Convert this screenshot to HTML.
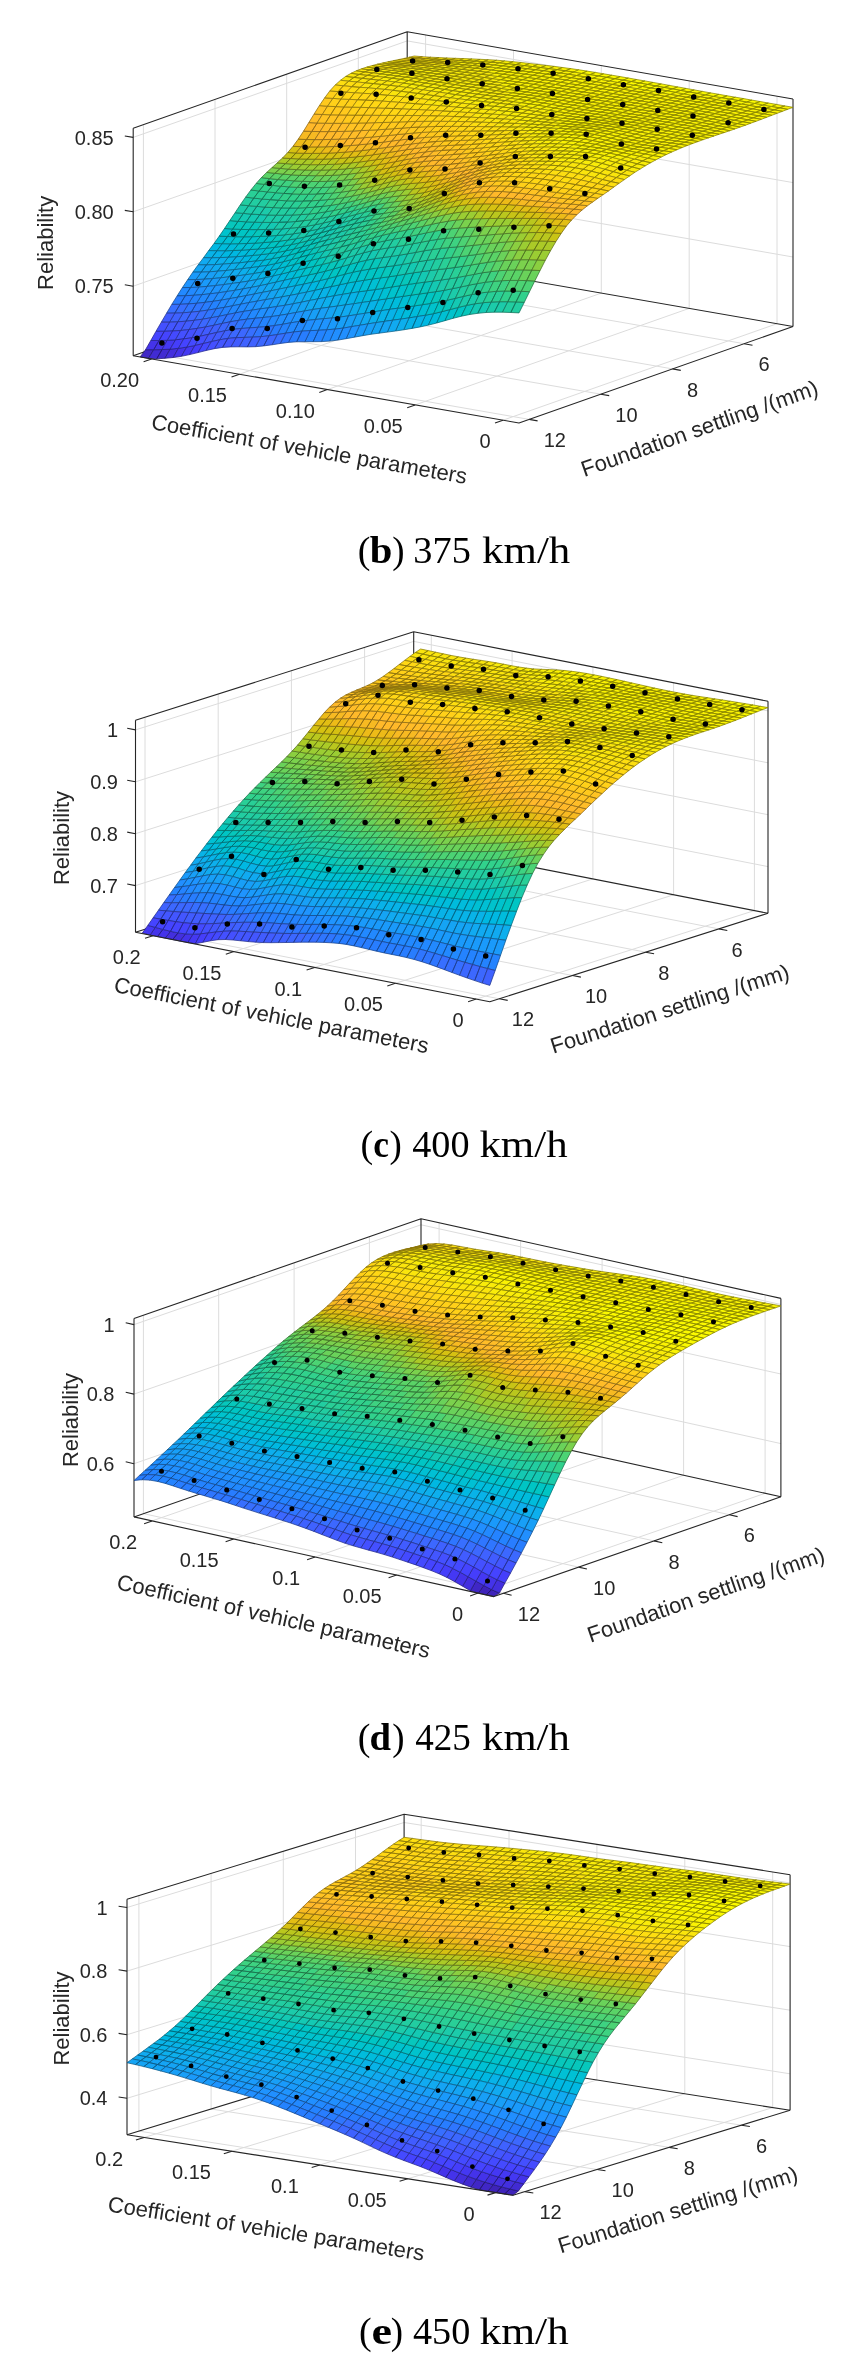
<!DOCTYPE html>
<html><head><meta charset="utf-8"><style>html,body{margin:0;padding:0;background:#fff;}svg{display:block;filter:blur(0.45px);}</style></head>
<body><svg width="848" height="2379" viewBox="0 0 848 2379" font-family="Liberation Sans, sans-serif" fill="#262626" stroke-linejoin="round">
<rect width="848" height="2379" fill="#fff"/>
<g><path d="M151.6 358.9L425.6 262.4L425.6 34.9M239.5 374.2L513.5 277.7L513.5 50.2M327.3 389.6L601.3 293.1L601.3 65.6M415.2 404.9L689.2 308.4L689.2 80.9M503 420.2L777 323.7L777 96.2M529.2 419.4L143.4 352.1L143.4 124.6M600.8 394.2L215 326.9L215 99.4M672.5 368.9L286.7 301.6L286.7 74.1M744.1 343.7L358.3 276.4L358.3 48.9M133.2 286.2L407.2 189.7L793 257M133.2 211.8L407.2 115.3L793 182.6M133.2 137.4L407.2 40.9L793 108.2" stroke="#dcdcdc" stroke-width="1" fill="none"/><path d="M133.2 355.7L133.2 128.2M407.2 259.2L407.2 31.7M793 326.5L793 99M133.2 128.2L407.2 31.7L793 99M133.2 355.7L407.2 259.2L793 326.5" stroke="#262626" stroke-width="1.1" fill="none"/><g stroke-width="0.75"><path fill="#00b8e2" stroke="#00657c" d="M428.4 325.1l-8.2 1.8 5.3-11.7 8.2-1.6zM400.8 319.1l-8.3 1.1 5.3-12 8.2-1.1zM381.3 310.7l-8.2 1.2 5.3-11.9 8.2-1.2zM361.9 302.5l-8.2 1.3 5.2-12 8.3-1.2zM342.5 294.4l-8.3 1.4 5.3-11 8.2-1.8zM334.2 295.8l-8.2 1.5 5.3-10.7 8.2-1.8zM314.8 290.4l-8.2 1.7 5.2-9.7 8.3-1.9zM295.4 285.8l-8.3 1.7 5.3-9 8.2-1.8zM284.2 280.3l-8.3 1.9 5.3-8.1 8.2-2.1zM273 276.1l-8.3 1.8 5.3-7.4 8.2-1.9zM270 270.5l-8.2 1.7 5.2-6.9 8.3-1.7zM258.8 266.6l-8.2 1.1 5.2-6.7 8.3-1zM247.6 261.9l-8.2.9 5.2-6.7 8.3-.7zM236.4 256.8l-8.2.5 5.2-6.8 8.3-.4zM228.2 257.3l-8.3.3 5.3-6.8 8.2-.3zM217 250.8l-8.3-.2 5.3-7.1 8.2.2z"/><path fill="#00bcdc" stroke="#006779" d="M436.7 323l-8.3 2.1 5.3-11.5 8.2-2zM417.2 316.6l-8.2 1.3 5.3-12 8.2-1.2zM409 317.9l-8.2 1.2 5.2-12 8.3-1.2zM397.8 308.2l-8.2 1.2 5.2-11.9 8.3-1.2zM389.6 309.4l-8.3 1.3 5.3-11.9 8.2-1.3zM378.4 300l-8.3 1.3 5.3-11.8 8.2-1.2zM370.1 301.3l-8.2 1.2 5.3-11.9 8.2-1.1zM358.9 291.8l-8.2 1.2 5.3-11.5 8.2-1.3zM350.7 293l-8.2 1.4 5.2-11.4 8.3-1.5zM323 288.5l-8.2 1.9 5.3-9.9 8.2-2zM303.6 284.2l-8.2 1.6 5.2-9.1 8.3-1.8zM292.4 278.5l-8.2 1.8 5.2-8.3 8.3-2zM281.2 274.1l-8.2 2 5.2-7.5 8.3-2.1zM278.2 268.6l-8.2 1.9 5.3-6.9 8.2-1.9zM267 265.3l-8.2 1.3 5.3-6.6 8.2-1.3zM264.1 260l-8.3 1 5.3-6.4 8.2-1zM255.8 261l-8.2.9 5.3-6.5 8.2-.8zM252.9 255.4l-8.3.7 5.3-6.5 8.2-.6zM244.6 256.1l-8.2.7 5.3-6.7 8.2-.5zM233.4 250.5l-8.2.3 5.3-7 8.2-.1zM225.2 250.8l-8.2 0 5.2-7.1 8.3.1z"/><path fill="#00c0d4" stroke="#006974" d="M444.9 320.7l-8.2 2.3 5.2-11.4 8.3-2.1zM425.5 315.2l-8.3 1.4 5.3-11.9 8.2-1.3zM406 307.1l-8.2 1.1 5.3-11.9 8.2-1.2zM386.6 298.8l-8.2 1.2 5.2-11.7 8.3-1.3zM375.4 289.5l-8.2 1.1 5.2-11.6 8.3-1.1zM367.2 290.6l-8.3 1.2 5.3-11.6 8.2-1.2zM347.7 283l-8.2 1.8 5.3-10.6 8.2-2zM339.5 284.8l-8.2 1.8 5.2-10.2 8.3-2.2zM331.3 286.6l-8.3 1.9 5.3-10 8.2-2.1zM320.1 280.5l-8.3 1.9 5.3-9.3 8.2-1.9zM311.8 282.4l-8.2 1.8 5.3-9.3 8.2-1.8zM300.6 276.7l-8.2 1.8 5.3-8.5 8.2-1.9zM297.7 270l-8.3 2 5.3-7.7 8.2-2.1zM289.4 272l-8.2 2.1 5.3-7.6 8.2-2.2zM286.5 266.5l-8.3 2.1 5.3-6.9 8.2-2.2zM283.5 261.7l-8.2 1.9 5.2-6.5 8.3-1.9zM275.3 263.6l-8.3 1.7 5.3-6.6 8.2-1.6zM272.3 258.7l-8.2 1.3 5.2-6.4 8.3-1.2zM261.1 254.6l-8.2.8 5.2-6.4 8.3-.8zM249.9 249.6l-8.2.5 5.2-6.6 8.3-.4zM241.7 250.1l-8.3.4 5.3-6.8 8.2-.2zM230.5 243.8l-8.3-.1 5.3-7.2 8.2.2zM222.2 243.7l-8.2-.2 5.3-7.4 8.2.4z"/><path fill="#00c3cd" stroke="#006b70" d="M453.1 318.3l-8.2 2.4 5.3-11.2 8.2-2.1zM433.7 313.6l-8.2 1.6 5.2-11.8 8.3-1.5zM414.3 305.9l-8.3 1.2 5.3-12 8.2-1.1zM403.1 296.3l-8.3 1.2 5.3-11.8 8.2-1.3zM394.8 297.5l-8.2 1.3 5.3-11.8 8.2-1.3zM383.6 288.3l-8.2 1.2 5.3-11.6 8.2-1.1zM364.2 280.2l-8.2 1.3 5.2-11 8.3-1.4zM356 281.5l-8.3 1.5 5.3-10.8 8.2-1.7zM328.3 278.5l-8.2 2 5.2-9.3 8.3-2.2zM308.9 274.9l-8.3 1.8 5.3-8.6 8.2-1.8zM305.9 268.1l-8.2 1.9 5.2-7.8 8.3-2zM294.7 264.3l-8.2 2.2 5.2-7 8.3-2.2zM291.7 259.5l-8.2 2.2 5.3-6.5 8.2-2.2zM288.8 255.2l-8.3 1.9 5.3-6.3 8.2-1.8zM280.5 257.1l-8.2 1.6 5.3-6.3 8.2-1.6zM277.6 252.4l-8.3 1.2 5.3-6.3 8.2-1.1zM269.3 253.6l-8.2 1 5.3-6.4 8.2-.9zM266.4 248.2l-8.3.8 5.3-6.4 8.2-.7zM258.1 249l-8.2.6 5.3-6.5 8.2-.5zM255.2 243.1l-8.3.4 5.3-6.8 8.2-.3zM246.9 243.5l-8.2.2 5.3-6.9 8.2-.1zM238.7 243.7l-8.2.1 5.2-7.1 8.3.1zM227.5 236.5l-8.2-.4 5.2-7.6 8.3.5z"/><path fill="#00c5c4" stroke="#006c6b" d="M461.4 316.2l-8.3 2.1 5.3-10.9 8.2-2zM441.9 311.6l-8.2 2 5.3-11.7 8.2-1.7zM430.7 303.4l-8.2 1.3 5.3-11.9 8.2-1.2zM422.5 304.7l-8.2 1.2 5.2-11.9 8.3-1.2zM411.3 295.1l-8.2 1.2 5.2-11.9 8.3-1.2zM400.1 285.7l-8.2 1.3 5.2-11.5 8.3-1.4zM391.9 287l-8.3 1.3 5.3-11.5 8.2-1.3zM380.7 277.9l-8.3 1.1 5.3-11.1 8.2-1.1zM372.4 279l-8.2 1.2 5.3-11.1 8.2-1.2zM361.2 270.5l-8.2 1.7 5.3-10.1 8.2-1.9zM353 272.2l-8.2 2 5.2-9.9 8.3-2.2zM344.8 274.2l-8.3 2.2 5.3-9.8 8.2-2.3zM336.5 276.4l-8.2 2.1 5.3-9.5 8.2-2.4zM325.3 271.2l-8.2 1.9 5.3-8.7 8.2-2zM317.1 273.1l-8.2 1.8 5.2-8.6 8.3-1.9zM314.1 266.3l-8.2 1.8 5.3-7.9 8.2-1.9zM311.2 260.2l-8.3 2 5.3-7.2 8.2-2.1zM302.9 262.2l-8.2 2.1 5.3-7 8.2-2.3zM308.2 255l-8.2 2.3 5.2-6.6 8.3-2.3zM300 257.3l-8.3 2.2 5.3-6.5 8.2-2.3zM305.2 250.7l-8.2 2.3 5.3-6.2 8.2-2.3zM297 253l-8.2 2.2 5.2-6.2 8.3-2.2zM294 249l-8.2 1.8 5.3-6.1 8.2-1.8zM285.8 250.8l-8.2 1.6 5.2-6.2 8.3-1.5zM282.8 246.2l-8.2 1.1 5.3-6.2 8.2-1.1zM274.6 247.3l-8.2.9 5.2-6.3 8.3-.8zM271.6 241.9l-8.2.7 5.3-6.6 8.2-.5zM263.4 242.6l-8.2.5 5.2-6.7 8.3-.4zM252.2 236.7l-8.2.1 5.2-7.2 8.3 0zM244 236.8l-8.3-.1 5.3-7.3 8.2.2zM235.7 236.7l-8.2-.2 5.3-7.5 8.2.4z"/><path fill="#07c7bc" stroke="#036d67" d="M469.6 314.5l-8.2 1.7 5.2-10.8 8.3-1.6zM450.2 309.5l-8.3 2.1 5.3-11.4 8.2-1.9zM439 301.9l-8.3 1.5 5.3-11.8 8.2-1.3zM427.8 292.8l-8.3 1.2 5.3-11.9 8.2-1zM419.5 294l-8.2 1.1 5.3-11.9 8.2-1.1zM416.6 283.2l-8.3 1.2 5.3-11.6 8.2-1.2zM408.3 284.4l-8.2 1.3 5.3-11.6 8.2-1.3zM397.1 275.5l-8.2 1.3 5.3-11.1 8.2-1.3zM388.9 276.8l-8.2 1.1 5.2-11.1 8.3-1.1zM377.7 267.9l-8.2 1.2 5.2-10.4 8.3-1.2zM369.5 269.1l-8.3 1.4 5.3-10.3 8.2-1.5zM341.8 266.6l-8.2 2.4 5.2-8.9 8.3-2.4zM333.6 269l-8.3 2.2 5.3-8.8 8.2-2.3zM322.4 264.4l-8.3 1.9 5.3-8 8.2-2zM319.4 258.3l-8.2 1.9 5.2-7.3 8.3-2zM316.4 252.9l-8.2 2.1 5.3-6.6 8.2-2.2zM313.5 248.4l-8.3 2.3 5.3-6.2 8.2-2.3zM318.7 242.2l-8.2 2.3 5.3-5.9 8.2-2.3zM310.5 244.5l-8.2 2.3 5.2-6 8.3-2.2zM302.3 246.8l-8.3 2.2 5.3-6.1 8.2-2.1zM299.3 242.9l-8.2 1.8 5.2-6 8.3-1.7zM291.1 244.7l-8.3 1.5 5.3-6.2 8.2-1.3zM279.9 241.1l-8.3.8 5.3-6.4 8.2-.7zM268.7 236l-8.3.4 5.3-6.9 8.2-.2zM260.4 236.4l-8.2.3 5.3-7.1 8.2-.1zM257.5 229.6l-8.3 0 5.3-7.4 8.2.2zM249.2 229.6l-8.2-.2 5.3-7.6 8.2.4zM241 229.4l-8.2-.4 5.2-7.7 8.3.5zM232.8 229l-8.3-.5 5.3-7.9 8.2.7z"/><path fill="#08b3e8" stroke="#04627f" d="M420.2 326.9l-8.2 1.5 5.2-11.8 8.3-1.4zM412 328.4l-8.3 1.4 5.3-11.9 8.2-1.3zM392.5 320.2l-8.2 1.2 5.3-12 8.2-1.2zM384.3 321.4l-8.2 1.2 5.2-11.9 8.3-1.3zM373.1 311.9l-8.2 1.4 5.2-12 8.3-1.3zM364.9 313.3l-8.3 1.3 5.3-12.1 8.2-1.2zM353.7 303.8l-8.3 1.1 5.3-11.9 8.2-1.2zM345.4 304.9l-8.2 1.2 5.3-11.7 8.2-1.4zM326 297.3l-8.2 1.6 5.2-10.4 8.3-1.9zM317.8 298.9l-8.3 1.6 5.3-10.1 8.2-1.9zM306.6 292.1l-8.3 1.7 5.3-9.6 8.2-1.8zM298.3 293.8l-8.2 1.6 5.3-9.6 8.2-1.6zM287.1 287.5l-8.2 1.6 5.3-8.8 8.2-1.8zM275.9 282.2l-8.2 1.8 5.3-7.9 8.2-2zM264.7 277.9l-8.2 1.7 5.3-7.4 8.2-1.7zM261.8 272.2l-8.3 1.4 5.3-7 8.2-1.3zM253.5 273.6l-8.2 1.2 5.3-7.1 8.2-1.1zM250.6 267.7l-8.3 1 5.3-6.8 8.2-.9zM242.3 268.7l-8.2 1 5.3-6.9 8.2-.9zM239.4 262.8l-8.3.7 5.3-6.7 8.2-.7zM231.1 263.5l-8.2.6 5.3-6.8 8.2-.5zM219.9 257.6l-8.2.2 5.3-7 8.2 0zM211.7 257.8l-8.2-.1 5.2-7.1 8.3.2z"/><path fill="#0dafed" stroke="#076082" d="M403.7 329.8l-8.2 1.2 5.3-11.9 8.2-1.2zM376.1 322.6l-8.3 1.3 5.3-12 8.2-1.2zM356.6 314.6l-8.2 1.3 5.3-12.1 8.2-1.3zM337.2 306.1l-8.2 1.1 5.2-11.4 8.3-1.4zM329 307.2l-8.3 1.1 5.3-11 8.2-1.5zM309.5 300.5l-8.2 1.7 5.3-10.1 8.2-1.7zM290.1 295.4l-8.2 1.5 5.2-9.4 8.3-1.7zM278.9 289.1l-8.2 1.7 5.2-8.6 8.3-1.9zM267.7 284l-8.2 1.8 5.2-7.9 8.3-1.8zM256.5 279.6l-8.2 1.5 5.2-7.5 8.3-1.4zM245.3 274.8l-8.2 1.1 5.2-7.2 8.3-1zM234.1 269.7l-8.2.8 5.2-7 8.3-.7zM222.9 264.1l-8.2.5 5.2-7 8.3-.3zM214.7 264.6l-8.3.3 5.3-7.1 8.2-.2z"/><path fill="#11aaf1" stroke="#095d84" d="M395.5 331l-8.2 1.1 5.2-11.9 8.3-1.1zM367.8 323.9l-8.2 1.4 5.3-12 8.2-1.4zM348.4 315.9l-8.2 1.1 5.2-12.1 8.3-1.1zM340.2 317l-8.3 1 5.3-11.9 8.2-1.2zM320.7 308.3l-8.2 1.3 5.3-10.7 8.2-1.6zM312.5 309.6l-8.2 1.4 5.2-10.5 8.3-1.6zM301.3 302.2l-8.2 1.6 5.2-10 8.3-1.7zM281.9 296.9l-8.3 1.4 5.3-9.2 8.2-1.6zM270.7 290.8l-8.3 1.6 5.3-8.4 8.2-1.8zM259.5 285.8l-8.3 1.6 5.3-7.8 8.2-1.7zM248.3 281.1l-8.3 1.3 5.3-7.6 8.2-1.2zM237.1 275.9l-8.3 1 5.3-7.2 8.2-1zM228.8 276.9l-8.2.9 5.3-7.3 8.2-.8zM225.9 270.5l-8.3.7 5.3-7.1 8.2-.6zM217.6 271.2l-8.2.6 5.3-7.2 8.2-.5zM206.4 264.9l-8.2-.1 5.3-7.1 8.2.1z"/><path fill="#14c9b3" stroke="#0b6e62" d="M486.1 312.5l-8.3.8 5.3-10.6 8.2-.7zM477.8 313.3l-8.2 1.2 5.3-10.7 8.2-1.1zM458.4 307.4l-8.2 2.1 5.2-11.2 8.3-2zM447.2 300.2l-8.2 1.7 5.2-11.6 8.3-1.6zM436 291.6l-8.2 1.2 5.2-11.7 8.3-1.1zM424.8 282.1l-8.2 1.1 5.2-11.6 8.3-1.1zM413.6 272.8l-8.2 1.3 5.2-11.1 8.3-1.4zM405.4 274.1l-8.3 1.4 5.3-11.1 8.2-1.4zM402.4 264.4l-8.2 1.3 5.2-10.5 8.3-1.4zM394.2 265.7l-8.3 1.1 5.3-10.4 8.2-1.2zM385.9 266.8l-8.2 1.1 5.3-10.4 8.2-1.1zM374.7 258.7l-8.2 1.5 5.3-9.4 8.2-1.6zM366.5 260.2l-8.2 1.9 5.2-9.3 8.3-2zM358.3 262.1l-8.3 2.2 5.3-9.1 8.2-2.4zM350 264.3l-8.2 2.3 5.3-8.9 8.2-2.5zM330.6 262.4l-8.2 2 5.2-8.1 8.3-2zM327.6 256.3l-8.2 2 5.3-7.4 8.2-1.9zM324.7 250.9l-8.3 2 5.3-6.7 8.2-2zM329.9 244.2l-8.2 2 5.3-6.2 8.2-2.1zM321.7 246.2l-8.2 2.2 5.2-6.2 8.3-2.2zM327 240l-8.3 2.2 5.3-5.9 8.2-2.3zM332.2 234l-8.2 2.3 5.3-5.8 8.2-2.3zM337.5 228.2l-8.2 2.3 5.2-5.7 8.3-2.3zM324 236.3l-8.2 2.3 5.2-5.8 8.3-2.3zM329.3 230.5l-8.3 2.3 5.3-5.8 8.2-2.2zM315.8 238.6l-8.3 2.2 5.3-5.8 8.2-2.2zM321 232.8l-8.2 2.2 5.3-5.9 8.2-2.1zM307.5 240.8l-8.2 2.1 5.3-5.9 8.2-2zM312.8 235l-8.2 2 5.2-6.1 8.3-1.8zM296.3 238.7l-8.2 1.3 5.3-6.2 8.2-1.3zM288.1 240l-8.2 1.1 5.2-6.3 8.3-1zM285.1 234.8l-8.2.7 5.3-6.6 8.2-.7zM276.9 235.5l-8.2.5 5.2-6.7 8.3-.4zM273.9 229.3l-8.2.2 5.3-7.1 8.2-.1zM265.7 229.5l-8.2.1 5.2-7.2 8.3 0zM262.7 222.4l-8.2-.2 5.3-7.6 8.2.4zM254.5 222.2l-8.2-.4 5.2-7.7 8.3.5zM246.3 221.8l-8.3-.5 5.3-7.9 8.2.7zM238 221.3l-8.2-.7 5.3-7.9 8.2.7z"/><path fill="#15a4f4" stroke="#0b5a86" d="M387.3 332.1l-8.3 1.1 5.3-11.8 8.2-1.2zM379 333.2l-8.2 1.1 5.3-11.7 8.2-1.2zM359.6 325.3l-8.2 1.4 5.2-12.1 8.3-1.3zM331.9 318l-8.2.7 5.3-11.5 8.2-1.1zM304.3 311l-8.3 1.5 5.3-10.3 8.2-1.7zM293.1 303.8l-8.3 1.5 5.3-9.9 8.2-1.6zM284.8 305.3l-8.2 1.3 5.3-9.7 8.2-1.5zM273.6 298.3l-8.2 1.4 5.3-8.9 8.2-1.7zM262.4 292.4l-8.2 1.6 5.3-8.2 8.2-1.8zM251.2 287.4l-8.2 1.5 5.3-7.8 8.2-1.5zM240 282.4l-8.2 1.1 5.3-7.6 8.2-1.1zM231.8 283.5l-8.2 1.1 5.2-7.7 8.3-1zM220.6 277.8l-8.2.8 5.2-7.4 8.3-.7zM209.4 271.8l-8.2.3 5.2-7.2 8.3-.3zM201.2 272.1l-8.3 0 5.3-7.3 8.2.1z"/><path fill="#189ff7" stroke="#0d5787" d="M370.8 334.3l-8.2 1.4 5.2-11.8 8.3-1.3zM351.4 326.7l-8.3 1.4 5.3-12.2 8.2-1.3zM343.1 328.1l-8.2 1 5.3-12.1 8.2-1.1zM323.7 318.7l-8.3.8 5.3-11.2 8.3-1.1zM315.4 319.5l-8.2.9 5.3-10.8 8.2-1.3zM296 312.5l-8.2 1.5 5.3-10.2 8.2-1.6zM276.6 306.6l-8.3 1.2 5.3-9.5 8.3-1.4zM265.4 299.7l-8.3 1.4 5.3-8.7 8.3-1.6zM254.2 294l-8.2 1.7 5.2-8.3 8.3-1.6zM243 288.9l-8.2 1.4 5.2-7.9 8.3-1.3zM234.8 290.3l-8.3 1.3 5.3-8.1 8.2-1.1zM223.6 284.6l-8.3 1 5.3-7.8 8.2-.9zM212.4 278.6l-8.3.6 5.3-7.4 8.2-.6zM204.1 279.2l-8.2.4 5.3-7.5 8.2-.3z"/><path fill="#1a9afb" stroke="#0e548a" d="M362.6 335.7l-8.3 1.5 5.3-11.9 8.2-1.4zM334.9 329.1l-8.3.7 5.3-11.8 8.3-1zM307.2 320.4l-8.2 1.1 5.3-10.5 8.2-1.4zM287.8 314l-8.3 1.4 5.3-10.1 8.3-1.5zM268.3 307.8l-8.2 1.1 5.3-9.2 8.2-1.4zM257.1 301.1l-8.2 1.5 5.3-8.6 8.2-1.6zM246 295.7l-8.3 1.5 5.3-8.3 8.2-1.5zM237.7 297.2l-8.2 1.5 5.3-8.4 8.2-1.4zM226.5 291.6l-8.2 1.2 5.3-8.2 8.2-1.1zM215.3 285.6l-8.2.8 5.3-7.8 8.2-.8zM207.1 286.4l-8.3.7 5.3-7.9 8.3-.6zM195.9 279.6l-8.2.1 5.2-7.6 8.3 0z"/><path fill="#1ccbaa" stroke="#0f6f5d" d="M502.5 312.2l-8.2 0 5.3-10.5 8.2 0zM494.3 312.2l-8.2.3 5.2-10.5 8.3-.3zM474.9 303.8l-8.3 1.6 5.3-10.9 8.2-1.5zM466.6 305.4l-8.2 2 5.3-11.1 8.2-1.8zM455.4 298.3l-8.2 1.9 5.3-11.5 8.2-1.7zM444.2 290.3l-8.2 1.3 5.3-11.6 8.2-1.2zM433 281.1l-8.2 1 5.3-11.6 8.2-1zM430.1 270.5l-8.3 1.1 5.3-11.3 8.2-1.1zM421.8 271.6l-8.2 1.2 5.3-11.2 8.2-1.3zM410.6 263l-8.2 1.4 5.3-10.6 8.2-1.5zM399.4 255.2l-8.2 1.2 5.3-9.8 8.2-1.3zM391.2 256.4l-8.2 1.1 5.2-9.6 8.3-1.3zM383 257.5l-8.3 1.2 5.3-9.5 8.2-1.3zM371.8 250.8l-8.3 2 5.3-8.2 8.2-2.1zM363.5 252.8l-8.2 2.4 5.3-8.2 8.2-2.4zM355.3 255.2l-8.2 2.5 5.2-8.2 8.3-2.5zM347.1 257.7l-8.3 2.4 5.3-8.1 8.2-2.5zM338.8 260.1l-8.2 2.3 5.3-8.1 8.2-2.3zM335.9 254.3l-8.3 2 5.3-7.3 8.2-2.1zM332.9 249l-8.2 1.9 5.2-6.7 8.3-2zM338.2 242.2l-8.3 2 5.3-6.3 8.2-2.1zM343.4 235.8l-8.2 2.1 5.3-6.1 8.2-2.1zM335.2 237.9l-8.2 2.1 5.2-6 8.3-2.2zM340.5 231.8l-8.3 2.2 5.3-5.8 8.2-2.2zM345.7 226l-8.2 2.2 5.3-5.7 8.2-2.3zM342.8 222.5l-8.3 2.3 5.3-5.9 8.2-2.3zM334.5 224.8l-8.2 2.2 5.3-5.9 8.2-2.2zM326.3 227l-8.2 2.1 5.2-6.1 8.3-1.9zM318.1 229.1l-8.3 1.8 5.3-6.1 8.2-1.8zM304.6 237l-8.3 1.7 5.3-6.2 8.2-1.6zM309.8 230.9l-8.2 1.6 5.3-6.3 8.2-1.4zM301.6 232.5l-8.2 1.3 5.2-6.4 8.3-1.2zM293.4 233.8l-8.3 1 5.3-6.6 8.2-.8zM290.4 228.2l-8.2.7 5.2-6.9 8.3-.5zM282.2 228.9l-8.3.4 5.3-7 8.2-.3zM287.4 222l-8.2.3 5.3-7.1 8.2-.2zM279.2 222.3l-8.2.1 5.2-7.2 8.3 0zM271 222.4l-8.3 0 5.3-7.4 8.2.2zM268 215l-8.2-.4 5.2-7.5 8.3.5zM259.8 214.6l-8.3-.5 5.3-7.7 8.2.7zM251.5 214.1l-8.2-.7 5.3-7.7 8.2.7zM243.3 213.4l-8.2-.7 5.2-7.9 8.3.9z"/><path fill="#1f94ff" stroke="#11518c" d="M354.3 337.2l-8.2 1.5 5.3-12 8.2-1.4zM326.6 329.8l-8.2.5 5.3-11.6 8.2-.7zM318.4 330.3l-8.2.3 5.2-11.1 8.3-.8zM299 321.5l-8.3 1.3 5.3-10.3 8.3-1.5zM279.5 315.4l-8.2 1.2 5.3-10 8.2-1.3zM260.1 308.9l-8.2 1.2 5.2-9 8.3-1.4zM248.9 302.6l-8.2 1.6 5.3-8.5 8.2-1.7zM240.7 304.2l-8.3 1.6 5.3-8.6 8.3-1.5zM229.5 298.7l-8.3 1.4 5.3-8.5 8.3-1.3zM218.3 292.8l-8.3 1 5.3-8.2 8.3-1zM210 293.8l-8.2.9 5.3-8.3 8.2-.8zM198.8 287.1l-8.2.4 5.3-7.9 8.2-.4zM190.6 287.5l-8.2.1 5.3-7.9 8.2-.1z"/><path fill="#218fff" stroke="#124e8c" d="M346.1 338.7l-8.3 1.4 5.3-12 8.3-1.4zM337.8 340.1l-8.2 1 5.3-12 8.2-1zM310.2 330.6l-8.3.5 5.3-10.7 8.2-.9zM290.7 322.8l-8.2 1.5 5.3-10.3 8.2-1.5zM282.5 324.3l-8.2 1.3 5.2-10.2 8.3-1.4zM271.3 316.6l-8.2.9 5.2-9.7 8.3-1.2zM263.1 317.5l-8.3.8 5.3-9.4 8.2-1.1zM251.9 310.1l-8.3 1.3 5.3-8.8 8.2-1.5zM232.4 305.8l-8.2 1.6 5.3-8.7 8.2-1.5zM221.2 300.1l-8.2 1.2 5.3-8.5 8.2-1.2zM201.8 294.7l-8.2.6 5.2-8.2 8.3-.7z"/><path fill="#2289ff" stroke="#124b8c" d="M329.6 341.1l-8.2.5 5.2-11.8 8.3-.7zM301.9 331.1l-8.2.9 5.3-10.5 8.2-1.1zM293.7 332l-8.2 1.2 5.2-10.4 8.3-1.3zM274.3 325.6l-8.3 1 5.3-10 8.2-1.2zM254.8 318.3l-8.2.9 5.3-9.1 8.2-1.2zM243.6 311.4l-8.2 1.5 5.3-8.7 8.2-1.6zM235.4 312.9l-8.2 1.7 5.2-8.8 8.3-1.6zM224.2 307.4l-8.2 1.4 5.2-8.7 8.3-1.4zM213 301.3l-8.2 1.1 5.2-8.6 8.3-1zM204.8 302.4l-8.3.9 5.3-8.6 8.2-.9zM193.6 295.3l-8.3.4 5.3-8.2 8.2-.4zM185.3 295.7l-8.2.2 5.3-8.3 8.2-.1z"/><path fill="#22cda1" stroke="#127058" d="M519 312.9l-8.2-.4 5.2-10.6 8.3.4zM510.8 312.5l-8.3-.3 5.3-10.5 8.2.2zM483.1 302.7l-8.2 1.1 5.2-10.8 8.3-1zM463.7 296.3l-8.3 2 5.3-11.3 8.2-1.8zM460.7 287l-8.2 1.7 5.2-11.3 8.3-1.5zM452.5 288.7l-8.3 1.6 5.3-11.5 8.2-1.4zM449.5 278.8l-8.2 1.2 5.2-11.4 8.3-1.1zM441.3 280l-8.3 1.1 5.3-11.6 8.2-.9zM438.3 269.5l-8.2 1 5.2-11.3 8.3-.9zM427.1 260.3l-8.2 1.3 5.2-10.8 8.3-1.3zM418.9 261.6l-8.3 1.4 5.3-10.7 8.2-1.5zM415.9 252.3l-8.2 1.5 5.2-10 8.3-1.6zM407.7 253.8l-8.3 1.4 5.3-9.9 8.2-1.5zM396.5 246.6l-8.3 1.3 5.3-8.7 8.2-1.4zM388.2 247.9l-8.2 1.3 5.3-8.4 8.2-1.6zM380 249.2l-8.2 1.6 5.2-8.3 8.3-1.7zM360.6 247l-8.3 2.5 5.3-7.2 8.2-2.5zM352.3 249.5l-8.2 2.5 5.3-7.3 8.2-2.4zM344.1 252l-8.2 2.3 5.2-7.4 8.3-2.2zM349.4 244.7l-8.3 2.2 5.3-6.8 8.2-2.1zM341.1 246.9l-8.2 2.1 5.3-6.8 8.2-2.1zM346.4 240.1l-8.2 2.1 5.2-6.4 8.3-2zM351.7 233.8l-8.3 2 5.3-6.1 8.2-1.9zM356.9 227.8l-8.2 1.9 5.3-5.8 8.2-2zM362.2 221.9l-8.2 2 5.2-5.8 8.3-1.9zM348.7 229.7l-8.2 2.1 5.2-5.8 8.3-2.1zM354 223.9l-8.3 2.1 5.3-5.8 8.2-2.1zM359.2 218.1l-8.2 2.1 5.3-5.9 8.2-2.1zM351 220.2l-8.2 2.3 5.2-5.9 8.3-2.3zM348 216.6l-8.2 2.3 5.3-6 8.2-2.2zM339.8 218.9l-8.2 2.2 5.2-6.1 8.3-2.1zM331.6 221.1l-8.3 1.9 5.3-6.2 8.2-1.8zM323.3 223l-8.2 1.8 5.3-6.4 8.2-1.6zM315.1 224.8l-8.2 1.4 5.2-6.5 8.3-1.3zM306.9 226.2l-8.3 1.2 5.3-6.7 8.2-1zM298.6 227.4l-8.2.8 5.3-6.7 8.2-.8zM303.9 220.7l-8.2.8 5.2-6.9 8.3-.6zM295.7 221.5l-8.3.5 5.3-7 8.2-.4zM292.7 215l-8.2.2 5.2-7.2 8.3 0zM284.5 215.2l-8.3 0 5.3-7.3 8.2.1zM276.2 215.2l-8.2-.2 5.3-7.4 8.2.3zM265 207.1l-8.2-.7 5.3-7.4 8.2.7zM256.8 206.4l-8.2-.7 5.2-7.6 8.3.9zM248.6 205.7l-8.3-.9 5.3-7.6 8.2.9z"/><path fill="#2483ff" stroke="#13488c" d="M321.4 341.6l-8.3.1 5.3-11.4 8.2-.5zM313.1 341.7l-8.2 0 5.3-11.1 8.2-.3zM285.5 333.2l-8.3 1.4 5.3-10.3 8.2-1.5zM266 326.6l-8.2.7 5.3-9.8 8.2-.9zM246.6 319.2l-8.2 1.2 5.2-9 8.3-1.3zM227.2 314.6l-8.3 1.7 5.3-8.9 8.2-1.6zM216 308.8l-8.3 1.3 5.3-8.8 8.2-1.2zM196.5 303.3l-8.2.6 5.3-8.6 8.2-.6z"/><path fill="#287dff" stroke="#16448c" d="M304.9 341.7l-8.2.1 5.2-10.7 8.3-.5zM296.7 341.8l-8.3.6 5.3-10.4 8.2-.9zM277.2 334.6l-8.2 1.2 5.3-10.2 8.2-1.3zM257.8 327.3l-8.2.6 5.2-9.6 8.3-.8zM249.6 327.9l-8.3.6 5.3-9.3 8.2-.9zM238.4 320.4l-8.3 1.4 5.3-8.9 8.2-1.5zM218.9 316.3l-8.2 1.5 5.3-9 8.2-1.4zM207.7 310.1l-8.2 1.2 5.3-8.9 8.2-1.1zM188.3 303.9l-8.2.4 5.2-8.6 8.3-.4zM180.1 304.3l-8.3.1 5.3-8.5 8.2-.2z"/><path fill="#29cf97" stroke="#167153" d="M499.6 301.7l-8.3.3 5.3-10.7 8.2-.3zM491.3 302l-8.2.7 5.3-10.7 8.2-.7zM480.1 293l-8.2 1.5 5.3-10.9 8.2-1.4zM471.9 294.5l-8.2 1.8 5.2-11.1 8.3-1.6zM468.9 285.2l-8.2 1.8 5.3-11.1 8.2-1.6zM457.7 277.4l-8.2 1.4 5.3-11.3 8.2-1.2zM446.5 268.6l-8.2.9 5.3-11.2 8.2-.8zM443.6 258.3l-8.3.9 5.3-10.8 8.2-.8zM435.3 259.2l-8.2 1.1 5.3-10.8 8.2-1.1zM432.4 249.5l-8.3 1.3 5.3-10.1 8.2-1.4zM424.1 250.8l-8.2 1.5 5.3-10.1 8.2-1.5zM421.2 242.2l-8.3 1.6 5.3-9.2 8.2-1.7zM412.9 243.8l-8.2 1.5 5.3-9 8.2-1.7zM404.7 245.3l-8.2 1.3 5.2-8.8 8.3-1.5zM393.5 239.2l-8.2 1.6 5.2-7.4 8.3-1.8zM385.3 240.8l-8.3 1.7 5.3-7.2 8.2-1.9zM377 242.5l-8.2 2.1 5.3-7.1 8.2-2.2zM368.8 244.6l-8.2 2.4 5.2-7.2 8.3-2.3zM365.8 239.8l-8.2 2.5 5.3-6.6 8.2-2.2zM357.6 242.3l-8.2 2.4 5.2-6.7 8.3-2.3zM362.9 235.7l-8.3 2.3 5.3-6.2 8.2-2.1zM354.6 238l-8.2 2.1 5.3-6.3 8.2-2zM359.9 231.8l-8.2 2 5.2-6 8.3-1.9zM365.2 225.9l-8.3 1.9 5.3-5.9 8.2-1.7zM370.4 220.2l-8.2 1.7 5.3-5.7 8.2-1.6zM367.5 216.2l-8.3 1.9 5.3-5.9 8.3-1.9zM356.3 214.3l-8.3 2.3 5.3-5.9 8.3-2.3zM328.6 216.8l-8.2 1.6 5.2-6.5 8.3-1.5zM320.4 218.4l-8.3 1.3 5.3-6.6 8.2-1.2zM312.1 219.7l-8.2 1 5.3-6.7 8.2-.9zM309.2 214l-8.3.6 5.3-6.9 8.3-.6zM300.9 214.6l-8.2.4 5.3-7 8.2-.3zM298 208l-8.3 0 5.3-7 8.3 0zM289.7 208l-8.2-.1 5.3-7.1 8.2.2zM281.5 207.9l-8.2-.3 5.2-7.3 8.3.5zM273.3 207.6l-8.3-.5 5.3-7.4 8.2.6zM278.5 200.3l-8.2-.6 5.3-7 8.2.7zM270.3 199.7l-8.2-.7 5.2-7.1 8.3.8zM262.1 199l-8.3-.9 5.3-7.1 8.2.9zM253.8 198.1l-8.2-.9 5.3-7.2 8.2 1z"/><path fill="#2f76ff" stroke="#19408c" d="M288.4 342.4l-8.2 1.1 5.3-10.3 8.2-1.2zM269 335.8l-8.2.9 5.2-10.1 8.3-1zM260.8 336.7l-8.3.4 5.3-9.8 8.2-.7zM241.3 328.5l-8.2.9 5.3-9 8.2-1.2zM230.1 321.8l-8.2 1.7 5.3-8.9 8.2-1.7zM221.9 323.5l-8.2 1.8 5.2-9 8.3-1.7zM210.7 317.8l-8.2 1.4 5.2-9.1 8.3-1.3zM199.5 311.3l-8.2.8 5.2-8.8 8.3-.9zM191.3 312.1l-8.3.7 5.3-8.9 8.2-.6z"/><path fill="#31d18c" stroke="#1a724d" d="M524.3 302.3l-8.3-.4 5.3-10.6 8.2.4zM516 301.9l-8.2-.2 5.3-10.7 8.2.3zM507.8 301.7l-8.2 0 5.2-10.7 8.3 0zM488.4 292l-8.3 1 5.3-10.8 8.2-.9zM477.2 283.6l-8.3 1.6 5.3-10.9 8.2-1.5zM466 275.9l-8.3 1.5 5.3-11.1 8.2-1.3zM463 266.3l-8.2 1.2 5.2-10.9 8.3-1zM454.8 267.5l-8.3 1.1 5.3-11.1 8.2-.9zM451.8 257.5l-8.2.8 5.2-10.7 8.3-.7zM440.6 248.4l-8.2 1.1 5.2-10.2 8.3-1.1zM437.6 239.3l-8.2 1.4 5.3-9.5 8.2-1.4zM429.4 240.7l-8.2 1.5 5.2-9.3 8.3-1.7zM410 236.3l-8.3 1.5 5.3-7.9 8.2-1.8zM401.7 237.8l-8.2 1.4 5.3-7.6 8.2-1.7zM382.3 235.3l-8.2 2.2 5.2-6.3 8.3-2.2zM374.1 237.5l-8.3 2.3 5.3-6.3 8.2-2.3zM371.1 233.5l-8.2 2.2 5.2-6 8.3-2zM368.1 229.7l-8.2 2.1 5.3-5.9 8.2-1.8zM373.4 224.1l-8.2 1.8 5.2-5.7 8.3-1.5zM375.7 214.6l-8.2 1.6 5.3-5.9 8.2-1.5zM372.8 210.3l-8.3 1.9 5.3-6 8.2-1.9zM364.5 212.2l-8.2 2.1 5.3-5.9 8.2-2.2zM353.3 210.7l-8.2 2.2 5.3-6.1 8.2-2.2zM345.1 212.9l-8.3 2.1 5.3-6.3 8.3-1.9zM336.8 215l-8.2 1.8 5.3-6.4 8.2-1.7zM333.9 210.4l-8.3 1.5 5.3-6.6 8.3-1.3zM325.6 211.9l-8.2 1.2 5.3-6.8 8.2-1zM317.4 213.1l-8.2.9 5.3-6.9 8.2-.8zM322.7 206.3l-8.2.8 5.2-6.8 8.3-.7zM314.5 207.1l-8.3.6 5.3-6.9 8.2-.5zM306.2 207.7l-8.2.3 5.3-7 8.2-.2zM311.5 200.8l-8.2.2 5.2-6.8 8.3-.2zM303.3 201l-8.3 0 5.3-6.8 8.2 0zM295 201l-8.2-.2 5.3-6.9 8.2.3zM286.8 200.8l-8.3-.5 5.3-6.9 8.3.5zM292.1 193.9l-8.3-.5 5.3-6.5 8.2.5zM283.8 193.4l-8.2-.7 5.3-6.5 8.2.7zM275.6 192.7l-8.3-.8 5.3-6.5 8.3.8zM267.3 191.9l-8.2-.9 5.3-6.6 8.2 1zM259.1 191l-8.2-1 5.3-6.6 8.2 1z"/><path fill="#376fff" stroke="#1e3d8c" d="M280.2 343.5l-8.2 1.3 5.2-10.2 8.3-1.4zM252.5 337.1l-8.2.3 5.3-9.5 8.2-.6zM233.1 329.4l-8.2 1.4 5.2-9 8.3-1.4zM213.7 325.3l-8.3 1.7 5.3-9.2 8.2-1.5zM202.5 319.2l-8.3 1.1 5.3-9 8.2-1.2zM183 312.8l-8.2.3 5.3-8.8 8.2-.4zM174.8 313.1l-8.2.1 5.2-8.8 8.3-.1z"/><path fill="#3c68ff" stroke="#21398c" d="M272 344.8l-8.3 1.1 5.3-10.1 8.2-1.2zM263.7 345.9l-8.2.8 5.3-10 8.2-.9zM244.3 337.4l-8.2.3 5.2-9.2 8.3-.6zM236.1 337.7l-8.3.7 5.3-9 8.2-.9zM224.9 330.8l-8.3 1.7 5.3-9 8.2-1.7zM205.4 327l-8.2 1.4 5.3-9.2 8.2-1.4zM194.2 320.3l-8.2.9 5.3-9.1 8.2-.8zM186 321.2l-8.2.6 5.2-9 8.3-.7z"/><path fill="#3ed281" stroke="#227346" d="M504.8 291l-8.2.3 5.3-10.6 8.2-.3zM496.6 291.3l-8.2.7 5.2-10.7 8.3-.6zM493.6 281.3l-8.2.9 5.3-10.6 8.2-.9zM485.4 282.2l-8.2 1.4 5.2-10.8 8.3-1.2zM482.4 272.8l-8.2 1.5 5.3-10.7 8.2-1.3zM474.2 274.3l-8.2 1.6 5.2-10.9 8.3-1.4zM471.2 265l-8.2 1.3 5.3-10.7 8.2-1.1zM460 256.6l-8.2.9 5.3-10.6 8.2-.8zM457.1 246.9l-8.3.7 5.3-10.1 8.2-.7zM448.8 247.6l-8.2.8 5.3-10.2 8.2-.7zM445.9 238.2l-8.3 1.1 5.3-9.5 8.2-1zM426.4 232.9l-8.2 1.7 5.3-8.4 8.2-1.9zM418.2 234.6l-8.2 1.7 5.2-8.2 8.3-1.9zM398.8 231.6l-8.3 1.8 5.3-6.5 8.2-2zM390.5 233.4l-8.2 1.9 5.3-6.3 8.2-2.1zM379.3 231.2l-8.2 2.3 5.3-5.8 8.2-2.1zM376.4 227.7l-8.3 2 5.3-5.6 8.2-1.8zM381.6 222.3l-8.2 1.8 5.3-5.4 8.2-1.5zM378.7 218.7l-8.3 1.5 5.3-5.6 8.2-1.3zM383.9 213.3l-8.2 1.3 5.3-5.8 8.2-1.2zM381 208.8l-8.2 1.5 5.2-6 8.3-1.4zM361.6 208.4l-8.3 2.3 5.3-6.1 8.2-2.3zM350.4 206.8l-8.3 1.9 5.3-6.3 8.2-1.9zM342.1 208.7l-8.2 1.7 5.3-6.4 8.2-1.6zM330.9 205.3l-8.2 1 5.3-6.7 8.2-.9zM328 199.6l-8.3.7 5.3-6.7 8.2-.6zM319.7 200.3l-8.2.5 5.3-6.8 8.2-.4zM325 193.6l-8.2.4 5.2-6.5 8.3-.4zM316.8 194l-8.3.2 5.3-6.5 8.2-.2zM308.5 194.2l-8.2 0 5.3-6.6 8.2.1zM300.3 194.2l-8.2-.3 5.2-6.5 8.3.2zM289.1 186.9l-8.2-.7 5.2-6 8.3.7zM280.9 186.2l-8.3-.8 5.3-5.9 8.2.7zM272.6 185.4l-8.2-1 5.3-5.8 8.2.9zM264.4 184.4l-8.2-1 5.2-5.8 8.3 1z"/><path fill="#3f62ff" stroke="#22358c" d="M255.5 346.7l-8.2.2 5.2-9.8 8.3-.4zM247.3 346.9l-8.3-.1 5.3-9.4 8.2-.3zM227.8 338.4l-8.2 1.4 5.3-9 8.2-1.4zM216.6 332.5l-8.2 1.9 5.3-9.1 8.2-1.8zM197.2 328.4l-8.2 1.2 5.2-9.3 8.3-1.1zM177.8 321.8l-8.3.4 5.3-9.1 8.2-.3z"/><path fill="#4027c6" stroke="#23156c" d="M148.5 358.4l-8.3-1.5 5.3-7.2 8.2 0z"/><path fill="#412bd2" stroke="#231773" d="M164.9 358.3l-8.2.5 5.3-9.2 8.2-.5zM156.7 358.8l-8.2-.4 5.2-8.7 8.3-.1z"/><path fill="#415cff" stroke="#23328c" d="M239 346.8l-8.2.1 5.3-9.2 8.2-.3zM219.6 339.8l-8.2 1.8 5.2-9.1 8.3-1.7zM208.4 334.4l-8.2 1.8 5.2-9.2 8.3-1.7zM189 329.6l-8.3.9 5.3-9.3 8.2-.9zM169.5 322.2l-8.2 0 5.3-9 8.2-.1z"/><path fill="#432fde" stroke="#24197a" d="M173.2 357.5l-8.3.8 5.3-9.2 8.2-.8z"/><path fill="#4356ff" stroke="#242f8c" d="M230.8 346.9l-8.2.5 5.2-9 8.3-.7zM222.6 347.4l-8.3 1.3 5.3-8.9 8.2-1.4zM211.4 341.6l-8.3 2 5.3-9.2 8.2-1.9zM200.2 336.2l-8.3 1.6 5.3-9.4 8.2-1.4zM180.7 330.5l-8.2.5 5.3-9.2 8.2-.6zM172.5 331l-8.2.3 5.2-9.1 8.3-.4z"/><path fill="#4433ea" stroke="#251c80" d="M181.4 356.3l-8.2 1.2 5.2-9.2 8.3-1.2zM162 349.6l-8.3.1 5.3-9.2 8.2-.2zM153.7 349.7l-8.2 0 5.3-9.2 8.2 0z"/><path fill="#4438f3" stroke="#251e85" d="M189.6 354.6l-8.2 1.7 5.3-9.2 8.2-1.6zM170.2 349.1l-8.2.5 5.2-9.3 8.3-.5z"/><path fill="#444aff" stroke="#25288c" d="M206.1 350.5l-8.2 2.1 5.2-9 8.3-2zM194.9 345.5l-8.2 1.6 5.2-9.3 8.3-1.6zM175.5 339.8l-8.3.5 5.3-9.3 8.2-.5z"/><path fill="#4450ff" stroke="#252c8c" d="M214.3 348.7l-8.2 1.8 5.3-8.9 8.2-1.8zM203.1 343.6l-8.2 1.9 5.3-9.3 8.2-1.8zM191.9 337.8l-8.2 1.1 5.3-9.3 8.2-1.2zM183.7 338.9l-8.2.9 5.2-9.3 8.3-.9zM164.3 331.3l-8.3 0 5.3-9.1 8.2 0z"/><path fill="#453efb" stroke="#25228a" d="M197.9 352.6l-8.3 2 5.3-9.1 8.2-1.9zM178.4 348.3l-8.2.8 5.3-9.3 8.2-.9z"/><path fill="#4544ff" stroke="#25258c" d="M186.7 347.1l-8.3 1.2 5.3-9.4 8.2-1.1zM167.2 340.3l-8.2.2 5.3-9.2 8.2-.3zM159 340.5l-8.2 0 5.2-9.2 8.3 0z"/><path fill="#4cd374" stroke="#29743f" d="M529.5 291.7l-8.2-.4 5.3-10.7 8.2.4zM521.3 291.3l-8.2-.3 5.2-10.6 8.3.2zM513.1 291l-8.3 0 5.3-10.6 8.2 0zM501.9 280.7l-8.3.6 5.3-10.6 8.2-.5zM490.7 271.6l-8.3 1.2 5.3-10.5 8.2-1.1zM479.5 263.6l-8.3 1.4 5.3-10.5 8.2-1.2zM476.5 254.5l-8.2 1.1 5.2-10.3 8.3-.9zM468.3 255.6l-8.3 1 5.3-10.5 8.2-.8zM465.3 246.1l-8.2.8 5.2-10.1 8.3-.5zM454.1 237.5l-8.2.7 5.2-9.4 8.3-.8zM434.7 231.2l-8.3 1.7 5.3-8.6 8.2-1.7zM415.2 228.1l-8.2 1.8 5.3-7.1 8.2-2.1zM407 229.9l-8.2 1.7 5.2-6.7 8.3-2.1zM395.8 226.9l-8.2 2.1 5.2-5.6 8.3-2.3zM387.6 229l-8.3 2.2 5.3-5.6 8.2-2.2zM384.6 225.6l-8.2 2.1 5.2-5.4 8.3-1.9zM386.9 217.2l-8.2 1.5 5.2-5.4 8.3-1.3zM378 204.3l-8.2 1.9 5.3-6.1 8.2-1.9zM369.8 206.2l-8.2 2.2 5.2-6.1 8.3-2.2zM358.6 204.6l-8.2 2.2 5.2-6.3 8.3-2.1zM347.4 202.4l-8.2 1.6 5.2-6.5 8.3-1.5zM339.2 204l-8.3 1.3 5.3-6.6 8.2-1.2zM336.2 198.7l-8.2.9 5.2-6.6 8.3-.9zM333.2 193l-8.2.6 5.3-6.5 8.2-.6zM330.3 187.1l-8.3.4 5.3-6.2 8.2-.5zM322 187.5l-8.2.2 5.3-6.2 8.2-.2zM313.8 187.7l-8.2-.1 5.2-6.1 8.3 0zM305.6 187.6l-8.3-.2 5.3-6.1 8.2.2zM297.3 187.4l-8.2-.5 5.3-6 8.2.4z"/><path fill="#5ad367" stroke="#317438" d="M518.3 280.4l-8.2 0 5.3-10.5 8.2 0zM510.1 280.4l-8.2.3 5.2-10.5 8.3-.3zM498.9 270.7l-8.2.9 5.2-10.4 8.3-.7zM495.9 261.2l-8.2 1.1 5.3-10.1 8.2-.9zM487.7 262.3l-8.2 1.3 5.2-10.3 8.3-1.1zM484.7 253.3l-8.2 1.2 5.3-10.1 8.2-.9zM473.5 245.3l-8.2.8 5.3-9.8 8.2-.6zM470.6 236.3l-8.3.5 5.3-9.3 8.2-.4zM462.3 236.8l-8.2.7 5.3-9.5 8.2-.5zM451.1 228.8l-8.2 1 5.3-8.7 8.2-1.1zM442.9 229.8l-8.2 1.4 5.2-8.6 8.3-1.5zM423.5 226.2l-8.3 1.9 5.3-7.4 8.2-2.1zM412.3 222.8l-8.3 2.1 5.3-6.1 8.2-2.4zM404 224.9l-8.2 2 5.3-5.8 8.2-2.3zM392.8 223.4l-8.2 2.2 5.3-5.2 8.2-2.1zM389.9 220.4l-8.3 1.9 5.3-5.1 8.2-1.8zM395.1 215.4l-8.2 1.8 5.3-5.2 8.2-1.5zM392.2 212l-8.3 1.3 5.3-5.7 8.3-1.1zM389.2 207.6l-8.2 1.2 5.3-5.9 8.2-1.1zM386.3 202.9l-8.3 1.4 5.3-6.1 8.2-1.4zM366.8 202.3l-8.2 2.3 5.3-6.2 8.2-2.3zM355.6 200.5l-8.2 1.9 5.3-6.4 8.2-1.8zM344.4 197.5l-8.2 1.2 5.3-6.6 8.2-1.1zM341.5 192.1l-8.3.9 5.3-6.5 8.2-.9zM338.5 186.5l-8.2.6 5.2-6.3 8.3-.6zM310.8 181.5l-8.2-.2 5.3-5.7 8.2.1zM302.6 181.3l-8.2-.4 5.2-5.6 8.3.3zM294.4 180.9l-8.3-.7 5.3-5.4 8.2.5zM286.1 180.2l-8.2-.7 5.3-5.4 8.2.7zM277.9 179.5l-8.2-.9 5.2-5.3 8.3.8zM269.7 178.6l-8.3-1 5.3-5.2 8.2.9z"/><path fill="#6ad25a" stroke="#3a7331" d="M534.8 281l-8.2-.4 5.2-10.5 8.3.4zM526.6 280.6l-8.3-.2 5.3-10.5 8.2.2zM515.4 269.9l-8.3.3 5.3-10.2 8.2-.3zM507.1 270.2l-8.2.5 5.3-10.2 8.2-.5zM504.2 260.5l-8.3.7 5.3-9.9 8.2-.7zM501.2 251.3l-8.2.9 5.2-9.5 8.3-.8zM493 252.2l-8.3 1.1 5.3-9.8 8.2-.8zM490 243.5l-8.2.9 5.2-9.4 8.3-.6zM481.8 244.4l-8.3.9 5.3-9.6 8.2-.7zM478.8 235.7l-8.2.6 5.2-9.2 8.3-.4zM459.4 228l-8.3.8 5.3-8.8 8.2-.7zM439.9 222.6l-8.2 1.7 5.3-7.8 8.2-1.8zM431.7 224.3l-8.2 1.9 5.2-7.6 8.3-2.1zM420.5 220.7l-8.2 2.1 5.2-6.4 8.3-2.4zM409.3 218.8l-8.2 2.3 5.2-5.2 8.3-2.6zM401.1 221.1l-8.3 2.3 5.3-5.1 8.2-2.4zM398.1 218.3l-8.2 2.1 5.2-5 8.3-2zM400.4 210.5l-8.2 1.5 5.3-5.5 8.2-1.3zM397.5 206.5l-8.3 1.1 5.3-5.8 8.2-.9zM394.5 201.8l-8.2 1.1 5.2-6.1 8.3-1zM383.3 198.2l-8.2 1.9 5.2-6.1 8.3-1.9zM375.1 200.1l-8.3 2.2 5.3-6.2 8.2-2.1zM363.9 198.4l-8.3 2.1 5.3-6.3 8.2-2zM352.7 196l-8.3 1.5 5.3-6.5 8.2-1.4zM349.7 191l-8.2 1.1 5.2-6.5 8.3-1zM346.7 185.6l-8.2.9 5.3-6.3 8.2-.9zM335.5 180.8l-8.2.5 5.3-6 8.2-.5zM327.3 181.3l-8.2.2 5.2-5.9 8.3-.3zM319.1 181.5l-8.3 0 5.3-5.8 8.2-.1z"/><path fill="#7bd14d" stroke="#43722a" d="M531.8 270.1l-8.2-.2 5.3-10.2 8.2.2zM523.6 269.9l-8.2 0 5.2-10.2 8.3 0zM512.4 260l-8.2.5 5.2-9.9 8.3-.4zM509.4 250.6l-8.2.7 5.3-9.4 8.2-.5zM506.5 241.9l-8.3.8 5.3-9 8.2-.5zM498.2 242.7l-8.2.8 5.3-9.1 8.2-.7zM495.3 234.4l-8.3.6 5.3-8.7 8.2-.3zM487 235l-8.2.7 5.3-9 8.2-.4zM475.8 227.1l-8.2.4 5.3-8.6 8.2-.2zM467.6 227.5l-8.2.5 5.2-8.7 8.3-.4zM448.2 221.1l-8.3 1.5 5.3-7.9 8.2-1.6zM428.7 218.6l-8.2 2.1 5.3-6.7 8.2-2.3zM417.5 216.4l-8.2 2.4 5.3-5.5 8.2-2.7zM406.3 215.9l-8.2 2.4 5.3-4.9 8.2-2.5zM403.4 213.4l-8.3 2 5.3-4.9 8.3-2zM391.5 196.8l-8.2 1.4 5.3-6.1 8.2-1.4zM372.1 196.1l-8.2 2.3 5.2-6.2 8.3-2.2zM360.9 194.2l-8.2 1.8 5.2-6.4 8.3-1.7zM357.9 189.6l-8.2 1.4 5.3-6.4 8.2-1.3zM355 184.6l-8.3 1 5.3-6.3 8.2-1zM352 179.3l-8.2.9 5.2-6.1 8.3-1zM343.8 180.2l-8.3.6 5.3-6 8.2-.7zM316.1 175.7l-8.2-.1 5.2-5.4 8.3-.1zM307.9 175.6l-8.3-.3 5.3-5.3 8.2.2zM299.6 175.3l-8.2-.5 5.3-5.2 8.2.4zM291.4 174.8l-8.2-.7 5.2-5 8.3.5zM283.2 174.1l-8.3-.8 5.3-4.9 8.2.7zM274.9 173.3l-8.2-.9 5.3-4.8 8.2.8z"/><path fill="#8bcf40" stroke="#4c7123" d="M540.1 270.5l-8.3-.4 5.3-10.2 8.2.4zM528.9 259.7l-8.3 0 5.3-9.7 8.2 0zM520.6 259.7l-8.2.3 5.3-9.8 8.2-.2zM517.7 250.2l-8.3.4 5.3-9.2 8.2-.4zM514.7 241.4l-8.2.5 5.2-8.7 8.3-.4zM511.7 233.2l-8.2.5 5.3-8.1 8.2-.2zM503.5 233.7l-8.2.7 5.2-8.4 8.3-.4zM484.1 226.7l-8.3.4 5.3-8.4 8.3-.2zM456.4 220l-8.2 1.1 5.2-8 8.3-1.1zM437 216.5l-8.3 2.1 5.3-6.9 8.2-2.3zM425.8 214l-8.3 2.4 5.3-5.8 8.3-2.7zM422.8 210.6l-8.2 2.7 5.3-5.2 8.2-2.9zM414.6 213.3l-8.3 2.6 5.3-5 8.3-2.8zM411.6 210.9l-8.2 2.5 5.3-4.9 8.2-2.5zM408.7 208.5l-8.3 2 5.3-5.3 8.2-1.8zM405.7 205.2l-8.2 1.3 5.2-5.6 8.3-1.2zM402.7 200.9l-8.2.9 5.3-6 8.2-.8zM399.8 195.8l-8.3 1 5.3-6.1 8.2-1zM388.6 192.1l-8.3 1.9 5.3-6.2 8.2-1.8zM380.3 194l-8.2 2.1 5.3-6.1 8.2-2.2zM369.1 192.2l-8.2 2 5.3-6.3 8.2-1.9zM349 174.1l-8.2.7 5.3-6 8.2-.8zM340.8 174.8l-8.2.5 5.2-5.8 8.3-.7zM332.6 175.3l-8.3.3 5.3-5.7 8.2-.4zM324.3 175.6l-8.2.1 5.3-5.6 8.2-.2zM288.4 169.1l-8.2-.7 5.3-4.8 8.2.5zM280.2 168.4l-8.2-.8 5.2-4.7 8.3.7z"/><path fill="#9bcd33" stroke="#55701c" d="M545.3 260.3l-8.2-.4 5.3-9.7 8.2.4zM537.1 259.9l-8.2-.2 5.2-9.7 8.3.2zM525.9 250l-8.2.2 5.2-9.2 8.3-.1zM522.9 241l-8.2.4 5.3-8.6 8.2-.2zM520 232.8l-8.3.4 5.3-7.8 8.3-.2zM508.8 225.6l-8.3.4 5.3-7.6 8.3 0zM500.5 226l-8.2.3 5.3-7.9 8.2 0zM492.3 226.3l-8.2.4 5.3-8.2 8.2-.1zM472.9 218.9l-8.3.4 5.3-8 8.3-.3zM464.6 219.3l-8.2.7 5.3-8 8.2-.7zM445.2 214.7l-8.2 1.8 5.2-7.1 8.3-1.9zM434 211.7l-8.2 2.3 5.3-6.1 8.2-2.6zM431.1 207.9l-8.3 2.7 5.3-5.4 8.2-2.9zM419.9 208.1l-8.3 2.8 5.3-4.9 8.2-2.9zM416.9 206l-8.2 2.5 5.2-5.1 8.3-2.4zM413.9 203.4l-8.2 1.8 5.3-5.5 8.2-1.7zM411 199.7l-8.3 1.2 5.3-5.9 8.2-1.1zM408 195l-8.2.8 5.2-6.1 8.3-.8zM396.8 190.7l-8.2 1.4 5.2-6.1 8.3-1.4zM377.4 190l-8.3 2.2 5.3-6.2 8.2-2.2zM366.2 187.9l-8.3 1.7 5.3-6.3 8.2-1.6zM363.2 183.3l-8.2 1.3 5.2-6.3 8.3-1.3zM360.2 178.3l-8.2 1 5.3-6.2 8.2-1zM357.3 173.1l-8.3 1 5.3-6.1 8.2-1zM329.6 169.9l-8.2.2 5.2-5.6 8.3-.3zM321.4 170.1l-8.3.1 5.3-5.5 8.2-.2zM313.1 170.2l-8.2-.2 5.3-5.3 8.2 0zM304.9 170l-8.2-.4 5.2-5.1 8.3.2zM296.7 169.6l-8.3-.5 5.3-5 8.2.4z"/><path fill="#abca27" stroke="#5e6f15" d="M550.6 250.6l-8.2-.4 5.3-9 8.2.4zM542.4 250.2l-8.3-.2 5.3-9.1 8.3.3zM534.1 250l-8.2 0 5.3-9.1 8.2 0zM531.2 240.9l-8.3.1 5.3-8.4 8.3-.1zM528.2 232.6l-8.2.2 5.3-7.6 8.2-.1zM517 225.4l-8.2.2 5.3-7.2 8.2-.1zM481.1 218.7l-8.2.2 5.3-7.9 8.2-.1zM461.7 212l-8.3 1.1 5.3-7.3 8.3-1.1zM453.4 213.1l-8.2 1.6 5.3-7.2 8.2-1.7zM442.2 209.4l-8.2 2.3 5.3-6.4 8.2-2.4zM439.3 205.3l-8.2 2.6 5.2-5.6 8.3-2.8zM428.1 205.2l-8.2 2.9 5.2-5 8.3-3.1zM425.1 203.1l-8.2 2.9 5.3-5 8.2-2.9zM422.2 201l-8.3 2.4 5.3-5.4 8.2-2.3zM419.2 198l-8.2 1.7 5.2-5.8 8.3-1.4zM405 189.7l-8.2 1 5.3-6.1 8.2-1zM393.8 186l-8.2 1.8 5.3-6.1 8.2-1.8zM385.6 187.8l-8.2 2.2 5.2-6.2 8.3-2.1zM374.4 186l-8.2 1.9 5.2-6.2 8.3-1.9zM371.4 181.7l-8.2 1.6 5.3-6.3 8.2-1.6zM368.5 177l-8.3 1.3 5.3-6.2 8.2-1.3zM365.5 172.1l-8.2 1 5.2-6.1 8.3-1.1zM354.3 168l-8.2.8 5.2-5.9 8.3-.9zM346.1 168.8l-8.3.7 5.3-5.9 8.2-.7zM337.8 169.5l-8.2.4 5.3-5.7 8.2-.6zM310.2 164.7l-8.3-.2 5.3-5.4 8.2.1zM301.9 164.5l-8.2-.4 5.3-5.2 8.2.2zM293.7 164.1l-8.2-.5 5.2-5.1 8.3.4zM285.5 163.6l-8.3-.7 5.3-4.9 8.2.5z"/><path fill="#bac71e" stroke="#666d10" d="M547.7 241.2l-8.3-.3 5.3-8.3 8.2.3zM539.4 240.9l-8.2 0 5.3-8.4 8.2.1zM536.5 232.5l-8.3.1 5.3-7.5 8.2 0zM533.5 225.1l-8.2.1 5.2-6.8 8.3 0zM525.3 225.2l-8.3.2 5.3-7.1 8.2.1zM505.8 218.4l-8.2 0 5.3-7.2 8.2.3zM497.6 218.4l-8.2.1 5.2-7.5 8.3.2zM489.4 218.5l-8.3.2 5.3-7.8 8.2.1zM469.9 211.3l-8.2.7 5.3-7.3 8.2-.6zM450.5 207.5l-8.3 1.9 5.3-6.5 8.3-2zM436.3 202.3l-8.2 2.9 5.3-5.2 8.2-3zM433.4 200l-8.3 3.1 5.3-5 8.2-3.1zM430.4 198.1l-8.2 2.9 5.2-5.3 8.3-2.7zM416.2 193.9l-8.2 1.1 5.3-6.1 8.2-.9zM413.3 188.9l-8.3.8 5.3-6.1 8.2-.7zM402.1 184.6l-8.3 1.4 5.3-6.1 8.2-1.3zM390.9 181.7l-8.3 2.1 5.3-6.1 8.2-2zM382.6 183.8l-8.2 2.2 5.3-6.2 8.2-2.1zM379.7 179.8l-8.3 1.9 5.3-6.3 8.2-1.7zM376.7 175.4l-8.2 1.6 5.2-6.2 8.3-1.5zM373.7 170.8l-8.2 1.3 5.3-6.2 8.2-1.3zM362.5 167l-8.2 1 5.3-6 8.2-1.1zM334.9 164.2l-8.3.3 5.3-5.7 8.2-.5zM326.6 164.5l-8.2.2 5.3-5.6 8.2-.3zM318.4 164.7l-8.2 0 5.2-5.5 8.3-.1z"/><path fill="#c8c416" stroke="#6e6b0c" d="M555.9 241.6l-8.2-.4 5.2-8.3 8.3.5zM552.9 232.9l-8.2-.3 5.3-7.3 8.2.3zM544.7 232.6l-8.2-.1 5.2-7.4 8.3.2zM541.7 225.1l-8.2 0 5.3-6.7 8.2.2zM522.3 218.3l-8.2.1 5.2-6.6 8.3.3zM514.1 218.4l-8.3 0 5.3-6.9 8.2.3zM486.4 210.9l-8.2.1 5.2-7.2 8.3.1zM478.2 211l-8.3.3 5.3-7.2 8.2-.3zM458.7 205.8l-8.2 1.7 5.3-6.6 8.2-1.7zM447.5 202.9l-8.2 2.4 5.3-5.8 8.2-2.5zM444.6 199.5l-8.3 2.8 5.3-5.3 8.2-2.9zM441.6 197l-8.2 3 5.2-5 8.3-3.1zM438.6 195l-8.2 3.1 5.3-5.1 8.2-2.9zM435.7 193l-8.3 2.7 5.3-5.3 8.2-2.5zM427.4 195.7l-8.2 2.3 5.3-5.5 8.2-2.1zM424.5 192.5l-8.3 1.4 5.3-5.9 8.2-1.3zM421.5 188l-8.2.9 5.2-6 8.3-.8zM410.3 183.6l-8.2 1 5.2-6 8.3-1zM399.1 179.9l-8.2 1.8 5.2-6 8.3-1.7zM387.9 177.7l-8.2 2.1 5.2-6.1 8.3-2zM370.8 165.9l-8.3 1.1 5.3-6.1 8.2-1.1zM359.6 162l-8.3.9 5.3-6.1 8.2-.9zM351.3 162.9l-8.2.7 5.3-6 8.2-.8zM343.1 163.6l-8.2.6 5.2-5.9 8.3-.7zM315.4 159.2l-8.2-.1 5.3-5.7 8.2-.1zM307.2 159.1l-8.2-.2 5.2-5.6 8.3.1zM299 158.9l-8.3-.4 5.3-5.5 8.2.3zM290.7 158.5l-8.2-.5 5.3-5.5 8.2.5z"/><path fill="#d6c112" stroke="#756a09" d="M561.2 233.4l-8.3-.5 5.3-7.3 8.2.5zM550 225.3l-8.3-.2 5.3-6.5 8.2.3zM538.8 218.4l-8.3 0 5.3-6.1 8.2.3zM530.5 218.4l-8.2-.1 5.3-6.2 8.2.2zM511.1 211.5l-8.2-.3 5.2-6.6 8.3.6zM502.9 211.2l-8.3-.2 5.3-6.8 8.2.4zM494.6 211l-8.2-.1 5.3-7 8.2.3zM467 204.7l-8.3 1.1 5.3-6.6 8.2-1.1zM455.8 200.9l-8.3 2 5.3-5.9 8.2-2.1zM452.8 197l-8.2 2.5 5.2-5.4 8.3-2.5zM449.8 194.1l-8.2 2.9 5.3-5.1 8.2-2.8zM446.9 191.9l-8.3 3.1 5.3-4.9 8.2-3zM443.9 190.1l-8.2 2.9 5.2-5.1 8.3-2.7zM432.7 190.4l-8.2 2.1 5.2-5.8 8.3-1.8zM429.7 186.7l-8.2 1.3 5.3-5.9 8.2-1.1zM418.5 182.9l-8.2.7 5.3-6 8.2-.7zM407.3 178.6l-8.2 1.3 5.3-5.9 8.2-1.3zM396.1 175.7l-8.2 2 5.3-6 8.2-1.8zM393.2 171.7l-8.3 2 5.3-6.1 8.2-1.8zM384.9 173.7l-8.2 1.7 5.3-6.1 8.2-1.7zM382 169.3l-8.3 1.5 5.3-6.2 8.2-1.4zM379 164.6l-8.2 1.3 5.2-6.1 8.3-1.3zM367.8 160.9l-8.2 1.1 5.2-6.1 8.3-1.1zM340.1 158.3l-8.2.5 5.3-6.1 8.2-.6zM331.9 158.8l-8.2.3 5.2-6 8.3-.4zM323.7 159.1l-8.3.1 5.3-5.9 8.2-.2zM296 153l-8.2-.5 5.2-6.2 8.3.4z"/><path fill="#e2be14" stroke="#7c680b" d="M566.4 226.1l-8.2-.5 5.3-6.3 8.2.6zM558.2 225.6l-8.2-.3 5.2-6.4 8.3.4zM547 218.6l-8.2-.2 5.2-5.8 8.3.3zM535.8 212.3l-8.2-.2 5.2-5.7 8.3.5zM527.6 212.1l-8.3-.3 5.3-6 8.2.6zM519.3 211.8l-8.2-.3 5.3-6.3 8.2.6zM483.4 203.8l-8.2.3 5.3-6.7 8.2-.2zM475.2 204.1l-8.2.6 5.2-6.6 8.3-.7zM464 199.2l-8.2 1.7 5.2-6 8.3-1.7zM455.1 189.1l-8.2 2.8 5.2-4.8 8.3-2.8zM452.1 187.1l-8.2 3 5.3-4.9 8.2-2.8zM449.2 185.2l-8.3 2.7 5.3-5.2 8.2-2.4zM440.9 187.9l-8.2 2.5 5.3-5.5 8.2-2.2zM438 184.9l-8.3 1.8 5.3-5.7 8.2-1.6zM435 181l-8.2 1.1 5.2-5.9 8.3-1zM426.8 182.1l-8.3.8 5.3-6 8.2-.7zM423.8 176.9l-8.2.7 5.2-5.8 8.3-.7zM415.6 177.6l-8.3 1 5.3-5.9 8.2-.9zM404.4 174l-8.3 1.7 5.3-5.8 8.2-1.7zM401.4 169.9l-8.2 1.8 5.2-5.9 8.3-1.7zM398.4 165.8l-8.2 1.8 5.3-6 8.2-1.6zM390.2 167.6l-8.2 1.7 5.2-6.1 8.3-1.6zM387.2 163.2l-8.2 1.4 5.3-6.1 8.2-1.4zM384.3 158.5l-8.3 1.3 5.3-6.2 8.2-1.3zM376 159.8l-8.2 1.1 5.3-6.1 8.2-1.2zM364.8 155.9l-8.2.9 5.3-6.2 8.2-1zM356.6 156.8l-8.2.8 5.2-6.2 8.3-.8zM348.4 157.6l-8.3.7 5.3-6.2 8.2-.7zM320.7 153.3l-8.2.1 5.2-6.5 8.3-.1zM312.5 153.4l-8.3-.1 5.3-6.4 8.2 0zM304.2 153.3l-8.2-.3 5.3-6.3 8.2.2z"/><path fill="#edbb18" stroke="#82660d" d="M563.5 219.3l-8.3-.4 5.3-5.6 8.2.5zM555.2 218.9l-8.2-.3 5.3-5.7 8.2.4zM544 212.6l-8.2-.3 5.3-5.4 8.2.5zM516.4 205.2l-8.3-.6 5.3-6 8.2.8zM508.1 204.6l-8.2-.4 5.3-6.3 8.2.7zM499.9 204.2l-8.2-.3 5.2-6.5 8.3.5zM491.7 203.9l-8.3-.1 5.3-6.6 8.2.2zM472.2 198.1l-8.2 1.1 5.3-6 8.2-1.2zM461 194.9l-8.2 2.1 5.3-5.4 8.2-2.2zM458.1 191.6l-8.3 2.5 5.3-5 8.2-2.6zM460.4 184.3l-8.3 2.8 5.3-4.7 8.2-2.6zM457.4 182.4l-8.2 2.8 5.2-4.9 8.3-2.5zM446.2 182.7l-8.2 2.2 5.2-5.5 8.3-1.9zM443.2 179.4l-8.2 1.6 5.3-5.8 8.2-1.3zM432 176.2l-8.2.7 5.3-5.8 8.2-.7zM420.8 171.8l-8.2.9 5.3-5.7 8.2-.9zM412.6 172.7l-8.2 1.3 5.2-5.8 8.3-1.2zM409.6 168.2l-8.2 1.7 5.3-5.8 8.2-1.5zM406.7 164.1l-8.3 1.7 5.3-5.8 8.2-1.5zM403.7 160l-8.2 1.6 5.2-5.9 8.3-1.4zM395.5 161.6l-8.3 1.6 5.3-6.1 8.2-1.4zM392.5 157.1l-8.2 1.4 5.2-6.2 8.3-1.2zM381.3 153.6l-8.2 1.2 5.2-6.3 8.3-1.1zM373.1 154.8l-8.3 1.1 5.3-6.3 8.2-1.1zM345.4 152.1l-8.2.6 5.2-6.7 8.3-.5zM337.2 152.7l-8.3.4 5.3-6.6 8.2-.5zM328.9 153.1l-8.2.2 5.3-6.5 8.2-.3zM309.5 146.9l-8.2-.2 5.2-7.2 8.3.1zM301.3 146.7l-8.3-.4 5.3-7.2 8.2.4z"/><path fill="#f7ba22" stroke="#876612" d="M571.7 219.9l-8.2-.6 5.2-5.5 8.3.8zM560.5 213.3l-8.2-.4 5.2-5 8.3.5zM552.3 212.9l-8.3-.3 5.3-5.2 8.2.5zM541.1 206.9l-8.3-.5 5.3-5.3 8.2.8zM532.8 206.4l-8.2-.6 5.3-5.5 8.2.8zM524.6 205.8l-8.2-.6 5.2-5.8 8.3.9zM488.7 197.2l-8.2.2 5.2-6 8.3-.1zM480.5 197.4l-8.3.7 5.3-6.1 8.2-.6zM469.3 193.2l-8.3 1.7 5.3-5.5 8.2-1.7zM466.3 189.4l-8.2 2.2 5.2-5.1 8.3-2.1zM463.3 186.5l-8.2 2.6 5.3-4.8 8.2-2.4zM465.6 179.8l-8.2 2.6 5.3-4.6 8.2-2.3zM462.7 177.8l-8.3 2.5 5.3-4.8 8.2-2.2zM454.4 180.3l-8.2 2.4 5.3-5.2 8.2-2zM451.5 177.5l-8.3 1.9 5.3-5.5 8.2-1.5zM448.5 173.9l-8.2 1.3 5.2-5.6 8.3-1zM440.3 175.2l-8.3 1 5.3-5.8 8.2-.8zM437.3 170.4l-8.2.7 5.2-5.6 8.3-.6zM429.1 171.1l-8.3.7 5.3-5.7 8.2-.6zM426.1 166.1l-8.2.9 5.2-5.5 8.3-.8zM417.9 167l-8.3 1.2 5.3-5.6 8.2-1.1zM414.9 162.6l-8.2 1.5 5.2-5.6 8.3-1.3zM411.9 158.5l-8.2 1.5 5.3-5.7 8.2-1.3zM409 154.3l-8.3 1.4 5.3-5.9 8.2-1.2zM400.7 155.7l-8.2 1.4 5.3-6 8.2-1.3zM397.8 151.1l-8.3 1.2 5.3-6.1 8.2-1.1zM389.5 152.3l-8.2 1.3 5.3-6.2 8.2-1.2zM378.3 148.5l-8.2 1.1 5.3-6.5 8.2-1zM370.1 149.6l-8.2 1 5.2-6.6 8.3-.9zM361.9 150.6l-8.3.8 5.3-6.6 8.2-.8zM353.6 151.4l-8.2.7 5.3-6.6 8.2-.7zM334.2 146.5l-8.2.3 5.2-7.4 8.3-.3zM326 146.8l-8.3.1 5.3-7.3 8.2-.2zM317.7 146.9l-8.2 0 5.3-7.3 8.2 0zM314.8 139.6l-8.3-.1 5.3-8.1 8.2.2zM306.5 139.5l-8.2-.4 5.3-8 8.2.3z"/><path fill="#f9ec0a" stroke="#888105" d="M634.9 172.3l-8.2-2 5.3-3.4 8.2 2.1zM640.2 169l-8.2-2.1 5.2-3.1 8.3 1.9zM645.5 165.7l-8.3-1.9 5.3-2.9 8.2 1.8zM650.7 162.7l-8.2-1.8 5.3-2.8 8.2 1.7zM626.7 170.3l-8.2-2.3 5.2-3.3 8.3 2.2zM632 166.9l-8.3-2.2 5.3-3 8.2 2.1zM637.2 163.8l-8.2-2.1 5.3-2.8 8.2 2zM642.5 160.9l-8.2-2 5.2-2.6 8.3 1.8zM618.5 168l-8.3-2.3 5.3-3.3 8.2 2.3zM623.7 164.7l-8.2-2.3 5.3-2.9 8.2 2.2zM629 161.7l-8.2-2.2 5.2-2.6 8.3 2zM605 169.3l-8.3-2.2 5.3-3.7 8.2 2.3zM610.2 165.7l-8.2-2.3 5.3-3.2 8.2 2.2zM615.5 162.4l-8.2-2.2 5.2-2.8 8.3 2.1zM596.7 167.1l-8.2-2 5.3-3.7 8.2 2zM602 163.4l-8.2-2 5.2-3.2 8.3 2zM588.5 165.1l-8.3-1.6 5.3-3.7 8.3 1.6zM593.8 161.4l-8.3-1.6 5.3-3.2 8.2 1.6zM580.2 163.5l-8.2-1.1 5.3-3.7 8.2 1.1zM585.5 159.8l-8.2-1.1 5.3-3.2 8.2 1.1zM572 162.4l-8.2-.7 5.2-3.6 8.3.6zM577.3 158.7l-8.3-.6 5.3-3.3 8.3.7zM582.6 155.5l-8.3-.7 5.3-3 8.2.8zM563.8 161.7l-8.3-.3 5.3-3.6 8.2.3zM569 158.1l-8.2-.3 5.3-3.4 8.2.4zM574.3 154.8l-8.2-.4 5.3-3.2 8.2.6zM560.8 157.8l-8.2-.1 5.3-3.5 8.2.2zM566.1 154.4l-8.2-.2 5.2-3.3 8.3.3zM571.4 151.2l-8.3-.3 5.3-3.2 8.2.6zM557.9 154.2l-8.3 0 5.3-3.5 8.2.2zM563.1 150.9l-8.2-.2 5.3-3.4 8.2.4zM568.4 147.7l-8.2-.4 5.2-3.3 8.3.6zM554.9 150.7l-8.2-.1 5.2-3.5 8.3.2zM560.2 147.3l-8.3-.2 5.3-3.4 8.2.3zM551.9 147.1l-8.2 0 5.3-3.5 8.2.1zM557.2 143.7l-8.2-.1 5.2-3.4 8.3.2zM543.7 147.1l-8.2.2 5.2-3.6 8.3-.1zM549 143.6l-8.3.1 5.3-3.5 8.2 0zM554.2 140.2l-8.2 0 5.3-3.3 8.2.1zM540.7 143.7l-8.2.2 5.3-3.6 8.2-.1zM546 140.2l-8.2.1 5.2-3.4 8.3 0zM551.3 136.9l-8.3 0 5.3-3.1 8.2.1zM556.5 133.9l-8.2-.1 5.3-2.9 8.2.3zM537.8 140.3l-8.3.3 5.3-3.6 8.2-.1zM543 136.9l-8.2.1 5.3-3.3 8.2.1zM548.3 133.8l-8.2-.1 5.2-3 8.3.2zM553.6 130.9l-8.3-.2 5.3-2.7 8.2.4zM534.8 137l-8.2.2 5.2-3.5 8.3 0zM540.1 133.7l-8.3 0 5.3-3.2 8.2.2zM545.3 130.7l-8.2-.2 5.3-2.8 8.2.3zM550.6 128l-8.2-.3 5.2-2.6 8.3.5zM555.9 125.6l-8.3-.5 5.3-2.5 8.2.7zM531.8 133.7l-8.2.1 5.3-3.3 8.2 0zM537.1 130.5l-8.2 0 5.2-3.1 8.3.3zM542.4 127.7l-8.3-.3 5.3-2.8 8.2.5zM547.6 125.1l-8.2-.5 5.3-2.6 8.2.6zM552.9 122.6l-8.2-.6 5.2-2.4 8.3.8zM558.2 120.4l-8.3-.8 5.3-2.4 8.2 1zM528.9 130.5l-8.3 0 5.3-3.3 8.2.2zM534.1 127.4l-8.2-.2 5.3-3 8.2.4zM539.4 124.6l-8.2-.4 5.2-2.8 8.3.6zM544.7 122l-8.3-.6 5.3-2.7 8.2.9zM549.9 119.6l-8.2-.9 5.3-2.4 8.2.9zM555.2 117.2l-8.2-.9 5.2-2.4 8.3 1.1zM525.9 127.2l-8.2-.2 5.2-3.2 8.3.4zM531.2 124.2l-8.3-.4 5.3-3.1 8.2.7zM536.4 121.4l-8.2-.7 5.3-2.8 8.2.8zM541.7 118.7l-8.2-.8 5.2-2.7 8.3 1.1zM547 116.3l-8.3-1.1 5.3-2.5 8.2 1.2zM522.9 123.8l-8.2-.4 5.3-3.3 8.2.6zM528.2 120.7l-8.2-.6 5.2-3.1 8.3.9zM533.5 117.9l-8.3-.9 5.3-2.9 8.2 1.1zM538.7 115.2l-8.2-1.1 5.3-2.7 8.2 1.3zM544 112.7l-8.2-1.3 5.2-2.5 8.3 1.4zM520 120.1l-8.3-.6 5.3-3.3 8.2.8zM525.2 117l-8.2-.8 5.3-3.2 8.2 1.1zM530.5 114.1l-8.2-1.1 5.2-2.8 8.3 1.2zM535.8 111.4l-8.3-1.2 5.3-2.6 8.2 1.3zM511.7 119.5l-8.2-.5 5.3-3.6 8.2.8zM517 116.2l-8.2-.8 5.2-3.4 8.3 1zM522.3 113l-8.3-1 5.3-3 8.2 1.2zM527.5 110.2l-8.2-1.2 5.3-2.7 8.2 1.3zM508.8 115.4l-8.3-.7 5.3-3.5 8.2.8zM514 112l-8.2-.8 5.3-3.2 8.2 1zM519.3 109l-8.2-1 5.2-2.8 8.3 1.1zM500.5 114.7l-8.2-.6 5.3-3.7 8.2.8zM505.8 111.2l-8.2-.8 5.2-3.3 8.3.9zM511.1 108l-8.3-.9 5.3-2.9 8.2 1zM516.3 105.2l-8.2-1 5.3-2.6 8.2 1.1zM497.6 110.4l-8.3-.7 5.3-3.4 8.2.8zM502.8 107.1l-8.2-.8 5.3-3 8.2.9zM508.1 104.2l-8.2-.9 5.2-2.7 8.3 1zM513.4 101.6l-8.3-1 5.3-2.4 8.2 1.1zM489.3 109.7l-8.2-.6 5.3-3.5 8.2.7zM494.6 106.3l-8.2-.7 5.2-3.2 8.3.9zM499.9 103.3l-8.3-.9 5.3-2.7 8.2.9zM505.1 100.6l-8.2-.9 5.3-2.5 8.2 1zM486.4 105.6l-8.3-.8 5.3-3.2 8.2.8zM491.6 102.4l-8.2-.8 5.3-2.9 8.2 1zM496.9 99.7l-8.2-1 5.2-2.5 8.3 1zM502.2 97.2l-8.3-1 5.3-2.3 8.2 1.1zM507.4 95l-8.2-1.1 5.3-2.2 8.2 1.1zM478.1 104.8l-8.2-.8 5.3-3.3 8.2.9zM483.4 101.6l-8.2-.9 5.2-2.9 8.3.9zM488.7 98.7l-8.3-.9 5.3-2.6 8.2 1zM493.9 96.2l-8.2-1 5.3-2.4 8.2 1.1zM499.2 93.9l-8.2-1.1 5.2-2.2 8.3 1.1zM504.5 91.7l-8.3-1.1 5.3-2.1 8.3 1.1zM469.9 104l-8.2-.8 5.2-3.4 8.3.9zM475.2 100.7l-8.3-.9 5.3-3.1 8.2 1.1zM480.4 97.8l-8.2-1.1 5.3-2.6 8.2 1.1zM485.7 95.2l-8.2-1.1 5.2-2.4 8.3 1.1zM491 92.8l-8.3-1.1 5.3-2.2 8.2 1.1zM496.2 90.6l-8.2-1.1 5.3-2.2 8.2 1.2zM501.5 88.5l-8.2-1.2 5.3-2.1 8.2 1.2zM466.9 99.8l-8.2-1 5.3-3.1 8.2 1zM472.2 96.7l-8.2-1 5.2-2.7 8.3 1.1zM477.5 94.1l-8.3-1.1 5.3-2.5 8.2 1.2zM482.7 91.7l-8.2-1.2 5.3-2.2 8.2 1.2zM488 89.5l-8.2-1.2 5.2-2.2 8.3 1.2zM493.3 87.3l-8.3-1.2 5.3-2.1 8.3 1.2zM498.6 85.2l-8.3-1.2 5.3-2.1 8.2 1.1zM458.7 98.8l-8.2-1 5.2-3.2 8.3 1.1zM464 95.7l-8.3-1.1 5.3-2.8 8.2 1.2zM469.2 93l-8.2-1.2 5.3-2.5 8.2 1.2zM474.5 90.5l-8.2-1.2 5.2-2.2 8.3 1.2zM479.8 88.3l-8.3-1.2 5.3-2.1 8.2 1.1zM485 86.1l-8.2-1.1 5.3-2.1 8.2 1.1zM490.3 84l-8.2-1.1 5.3-2.2 8.2 1.2zM495.6 81.9l-8.2-1.2 5.2-2.1 8.3 1.1zM450.5 97.8l-8.3-1.1 5.3-3.3 8.2 1.2zM455.7 94.6l-8.2-1.2 5.3-2.8 8.2 1.2zM461 91.8l-8.2-1.2 5.2-2.5 8.3 1.2zM466.3 89.3l-8.3-1.2 5.3-2.2 8.2 1.2zM471.5 87.1l-8.2-1.2 5.3-2.1 8.2 1.2zM476.8 85l-8.2-1.2 5.2-2.1 8.3 1.2zM482.1 82.9l-8.3-1.2 5.3-2.1 8.3 1.1zM487.4 80.7l-8.3-1.1 5.3-2.1 8.2 1.1zM492.6 78.6l-8.2-1.1 5.3-2.2 8.2 1.1zM447.5 93.4l-8.2-1.2 5.2-2.8 8.3 1.2zM452.8 90.6l-8.3-1.2 5.3-2.5 8.2 1.2zM458 88.1l-8.2-1.2 5.3-2.3 8.2 1.3zM463.3 85.9l-8.2-1.3 5.2-2 8.3 1.2zM468.6 83.8l-8.3-1.2 5.3-2 8.2 1.1zM473.8 81.7l-8.2-1.1 5.3-2.1 8.2 1.1zM479.1 79.6l-8.2-1.1 5.3-2.1 8.2 1.1zM484.4 77.5l-8.2-1.1 5.2-2.1 8.3 1zM489.7 75.3l-8.3-1 5.3-2.1 8.2 1zM439.3 92.2l-8.3-1.2 5.3-2.9 8.2 1.3zM444.5 89.4l-8.2-1.3 5.3-2.5 8.2 1.3zM449.8 86.9l-8.2-1.3 5.2-2.2 8.3 1.2zM455.1 84.6l-8.3-1.2 5.3-2 8.2 1.2zM460.3 82.6l-8.2-1.2 5.3-2 8.2 1.2zM465.6 80.6l-8.2-1.2 5.2-2 8.3 1.1zM470.9 78.5l-8.3-1.1 5.3-2.1 8.3 1.1zM476.2 76.4l-8.3-1.1 5.3-2 8.2 1zM481.4 74.3l-8.2-1 5.3-2.1 8.2 1zM486.7 72.2l-8.2-1 5.2-2.1 8.3 1zM492 70.1l-8.3-1 5.3-2.1 8.2.9zM431 91l-8.2-1.2 5.3-3 8.2 1.3zM436.3 88.1l-8.2-1.3 5.2-2.5 8.3 1.3zM441.6 85.6l-8.3-1.3 5.3-2.2 8.2 1.3zM446.8 83.4l-8.2-1.3 5.3-2 8.2 1.3zM452.1 81.4l-8.2-1.3 5.2-1.9 8.3 1.2zM457.4 79.4l-8.3-1.2 5.3-1.9 8.2 1.1zM462.6 77.4l-8.2-1.1 5.3-2 8.2 1zM467.9 75.3l-8.2-1 5.3-2 8.2 1zM473.2 73.3l-8.2-1 5.2-2 8.3.9zM478.5 71.2l-8.3-.9 5.3-2.1 8.2.9zM483.7 69.1l-8.2-.9 5.3-2 8.2.8zM489 67l-8.2-.8 5.2-2 8.3.8zM494.3 65l-8.3-.8 5.3-2 8.2.7zM499.5 62.9l-8.2-.7 5.3-2 8.2.7zM422.8 89.8l-8.2-1.2 5.2-3.1 8.3 1.3zM428.1 86.8l-8.3-1.3 5.3-2.5 8.2 1.3zM433.3 84.3l-8.2-1.3 5.3-2.2 8.2 1.3zM438.6 82.1l-8.2-1.3 5.2-1.9 8.3 1.2zM443.9 80.1l-8.3-1.2 5.3-1.9 8.2 1.2zM449.1 78.2l-8.2-1.2 5.3-1.9 8.2 1.2zM454.4 76.3l-8.2-1.2 5.3-1.9 8.2 1.1zM459.7 74.3l-8.2-1.1 5.2-1.9 8.3 1zM465 72.3l-8.3-1 5.3-1.9 8.2.9zM470.2 70.3l-8.2-.9 5.3-2 8.2.8zM475.5 68.2l-8.2-.8 5.2-1.9 8.3.7zM480.8 66.2l-8.3-.7 5.3-2 8.2.7zM486 64.2l-8.2-.7 5.3-1.9 8.2.6zM491.3 62.2l-8.2-.6 5.2-1.9 8.3.5zM414.6 88.6l-8.3-1.2 5.3-3.1 8.2 1.2zM419.8 85.5l-8.2-1.2 5.3-2.6 8.2 1.3zM425.1 83l-8.2-1.3 5.2-2.2 8.3 1.3zM430.4 80.8l-8.3-1.3 5.3-1.9 8.2 1.3zM435.6 78.9l-8.2-1.3 5.3-1.8 8.2 1.2zM440.9 77l-8.2-1.2 5.2-1.8 8.3 1.1zM446.2 75.1l-8.3-1.1 5.3-1.8 8.3 1zM451.5 73.2l-8.3-1 5.3-1.9 8.2 1zM456.7 71.3l-8.2-1 5.3-1.8 8.2.9zM462 69.4l-8.2-.9 5.2-1.9 8.3.8zM467.3 67.4l-8.3-.8 5.3-1.8 8.2.7zM472.5 65.5l-8.2-.7 5.3-1.9 8.2.6zM477.8 63.5l-8.2-.6 5.2-1.8 8.3.5zM483.1 61.6l-8.3-.5 5.3-1.8 8.2.4zM406.3 87.4l-8.2-1.1 5.3-3.2 8.2 1.2zM411.6 84.3l-8.2-1.2 5.2-2.6 8.3 1.2zM416.9 81.7l-8.3-1.2 5.3-2.2 8.2 1.2zM422.1 79.5l-8.2-1.2 5.3-1.9 8.2 1.2zM427.4 77.6l-8.2-1.2 5.2-1.8 8.3 1.2zM432.7 75.8l-8.3-1.2 5.3-1.7 8.2 1.1zM437.9 74l-8.2-1.1 5.3-1.8 8.2 1.1zM443.2 72.2l-8.2-1.1 5.3-1.7 8.2.9zM448.5 70.3l-8.2-.9 5.2-1.8 8.3.9zM453.8 68.5l-8.3-.9 5.3-1.7 8.2.7zM459 66.6l-8.2-.7 5.3-1.7 8.2.6zM464.3 64.8l-8.2-.6 5.2-1.8 8.3.5zM469.6 62.9l-8.3-.5 5.3-1.7 8.2.4zM474.8 61.1l-8.2-.4 5.3-1.8 8.2.4zM403.4 83.1l-8.3-1.1 5.3-2.7 8.2 1.2zM408.6 80.5l-8.2-1.2 5.3-2.2 8.2 1.2zM413.9 78.3l-8.2-1.2 5.2-1.9 8.3 1.2zM419.2 76.4l-8.3-1.2 5.3-1.7 8.2 1.1zM424.4 74.6l-8.2-1.1 5.3-1.7 8.2 1.1zM429.7 72.9l-8.2-1.1 5.2-1.7 8.3 1zM435 71.1l-8.3-1 5.3-1.6 8.3.9zM440.3 69.4l-8.3-.9 5.3-1.7 8.2.8zM445.5 67.6l-8.2-.8 5.3-1.6 8.2.7zM450.8 65.9l-8.2-.7 5.2-1.6 8.3.6zM456.1 64.2l-8.3-.6 5.3-1.7 8.2.5zM461.3 62.4l-8.2-.5 5.3-1.6 8.2.4zM466.6 60.7l-8.2-.4 5.2-1.7 8.3.3zM395.1 82l-8.2-1 5.3-2.8 8.2 1.1zM400.4 79.3l-8.2-1.1 5.2-2.2 8.3 1.1zM405.7 77.1l-8.3-1.1 5.3-1.9 8.2 1.1zM410.9 75.2l-8.2-1.1 5.3-1.7 8.2 1.1zM416.2 73.5l-8.2-1.1 5.2-1.7 8.3 1.1zM421.5 71.8l-8.3-1.1 5.3-1.6 8.2 1zM426.7 70.1l-8.2-1 5.3-1.5 8.2.9zM432 68.5l-8.2-.9 5.3-1.6 8.2.8zM437.3 66.8l-8.2-.8 5.2-1.5 8.3.7zM386.9 81l-8.2-.9 5.2-2.9 8.3 1zM392.2 78.2l-8.3-1 5.3-2.3 8.2 1.1zM397.4 76l-8.2-1.1 5.3-1.9 8.2 1.1zM402.7 74.1l-8.2-1.1 5.2-1.7 8.3 1.1zM408 72.4l-8.3-1.1 5.3-1.6 8.2 1zM413.2 70.7l-8.2-1 5.3-1.5 8.2.9zM418.5 69.1l-8.2-.9 5.2-1.5 8.3.9zM383.9 77.2l-8.2-.9 5.3-2.4 8.2 1zM389.2 74.9l-8.2-1 5.2-1.9 8.3 1zM394.5 73l-8.3-1 5.3-1.7 8.2 1zM399.7 71.3l-8.2-1 5.3-1.6 8.2 1zM405 69.7l-8.2-1 5.2-1.5 8.3 1zM381 73.9l-8.3-1 5.3-1.9 8.2 1zM386.2 72l-8.2-1 5.3-1.7 8.2 1z"/><path fill="#fae50d" stroke="#897d07" d="M624.4 179.6l-8.2-2 5.2-3.7 8.3 2zM629.7 175.9l-8.3-2 5.3-3.6 8.2 2zM616.2 177.6l-8.3-2.1 5.3-3.9 8.2 2.3zM621.4 173.9l-8.2-2.3 5.3-3.6 8.2 2.3zM602.6 179.5l-8.2-2 5.3-4.2 8.2 2.2zM607.9 175.5l-8.2-2.2 5.3-4 8.2 2.3zM613.2 171.6l-8.2-2.3 5.2-3.6 8.3 2.3zM594.4 177.5l-8.2-2 5.2-4.3 8.3 2.1zM599.7 173.3l-8.3-2.1 5.3-4.1 8.3 2.2zM586.2 175.5l-8.3-1.8 5.3-4.4 8.2 1.9zM591.4 171.2l-8.2-1.9 5.3-4.2 8.2 2zM577.9 173.7l-8.2-1.6 5.3-4.4 8.2 1.6zM583.2 169.3l-8.2-1.6 5.2-4.2 8.3 1.6zM569.7 172.1l-8.2-1.2 5.2-4.4 8.3 1.2zM575 167.7l-8.3-1.2 5.3-4.1 8.2 1.1zM561.5 170.9l-8.3-1 5.3-4.2 8.2.8zM566.7 166.5l-8.2-.8 5.3-4 8.2.7zM553.2 169.9l-8.2-.6 5.3-4.1 8.2.5zM558.5 165.7l-8.2-.5 5.2-3.8 8.3.3zM550.3 165.2l-8.3-.3 5.3-3.6 8.2.1zM555.5 161.4l-8.2-.1 5.3-3.6 8.2.1zM542 164.9l-8.2-.1 5.3-3.6 8.2.1zM547.3 161.3l-8.2-.1 5.2-3.5 8.3 0zM552.6 157.7l-8.3 0 5.3-3.5 8.3 0zM539.1 161.2l-8.3 0 5.3-3.5 8.2 0zM544.3 157.7l-8.2 0 5.3-3.5 8.2 0zM549.6 154.2l-8.2 0 5.3-3.6 8.2.1zM536.1 157.7l-8.2.2 5.2-3.6 8.3-.1zM541.4 154.2l-8.3.1 5.3-3.6 8.3-.1zM546.7 150.6l-8.3.1 5.3-3.6 8.2 0zM533.1 154.3l-8.2.4 5.3-3.7 8.2-.3zM538.4 150.7l-8.2.3 5.3-3.7 8.2-.2zM530.2 151l-8.3.5 5.3-3.8 8.3-.4zM535.5 147.3l-8.3.4 5.3-3.8 8.2-.2zM527.2 147.7l-8.2.5 5.3-3.9 8.2-.4zM532.5 143.9l-8.2.4 5.2-3.7 8.3-.3zM524.3 144.3l-8.3.6 5.3-4 8.2-.3zM529.5 140.6l-8.2.3 5.3-3.7 8.2-.2zM521.3 140.9l-8.2.5 5.2-3.9 8.3-.3zM526.6 137.2l-8.3.3 5.3-3.7 8.2-.1zM518.3 137.5l-8.2.4 5.3-3.9 8.2-.2zM523.6 133.8l-8.2.2 5.2-3.5 8.3 0zM515.4 134l-8.3.3 5.3-3.8 8.2 0zM520.6 130.5l-8.2 0 5.3-3.5 8.2.2zM512.4 130.5l-8.2.2 5.2-3.7 8.3 0zM517.7 127l-8.3 0 5.3-3.6 8.2.4zM509.4 127l-8.2-.1 5.3-3.8 8.2.3zM514.7 123.4l-8.2-.3 5.2-3.6 8.3.6zM501.2 126.9l-8.2-.1 5.2-4 8.3.3zM506.5 123.1l-8.3-.3 5.3-3.8 8.2.5zM498.2 122.8l-8.2-.3 5.3-4 8.2.5zM503.5 119l-8.2-.5 5.2-3.8 8.3.7zM490 122.5l-8.2-.3 5.2-4.2 8.3.5zM495.3 118.5l-8.3-.5 5.3-3.9 8.2.6zM487 118l-8.2-.4 5.3-4.1 8.2.6zM492.3 114.1l-8.2-.6 5.2-3.8 8.3.7zM478.8 117.6l-8.2-.4 5.2-4.2 8.3.5zM484.1 113.5l-8.3-.5 5.3-3.9 8.2.6zM475.8 113l-8.2-.5 5.3-4.1 8.2.7zM481.1 109.1l-8.2-.7 5.2-3.6 8.3.8zM467.6 112.5l-8.2-.5 5.2-4.2 8.3.6zM472.9 108.4l-8.3-.6 5.3-3.8 8.2.8zM459.4 112l-8.3-.6 5.3-4.3 8.2.7zM464.6 107.8l-8.2-.7 5.3-3.9 8.2.8zM456.4 107.1l-8.2-.7 5.2-4.1 8.3.9zM461.7 103.2l-8.3-.9 5.3-3.5 8.2 1zM448.2 106.4l-8.3-.7 5.3-4.2 8.2.8zM453.4 102.3l-8.2-.8 5.3-3.7 8.2 1zM439.9 105.7l-8.2-.7 5.3-4.5 8.2 1zM445.2 101.5l-8.2-1 5.2-3.8 8.3 1.1zM431.7 105l-8.2-.7 5.2-4.7 8.3.9zM437 100.5l-8.3-.9 5.3-4 8.2 1.1zM442.2 96.7l-8.2-1.1 5.3-3.4 8.2 1.2zM428.7 99.6l-8.2-.9 5.3-4.2 8.2 1.1zM434 95.6l-8.2-1.1 5.2-3.5 8.3 1.2zM420.5 98.7l-8.2-.9 5.2-4.4 8.3 1.1zM425.8 94.5l-8.3-1.1 5.3-3.6 8.2 1.2zM412.3 97.8l-8.3-.9 5.3-4.6 8.2 1.1zM417.5 93.4l-8.2-1.1 5.3-3.7 8.2 1.2zM404 96.9l-8.2-.9 5.3-4.7 8.2 1zM409.3 92.3l-8.2-1 5.2-3.9 8.3 1.2zM395.8 96l-8.2-.8 5.2-4.9 8.3 1zM401.1 91.3l-8.3-1 5.3-4 8.2 1.1zM392.8 90.3l-8.2-.9 5.3-4.1 8.2 1zM398.1 86.3l-8.2-1 5.2-3.3 8.3 1.1zM384.6 89.4l-8.2-.8 5.2-4.2 8.3.9zM389.9 85.3l-8.3-.9 5.3-3.4 8.2 1zM442.6 65.2l-8.3-.7 5.3-1.5 8.2.6zM447.8 63.6l-8.2-.6 5.3-1.5 8.2.4zM453.1 61.9l-8.2-.4 5.2-1.6 8.3.4zM458.4 60.3l-8.3-.4 5.3-1.6 8.2.3zM376.4 88.6l-8.3-.7 5.3-4.3 8.2.8zM381.6 84.4l-8.2-.8 5.3-3.5 8.2.9zM423.8 67.6l-8.3-.9 5.3-1.4 8.3.7zM429.1 66l-8.3-.7 5.3-1.5 8.2.7zM434.3 64.5l-8.2-.7 5.3-1.4 8.2.6zM439.6 63l-8.2-.6 5.2-1.4 8.3.5zM444.9 61.5l-8.3-.5 5.3-1.5 8.2.4zM450.1 59.9l-8.2-.4 5.3-1.5 8.2.3zM368.1 87.9l-8.2-.6 5.3-4.5 8.2.8zM373.4 83.6l-8.2-.8 5.2-3.6 8.3.9zM378.7 80.1l-8.3-.9 5.3-2.9 8.2.9zM410.3 68.2l-8.3-1 5.3-1.4 8.2.9zM415.5 66.7l-8.2-.9 5.3-1.3 8.2.8zM420.8 65.3l-8.2-.8 5.3-1.4 8.2.7zM426.1 63.8l-8.2-.7 5.2-1.3 8.3.6zM431.4 62.4l-8.3-.6 5.3-1.3 8.2.5zM436.6 61l-8.2-.5 5.3-1.4 8.2.4zM441.9 59.5l-8.2-.4 5.2-1.5 8.3.4zM365.2 82.8l-8.3-.8 5.3-3.7 8.2.9zM370.4 79.2l-8.2-.9 5.3-3 8.2 1zM375.7 76.3l-8.2-1 5.2-2.4 8.3 1zM391.5 70.3l-8.2-1 5.2-1.6 8.3 1zM396.8 68.7l-8.3-1 5.3-1.4 8.2.9zM402 67.2l-8.2-.9 5.3-1.4 8.2.9zM407.3 65.8l-8.2-.9 5.2-1.2 8.3.8zM412.6 64.5l-8.3-.8 5.3-1.3 8.3.7zM417.9 63.1l-8.3-.7 5.3-1.2 8.2.6zM423.1 61.8l-8.2-.6 5.3-1.3 8.2.6zM428.4 60.5l-8.2-.6 5.2-1.3 8.3.5zM433.7 59.1l-8.3-.5 5.3-1.4 8.2.4zM356.9 82l-8.2-.8 5.3-3.8 8.2.9zM362.2 78.3l-8.2-.9 5.2-3 8.3.9zM367.5 75.3l-8.3-.9 5.3-2.5 8.2 1zM372.7 72.9l-8.2-1 5.3-2 8.2 1.1zM378 71l-8.2-1.1 5.2-1.7 8.3 1.1zM383.3 69.3l-8.3-1.1 5.3-1.5 8.2 1zM388.5 67.7l-8.2-1 5.3-1.4 8.2 1zM393.8 66.3l-8.2-1 5.2-1.3 8.3.9zM399.1 64.9l-8.3-.9 5.3-1.2 8.2.9zM404.3 63.7l-8.2-.9 5.3-1.2 8.2.8zM409.6 62.4l-8.2-.8 5.3-1.2 8.2.8zM414.9 61.2l-8.2-.8 5.2-1.1 8.3.6zM348.7 81.2l-8.2-.9 5.2-3.9 8.3 1zM354 77.4l-8.3-1 5.3-3.1 8.2 1.1zM359.2 74.4l-8.2-1.1 5.3-2.5 8.2 1.1zM364.5 71.9l-8.2-1.1 5.2-2 8.3 1.1zM369.8 69.9l-8.3-1.1 5.3-1.7 8.2 1.1zM375 68.2l-8.2-1.1 5.3-1.5 8.2 1.1zM380.3 66.7l-8.2-1.1 5.2-1.4 8.3 1.1zM385.6 65.3l-8.3-1.1 5.3-1.2 8.2 1zM390.8 64l-8.2-1 5.3-1.2 8.2 1zM396.1 62.8l-8.2-1 5.3-1.1 8.2.9zM401.4 61.6l-8.2-.9 5.2-1.1 8.3.8z"/><path fill="#faf204" stroke="#898502" d="M656 159.8l-8.2-1.7 5.2-2.6 8.3 1.5zM661.3 157l-8.3-1.5 5.3-2.5 8.2 1.5zM666.5 154.5l-8.2-1.5 5.3-2.3 8.2 1.3zM671.8 152l-8.2-1.3 5.2-2.3 8.3 1.3zM677.1 149.7l-8.3-1.3 5.3-2.1 8.2 1.2zM682.3 147.5l-8.2-1.2 5.3-2.1 8.2 1.2zM687.6 145.4l-8.2-1.2 5.3-2 8.2 1.2zM692.9 143.4l-8.2-1.2 5.2-2 8.3 1.3zM698.2 141.5l-8.3-1.3 5.3-1.9 8.2 1.3zM703.4 139.6l-8.2-1.3 5.3-1.9 8.2 1.4zM708.7 137.8l-8.2-1.4 5.2-1.8 8.3 1.4zM714 136l-8.3-1.4 5.3-1.8 8.2 1.4zM719.2 134.2l-8.2-1.4 5.3-1.9 8.2 1.6zM724.5 132.5l-8.2-1.6 5.2-1.8 8.3 1.6zM729.8 130.7l-8.3-1.6 5.3-1.8 8.2 1.6zM735 128.9l-8.2-1.6 5.3-1.8 8.2 1.5zM740.3 127l-8.2-1.5 5.2-1.9 8.3 1.6zM745.6 125.2l-8.3-1.6 5.3-1.9 8.2 1.5zM750.8 123.2l-8.2-1.5 5.3-1.9 8.2 1.5zM756.1 121.3l-8.2-1.5 5.3-2 8.2 1.5zM761.4 119.3l-8.2-1.5 5.2-2 8.3 1.5zM766.7 117.3l-8.3-1.5 5.3-2 8.2 1.5zM771.9 115.3l-8.2-1.5 5.3-2 8.2 1.5zM777.2 113.3l-8.2-1.5 5.2-2 8.3 1.5zM782.5 111.3l-8.3-1.5 5.3-2 8.2 1.5zM787.7 109.3l-8.2-1.5 5.3-1.9 8.2 1.4zM647.8 158.1l-8.3-1.8 5.3-2.4 8.2 1.6zM653 155.5l-8.2-1.6 5.3-2.2 8.2 1.3zM658.3 153l-8.2-1.3 5.2-2.2 8.3 1.2zM663.6 150.7l-8.3-1.2 5.3-2.2 8.2 1.1zM668.8 148.4l-8.2-1.1 5.3-2.2 8.2 1.2zM674.1 146.3l-8.2-1.2 5.2-2.1 8.3 1.2zM679.4 144.2l-8.3-1.2 5.3-2 8.3 1.2zM684.7 142.2l-8.3-1.2 5.3-2.1 8.2 1.3zM689.9 140.2l-8.2-1.3 5.3-2 8.2 1.4zM695.2 138.3l-8.2-1.4 5.2-1.9 8.3 1.4zM700.5 136.4l-8.3-1.4 5.3-1.9 8.2 1.5zM705.7 134.6l-8.2-1.5 5.3-1.9 8.2 1.6zM711 132.8l-8.2-1.6 5.2-1.8 8.3 1.5zM716.3 130.9l-8.3-1.5 5.3-1.8 8.2 1.5zM721.5 129.1l-8.2-1.5 5.3-1.8 8.2 1.5zM726.8 127.3l-8.2-1.5 5.2-1.9 8.3 1.6zM732.1 125.5l-8.3-1.6 5.3-1.8 8.2 1.5zM737.3 123.6l-8.2-1.5 5.3-1.9 8.2 1.5zM742.6 121.7l-8.2-1.5 5.2-2 8.3 1.6zM747.9 119.8l-8.3-1.6 5.3-1.9 8.3 1.5zM753.2 117.8l-8.3-1.5 5.3-2 8.2 1.5zM758.4 115.8l-8.2-1.5 5.3-2 8.2 1.5zM763.7 113.8l-8.2-1.5 5.2-2 8.3 1.5zM769 111.8l-8.3-1.5 5.3-2 8.2 1.5zM774.2 109.8l-8.2-1.5 5.3-1.9 8.2 1.4zM779.5 107.8l-8.2-1.4 5.2-2 8.3 1.5zM634.3 158.9l-8.3-2 5.3-2.4 8.2 1.8zM639.5 156.3l-8.2-1.8 5.3-2.1 8.2 1.5zM644.8 153.9l-8.2-1.5 5.2-2.1 8.3 1.4zM650.1 151.7l-8.3-1.4 5.3-2.1 8.2 1.3zM655.3 149.5l-8.2-1.3 5.3-2.1 8.2 1.2zM660.6 147.3l-8.2-1.2 5.2-2.1 8.3 1.1zM665.9 145.1l-8.3-1.1 5.3-2.1 8.2 1.1zM671.1 143l-8.2-1.1 5.3-2.1 8.2 1.2zM676.4 141l-8.2-1.2 5.3-2.1 8.2 1.2zM681.7 138.9l-8.2-1.2 5.2-2.1 8.3 1.3zM687 136.9l-8.3-1.3 5.3-2 8.2 1.4zM692.2 135l-8.2-1.4 5.3-2 8.2 1.5zM697.5 133.1l-8.2-1.5 5.2-1.9 8.3 1.5zM702.8 131.2l-8.3-1.5 5.3-1.8 8.2 1.5zM708 129.4l-8.2-1.5 5.3-1.9 8.2 1.6zM713.3 127.6l-8.2-1.6 5.2-1.8 8.3 1.6zM718.6 125.8l-8.3-1.6 5.3-1.8 8.2 1.5zM723.8 123.9l-8.2-1.5 5.3-1.9 8.2 1.6zM729.1 122.1l-8.2-1.6 5.2-1.9 8.3 1.6zM734.4 120.2l-8.3-1.6 5.3-1.9 8.2 1.5zM739.6 118.2l-8.2-1.5 5.3-2 8.2 1.6zM744.9 116.3l-8.2-1.6 5.3-1.9 8.2 1.5zM750.2 114.3l-8.2-1.5 5.2-2 8.3 1.5zM755.5 112.3l-8.3-1.5 5.3-2 8.2 1.5zM760.7 110.3l-8.2-1.5 5.3-1.9 8.2 1.4zM766 108.3l-8.2-1.4 5.2-2 8.3 1.5zM620.8 159.5l-8.3-2.1 5.3-2.5 8.2 2zM626 156.9l-8.2-2 5.3-2.1 8.2 1.7zM631.3 154.5l-8.2-1.7 5.2-2 8.3 1.6zM636.6 152.4l-8.3-1.6 5.3-2 8.2 1.5zM641.8 150.3l-8.2-1.5 5.3-1.9 8.2 1.3zM647.1 148.2l-8.2-1.3 5.2-2 8.3 1.2zM652.4 146.1l-8.3-1.2 5.3-2.1 8.2 1.2zM657.6 144l-8.2-1.2 5.3-2.1 8.2 1.2zM662.9 141.9l-8.2-1.2 5.2-2.2 8.3 1.3zM668.2 139.8l-8.3-1.3 5.3-2.1 8.3 1.3zM673.5 137.7l-8.3-1.3 5.3-2.1 8.2 1.3zM678.7 135.6l-8.2-1.3 5.3-2.1 8.2 1.4zM684 133.6l-8.2-1.4 5.2-2 8.3 1.4zM689.3 131.6l-8.3-1.4 5.3-2 8.2 1.5zM694.5 129.7l-8.2-1.5 5.3-1.9 8.2 1.6zM699.8 127.9l-8.2-1.6 5.2-1.8 8.3 1.5zM705.1 126l-8.3-1.5 5.3-1.9 8.2 1.6zM710.3 124.2l-8.2-1.6 5.3-1.8 8.2 1.6zM715.6 122.4l-8.2-1.6 5.2-1.9 8.3 1.6zM720.9 120.5l-8.3-1.6 5.3-1.9 8.2 1.6zM726.1 118.6l-8.2-1.6 5.3-1.9 8.2 1.6zM731.4 116.7l-8.2-1.6 5.2-1.9 8.3 1.5zM736.7 114.7l-8.3-1.5 5.3-2 8.3 1.6zM742 112.8l-8.3-1.6 5.3-1.9 8.2 1.5zM747.2 110.8l-8.2-1.5 5.3-2 8.2 1.5zM752.5 108.8l-8.2-1.5 5.2-1.9 8.3 1.5zM757.8 106.9l-8.3-1.5 5.3-2 8.2 1.5zM607.3 160.2l-8.3-2 5.3-2.7 8.2 1.9zM612.5 157.4l-8.2-1.9 5.3-2.4 8.2 1.8zM617.8 154.9l-8.2-1.8 5.2-2.1 8.3 1.8zM623.1 152.8l-8.3-1.8 5.3-1.9 8.2 1.7zM628.3 150.8l-8.2-1.7 5.3-1.8 8.2 1.5zM633.6 148.8l-8.2-1.5 5.2-1.8 8.3 1.4zM638.9 146.9l-8.3-1.4 5.3-2 8.2 1.4zM644.1 144.9l-8.2-1.4 5.3-2 8.2 1.3zM649.4 142.8l-8.2-1.3 5.2-2.1 8.3 1.3zM654.7 140.7l-8.3-1.3 5.3-2.2 8.2 1.3zM659.9 138.5l-8.2-1.3 5.3-2.2 8.2 1.4zM665.2 136.4l-8.2-1.4 5.3-2.1 8.2 1.4zM670.5 134.3l-8.2-1.4 5.2-2.1 8.3 1.4zM675.8 132.2l-8.3-1.4 5.3-2 8.2 1.4zM681 130.2l-8.2-1.4 5.3-2 8.2 1.4zM686.3 128.2l-8.2-1.4 5.2-1.9 8.3 1.4zM691.6 126.3l-8.3-1.4 5.3-1.9 8.2 1.5zM696.8 124.5l-8.2-1.5 5.3-1.9 8.2 1.5zM702.1 122.6l-8.2-1.5 5.2-1.8 8.3 1.5zM707.4 120.8l-8.3-1.5 5.3-1.9 8.2 1.5zM712.6 118.9l-8.2-1.5 5.3-1.9 8.2 1.5zM717.9 117l-8.2-1.5 5.2-1.9 8.3 1.5zM723.2 115.1l-8.3-1.5 5.3-1.9 8.2 1.5zM728.4 113.2l-8.2-1.5 5.3-2 8.2 1.5zM733.7 111.2l-8.2-1.5 5.3-1.9 8.2 1.5zM739 109.3l-8.2-1.5 5.2-2 8.3 1.5zM744.3 107.3l-8.3-1.5 5.3-1.9 8.2 1.5zM749.5 105.4l-8.2-1.5 5.3-1.9 8.2 1.4zM599 158.2l-8.2-1.6 5.3-2.7 8.2 1.6zM604.3 155.5l-8.2-1.6 5.2-2.4 8.3 1.6zM609.6 153.1l-8.3-1.6 5.3-2.1 8.2 1.6zM614.8 151l-8.2-1.6 5.3-1.9 8.2 1.6zM620.1 149.1l-8.2-1.6 5.2-1.8 8.3 1.6zM625.4 147.3l-8.3-1.6 5.3-1.8 8.2 1.6zM630.6 145.5l-8.2-1.6 5.3-1.9 8.2 1.5zM635.9 143.5l-8.2-1.5 5.2-2 8.3 1.5zM641.2 141.5l-8.3-1.5 5.3-2.1 8.2 1.5zM646.4 139.4l-8.2-1.5 5.3-2.2 8.2 1.5zM651.7 137.2l-8.2-1.5 5.2-2.1 8.3 1.4zM657 135l-8.3-1.4 5.3-2.1 8.3 1.4zM662.3 132.9l-8.3-1.4 5.3-2.1 8.2 1.4zM667.5 130.8l-8.2-1.4 5.3-2 8.2 1.4zM672.8 128.8l-8.2-1.4 5.2-2 8.3 1.4zM678.1 126.8l-8.3-1.4 5.3-1.9 8.2 1.4zM683.3 124.9l-8.2-1.4 5.3-1.9 8.2 1.4zM688.6 123l-8.2-1.4 5.2-1.9 8.3 1.4zM693.9 121.1l-8.3-1.4 5.3-1.9 8.2 1.5zM699.1 119.3l-8.2-1.5 5.3-1.9 8.2 1.5zM704.4 117.4l-8.2-1.5 5.2-1.9 8.3 1.5zM709.7 115.5l-8.3-1.5 5.3-1.9 8.2 1.5zM714.9 113.6l-8.2-1.5 5.3-1.9 8.2 1.5zM720.2 111.7l-8.2-1.5 5.2-2 8.3 1.5zM725.5 109.7l-8.3-1.5 5.3-1.9 8.3 1.5zM730.8 107.8l-8.3-1.5 5.3-1.9 8.2 1.4zM736 105.8l-8.2-1.4 5.3-1.9 8.2 1.4zM590.8 156.6l-8.2-1.1 5.2-2.9 8.3 1.3zM596.1 153.9l-8.3-1.3 5.3-2.5 8.2 1.4zM601.3 151.5l-8.2-1.4 5.3-2.2 8.2 1.5zM606.6 149.4l-8.2-1.5 5.2-2 8.3 1.6zM611.9 147.5l-8.3-1.6 5.3-1.9 8.2 1.7zM617.1 145.7l-8.2-1.7 5.3-1.9 8.2 1.8zM622.4 143.9l-8.2-1.8 5.2-2 8.3 1.9zM627.7 142l-8.3-1.9 5.3-1.9 8.2 1.8zM632.9 140l-8.2-1.8 5.3-2.1 8.2 1.8zM638.2 137.9l-8.2-1.8 5.2-2 8.3 1.6zM643.5 135.7l-8.3-1.6 5.3-2 8.2 1.5zM648.7 133.6l-8.2-1.5 5.3-2.1 8.2 1.5zM654 131.5l-8.2-1.5 5.3-2 8.2 1.4zM659.3 129.4l-8.2-1.4 5.2-2 8.3 1.4zM664.6 127.4l-8.3-1.4 5.3-1.9 8.2 1.3zM669.8 125.4l-8.2-1.3 5.3-2 8.2 1.4zM675.1 123.5l-8.2-1.4 5.2-1.9 8.3 1.4zM680.4 121.6l-8.3-1.4 5.3-1.9 8.2 1.4zM685.6 119.7l-8.2-1.4 5.3-1.9 8.2 1.4zM690.9 117.8l-8.2-1.4 5.2-1.9 8.3 1.4zM696.2 115.9l-8.3-1.4 5.3-1.9 8.2 1.4zM701.4 114l-8.2-1.4 5.3-2 8.2 1.5zM706.7 112.1l-8.2-1.5 5.2-1.9 8.3 1.5zM712 110.2l-8.3-1.5 5.3-1.9 8.2 1.4zM717.2 108.2l-8.2-1.4 5.3-1.9 8.2 1.4zM722.5 106.3l-8.2-1.4 5.3-2 8.2 1.5zM727.8 104.4l-8.2-1.5 5.2-1.9 8.3 1.5zM587.8 152.6l-8.2-.8 5.3-2.7 8.2 1zM593.1 150.1l-8.2-1 5.2-2.5 8.3 1.3zM598.4 147.9l-8.3-1.3 5.3-2.3 8.2 1.6zM603.6 145.9l-8.2-1.6 5.3-2.1 8.2 1.8zM608.9 144l-8.2-1.8 5.2-2 8.3 1.9zM614.2 142.1l-8.3-1.9 5.3-2 8.2 1.9zM619.4 140.1l-8.2-1.9 5.3-2 8.2 2zM624.7 138.2l-8.2-2 5.2-1.9 8.3 1.8zM630 136.1l-8.3-1.8 5.3-2 8.2 1.8zM635.2 134.1l-8.2-1.8 5.3-1.9 8.2 1.7zM640.5 132.1l-8.2-1.7 5.2-1.9 8.3 1.5zM645.8 130l-8.3-1.5 5.3-1.9 8.3 1.4zM651.1 128l-8.3-1.4 5.3-1.9 8.2 1.3zM656.3 126l-8.2-1.3 5.3-1.9 8.2 1.3zM661.6 124.1l-8.2-1.3 5.2-1.9 8.3 1.2zM666.9 122.1l-8.3-1.2 5.3-2 8.2 1.3zM672.1 120.2l-8.2-1.3 5.3-1.9 8.2 1.3zM677.4 118.3l-8.2-1.3 5.2-2 8.3 1.4zM682.7 116.4l-8.3-1.4 5.3-1.9 8.2 1.4zM687.9 114.5l-8.2-1.4 5.3-1.9 8.2 1.4zM693.2 112.6l-8.2-1.4 5.2-2 8.3 1.4zM698.5 110.6l-8.3-1.4 5.3-1.9 8.2 1.4zM703.7 108.7l-8.2-1.4 5.3-1.9 8.2 1.4zM709 106.8l-8.2-1.4 5.2-2 8.3 1.5zM714.3 104.9l-8.3-1.5 5.3-1.9 8.3 1.4zM719.6 102.9l-8.3-1.4 5.3-1.9 8.2 1.4zM579.6 151.8l-8.2-.6 5.2-2.9 8.3.8zM584.9 149.1l-8.3-.8 5.3-2.8 8.2 1.1zM590.1 146.6l-8.2-1.1 5.3-2.6 8.2 1.4zM595.4 144.3l-8.2-1.4 5.2-2.4 8.3 1.7zM600.7 142.2l-8.3-1.7 5.3-2.2 8.2 1.9zM605.9 140.2l-8.2-1.9 5.3-2.1 8.2 2zM611.2 138.2l-8.2-2 5.2-2 8.3 2zM616.5 136.2l-8.3-2 5.3-1.8 8.2 1.9zM621.7 134.3l-8.2-1.9 5.3-1.8 8.2 1.7zM627 132.3l-8.2-1.7 5.2-1.8 8.3 1.6zM632.3 130.4l-8.3-1.6 5.3-1.7 8.2 1.4zM637.5 128.5l-8.2-1.4 5.3-1.8 8.2 1.3zM642.8 126.6l-8.2-1.3 5.3-1.9 8.2 1.3zM648.1 124.7l-8.2-1.3 5.2-1.9 8.3 1.3zM653.4 122.8l-8.3-1.3 5.3-1.9 8.2 1.3zM658.6 120.9l-8.2-1.3 5.3-1.9 8.2 1.2zM663.9 118.9l-8.2-1.2 5.2-2 8.3 1.3zM669.2 117l-8.3-1.3 5.3-2 8.2 1.3zM674.4 115l-8.2-1.3 5.3-1.9 8.2 1.3zM679.7 113.1l-8.2-1.3 5.2-2 8.3 1.4zM685 111.2l-8.3-1.4 5.3-2 8.2 1.4zM690.2 109.2l-8.2-1.4 5.3-1.9 8.2 1.4zM695.5 107.3l-8.2-1.4 5.2-2 8.3 1.5zM700.8 105.4l-8.3-1.5 5.3-1.9 8.2 1.4zM706 103.4l-8.2-1.4 5.3-1.9 8.2 1.4zM711.3 101.5l-8.2-1.4 5.3-1.9 8.2 1.4zM716.6 99.6l-8.2-1.4 5.2-1.9 8.3 1.4zM576.6 148.3l-8.2-.6 5.3-3.1 8.2.9zM581.9 145.5l-8.2-.9 5.2-2.8 8.3 1.1zM587.2 142.9l-8.3-1.1 5.3-2.7 8.2 1.4zM592.4 140.5l-8.2-1.4 5.3-2.4 8.2 1.6zM597.7 138.3l-8.2-1.6 5.2-2.2 8.3 1.7zM603 136.2l-8.3-1.7 5.3-2 8.2 1.7zM608.2 134.2l-8.2-1.7 5.3-1.8 8.2 1.7zM613.5 132.4l-8.2-1.7 5.2-1.7 8.3 1.6zM618.8 130.6l-8.3-1.6 5.3-1.7 8.2 1.5zM624 128.8l-8.2-1.5 5.3-1.6 8.2 1.4zM629.3 127.1l-8.2-1.4 5.3-1.7 8.2 1.3zM634.6 125.3l-8.2-1.3 5.2-1.8 8.3 1.2zM639.9 123.4l-8.3-1.2 5.3-1.9 8.2 1.2zM645.1 121.5l-8.2-1.2 5.3-1.9 8.2 1.2zM650.4 119.6l-8.2-1.2 5.2-2 8.3 1.3zM655.7 117.7l-8.3-1.3 5.3-2 8.2 1.3zM660.9 115.7l-8.2-1.3 5.3-2 8.2 1.3zM666.2 113.7l-8.2-1.3 5.2-2 8.3 1.4zM671.5 111.8l-8.3-1.4 5.3-2 8.2 1.4zM676.7 109.8l-8.2-1.4 5.3-1.9 8.2 1.3zM682 107.8l-8.2-1.3 5.2-2 8.3 1.4zM687.3 105.9l-8.3-1.4 5.3-2 8.2 1.4zM692.5 103.9l-8.2-1.4 5.3-1.9 8.2 1.4zM697.8 102l-8.2-1.4 5.3-1.9 8.2 1.4zM703.1 100.1l-8.2-1.4 5.2-2 8.3 1.5zM708.4 98.2l-8.3-1.5 5.3-1.9 8.2 1.5zM573.7 144.6l-8.3-.6 5.3-3.1 8.2.9zM578.9 141.8l-8.2-.9 5.3-2.9 8.2 1.1zM584.2 139.1l-8.2-1.1 5.2-2.6 8.3 1.3zM589.5 136.7l-8.3-1.3 5.3-2.3 8.2 1.4zM594.7 134.5l-8.2-1.4 5.3-2 8.2 1.4zM600 132.5l-8.2-1.4 5.2-1.8 8.3 1.4zM605.3 130.7l-8.3-1.4 5.3-1.7 8.2 1.4zM610.5 129l-8.2-1.4 5.3-1.7 8.2 1.4zM615.8 127.3l-8.2-1.4 5.2-1.6 8.3 1.4zM621.1 125.7l-8.3-1.4 5.3-1.6 8.3 1.3zM626.4 124l-8.3-1.3 5.3-1.8 8.2 1.3zM631.6 122.2l-8.2-1.3 5.3-1.8 8.2 1.2zM636.9 120.3l-8.2-1.2 5.2-2 8.3 1.3zM642.2 118.4l-8.3-1.3 5.3-1.9 8.2 1.2zM647.4 116.4l-8.2-1.2 5.3-2.1 8.2 1.3zM652.7 114.4l-8.2-1.3 5.2-2 8.3 1.3zM658 112.4l-8.3-1.3 5.3-2 8.2 1.3zM663.2 110.4l-8.2-1.3 5.3-2 8.2 1.3zM668.5 108.4l-8.2-1.3 5.2-2 8.3 1.4zM673.8 106.5l-8.3-1.4 5.3-2 8.2 1.4zM679 104.5l-8.2-1.4 5.3-2 8.2 1.4zM684.3 102.5l-8.2-1.4 5.2-1.9 8.3 1.4zM689.6 100.6l-8.3-1.4 5.3-2 8.3 1.5zM694.9 98.7l-8.3-1.5 5.3-1.9 8.2 1.4zM700.1 96.7l-8.2-1.4 5.3-2 8.2 1.5zM565.4 144l-8.2-.3 5.3-3.3 8.2.5zM570.7 140.9l-8.2-.5 5.2-3 8.3.6zM576 138l-8.3-.6 5.3-2.8 8.2.8zM581.2 135.4l-8.2-.8 5.3-2.4 8.2.9zM586.5 133.1l-8.2-.9 5.2-2.1 8.3 1zM591.8 131.1l-8.3-1 5.3-1.9 8.2 1.1zM597 129.3l-8.2-1.1 5.3-1.8 8.2 1.2zM602.3 127.6l-8.2-1.2 5.2-1.6 8.3 1.1zM607.6 125.9l-8.3-1.1 5.3-1.7 8.2 1.2zM612.8 124.3l-8.2-1.2 5.3-1.6 8.2 1.2zM618.1 122.7l-8.2-1.2 5.3-1.8 8.2 1.2zM623.4 120.9l-8.2-1.2 5.2-1.9 8.3 1.3zM628.7 119.1l-8.3-1.3 5.3-1.9 8.2 1.2zM633.9 117.1l-8.2-1.2 5.3-2 8.2 1.3zM639.2 115.2l-8.2-1.3 5.2-2.1 8.3 1.3zM644.5 113.1l-8.3-1.3 5.3-2 8.2 1.3zM649.7 111.1l-8.2-1.3 5.3-2.1 8.2 1.4zM655 109.1l-8.2-1.4 5.2-2 8.3 1.4zM660.3 107.1l-8.3-1.4 5.3-2 8.2 1.4zM665.5 105.1l-8.2-1.4 5.3-2 8.2 1.4zM670.8 103.1l-8.2-1.4 5.2-2 8.3 1.4zM676.1 101.1l-8.3-1.4 5.3-2 8.2 1.5zM681.3 99.2l-8.2-1.5 5.3-2 8.2 1.5zM686.6 97.2l-8.2-1.5 5.3-1.9 8.2 1.5zM562.5 140.4l-8.3-.2 5.3-3.2 8.2.4zM567.7 137.4l-8.2-.4 5.3-2.9 8.2.5zM573 134.6l-8.2-.5 5.2-2.5 8.3.6zM578.3 132.2l-8.3-.6 5.3-2.3 8.2.8zM583.5 130.1l-8.2-.8 5.3-2 8.2.9zM588.8 128.2l-8.2-.9 5.2-1.8 8.3.9zM594.1 126.4l-8.3-.9 5.3-1.8 8.2 1.1zM599.3 124.8l-8.2-1.1 5.3-1.7 8.2 1.1zM604.6 123.1l-8.2-1.1 5.2-1.7 8.3 1.2zM609.9 121.5l-8.3-1.2 5.3-1.8 8.3 1.2zM615.2 119.7l-8.3-1.2 5.3-2 8.2 1.3zM620.4 117.8l-8.2-1.3 5.3-1.9 8.2 1.3zM625.7 115.9l-8.2-1.3 5.2-2.1 8.3 1.4zM631 113.9l-8.3-1.4 5.3-2 8.2 1.3zM636.2 111.8l-8.2-1.3 5.3-2.1 8.2 1.4zM641.5 109.8l-8.2-1.4 5.2-2 8.3 1.3zM646.8 107.7l-8.3-1.3 5.3-2.1 8.2 1.4zM652 105.7l-8.2-1.4 5.3-2 8.2 1.4zM657.3 103.7l-8.2-1.4 5.2-2 8.3 1.4zM662.6 101.7l-8.3-1.4 5.3-2 8.2 1.4zM667.8 99.7l-8.2-1.4 5.3-2 8.2 1.4zM673.1 97.7l-8.2-1.4 5.2-2 8.3 1.4zM678.4 95.7l-8.3-1.4 5.3-2 8.3 1.5zM559.5 137l-8.2-.1 5.2-3 8.3.2zM564.8 134.1l-8.3-.2 5.3-2.7 8.2.4zM570 131.6l-8.2-.4 5.3-2.4 8.2.5zM575.3 129.3l-8.2-.5 5.2-2.1 8.3.6zM580.6 127.3l-8.3-.6 5.3-2 8.2.8zM585.8 125.5l-8.2-.8 5.3-1.9 8.2.9zM591.1 123.7l-8.2-.9 5.2-1.8 8.3 1zM596.4 122l-8.3-1 5.3-1.8 8.2 1.1zM601.6 120.3l-8.2-1.1 5.3-1.9 8.2 1.2zM606.9 118.5l-8.2-1.2 5.3-2 8.2 1.2zM612.2 116.5l-8.2-1.2 5.2-2 8.3 1.3zM617.5 114.6l-8.3-1.3 5.3-2 8.2 1.2zM622.7 112.5l-8.2-1.2 5.3-2.1 8.2 1.3zM628 110.5l-8.2-1.3 5.2-2.1 8.3 1.3zM633.3 108.4l-8.3-1.3 5.3-2.1 8.2 1.4zM638.5 106.4l-8.2-1.4 5.3-2 8.2 1.3zM643.8 104.3l-8.2-1.3 5.2-2.1 8.3 1.4zM649.1 102.3l-8.3-1.4 5.3-2 8.2 1.4zM654.3 100.3l-8.2-1.4 5.3-2.1 8.2 1.5zM659.6 98.3l-8.2-1.5 5.2-2 8.3 1.5zM664.9 96.3l-8.3-1.5 5.3-2 8.2 1.5zM561.8 131.2l-8.2-.3 5.2-2.5 8.3.4zM567.1 128.8l-8.3-.4 5.3-2.3 8.2.6zM572.3 126.7l-8.2-.6 5.3-2.1 8.2.7zM577.6 124.7l-8.2-.7 5.2-2 8.3.8zM582.9 122.8l-8.3-.8 5.3-2 8.2 1zM588.1 121l-8.2-1 5.3-1.9 8.2 1.1zM593.4 119.2l-8.2-1.1 5.2-2 8.3 1.2zM598.7 117.3l-8.3-1.2 5.3-2 8.3 1.2zM604 115.3l-8.3-1.2 5.3-2 8.2 1.2zM609.2 113.3l-8.2-1.2 5.3-2.1 8.2 1.3zM614.5 111.3l-8.2-1.3 5.2-2.1 8.3 1.3zM619.8 109.2l-8.3-1.3 5.3-2.1 8.2 1.3zM625 107.1l-8.2-1.3 5.3-2.1 8.2 1.3zM630.3 105l-8.2-1.3 5.2-2 8.3 1.3zM635.6 103l-8.3-1.3 5.3-2.1 8.2 1.3zM640.8 100.9l-8.2-1.3 5.3-2.1 8.2 1.4zM646.1 98.9l-8.2-1.4 5.2-2 8.3 1.3zM651.4 96.8l-8.3-1.3 5.3-2.1 8.2 1.4zM656.6 94.8l-8.2-1.4 5.3-2 8.2 1.4zM558.8 128.4l-8.2-.4 5.3-2.4 8.2.5zM564.1 126.1l-8.2-.5 5.2-2.3 8.3.7zM569.4 124l-8.3-.7 5.3-2.1 8.2.8zM574.6 122l-8.2-.8 5.3-2.1 8.2.9zM579.9 120l-8.2-.9 5.2-2 8.3 1zM585.2 118.1l-8.3-1 5.3-2.1 8.2 1.1zM590.4 116.1l-8.2-1.1 5.3-2 8.2 1.1zM595.7 114.1l-8.2-1.1 5.3-2.1 8.2 1.2zM601 112.1l-8.2-1.2 5.2-2.1 8.3 1.2zM606.3 110l-8.3-1.2 5.3-2.1 8.2 1.2zM611.5 107.9l-8.2-1.2 5.3-2.1 8.2 1.2zM616.8 105.8l-8.2-1.2 5.2-2.1 8.3 1.2zM622.1 103.7l-8.3-1.2 5.3-2.1 8.2 1.3zM627.3 101.7l-8.2-1.3 5.3-2.1 8.2 1.3zM632.6 99.6l-8.2-1.3 5.2-2.1 8.3 1.3zM637.9 97.5l-8.3-1.3 5.3-2.1 8.2 1.4zM643.1 95.5l-8.2-1.4 5.3-2.1 8.2 1.4zM648.4 93.4l-8.2-1.4 5.2-2 8.3 1.4zM561.1 123.3l-8.2-.7 5.3-2.2 8.2.8zM566.4 121.2l-8.2-.8 5.2-2.2 8.3.9zM571.7 119.1l-8.3-.9 5.3-2.1 8.2 1zM576.9 117.1l-8.2-1 5.3-2.2 8.2 1.1zM582.2 115l-8.2-1.1 5.2-2.1 8.3 1.2zM587.5 113l-8.3-1.2 5.3-2.1 8.3 1.2zM592.8 110.9l-8.3-1.2 5.3-2.1 8.2 1.2zM598 108.8l-8.2-1.2 5.3-2.1 8.2 1.2zM603.3 106.7l-8.2-1.2 5.2-2.1 8.3 1.2zM608.6 104.6l-8.3-1.2 5.3-2.1 8.2 1.2zM613.8 102.5l-8.2-1.2 5.3-2.2 8.2 1.3zM619.1 100.4l-8.2-1.3 5.2-2.1 8.3 1.3zM624.4 98.3l-8.3-1.3 5.3-2.1 8.2 1.3zM629.6 96.2l-8.2-1.3 5.3-2.1 8.2 1.3zM634.9 94.1l-8.2-1.3 5.2-2.1 8.3 1.3zM640.2 92l-8.3-1.3 5.3-2.1 8.2 1.4zM563.4 118.2l-8.2-1 5.3-2.2 8.2 1.1zM568.7 116.1l-8.2-1.1 5.2-2.2 8.3 1.1zM574 113.9l-8.3-1.1 5.3-2.1 8.2 1.1zM579.2 111.8l-8.2-1.1 5.3-2.2 8.2 1.2zM584.5 109.7l-8.2-1.2 5.3-2.1 8.2 1.2zM589.8 107.6l-8.2-1.2 5.2-2.1 8.3 1.2zM595.1 105.5l-8.3-1.2 5.3-2.1 8.2 1.2zM600.3 103.4l-8.2-1.2 5.3-2.2 8.2 1.3zM605.6 101.3l-8.2-1.3 5.2-2.1 8.3 1.2zM610.9 99.1l-8.3-1.2 5.3-2.2 8.2 1.3zM616.1 97l-8.2-1.3 5.3-2.1 8.2 1.3zM621.4 94.9l-8.2-1.3 5.2-2.2 8.3 1.4zM626.7 92.8l-8.3-1.4 5.3-2.1 8.2 1.4zM631.9 90.7l-8.2-1.4 5.3-2.1 8.2 1.4zM560.5 115l-8.3-1.1 5.3-2.3 8.2 1.2zM565.7 112.8l-8.2-1.2 5.3-2.2 8.2 1.3zM571 110.7l-8.2-1.3 5.3-2.2 8.2 1.3zM576.3 108.5l-8.2-1.3 5.2-2.1 8.3 1.3zM581.6 106.4l-8.3-1.3 5.3-2.1 8.2 1.3zM586.8 104.3l-8.2-1.3 5.3-2.1 8.2 1.3zM592.1 102.2l-8.2-1.3 5.2-2.1 8.3 1.2zM597.4 100l-8.3-1.2 5.3-2.2 8.2 1.3zM602.6 97.9l-8.2-1.3 5.3-2.1 8.2 1.2zM607.9 95.7l-8.2-1.2 5.2-2.2 8.3 1.3zM613.2 93.6l-8.3-1.3 5.3-2.2 8.2 1.3zM618.4 91.4l-8.2-1.3 5.3-2.1 8.2 1.3zM623.7 89.3l-8.2-1.3 5.2-2.2 8.3 1.4zM629 87.2l-8.3-1.4 5.3-2.1 8.2 1.4zM552.2 113.9l-8.2-1.2 5.3-2.4 8.2 1.3zM557.5 111.6l-8.2-1.3 5.2-2.3 8.3 1.4zM562.8 109.4l-8.3-1.4 5.3-2.1 8.3 1.3zM568.1 107.2l-8.3-1.3 5.3-2.1 8.2 1.3zM573.3 105.1l-8.2-1.3 5.3-2.1 8.2 1.3zM578.6 103l-8.2-1.3 5.2-2.1 8.3 1.3zM583.9 100.9l-8.3-1.3 5.3-2.1 8.2 1.3zM589.1 98.8l-8.2-1.3 5.3-2.1 8.2 1.2zM594.4 96.6l-8.2-1.2 5.2-2.2 8.3 1.3zM599.7 94.5l-8.3-1.3 5.3-2.2 8.2 1.3zM604.9 92.3l-8.2-1.3 5.3-2.2 8.2 1.3zM610.2 90.1l-8.2-1.3 5.2-2.2 8.3 1.4zM615.5 88l-8.3-1.4 5.3-2.2 8.2 1.4zM620.7 85.8l-8.2-1.4 5.3-2.1 8.2 1.4zM549.3 110.3l-8.3-1.4 5.3-2.3 8.2 1.4zM554.5 108l-8.2-1.4 5.3-2.2 8.2 1.5zM559.8 105.9l-8.2-1.5 5.3-2.1 8.2 1.5zM565.1 103.8l-8.2-1.5 5.2-2 8.3 1.4zM570.4 101.7l-8.3-1.4 5.3-2.1 8.2 1.4zM575.6 99.6l-8.2-1.4 5.3-2 8.2 1.3zM580.9 97.5l-8.2-1.3 5.2-2.2 8.3 1.4zM586.2 95.4l-8.3-1.4 5.3-2.1 8.2 1.3zM591.4 93.2l-8.2-1.3 5.3-2.2 8.2 1.3zM596.7 91l-8.2-1.3 5.2-2.2 8.3 1.3zM602 88.8l-8.3-1.3 5.3-2.2 8.2 1.3zM607.2 86.6l-8.2-1.3 5.3-2.2 8.2 1.3zM612.5 84.4l-8.2-1.3 5.2-2.2 8.3 1.4zM541 108.9l-8.2-1.3 5.3-2.4 8.2 1.4zM546.3 106.6l-8.2-1.4 5.2-2.2 8.3 1.4zM551.6 104.4l-8.3-1.4 5.3-2.1 8.3 1.4zM556.9 102.3l-8.3-1.4 5.3-2 8.2 1.4zM562.1 100.3l-8.2-1.4 5.3-2 8.2 1.3zM567.4 98.2l-8.2-1.3 5.2-2.1 8.3 1.4zM572.7 96.2l-8.3-1.4 5.3-2.1 8.2 1.3zM577.9 94l-8.2-1.3 5.3-2.1 8.2 1.3zM583.2 91.9l-8.2-1.3 5.2-2.2 8.3 1.3zM588.5 89.7l-8.3-1.3 5.3-2.2 8.2 1.3zM593.7 87.5l-8.2-1.3 5.3-2.3 8.2 1.4zM599 85.3l-8.2-1.4 5.2-2.2 8.3 1.4zM604.3 83.1l-8.3-1.4 5.3-2.2 8.2 1.4zM532.8 107.6l-8.2-1.3 5.2-2.4 8.3 1.3zM538.1 105.2l-8.3-1.3 5.3-2.3 8.2 1.4zM543.3 103l-8.2-1.4 5.3-2 8.2 1.3zM548.6 100.9l-8.2-1.3 5.3-2.1 8.2 1.4zM553.9 98.9l-8.2-1.4 5.2-1.9 8.3 1.3zM559.2 96.9l-8.3-1.3 5.3-2.1 8.2 1.3zM564.4 94.8l-8.2-1.3 5.3-2.1 8.2 1.3zM569.7 92.7l-8.2-1.3 5.2-2.1 8.3 1.3zM575 90.6l-8.3-1.3 5.3-2.2 8.2 1.3zM580.2 88.4l-8.2-1.3 5.3-2.3 8.2 1.4zM585.5 86.2l-8.2-1.4 5.2-2.2 8.3 1.3zM590.8 83.9l-8.3-1.3 5.3-2.3 8.2 1.4zM596 81.7l-8.2-1.4 5.3-2.2 8.2 1.4zM524.6 106.3l-8.3-1.1 5.3-2.5 8.2 1.2zM529.8 103.9l-8.2-1.2 5.3-2.3 8.2 1.2zM535.1 101.6l-8.2-1.2 5.2-2.1 8.3 1.3zM540.4 99.6l-8.3-1.3 5.3-2 8.3 1.2zM545.7 97.5l-8.3-1.2 5.3-2 8.2 1.3zM550.9 95.6l-8.2-1.3 5.3-2 8.2 1.2zM556.2 93.5l-8.2-1.2 5.2-2.1 8.3 1.2zM561.5 91.4l-8.3-1.2 5.3-2.2 8.2 1.3zM566.7 89.3l-8.2-1.3 5.3-2.2 8.2 1.3zM572 87.1l-8.2-1.3 5.2-2.2 8.3 1.2zM577.3 84.8l-8.3-1.2 5.3-2.3 8.2 1.3zM582.5 82.6l-8.2-1.3 5.3-2.3 8.2 1.3zM587.8 80.3l-8.2-1.3 5.2-2.2 8.3 1.3zM521.6 102.7l-8.2-1.1 5.2-2.3 8.3 1.1zM526.9 100.4l-8.3-1.1 5.3-2.2 8.2 1.2zM532.1 98.3l-8.2-1.2 5.3-2 8.2 1.2zM537.4 96.3l-8.2-1.2 5.3-2 8.2 1.2zM542.7 94.3l-8.2-1.2 5.2-2.1 8.3 1.3zM548 92.3l-8.3-1.3 5.3-2.1 8.2 1.3zM553.2 90.2l-8.2-1.3 5.3-2.1 8.2 1.2zM558.5 88l-8.2-1.2 5.2-2.3 8.3 1.3zM563.8 85.8l-8.3-1.3 5.3-2.2 8.2 1.3zM569 83.6l-8.2-1.3 5.3-2.3 8.2 1.3zM574.3 81.3l-8.2-1.3 5.2-2.3 8.3 1.3zM579.6 79l-8.3-1.3 5.3-2.2 8.2 1.3zM584.8 76.8l-8.2-1.3 5.3-2.2 8.2 1.3zM518.6 99.3l-8.2-1.1 5.3-2.2 8.2 1.1zM523.9 97.1l-8.2-1.1 5.2-2.1 8.3 1.2zM529.2 95.1l-8.3-1.2 5.3-2 8.3 1.2zM534.5 93.1l-8.3-1.2 5.3-2 8.2 1.1zM539.7 91l-8.2-1.1 5.3-2.2 8.2 1.2zM545 88.9l-8.2-1.2 5.2-2.2 8.3 1.3zM550.3 86.8l-8.3-1.3 5.3-2.2 8.2 1.2zM555.5 84.5l-8.2-1.2 5.3-2.3 8.2 1.3zM560.8 82.3l-8.2-1.3 5.2-2.2 8.3 1.2zM566.1 80l-8.3-1.2 5.3-2.3 8.2 1.2zM571.3 77.7l-8.2-1.2 5.3-2.3 8.2 1.3zM576.6 75.5l-8.2-1.3 5.2-2.2 8.3 1.3zM510.4 98.2l-8.2-1 5.2-2.2 8.3 1zM515.7 96l-8.3-1 5.3-2.2 8.2 1.1zM520.9 93.9l-8.2-1.1 5.3-2 8.2 1.1zM526.2 91.9l-8.2-1.1 5.3-2.1 8.2 1.2zM531.5 89.9l-8.2-1.2 5.2-2.2 8.3 1.2zM536.8 87.7l-8.3-1.2 5.3-2.2 8.2 1.2zM542 85.5l-8.2-1.2 5.3-2.2 8.2 1.2zM547.3 83.3l-8.2-1.2 5.2-2.3 8.3 1.2zM552.6 81l-8.3-1.2 5.3-2.3 8.2 1.3zM557.8 78.8l-8.2-1.3 5.3-2.2 8.2 1.2zM563.1 76.5l-8.2-1.2 5.2-2.3 8.3 1.2zM568.4 74.2l-8.3-1.2 5.3-2.2 8.2 1.2zM573.6 72l-8.2-1.2 5.3-2.2 8.2 1.2zM512.7 92.8l-8.2-1.1 5.3-2.1 8.2 1.2zM518 90.8l-8.2-1.2 5.2-2.1 8.3 1.2zM523.3 88.7l-8.3-1.2 5.3-2.1 8.2 1.1zM528.5 86.5l-8.2-1.1 5.3-2.3 8.2 1.2zM533.8 84.3l-8.2-1.2 5.2-2.2 8.3 1.2zM539.1 82.1l-8.3-1.2 5.3-2.3 8.2 1.2zM544.3 79.8l-8.2-1.2 5.3-2.2 8.2 1.1zM549.6 77.5l-8.2-1.1 5.2-2.3 8.3 1.2zM554.9 75.3l-8.3-1.2 5.3-2.2 8.2 1.1zM560.1 73l-8.2-1.1 5.3-2.3 8.2 1.2zM565.4 70.8l-8.2-1.2 5.2-2.1 8.3 1.1zM509.8 89.6l-8.3-1.1 5.3-2.1 8.2 1.1zM515 87.5l-8.2-1.1 5.3-2.2 8.2 1.2zM520.3 85.4l-8.2-1.2 5.2-2.2 8.3 1.1zM525.6 83.1l-8.3-1.1 5.3-2.3 8.2 1.2zM530.8 80.9l-8.2-1.2 5.3-2.2 8.2 1.1zM536.1 78.6l-8.2-1.1 5.2-2.3 8.3 1.2zM541.4 76.4l-8.3-1.2 5.3-2.2 8.2 1.1zM546.6 74.1l-8.2-1.1 5.3-2.3 8.2 1.2zM551.9 71.9l-8.2-1.2 5.2-2.1 8.3 1zM557.2 69.6l-8.3-1 5.3-2.2 8.2 1.1zM506.8 86.4l-8.2-1.2 5.2-2.2 8.3 1.2zM512.1 84.2l-8.3-1.2 5.3-2.2 8.2 1.2zM517.3 82l-8.2-1.2 5.3-2.2 8.2 1.1zM522.6 79.7l-8.2-1.1 5.2-2.2 8.3 1.1zM527.9 77.5l-8.3-1.1 5.3-2.3 8.2 1.1zM533.1 75.2l-8.2-1.1 5.3-2.2 8.2 1.1zM538.4 73l-8.2-1.1 5.2-2.2 8.3 1zM543.7 70.7l-8.3-1 5.3-2.2 8.2 1.1zM548.9 68.6l-8.2-1.1 5.3-2.1 8.2 1zM503.8 83l-8.2-1.1 5.3-2.2 8.2 1.1zM509.1 80.8l-8.2-1.1 5.2-2.2 8.3 1.1zM514.4 78.6l-8.3-1.1 5.3-2.2 8.2 1.1zM519.6 76.4l-8.2-1.1 5.3-2.2 8.2 1zM524.9 74.1l-8.2-1 5.2-2.2 8.3 1zM530.2 71.9l-8.3-1 5.3-2.2 8.2 1zM535.4 69.7l-8.2-1 5.3-2.2 8.2 1zM540.7 67.5l-8.2-1 5.2-2.1 8.3 1zM500.9 79.7l-8.3-1.1 5.3-2.2 8.2 1.1zM506.1 77.5l-8.2-1.1 5.3-2.2 8.2 1.1zM511.4 75.3l-8.2-1.1 5.2-2.2 8.3 1.1zM516.7 73.1l-8.3-1.1 5.3-2.1 8.2 1zM521.9 70.9l-8.2-1 5.3-2.2 8.2 1zM527.2 68.7l-8.2-1 5.2-2.1 8.3.9zM532.5 66.5l-8.3-.9 5.3-2.1 8.2.9zM497.9 76.4l-8.2-1.1 5.2-2.1 8.3 1zM503.2 74.2l-8.3-1 5.3-2.2 8.2 1zM508.4 72l-8.2-1 5.3-2.1 8.2 1zM513.7 69.9l-8.2-1 5.2-2.2 8.3 1zM519 67.7l-8.3-1 5.3-2.1 8.2 1zM524.2 65.6l-8.2-1 5.3-2.1 8.2 1zM494.9 73.2l-8.2-1 5.3-2.1 8.2.9zM500.2 71l-8.2-.9 5.2-2.2 8.3 1zM505.5 68.9l-8.3-1 5.3-2.1 8.2.9zM510.7 66.7l-8.2-.9 5.3-2.1 8.2.9zM516 64.6l-8.2-.9 5.2-2 8.3.8zM497.2 67.9l-8.2-.9 5.3-2 8.2.8zM502.5 65.8l-8.2-.8 5.2-2.1 8.3.8zM507.8 63.7l-8.3-.8 5.3-2 8.2.8z"/><path fill="#fbf900" stroke="#8a8800" d="M771.3 106.4l-8.3-1.5 5.3-1.9 8.2 1.4zM763 104.9l-8.2-1.5 5.3-1.9 8.2 1.5zM754.8 103.4l-8.2-1.4 5.2-1.9 8.3 1.4zM741.3 103.9l-8.2-1.4 5.2-2 8.3 1.5zM746.6 102l-8.3-1.5 5.3-1.9 8.2 1.5zM733.1 102.5l-8.3-1.5 5.3-1.9 8.2 1.4zM738.3 100.5l-8.2-1.4 5.3-1.9 8.2 1.4zM724.8 101l-8.2-1.4 5.3-1.9 8.2 1.4zM730.1 99.1l-8.2-1.4 5.2-1.9 8.3 1.4zM721.9 97.7l-8.3-1.4 5.3-2 8.2 1.5zM713.6 96.3l-8.2-1.5 5.3-1.9 8.2 1.4zM705.4 94.8l-8.2-1.5 5.2-1.9 8.3 1.5zM691.9 95.3l-8.2-1.5 5.2-1.9 8.3 1.4zM697.2 93.3l-8.3-1.4 5.3-2 8.2 1.5zM683.7 93.8l-8.3-1.5 5.3-1.9 8.2 1.5zM688.9 91.9l-8.2-1.5 5.3-2 8.2 1.5zM670.1 94.3l-8.2-1.5 5.3-2 8.2 1.5zM675.4 92.3l-8.2-1.5 5.3-2 8.2 1.6zM680.7 90.4l-8.2-1.6 5.2-1.9 8.3 1.5zM661.9 92.8l-8.2-1.4 5.2-2 8.3 1.4zM667.2 90.8l-8.3-1.4 5.3-2 8.3 1.4zM672.5 88.8l-8.3-1.4 5.3-2 8.2 1.5zM653.7 91.4l-8.3-1.4 5.3-2.1 8.2 1.5zM658.9 89.4l-8.2-1.5 5.3-2 8.2 1.5zM664.2 87.4l-8.2-1.5 5.3-2 8.2 1.5zM645.4 90l-8.2-1.4 5.3-2.1 8.2 1.4zM650.7 87.9l-8.2-1.4 5.2-2.1 8.3 1.5zM656 85.9l-8.3-1.5 5.3-2 8.3 1.5zM637.2 88.6l-8.2-1.4 5.2-2.1 8.3 1.4zM642.5 86.5l-8.3-1.4 5.3-2.1 8.2 1.4zM647.7 84.4l-8.2-1.4 5.3-2.1 8.2 1.5zM634.2 85.1l-8.2-1.4 5.3-2.2 8.2 1.5zM639.5 83l-8.2-1.5 5.3-2 8.2 1.4zM626 83.7l-8.2-1.4 5.2-2.2 8.3 1.4zM631.3 81.5l-8.3-1.4 5.3-2.1 8.3 1.5zM617.8 82.3l-8.3-1.4 5.3-2.2 8.2 1.4zM623 80.1l-8.2-1.4 5.3-2.1 8.2 1.4zM609.5 80.9l-8.2-1.4 5.3-2.2 8.2 1.4zM614.8 78.7l-8.2-1.4 5.2-2.1 8.3 1.4zM601.3 79.5l-8.2-1.4 5.2-2.2 8.3 1.4zM606.6 77.3l-8.3-1.4 5.3-2.1 8.2 1.4zM593.1 78.1l-8.3-1.3 5.3-2.2 8.2 1.3zM598.3 75.9l-8.2-1.3 5.3-2.2 8.2 1.4zM590.1 74.6l-8.2-1.3 5.2-2.2 8.3 1.3zM581.9 73.3l-8.3-1.3 5.3-2.2 8.2 1.3z"/><path fill="#fdde11" stroke="#8b7a09" d="M613.8 187.1l-8.2-1.7 5.3-3.9 8.2 1.8zM619.1 183.3l-8.2-1.8 5.3-3.9 8.2 2zM605.6 185.4l-8.2-1.8 5.2-4.1 8.3 2zM610.9 181.5l-8.3-2 5.3-4 8.3 2.1zM597.4 183.6l-8.3-1.8 5.3-4.3 8.2 2zM589.1 181.8l-8.2-1.8 5.3-4.5 8.2 2zM580.9 180l-8.2-1.7 5.2-4.6 8.3 1.8zM567.4 183.1l-8.2-1.4 5.2-4.9 8.3 1.5zM572.7 178.3l-8.3-1.5 5.3-4.7 8.2 1.6zM564.4 176.8l-8.2-1.3 5.3-4.6 8.2 1.2zM556.2 175.5l-8.2-1.1 5.2-4.5 8.3 1zM548 174.4l-8.3-.8 5.3-4.3 8.2.6zM539.7 173.6l-8.2-.7 5.3-4.1 8.2.5zM545 169.3l-8.2-.5 5.2-3.9 8.3.3zM531.5 172.9l-8.2-.4 5.2-4 8.3.3zM536.8 168.8l-8.3-.3 5.3-3.7 8.2.1zM528.5 168.5l-8.2-.1 5.3-3.6 8.2 0zM533.8 164.8l-8.2 0 5.2-3.6 8.3 0zM525.6 164.8l-8.3.1 5.3-3.5 8.2-.2zM530.8 161.2l-8.2.2 5.3-3.5 8.2-.2zM522.6 161.4l-8.2.5 5.2-3.6 8.3-.4zM527.9 157.9l-8.3.4 5.3-3.6 8.2-.4zM519.6 158.3l-8.2.7 5.3-3.7 8.2-.6zM524.9 154.7l-8.2.6 5.2-3.8 8.3-.5zM516.7 155.3l-8.3.9 5.3-4 8.2-.7zM521.9 151.5l-8.2.7 5.3-4 8.2-.5zM513.7 152.2l-8.2.9 5.2-4.1 8.3-.8zM519 148.2l-8.3.8 5.3-4.1 8.3-.6zM510.7 149l-8.2.8 5.3-4.3 8.2-.6zM516 144.9l-8.2.6 5.3-4.1 8.2-.5zM507.8 145.5l-8.2.8 5.2-4.3 8.3-.6zM513.1 141.4l-8.3.6 5.3-4.1 8.2-.4zM504.8 142l-8.2.6 5.3-4.3 8.2-.4zM510.1 137.9l-8.2.4 5.2-4 8.3-.3zM501.9 138.3l-8.3.5 5.3-4.1 8.2-.4zM507.1 134.3l-8.2.4 5.3-4 8.2-.2zM498.9 134.7l-8.2.3 5.2-4.1 8.3-.2zM504.2 130.7l-8.3.2 5.3-4 8.2.1zM490.7 135l-8.3.4 5.3-4.4 8.2-.1zM495.9 130.9l-8.2.1 5.3-4.2 8.2.1zM487.7 131l-8.2.1 5.2-4.4 8.3.1zM493 126.8l-8.3-.1 5.3-4.2 8.2.3zM484.7 126.7l-8.2-.1 5.3-4.4 8.2.3zM476.5 126.6l-8.2-.1 5.2-4.6 8.3.3zM481.8 122.2l-8.3-.3 5.3-4.3 8.2.4zM473.5 121.9l-8.2-.2 5.3-4.5 8.2.4zM465.3 121.7l-8.2-.2 5.2-4.7 8.3.4zM470.6 117.2l-8.3-.4 5.3-4.3 8.2.5zM457.1 121.5l-8.3-.2 5.3-4.8 8.2.3zM462.3 116.8l-8.2-.3 5.3-4.5 8.2.5zM454.1 116.5l-8.2-.3 5.2-4.8 8.3.6zM445.9 116.2l-8.3-.3 5.3-4.9 8.2.4zM451.1 111.4l-8.2-.4 5.3-4.6 8.2.7zM442.9 111l-8.2-.5 5.2-4.8 8.3.7zM434.7 110.5l-8.3-.4 5.3-5.1 8.2.7zM426.4 110.1l-8.2-.4 5.3-5.4 8.2.7zM418.2 109.7l-8.2-.4 5.2-5.6 8.3.6zM423.5 104.3l-8.3-.6 5.3-5 8.2.9zM410 109.3l-8.3-.4 5.3-5.9 8.2.7zM415.2 103.7l-8.2-.7 5.3-5.2 8.2.9zM407 103l-8.2-.7 5.2-5.4 8.3.9zM398.8 102.3l-8.3-.6 5.3-5.7 8.2.9zM390.5 101.7l-8.2-.6 5.3-5.9 8.2.8zM382.3 101.1l-8.2-.5 5.2-6.1 8.3.7zM387.6 95.2l-8.3-.7 5.3-5.1 8.2.9zM379.3 94.5l-8.2-.7 5.3-5.2 8.2.8zM371.1 93.8l-8.2-.5 5.2-5.4 8.3.7zM362.9 93.3l-8.3-.5 5.3-5.5 8.2.6zM354.6 92.8l-8.2-.6 5.3-5.6 8.2.7zM359.9 87.3l-8.2-.7 5.2-4.6 8.3.8zM351.7 86.6l-8.3-.8 5.3-4.6 8.2.8zM420.2 59.9l-8.3-.6 5.3-1.3 8.2.6zM425.4 58.6l-8.2-.6 5.3-1.3 8.2.5zM343.4 85.8l-8.2-.8 5.3-4.7 8.2.9zM406.7 60.4l-8.3-.8 5.3-1.1 8.2.8zM411.9 59.3l-8.2-.8 5.3-1.2 8.2.7zM417.2 58l-8.2-.7 5.2-1.3 8.3.7z"/><path fill="#ffb92a" stroke="#8c6517" d="M577 214.6l-8.3-.8 5.3-4.7 8.2.8zM568.7 213.8l-8.2-.5 5.3-4.9 8.2.7zM557.5 207.9l-8.2-.5 5.3-4.8 8.2.7zM549.3 207.4l-8.2-.5 5.2-5 8.3.7zM529.9 200.3l-8.3-.9 5.3-5.4 8.2 1.1zM521.6 199.4l-8.2-.8 5.3-5.6 8.2 1zM513.4 198.6l-8.2-.7 5.2-5.8 8.3.9zM505.2 197.9l-8.3-.5 5.3-5.9 8.2.6zM496.9 197.4l-8.2-.2 5.3-5.9 8.2.2zM477.5 192l-8.2 1.2 5.2-5.5 8.3-1.2zM471.6 184.4l-8.3 2.1 5.3-4.6 8.2-2.1zM468.6 181.9l-8.2 2.4 5.2-4.5 8.3-2.3zM470.9 175.5l-8.2 2.3 5.2-4.5 8.3-2.1zM467.9 173.3l-8.2 2.2 5.3-4.9 8.2-1.8zM459.7 175.5l-8.2 2 5.2-5.1 8.3-1.8zM456.7 172.4l-8.2 1.5 5.3-5.3 8.2-1.3zM445.5 169.6l-8.2.8 5.3-5.5 8.2-.7zM442.6 164.9l-8.3.6 5.3-5.4 8.2-.5zM434.3 165.5l-8.2.6 5.3-5.4 8.2-.6zM431.4 160.7l-8.3.8 5.3-5.3 8.2-.7zM423.1 161.5l-8.2 1.1 5.3-5.4 8.2-1zM428.4 156.2l-8.2 1 5.2-5.3 8.3-.9zM420.2 157.2l-8.3 1.3 5.3-5.5 8.2-1.1zM417.2 153l-8.2 1.3 5.2-5.7 8.3-1zM414.2 148.6l-8.2 1.2 5.3-5.8 8.2-1zM406 149.8l-8.2 1.3 5.2-6 8.3-1.1zM403 145.1l-8.2 1.1 5.3-6.2 8.2-1zM394.8 146.2l-8.2 1.2 5.2-6.4 8.3-1zM386.6 147.4l-8.3 1.1 5.3-6.4 8.2-1.1zM367.1 144l-8.2.8 5.3-7.1 8.2-.7zM358.9 144.8l-8.2.7 5.2-7.2 8.3-.6zM350.7 145.5l-8.3.5 5.3-7.3 8.2-.4zM342.4 146l-8.2.5 5.3-7.4 8.2-.4zM339.5 139.1l-8.3.3 5.3-7.9 8.2-.2zM331.2 139.4l-8.2.2 5.3-8 8.2-.1zM323 139.6l-8.2 0 5.2-8 8.3 0zM320 131.6l-8.2-.2 5.3-8.4 8.2.2zM311.8 131.4l-8.2-.3 5.2-8.5 8.3.4z"/><path fill="#ffbd28" stroke="#8c6716" d="M582.2 209.9l-8.2-.8 5.3-4.3 8.2.9zM574 209.1l-8.2-.7 5.2-4.4 8.3.8zM565.8 208.4l-8.3-.5 5.3-4.6 8.2.7zM554.6 202.6l-8.3-.7 5.3-4.7 8.2.9zM546.3 201.9l-8.2-.8 5.3-4.9 8.2 1zM538.1 201.1l-8.2-.8 5.2-5.2 8.3 1.1zM494 191.3l-8.3.1 5.3-5.5 8.2-.1zM485.7 191.4l-8.2.6 5.3-5.5 8.2-.6zM474.5 187.7l-8.2 1.7 5.3-5 8.2-1.7zM476.8 179.8l-8.2 2.1 5.3-4.4 8.2-2zM473.9 177.5l-8.3 2.3 5.3-4.3 8.2-2.2zM476.2 171.2l-8.3 2.1 5.3-4.5 8.2-1.8zM465 170.6l-8.3 1.8 5.3-5.1 8.2-1.5zM462 167.3l-8.2 1.3 5.2-5.3 8.3-1.1zM453.8 168.6l-8.3 1 5.3-5.4 8.2-.9zM459 163.3l-8.2.9 5.3-5.2 8.2-.8zM450.8 164.2l-8.2.7 5.2-5.3 8.3-.6zM447.8 159.6l-8.2.5 5.3-5.1 8.2-.5zM439.6 160.1l-8.2.6 5.2-5.2 8.3-.5zM436.6 155.5l-8.2.7 5.3-5.2 8.2-.6zM433.7 151l-8.3.9 5.3-5.2 8.2-.7zM425.4 151.9l-8.2 1.1 5.3-5.4 8.2-.9zM422.5 147.6l-8.3 1 5.3-5.6 8.2-.8zM419.5 143l-8.2 1 5.2-5.8 8.3-.8zM411.3 144l-8.3 1.1 5.3-6.1 8.2-.8zM408.3 139l-8.2 1 5.2-6.2 8.3-.8zM400.1 140l-8.3 1 5.3-6.4 8.2-.8zM391.8 141l-8.2 1.1 5.3-6.7 8.2-.8zM383.6 142.1l-8.2 1 5.2-6.8 8.3-.9zM375.4 143.1l-8.3.9 5.3-7 8.2-.7zM364.2 137.7l-8.3.6 5.3-7.7 8.2-.4zM355.9 138.3l-8.2.4 5.3-7.7 8.2-.4zM347.7 138.7l-8.2.4 5.2-7.8 8.3-.3zM344.7 131.3l-8.2.2 5.3-8.2 8.2-.1zM336.5 131.5l-8.2.1 5.2-8.3 8.3 0zM328.3 131.6l-8.3 0 5.3-8.4 8.2.1zM317.1 123l-8.3-.4 5.3-8.6 8.2.5z"/><path fill="#ffc323" stroke="#8c6b13" d="M587.5 205.7l-8.2-.9 5.2-4 8.3 1.1zM579.3 204.8l-8.3-.8 5.3-4.1 8.2.9zM571 204l-8.2-.7 5.3-4.3 8.2.9zM562.8 203.3l-8.2-.7 5.2-4.5 8.3.9zM551.6 197.2l-8.2-1 5.2-4.8 8.3 1.1zM543.4 196.2l-8.3-1.1 5.3-5 8.2 1.3zM535.1 195.1l-8.2-1.1 5.3-5.1 8.2 1.2zM526.9 194l-8.2-1 5.2-5.2 8.3 1.1zM518.7 193l-8.3-.9 5.3-5.3 8.2 1zM510.4 192.1l-8.2-.6 5.3-5.4 8.2.7zM502.2 191.5l-8.2-.2 5.2-5.5 8.3.3zM491 185.9l-8.2.6 5.2-4.9 8.3-.6zM482.8 186.5l-8.3 1.2 5.3-5 8.2-1.1zM479.8 182.7l-8.2 1.7 5.2-4.6 8.3-1.6zM485.1 178.2l-8.3 1.6 5.3-4.3 8.2-1.5zM482.1 175.5l-8.2 2 5.2-4.2 8.3-1.8zM479.1 173.3l-8.2 2.2 5.3-4.3 8.2-1.9zM484.4 169.3l-8.2 1.9 5.2-4.2 8.3-1.7zM481.4 167l-8.2 1.8 5.3-4.5 8.2-1.5zM473.2 168.8l-8.2 1.8 5.2-4.8 8.3-1.5zM478.5 164.3l-8.3 1.5 5.3-4.8 8.2-1.2zM470.2 165.8l-8.2 1.5 5.3-5.1 8.2-1.2zM467.3 162.2l-8.3 1.1 5.3-5.1 8.2-.9zM464.3 158.2l-8.2.8 5.2-5.1 8.3-.7zM456.1 159l-8.3.6 5.3-5.1 8.2-.6zM461.3 153.9l-8.2.6 5.3-4.9 8.2-.5zM453.1 154.5l-8.2.5 5.2-5 8.3-.4zM444.9 155l-8.3.5 5.3-5.1 8.2-.4zM450.1 150l-8.2.4 5.3-4.9 8.2-.4zM441.9 150.4l-8.2.6 5.2-5 8.3-.5zM438.9 146l-8.2.7 5.3-5.2 8.2-.5zM430.7 146.7l-8.2.9 5.2-5.4 8.3-.7zM436 141.5l-8.3.7 5.3-5.3 8.3-.5zM427.7 142.2l-8.2.8 5.3-5.6 8.2-.5zM424.8 137.4l-8.3.8 5.3-5.8 8.3-.5zM416.5 138.2l-8.2.8 5.3-6 8.2-.6zM405.3 133.8l-8.2.8 5.3-6.5 8.2-.6zM397.1 134.6l-8.2.8 5.2-6.7 8.3-.6zM388.9 135.4l-8.3.9 5.3-7.1 8.2-.5zM380.6 136.3l-8.2.7 5.3-7.2 8.2-.6zM372.4 137l-8.2.7 5.2-7.5 8.3-.4zM369.4 130.2l-8.2.4 5.3-7.7 8.2-.2zM361.2 130.6l-8.2.4 5.2-8 8.3-.1zM353 131l-8.3.3 5.3-8.1 8.2-.2zM341.8 123.3l-8.3 0 5.3-8.4 8.2.1zM333.5 123.3l-8.2-.1 5.3-8.4 8.2.1zM325.3 123.2l-8.2-.2 5.2-8.5 8.3.3zM322.3 114.5l-8.2-.5 5.3-8.4 8.2.6z"/><path fill="#ffc91d" stroke="#8c6e0f" d="M592.8 201.9l-8.3-1.1 5.3-3.8 8.2 1.2zM584.5 200.8l-8.2-.9 5.3-4 8.2 1.1zM576.3 199.9l-8.2-.9 5.2-4.2 8.3 1.1zM568.1 199l-8.3-.9 5.3-4.4 8.2 1.1zM559.8 198.1l-8.2-.9 5.3-4.7 8.2 1.2zM515.7 186.8l-8.2-.7 5.2-4.9 8.3.7zM507.5 186.1l-8.3-.3 5.3-4.9 8.2.3zM499.2 185.8l-8.2.1 5.3-4.9 8.2-.1zM496.3 181l-8.3.6 5.3-4.5 8.2-.6zM488 181.6l-8.2 1.1 5.3-4.5 8.2-1.1zM493.3 177.1l-8.2 1.1 5.2-4.2 8.3-1.1zM490.3 174l-8.2 1.5 5.3-4 8.2-1.4zM487.4 171.5l-8.3 1.8 5.3-4 8.2-1.7zM492.6 167.6l-8.2 1.7 5.3-4 8.2-1.5zM489.7 165.3l-8.3 1.7 5.3-4.2 8.2-1.5zM486.7 162.8l-8.2 1.5 5.2-4.5 8.3-1.3zM483.7 159.8l-8.2 1.2 5.3-4.7 8.2-1.1zM475.5 161l-8.2 1.2 5.2-4.9 8.3-1zM480.8 156.3l-8.3 1 5.3-4.8 8.2-.9zM472.5 157.3l-8.2.9 5.3-5 8.2-.7zM477.8 152.5l-8.2.7 5.2-4.7 8.3-.7zM469.6 153.2l-8.3.7 5.3-4.8 8.2-.6zM466.6 149.1l-8.2.5 5.2-4.8 8.3-.4zM458.4 149.6l-8.3.4 5.3-4.9 8.2-.3zM463.6 144.8l-8.2.3 5.3-4.7 8.2-.3zM455.4 145.1l-8.2.4 5.2-4.8 8.3-.3zM447.2 145.5l-8.3.5 5.3-5 8.2-.3zM452.4 140.7l-8.2.3 5.3-4.9 8.2-.2zM444.2 141l-8.2.5 5.3-5.1 8.2-.3zM441.3 136.4l-8.3.5 5.3-5.3 8.2-.3zM433 136.9l-8.2.5 5.3-5.5 8.2-.3zM430.1 131.9l-8.3.5 5.3-5.7 8.2-.2zM421.8 132.4l-8.2.6 5.3-5.9 8.2-.4zM413.6 133l-8.3.8 5.3-6.3 8.3-.4zM418.9 127.1l-8.3.4 5.3-6.1 8.2-.1zM410.6 127.5l-8.2.6 5.3-6.4 8.2-.3zM402.4 128.1l-8.3.6 5.3-6.8 8.3-.2zM394.1 128.7l-8.2.5 5.3-7 8.2-.3zM385.9 129.2l-8.2.6 5.3-7.3 8.2-.3zM377.7 129.8l-8.3.4 5.3-7.5 8.3-.2zM374.7 122.7l-8.2.2 5.3-7.7 8.2.1zM366.5 122.9l-8.3.1 5.3-7.9 8.3.1zM358.2 123l-8.2.2 5.3-8.1 8.2 0zM350 123.2l-8.2.1 5.2-8.3 8.3.1zM347 115l-8.2-.1 5.3-8 8.2.2zM338.8 114.9l-8.2-.1 5.2-8.2 8.3.3zM330.6 114.8l-8.3-.3 5.3-8.3 8.2.4zM327.6 106.2l-8.2-.6 5.3-7.8 8.2.6z"/><path fill="#ffd019" stroke="#8c720d" d="M598 198.2l-8.2-1.2 5.3-3.8 8.2 1.4zM589.8 197l-8.2-1.1 5.2-4 8.3 1.3zM581.6 195.9l-8.3-1.1 5.3-4.3 8.2 1.4zM573.3 194.8l-8.2-1.1 5.3-4.5 8.2 1.3zM565.1 193.7l-8.2-1.2 5.2-4.6 8.3 1.3zM556.9 192.5l-8.3-1.1 5.3-4.9 8.2 1.4zM548.6 191.4l-8.2-1.3 5.3-4.9 8.2 1.3zM540.4 190.1l-8.2-1.2 5.2-5 8.3 1.3zM532.2 188.9l-8.3-1.1 5.3-5 8.2 1.1zM523.9 187.8l-8.2-1 5.3-4.9 8.2.9zM521 181.9l-8.3-.7 5.3-4.5 8.2.5zM512.7 181.2l-8.2-.3 5.3-4.5 8.2.3zM504.5 180.9l-8.2.1 5.2-4.5 8.3-.1zM509.8 176.4l-8.3.1 5.3-4.1 8.2-.1zM501.5 176.5l-8.2.6 5.3-4.2 8.2-.5zM498.6 172.9l-8.3 1.1 5.3-3.9 8.2-1zM503.8 169.1l-8.2 1 5.3-3.8 8.2-.9zM495.6 170.1l-8.2 1.4 5.2-3.9 8.3-1.3zM500.9 166.3l-8.3 1.3 5.3-3.8 8.2-1.1zM497.9 163.8l-8.2 1.5 5.2-4 8.3-1.3zM494.9 161.3l-8.2 1.5 5.3-4.3 8.2-1.2zM500.2 157.3l-8.2 1.2 5.2-4.3 8.3-1.1zM492 158.5l-8.3 1.3 5.3-4.6 8.2-1zM497.2 154.2l-8.2 1 5.3-4.5 8.2-.9zM489 155.2l-8.2 1.1 5.2-4.7 8.3-.9zM486 151.6l-8.2.9 5.3-4.7 8.2-.8zM483.1 147.8l-8.3.7 5.3-4.7 8.3-.6zM474.8 148.5l-8.2.6 5.3-4.7 8.2-.6zM480.1 143.8l-8.2.6 5.3-4.6 8.2-.5zM471.9 144.4l-8.3.4 5.3-4.7 8.3-.3zM468.9 140.1l-8.2.3 5.3-4.7 8.2-.1zM460.7 140.4l-8.3.3 5.3-4.8 8.3-.2zM466 135.7l-8.3.2 5.3-4.7 8.2-.1zM457.7 135.9l-8.2.2 5.3-4.9 8.2 0zM449.5 136.1l-8.2.3 5.2-5.1 8.3-.1zM454.8 131.2l-8.3.1 5.3-5 8.2.1zM446.5 131.3l-8.2.3 5.3-5.2 8.2-.1zM438.3 131.6l-8.2.3 5.2-5.4 8.3-.1zM443.6 126.4l-8.3.1 5.3-5.3 8.2.1zM435.3 126.5l-8.2.2 5.3-5.5 8.2 0zM427.1 126.7l-8.2.4 5.2-5.8 8.3-.1zM424.1 121.3l-8.2.1 5.3-5.8 8.2.1zM415.9 121.4l-8.2.3 5.2-6.2 8.3.1zM407.7 121.7l-8.3.2 5.3-6.5 8.2.1zM399.4 121.9l-8.2.3 5.3-6.8 8.2 0zM391.2 122.2l-8.2.3 5.2-7.2 8.3.1zM383 122.5l-8.3.2 5.3-7.4 8.2 0zM380 115.3l-8.2-.1 5.2-7.4 8.3.4zM371.8 115.2l-8.3-.1 5.3-7.5 8.2.2zM363.5 115.1l-8.2 0 5.3-7.8 8.2.3zM355.3 115.1l-8.3-.1 5.3-7.9 8.3.2zM352.3 107.1l-8.2-.2 5.3-7.5 8.2.3zM344.1 106.9l-8.3-.3 5.3-7.7 8.3.5zM335.8 106.6l-8.2-.4 5.3-7.8 8.2.5zM332.9 98.4l-8.2-.6 5.2-7 8.3.8z"/><path fill="#ffd715" stroke="#8c760b" d="M603.3 194.6l-8.2-1.4 5.2-3.9 8.3 1.6zM608.6 190.9l-8.3-1.6 5.3-3.9 8.2 1.7zM595.1 193.2l-8.3-1.3 5.3-4.2 8.2 1.6zM600.3 189.3l-8.2-1.6 5.3-4.1 8.2 1.8zM586.8 191.9l-8.2-1.4 5.3-4.3 8.2 1.5zM592.1 187.7l-8.2-1.5 5.2-4.4 8.3 1.8zM578.6 190.5l-8.2-1.3 5.2-4.6 8.3 1.6zM583.9 186.2l-8.3-1.6 5.3-4.6 8.2 1.8zM570.4 189.2l-8.3-1.3 5.3-4.8 8.2 1.5zM575.6 184.6l-8.2-1.5 5.3-4.8 8.2 1.7zM562.1 187.9l-8.2-1.4 5.3-4.8 8.2 1.4zM553.9 186.5l-8.2-1.3 5.2-4.9 8.3 1.4zM559.2 181.7l-8.3-1.4 5.3-4.8 8.2 1.3zM545.7 185.2l-8.3-1.3 5.3-4.8 8.2 1.2zM550.9 180.3l-8.2-1.2 5.3-4.7 8.2 1.1zM537.4 183.9l-8.2-1.1 5.3-4.7 8.2 1zM542.7 179.1l-8.2-1 5.2-4.5 8.3.8zM529.2 182.8l-8.2-.9 5.2-4.7 8.3.9zM534.5 178.1l-8.3-.9 5.3-4.3 8.2.7zM526.2 177.2l-8.2-.5 5.3-4.2 8.2.4zM518 176.7l-8.2-.3 5.2-4.1 8.3.2zM523.3 172.5l-8.3-.2 5.3-3.9 8.2.1zM515 172.3l-8.2.1 5.3-3.8 8.2-.2zM520.3 168.4l-8.2.2 5.2-3.7 8.3-.1zM506.8 172.4l-8.2.5 5.2-3.8 8.3-.5zM512.1 168.6l-8.3.5 5.3-3.7 8.2-.5zM517.3 164.9l-8.2.5 5.3-3.5 8.2-.5zM509.1 165.4l-8.2.9 5.2-3.6 8.3-.8zM514.4 161.9l-8.3.8 5.3-3.7 8.2-.7zM506.1 162.7l-8.2 1.1 5.3-3.8 8.2-1zM511.4 159l-8.2 1 5.2-3.8 8.3-.9zM503.2 160l-8.3 1.3 5.3-4 8.2-1.1zM508.4 156.2l-8.2 1.1 5.3-4.2 8.2-.9zM505.5 153.1l-8.3 1.1 5.3-4.4 8.2-.8zM502.5 149.8l-8.2.9 5.3-4.4 8.2-.8zM494.3 150.7l-8.3.9 5.3-4.6 8.3-.7zM499.6 146.3l-8.3.7 5.3-4.4 8.2-.6zM491.3 147l-8.2.8 5.3-4.6 8.2-.6zM496.6 142.6l-8.2.6 5.2-4.4 8.3-.5zM488.4 143.2l-8.3.6 5.3-4.5 8.2-.5zM493.6 138.8l-8.2.5 5.3-4.3 8.2-.3zM485.4 139.3l-8.2.5 5.2-4.4 8.3-.4zM477.2 139.8l-8.3.3 5.3-4.5 8.2-.2zM482.4 135.4l-8.2.2 5.3-4.5 8.2-.1zM474.2 135.6l-8.2.1 5.2-4.6 8.3 0zM479.5 131.1l-8.3 0 5.3-4.5 8.2.1zM471.2 131.1l-8.2.1 5.3-4.7 8.2.1zM463 131.2l-8.2 0 5.2-4.8 8.3.1zM468.3 126.5l-8.3-.1 5.3-4.7 8.2.2zM460 126.4l-8.2-.1 5.3-4.8 8.2.2zM451.8 126.3l-8.2.1 5.2-5.1 8.3.2zM448.8 121.3l-8.2-.1 5.3-5 8.2.3zM440.6 121.2l-8.2 0 5.2-5.3 8.3.3zM432.4 121.2l-8.3.1 5.3-5.6 8.2.2zM437.6 115.9l-8.2-.2 5.3-5.2 8.2.5zM429.4 115.7l-8.2-.1 5.2-5.5 8.3.4zM421.2 115.6l-8.3-.1 5.3-5.8 8.2.4zM412.9 115.5l-8.2-.1 5.3-6.1 8.2.4zM404.7 115.4l-8.2 0 5.2-6.5 8.3.4zM396.5 115.4l-8.3-.1 5.3-6.8 8.2.4zM401.7 108.9l-8.2-.4 5.3-6.2 8.2.7zM388.2 115.3l-8.2 0 5.3-7.1 8.2.3zM393.5 108.5l-8.2-.3 5.2-6.5 8.3.6zM385.3 108.2l-8.3-.4 5.3-6.7 8.2.6zM377 107.8l-8.2-.2 5.3-7 8.2.5zM368.8 107.6l-8.2-.3 5.2-7.2 8.3.5zM374.1 100.6l-8.3-.5 5.3-6.3 8.2.7zM360.6 107.3l-8.3-.2 5.3-7.4 8.2.4zM365.8 100.1l-8.2-.4 5.3-6.4 8.2.5zM357.6 99.7l-8.2-.3 5.2-6.6 8.3.5zM349.4 99.4l-8.3-.5 5.3-6.7 8.2.6zM341.1 98.9l-8.2-.5 5.3-6.8 8.2.6zM346.4 92.2l-8.2-.6 5.2-5.8 8.3.8zM338.2 91.6l-8.3-.8 5.3-5.8 8.2.8z"/></g><path d="M161.9 342.9h0M197 338.3h0M232.1 328.4h0M267.3 328.4h0M302.4 320.6h0M337.5 318.8h0M372.7 312.5h0M407.8 307.6h0M442.9 302.6h0M478.1 292.7h0M513.2 290.2h0M197.7 283.5h0M232.8 278.2h0M267.9 273.6h0M303.1 263.3h0M338.2 256.2h0M373.4 243.8h0M408.5 239.2h0M443.6 230.8h0M478.8 229.3h0M513.9 227.3h0M549 225.8h0M233.5 233.9h0M268.6 232.9h0M303.8 230.4h0M338.9 221.6h0M374 210.9h0M409.2 208.5h0M444.3 193.6h0M479.4 182.7h0M514.6 182.7h0M549.7 188.7h0M584.9 193.6h0M269.3 183.4h0M304.4 186.2h0M339.6 185.1h0M374.7 180.2h0M409.9 169.9h0M445 168.9h0M480.1 162.9h0M515.3 156.5h0M550.4 156.5h0M585.5 156.5h0M620.7 167.9h0M305.1 147.3h0M340.3 145.5h0M375.4 142.7h0M410.5 137.7h0M445.7 135.2h0M480.8 135.2h0M515.9 133.2h0M551.1 133.2h0M586.2 134.2h0M621.4 144.1h0M656.5 149.1h0M340.9 93.2h0M376.1 94.2h0M411.2 98h0M446.3 102h0M481.5 105.5h0M516.6 108.4h0M551.8 114.4h0M586.9 118.4h0M622 123.3h0M657.2 129.2h0M692.3 135.2h0M376.8 69.5h0M411.9 73.3h0M447 78.7h0M482.2 83.7h0M517.3 88.6h0M552.4 93.6h0M587.6 99.5h0M622.7 104.5h0M657.8 110.4h0M693 115.9h0M728.1 122.8h0M412.6 60.9h0M447.7 62.4h0M482.8 64.9h0M518 68.8h0M553.1 73.3h0M588.3 78.7h0M623.4 84.7h0M658.5 90.6h0M693.7 97.1h0M728.8 103h0M763.9 109.4h0" stroke="#000" stroke-width="5.5" stroke-linecap="round"/><path d="M133.2 355.7L519 423L793 326.5" stroke="#262626" stroke-width="1.1" fill="none"/><path d="M151.6 358.9L143.6 361.7M239.5 374.2L231.5 377.1M327.3 389.6L319.3 392.4M415.2 404.9L407.2 407.7M503 420.2L495 423M529.2 419.4L537.6 420.9M600.8 394.2L609.2 395.6M672.5 368.9L680.8 370.4M744.1 343.7L752.5 345.2M133.2 286.2L124.8 284.8M133.2 211.8L124.8 210.4M133.2 137.4L124.8 136" stroke="#262626" stroke-width="1.1" fill="none"/><g font-size="20"><text x="139.1" y="387" text-anchor="end">0.20</text><text x="227" y="402.3" text-anchor="end">0.15</text><text x="314.8" y="417.7" text-anchor="end">0.10</text><text x="402.7" y="433" text-anchor="end">0.05</text><text x="490.5" y="448.3" text-anchor="end">0</text><text x="543.7" y="447">12</text><text x="615.3" y="421.8">10</text><text x="687" y="396.5">8</text><text x="758.6" y="371.3">6</text><text x="113.7" y="293.3" text-anchor="end">0.75</text><text x="113.7" y="218.9" text-anchor="end">0.80</text><text x="113.7" y="144.5" text-anchor="end">0.85</text></g><g font-size="22"><text transform="translate(53.1 242.9) rotate(-90)" text-anchor="middle">Reliability</text><text transform="translate(308 456.5) rotate(9.90)" text-anchor="middle">Coefficient of vehicle parameters</text><text transform="translate(702 435.5) rotate(-19.40)" text-anchor="middle">Foundation settling /(mm)</text></g><g font-family="Liberation Serif, serif" font-size="38" fill="#000" transform="translate(0 563.3)"><text x="357.8">(</text><text x="369.8" textLength="22.6" lengthAdjust="spacingAndGlyphs" font-weight="bold">b</text><text x="392.2" textLength="12.3" lengthAdjust="spacingAndGlyphs">)</text><text x="413.3" textLength="57.5" lengthAdjust="spacingAndGlyphs">375</text><text x="482.1" textLength="88.2" lengthAdjust="spacingAndGlyphs">km/h</text></g></g>
<g><path d="M153.1 935.8L431.3 847.3L431.3 635.3M233.9 951.6L512.1 863.1L512.1 651.1M314.7 967.4L592.9 878.9L592.9 666.9M395.4 983.3L673.6 894.8L673.6 682.8M476.2 999.1L754.4 910.6L754.4 698.6M499.3 998.8L145 929.3L145 717.3M572.5 975.5L218.2 906L218.2 694M645.7 952.2L291.4 882.7L291.4 670.7M718.9 928.9L364.6 859.4L364.6 647.4M135.5 885.6L413.7 797.1L768 866.6M135.5 833.7L413.7 745.2L768 814.7M135.5 781.8L413.7 693.3L768 762.8M135.5 729.9L413.7 641.4L768 710.9" stroke="#dcdcdc" stroke-width="1" fill="none"/><path d="M135.5 932.3L135.5 720.3M413.7 843.8L413.7 631.8M768 913.3L768 701.3M135.5 720.3L413.7 631.8L768 701.3M135.5 932.3L413.7 843.8L768 913.3" stroke="#262626" stroke-width="1.1" fill="none"/><g stroke-width="0.75"><path fill="#00b8e2" stroke="#00657c" d="M496.1 924.4l-7.6-.3 5.4-13 7.5-.2zM488.5 924.1l-7.5-.4 5.3-12.4 7.6-.2zM373.1 899.8l-7.6-.6 5.4-8.5 7.5.5zM365.5 899.2l-7.5-.5 5.3-8.5 7.6.5zM358 898.7l-7.6-.4 5.4-8.5 7.5.4zM350.4 898.3l-7.5-.3 5.3-8.5 7.6.3zM333.1 889.4l-7.5-.1 5.3-8.3 7.6.1zM325.6 889.3l-7.6-.4 5.4-8.4 7.5.5zM318 888.9l-7.5-.9 5.3-8.4 7.6.9zM310.5 888l-7.6-1.2 5.4-8.6 7.5 1.4zM302.9 886.8l-7.5-1.2 5.3-8.6 7.6 1.2zM278.1 877.8l-7.6 1.7 5.4-7.8 7.5-1.9zM268.3 873.2l-7.5.5 5.3-7.5 7.6-.5zM245.7 870.7l-7.6-2.4 5.4-7.4 7.5 2.3zM238.1 868.3l-7.5-1.8 5.3-7.4 7.6 1.8zM230.6 866.5l-7.6-.6 5.4-7.4 7.5.6zM220.8 859.1l-7.5 1.4 5.3-6.7 7.6-1.3zM211 855.4l-7.5 1.5 5.3-6.8 7.6-1.2z"/><path fill="#00bcdc" stroke="#006779" d="M511.2 925.5l-7.6-.6 5.4-14 7.6.3zM503.6 924.9l-7.5-.5 5.3-13.5 7.6 0zM471.2 911.1l-7.5-.6 5.3-10.8 7.6.2zM463.7 910.5l-7.6-.8 5.4-10.6 7.5.6zM456.1 909.7l-7.5-1.1 5.3-10.3 7.6.8zM448.6 908.6l-7.6-1.1 5.4-10.1 7.5.9zM441 907.5l-7.5-1.1 5.3-9.9 7.6.9zM395.7 902l-7.5-.8 5.3-8.9 7.6.6zM388.2 901.2l-7.6-.7 5.4-8.7 7.5.5zM380.6 900.5l-7.5-.7 5.3-8.6 7.6.6zM348.2 889.5l-7.5-.1 5.3-8.3 7.6.1zM340.7 889.4l-7.6 0 5.4-8.3 7.5 0zM293.2 876.3l-7.6.2 5.4-8 7.5-.3zM285.6 876.5l-7.5 1.3 5.3-8 7.6-1.3zM283.4 869.8l-7.5 1.9 5.3-7.5 7.6-1.8zM275.9 871.7l-7.6 1.5 5.4-7.5 7.5-1.5zM266.1 866.2l-7.5-1 5.3-7.1 7.6.9zM258.6 865.2l-7.6-2 5.4-7 7.5 1.9zM251 863.2l-7.5-2.3 5.3-6.8 7.6 2.1zM243.5 860.9l-7.6-1.8 5.4-6.6 7.5 1.6zM235.9 859.1l-7.5-.6 5.3-6.5 7.6.5zM228.4 858.5l-7.6.6 5.4-6.6 7.5-.5zM218.6 853.8l-7.6 1.6 5.4-6.5 7.6-1.3zM216.4 848.9l-7.6 1.2 5.4-6.7 7.5-.8zM208.8 850.1l-7.5.8 5.3-7 7.6-.5z"/><path fill="#00c0d4" stroke="#006974" d="M486.3 911.3l-7.5 0 5.3-11.6 7.6-.5zM478.8 911.3l-7.6-.2 5.4-11.2 7.5-.2zM433.5 906.4l-7.6-1 5.4-9.7 7.5.8zM425.9 905.4l-7.5-.9 5.3-9.6 7.6.8zM418.4 904.5l-7.6-.9 5.4-9.5 7.5.8zM410.8 903.6l-7.5-.8 5.3-9.3 7.6.6zM403.3 902.8l-7.6-.8 5.4-9.1 7.5.6zM370.9 890.7l-7.6-.5 5.4-8.4 7.5.5zM363.3 890.2l-7.5-.4 5.3-8.4 7.6.4zM355.8 889.8l-7.6-.3 5.4-8.3 7.5.2zM338.5 881.1l-7.6-.1 5.4-8 7.5.1zM330.9 881l-7.5-.5 5.3-8 7.6.5zM323.4 880.5l-7.6-.9 5.4-8 7.5.9zM315.8 879.6l-7.5-1.4 5.3-8 7.6 1.4zM308.3 878.2l-7.6-1.2 5.4-8.1 7.5 1.3zM300.7 877l-7.5-.7 5.3-8.1 7.6.7zM291 868.5l-7.6 1.3 5.4-7.4 7.5-1.4zM281.2 864.2l-7.5 1.5 5.3-7.2 7.6-1.4zM273.7 865.7l-7.6.5 5.4-7.2 7.5-.5zM233.7 852l-7.5.5 5.3-6 7.6-.4zM226.2 852.5l-7.6 1.3 5.4-6.2 7.5-1.1zM224 847.6l-7.6 1.3 5.3-6.3 7.6-.9zM214.2 843.4l-7.6.5 5.4-6.9 7.5-.1z"/><path fill="#00c3cd" stroke="#006b70" d="M501.4 910.9l-7.5.2 5.3-12.5 7.6-.6zM493.9 911.1l-7.6.2 5.4-12.1 7.5-.6zM469 899.7l-7.5-.6 5.3-10.3 7.6.3zM393.5 892.3l-7.5-.5 5.3-8.6 7.6.4zM386 891.8l-7.6-.6 5.4-8.4 7.5.4zM378.4 891.2l-7.5-.5 5.3-8.4 7.6.5zM353.6 881.2l-7.6-.1 5.4-8 7.5 0zM346 881.1l-7.5 0 5.3-8 7.6 0zM306.1 868.9l-7.6-.7 5.4-7.4 7.5.7zM298.5 868.2l-7.5.3 5.3-7.5 7.6-.2zM288.8 862.4l-7.6 1.8 5.4-7.1 7.5-1.6zM279 858.5l-7.5.5 5.3-7.1 7.6-.4zM271.5 859l-7.6-.9 5.4-6.9 7.5.7zM263.9 858.1l-7.5-1.9 5.3-6.5 7.6 1.5zM256.4 856.2l-7.6-2.1 5.4-6.2 7.5 1.8zM248.8 854.1l-7.5-1.6 5.3-5.9 7.6 1.3zM241.3 852.5l-7.6-.5 5.4-5.9 7.5.5zM239.1 846.1l-7.6.4 5.4-5.5 7.5-.3zM231.5 846.5l-7.5 1.1 5.3-5.9 7.6-.7zM229.3 841.7l-7.6.9 5.4-6.1 7.6-.4zM221.7 842.6l-7.5.8 5.3-6.5 7.6-.4z"/><path fill="#00c5c4" stroke="#006c6b" d="M516.6 911.2l-7.6-.3 5.3-13.3 7.6 0zM509 910.9l-7.6 0 5.4-12.9 7.5-.4zM491.7 899.2l-7.6.5 5.4-11.2 7.5-.8zM484.1 899.7l-7.5.2 5.3-10.8 7.6-.6zM476.6 899.9l-7.6-.2 5.4-10.6 7.5 0zM461.5 899.1l-7.6-.8 5.4-10 7.5.5zM453.9 898.3l-7.5-.9 5.3-9.8 7.6.7zM446.4 897.4l-7.6-.9 5.4-9.7 7.5.8zM438.8 896.5l-7.5-.8 5.3-9.6 7.6.7zM431.3 895.7l-7.6-.8 5.4-9.4 7.5.6zM423.7 894.9l-7.5-.8 5.3-9.2 7.6.6zM416.2 894.1l-7.6-.6 5.4-9.1 7.5.5zM408.6 893.5l-7.5-.6 5.3-8.9 7.6.4zM401.1 892.9l-7.6-.6 5.4-8.7 7.5.4zM376.2 882.3l-7.5-.5 5.3-8 7.6.4zM368.7 881.8l-7.6-.4 5.4-8 7.5.4zM361.1 881.4l-7.5-.2 5.3-8.1 7.6.3zM343.8 873.1l-7.5-.1 5.3-7.6 7.6 0zM336.3 873l-7.6-.5 5.4-7.5 7.5.4zM328.7 872.5l-7.5-.9 5.3-7.6 7.6 1zM321.2 871.6l-7.6-1.4 5.4-7.5 7.5 1.3zM313.6 870.2l-7.5-1.3 5.3-7.4 7.6 1.2zM296.3 861l-7.5 1.4 5.3-6.9 7.6-1.3zM286.6 857.1l-7.6 1.4 5.4-7 7.5-1.2zM276.8 851.9l-7.5-.7 5.3-6.6 7.6.5zM269.3 851.2l-7.6-1.5 5.4-6.3 7.5 1.2zM261.7 849.7l-7.5-1.8 5.3-5.8 7.6 1.3zM254.2 847.9l-7.6-1.3 5.4-5.5 7.5 1zM246.6 846.6l-7.5-.5 5.3-5.4 7.6.4zM236.9 841l-7.6.7 5.4-5.6 7.5-.4zM227.1 836.5l-7.6.4 5.4-6.4 7.5.1zM219.5 836.9l-7.5.1 5.3-6.7 7.6.2z"/><path fill="#07c7bc" stroke="#036d67" d="M499.2 898.6l-7.5.6 5.3-11.5 7.6-.9zM398.9 883.6l-7.6-.4 5.4-8.3 7.5.3zM391.3 883.2l-7.5-.4 5.3-8.2 7.6.3zM383.8 882.8l-7.6-.5 5.4-8.1 7.5.4zM358.9 873.1l-7.5 0 5.3-7.7 7.6 0zM351.4 873.1l-7.6 0 5.4-7.7 7.5 0zM334.1 865l-7.6-1 5.4-7 7.5.8zM326.5 864l-7.5-1.3 5.3-6.9 7.6 1.2zM319 862.7l-7.6-1.2 5.4-6.9 7.5 1.2zM311.4 861.5l-7.5-.7 5.3-6.8 7.6.6zM303.9 860.8l-7.6.2 5.4-6.8 7.5-.2zM294.1 855.5l-7.5 1.6 5.3-6.8 7.6-1.4zM291.9 850.3l-7.5 1.2 5.3-6.7 7.6-1zM284.4 851.5l-7.6.4 5.4-6.8 7.5-.3zM267.1 843.4l-7.6-1.3 5.4-5.6 7.5.9zM259.5 842.1l-7.5-1 5.3-5.3 7.6.7zM252 841.1l-7.6-.4 5.4-5.2 7.5.3zM244.4 840.7l-7.5.3 5.3-5.3 7.6-.2zM242.2 835.7l-7.5.4 5.3-5.6 7.6-.1zM234.7 836.1l-7.6.4 5.3-5.9 7.6-.1zM232.4 830.6l-7.5-.1 5.3-6.3 7.6.4zM224.9 830.5l-7.6-.2 5.4-6.6 7.5.5z"/><path fill="#08b3e8" stroke="#04627f" d="M481 923.7l-7.6-.4 5.4-12 7.5 0zM473.4 923.3l-7.5-.7 5.3-11.5 7.6.2zM465.9 922.6l-7.6-1 5.4-11.1 7.5.6zM458.3 921.6l-7.5-1.2 5.3-10.7 7.6.8zM450.8 920.4l-7.6-1.3 5.4-10.5 7.5 1.1zM443.2 919.1l-7.5-1.3 5.3-10.3 7.6 1.1zM435.7 917.8l-7.6-1.3 5.4-10.1 7.5 1.1zM428.1 916.5l-7.5-1.1 5.3-10 7.6 1zM420.6 915.4l-7.6-1.1 5.4-9.8 7.5.9zM413 914.3l-7.5-1 5.3-9.7 7.6.9zM405.5 913.3l-7.6-1 5.4-9.5 7.5.8zM397.9 912.3l-7.5-1 5.3-9.3 7.6.8zM390.4 911.3l-7.6-.9 5.4-9.2 7.5.8zM382.8 910.4l-7.5-.9 5.3-9 7.6.7zM342.9 898l-7.6 0 5.4-8.6 7.5.1zM335.3 898l-7.5 0 5.3-8.6 7.6 0zM295.4 885.6l-7.6-.7 5.4-8.6 7.5.7zM287.8 884.9l-7.5.1 5.3-8.5 7.6-.2zM270.5 879.5l-7.5 1.5 5.3-7.8 7.6-1.5zM260.8 873.7l-7.6-1 5.4-7.5 7.5 1zM253.2 872.7l-7.5-2 5.3-7.5 7.6 2zM223 865.9l-7.5.6 5.3-7.4 7.6-.6zM213.3 860.5l-7.6 1.8 5.3-6.9 7.6-1.6zM203.5 856.9l-7.6 1.1 5.4-7.1 7.5-.8z"/><path fill="#0dafed" stroke="#076082" d="M505.8 940.3l-7.5-1 5.3-14.4 7.6.6zM375.3 909.5l-7.6-.9 5.4-8.8 7.5.7zM367.7 908.6l-7.5-.6 5.3-8.8 7.6.6zM360.2 908l-7.6-.6 5.4-8.7 7.5.5zM352.6 907.4l-7.5-.4 5.3-8.7 7.6.4zM327.8 898l-7.6-.1 5.4-8.6 7.5.1zM320.2 897.9l-7.5-.4 5.3-8.6 7.6.4zM312.7 897.5l-7.6-.8 5.4-8.7 7.5.9zM280.3 885l-7.6 1.2 5.4-8.4 7.5-1.3zM272.7 886.2l-7.5 1.5 5.3-8.2 7.6-1.7zM263 881l-7.6.5 5.4-7.8 7.5-.5zM240.3 878.7l-7.5-2.2 5.3-8.2 7.6 2.4zM232.8 876.5l-7.6-1.7 5.4-8.3 7.5 1.8zM225.2 874.8l-7.5-.7 5.3-8.2 7.6.6zM215.5 866.5l-7.6 1.4 5.4-7.4 7.5-1.4zM207.9 867.9l-7.6 1.7 5.4-7.3 7.6-1.8zM205.7 862.3l-7.6 1.7 5.4-7.1 7.5-1.5z"/><path fill="#11aaf1" stroke="#095d84" d="M498.3 939.3l-7.6-1 5.4-13.9 7.5.5zM490.7 938.3l-7.5-.9 5.3-13.3 7.6.3zM483.2 937.4l-7.6-.9 5.4-12.8 7.5.4zM475.6 936.5l-7.5-1 5.3-12.2 7.6.4zM437.9 929.7l-7.6-1.6 5.4-10.3 7.5 1.3zM430.3 928.1l-7.5-1.4 5.3-10.2 7.6 1.3zM422.8 926.7l-7.6-1.2 5.4-10.1 7.5 1.1zM415.2 925.5l-7.5-1.2 5.3-10 7.6 1.1zM407.7 924.3l-7.6-1.1 5.4-9.9 7.5 1zM400.1 923.2l-7.5-1.2 5.3-9.7 7.6 1zM392.6 922l-7.6-1.2 5.4-9.5 7.5 1zM345.1 907l-7.6-.2 5.4-8.8 7.5.3zM337.5 906.8l-7.5-.1 5.3-8.7 7.6 0zM305.1 896.7l-7.5-1.1 5.3-8.8 7.6 1.2zM297.6 895.6l-7.6-1 5.4-9 7.5 1.2zM290 894.6l-7.5-.7 5.3-9 7.6.7zM282.5 893.9l-7.6.1 5.4-9 7.5-.1zM265.2 887.7l-7.6 1.3 5.4-8 7.5-1.5zM255.4 881.5l-7.5-.9 5.3-7.9 7.6 1zM247.9 880.6l-7.6-1.9 5.4-8 7.5 2zM217.7 874.1l-7.6.5 5.4-8.1 7.5-.6zM210.1 874.6l-7.5 1.3 5.3-8 7.6-1.4zM200.3 869.6l-7.5 1.8 5.3-7.4 7.6-1.7zM198.1 864l-7.5 1.3 5.3-7.3 7.6-1.1z"/><path fill="#14c9b3" stroke="#0b6e62" d="M514.3 897.6l-7.5.4 5.3-12.1 7.6-.7zM506.8 898l-7.6.6 5.4-11.8 7.5-.9zM489.5 888.5l-7.6.6 5.4-10.4 7.5-.8zM481.9 889.1l-7.5 0 5.3-10.1 7.6-.3zM474.4 889.1l-7.6-.3 5.4-9.9 7.5.1zM466.8 888.8l-7.5-.5 5.3-9.8 7.6.4zM459.3 888.3l-7.6-.7 5.4-9.6 7.5.5zM451.7 887.6l-7.5-.8 5.3-9.3 7.6.5zM444.2 886.8l-7.6-.7 5.4-9.2 7.5.6zM436.6 886.1l-7.5-.6 5.3-9.1 7.6.5zM429.1 885.5l-7.6-.6 5.4-8.9 7.5.4zM421.5 884.9l-7.5-.5 5.3-8.7 7.6.3zM414 884.4l-7.6-.4 5.4-8.6 7.5.3zM406.4 884l-7.5-.4 5.3-8.4 7.6.2zM381.6 874.2l-7.6-.4 5.4-7.8 7.5.4zM374 873.8l-7.5-.4 5.3-7.8 7.6.4zM366.5 873.4l-7.6-.3 5.4-7.7 7.5.2zM349.2 865.4l-7.6 0 5.4-7.3 7.5 0zM341.6 865.4l-7.5-.4 5.3-7.2 7.6.3zM309.2 854l-7.5.2 5.3-6.3 7.6-.2zM301.7 854.2l-7.6 1.3 5.4-6.6 7.5-1zM299.5 848.9l-7.6 1.4 5.4-6.5 7.5-1.1zM289.7 844.8l-7.5.3 5.3-6.6 7.6-.3zM282.2 845.1l-7.6-.5 5.4-6.5 7.5.4zM274.6 844.6l-7.5-1.2 5.3-6 7.6.7zM264.9 836.5l-7.6-.7 5.4-5.2 7.5.4zM257.3 835.8l-7.5-.3 5.3-5.1 7.6.2zM249.8 835.5l-7.6.2 5.4-5.3 7.5 0zM247.6 830.4l-7.6.1 5.4-5.7 7.5.2zM240 830.5l-7.6.1 5.4-6 7.6.2zM230.2 824.2l-7.5-.5 5.3-6.4 7.6.7z"/><path fill="#15a4f4" stroke="#0b5a86" d="M468.1 935.5l-7.6-1.2 5.4-11.7 7.5.7zM460.5 934.3l-7.5-1.4 5.3-11.3 7.6 1zM453 932.9l-7.6-1.6 5.4-10.9 7.5 1.2zM445.4 931.3l-7.5-1.6 5.3-10.6 7.6 1.3zM385 920.8l-7.5-1.2 5.3-9.2 7.6.9zM377.5 919.6l-7.6-1.1 5.4-9 7.5.9zM369.9 918.5l-7.5-.9 5.3-9 7.6.9zM362.4 917.6l-7.6-.8 5.4-8.8 7.5.6zM354.8 916.8l-7.5-.6 5.3-8.8 7.6.6zM330 906.7l-7.6 0 5.4-8.7 7.5 0zM322.4 906.7l-7.5-.1 5.3-8.7 7.6.1zM314.9 906.6l-7.6-.3 5.4-8.8 7.5.4zM274.9 894l-7.5.9 5.3-8.7 7.6-1.2zM257.6 889l-7.5.5 5.3-8 7.6-.5zM227.4 885.2l-7.5-1.5 5.3-8.9 7.6 1.7zM202.6 875.9l-7.6 1.5 5.3-7.8 7.6-1.7zM192.8 871.4l-7.6 1.2 5.4-7.3 7.5-1.3z"/><path fill="#189ff7" stroke="#0d5787" d="M347.3 916.2l-7.6-.4 5.4-8.8 7.5.4zM339.7 915.8l-7.5-.2 5.3-8.8 7.6.2zM332.2 915.6l-7.6-.1 5.4-8.8 7.5.1zM307.3 906.3l-7.5-.6 5.3-9 7.6.8zM299.8 905.7l-7.6-.9 5.4-9.2 7.5 1.1zM292.2 904.8l-7.5-.9 5.3-9.3 7.6 1zM284.7 903.9l-7.6-.6 5.4-9.4 7.5.7zM267.4 894.9l-7.6 1.2 5.4-8.4 7.5-1.5zM250.1 889.5l-7.6-.7 5.4-8.2 7.5.9zM242.5 888.8l-7.5-1.7 5.3-8.4 7.6 1.9zM235 887.1l-7.6-1.9 5.4-8.7 7.5 2.2zM219.9 883.7l-7.6-.6 5.4-9 7.5.7zM212.3 883.1l-7.5.3 5.3-8.8 7.6-.5zM195 877.4l-7.6 1.5 5.4-7.5 7.5-1.8z"/><path fill="#1a9afb" stroke="#0e548a" d="M500.5 955.4l-7.6-1.5 5.4-14.6 7.5 1zM492.9 953.9l-7.5-1.4 5.3-14.2 7.6 1zM485.4 952.5l-7.6-1.5 5.4-13.6 7.5.9zM477.8 951l-7.5-1.6 5.3-12.9 7.6.9zM470.3 949.4l-7.6-1.6 5.4-12.3 7.5 1zM462.7 947.8l-7.5-1.7 5.3-11.8 7.6 1.2zM455.2 946.1l-7.6-1.9 5.4-11.3 7.5 1.4zM447.6 944.2l-7.5-1.9 5.3-11 7.6 1.6zM440.1 942.3l-7.6-1.9 5.4-10.7 7.5 1.6zM432.5 940.4l-7.5-1.8 5.3-10.5 7.6 1.6zM425 938.6l-7.6-1.6 5.4-10.3 7.5 1.4zM417.4 937l-7.5-1.4 5.3-10.1 7.6 1.2zM409.9 935.6l-7.6-1.3 5.4-10 7.5 1.2zM402.3 934.3l-7.5-1.2 5.3-9.9 7.6 1.1zM394.8 933.1l-7.6-1.3 5.4-9.8 7.5 1.2zM387.2 931.8l-7.5-1.5 5.3-9.5 7.6 1.2zM379.7 930.3l-7.6-1.4 5.4-9.3 7.5 1.2zM372.1 928.9l-7.5-1.3 5.3-9.1 7.6 1.1zM364.6 927.6l-7.6-1.1 5.4-8.9 7.5.9zM357 926.5l-7.5-.8 5.3-8.9 7.6.8zM324.6 915.5l-7.5 0 5.3-8.8 7.6 0zM317.1 915.5l-7.6 0 5.4-8.9 7.5.1zM277.1 903.3l-7.5 0 5.3-9.3 7.6-.1zM269.6 903.3l-7.6.6 5.4-9 7.5-.9zM259.8 896.1l-7.5 1.1 5.3-8.2 7.6-1.3zM252.3 897.2l-7.6.5 5.4-8.2 7.5-.5zM204.8 883.4l-7.6 1 5.4-8.5 7.5-1.3zM187.4 878.9l-7.5 1.1 5.3-7.4 7.6-1.2z"/><path fill="#1ccbaa" stroke="#0f6f5d" d="M521.9 897.6l-7.6 0 5.4-12.4 7.5-.2zM504.6 886.8l-7.6.9 5.4-10.8 7.5-1.2zM497 887.7l-7.5.8 5.3-10.6 7.6-1zM404.2 875.2l-7.5-.3 5.3-7.9 7.6.1zM396.7 874.9l-7.6-.3 5.4-7.8 7.5.2zM389.1 874.6l-7.5-.4 5.3-7.8 7.6.4zM371.8 865.6l-7.5-.2 5.3-7.4 7.6.2zM364.3 865.4l-7.6 0 5.4-7.4 7.5 0zM356.7 865.4l-7.5 0 5.3-7.3 7.6-.1zM347 858.1l-7.6-.3 5.4-6.8 7.5.2zM339.4 857.8l-7.5-.8 5.3-6.7 7.6.7zM331.9 857l-7.6-1.2 5.4-6.5 7.5 1zM324.3 855.8l-7.5-1.2 5.3-6.3 7.6 1zM316.8 854.6l-7.6-.6 5.4-6.3 7.5.6zM314.6 847.7l-7.6.2 5.4-6 7.5-.1zM307 847.9l-7.5 1 5.3-6.2 7.6-.8zM304.8 842.7l-7.5 1.1 5.3-6.3 7.6-.8zM297.3 843.8l-7.6 1 5.4-6.6 7.5-.7zM287.5 838.5l-7.5-.4 5.3-6.3 7.6.1zM280 838.1l-7.6-.7 5.4-6 7.5.4zM272.4 837.4l-7.5-.9 5.3-5.5 7.6.4zM270.2 831l-7.5-.4 5.3-5.4 7.6.1zM262.7 830.6l-7.6-.2 5.4-5.3 7.5.1zM255.1 830.4l-7.5 0 5.3-5.4 7.6.1zM252.9 825l-7.5-.2 5.3-5.8 7.6.3zM245.4 824.8l-7.6-.2 5.3-6.1 7.6.5zM237.8 824.6l-7.6-.4 5.4-6.2 7.5.5zM235.6 818l-7.6-.7 5.4-6.3 7.5.8z"/><path fill="#1f94ff" stroke="#11518c" d="M349.5 925.7l-7.6-.6 5.4-8.9 7.5.6zM341.9 925.1l-7.5-.4 5.3-8.9 7.6.4zM334.4 924.7l-7.6-.2 5.4-8.9 7.5.2zM309.5 915.5l-7.5-.2 5.3-9 7.6.3zM302 915.3l-7.6-.4 5.4-9.2 7.5.6zM294.4 914.9l-7.5-.7 5.3-9.4 7.6.9zM262 903.9l-7.5.8 5.3-8.6 7.6-1.2zM244.7 897.7l-7.5-.5 5.3-8.4 7.6.7zM237.2 897.2l-7.6-1.3 5.4-8.8 7.5 1.7zM229.6 895.9l-7.5-1.4 5.3-9.3 7.6 1.9zM222.1 894.5l-7.6-1.3 5.4-9.5 7.5 1.5zM214.5 893.2l-7.5-.5 5.3-9.6 7.6.6zM207 892.7l-7.6.1 5.4-9.4 7.5-.3zM197.2 884.4l-7.6 1.2 5.4-8.2 7.6-1.5zM189.6 885.6l-7.5 1.1 5.3-7.8 7.6-1.5z"/><path fill="#218fff" stroke="#124e8c" d="M326.8 924.5l-7.5-.1 5.3-8.9 7.6.1zM319.3 924.4l-7.6 0 5.4-8.9 7.5 0zM286.9 914.2l-7.6-.7 5.4-9.6 7.5.9zM279.3 913.5l-7.5-.5 5.3-9.7 7.6.6zM271.8 913l-7.6-.2 5.4-9.5 7.5 0zM254.5 904.7l-7.6.9 5.4-8.4 7.5-1.1zM199.4 892.8l-7.5.5 5.3-8.9 7.6-1zM182.1 886.7l-7.6.8 5.4-7.5 7.5-1.1z"/><path fill="#2289ff" stroke="#124b8c" d="M457.4 960.2l-7.6-2.3 5.4-11.8 7.5 1.7zM449.8 957.9l-7.5-2.3 5.3-11.4 7.6 1.9zM442.3 955.6l-7.6-2.3 5.4-11 7.5 1.9zM434.7 953.3l-7.5-2.2 5.3-10.7 7.6 1.9zM427.2 951.1l-7.6-2 5.4-10.5 7.5 1.8zM419.6 949.1l-7.5-1.8 5.3-10.3 7.6 1.6zM412.1 947.3l-7.6-1.5 5.4-10.2 7.5 1.4zM404.5 945.8l-7.5-1.4 5.3-10.1 7.6 1.3zM397 944.4l-7.6-1.4 5.4-9.9 7.5 1.2zM389.4 943l-7.5-1.5 5.3-9.7 7.6 1.3zM381.9 941.5l-7.6-1.6 5.4-9.6 7.5 1.5zM374.3 939.9l-7.5-1.6 5.3-9.4 7.6 1.4zM366.8 938.3l-7.6-1.5 5.4-9.2 7.5 1.3zM359.2 936.8l-7.5-1.3 5.3-9 7.6 1.1zM351.7 935.5l-7.6-.9 5.4-8.9 7.5.8zM344.1 934.6l-7.5-.7 5.3-8.8 7.6.6zM336.6 933.9l-7.6-.4 5.4-8.8 7.5.4zM311.7 924.4l-7.5.1 5.3-9 7.6 0zM304.2 924.5l-7.6-.1 5.4-9.1 7.5.2zM264.2 912.8l-7.5.2 5.3-9.1 7.6-.6zM256.7 913l-7.6.5 5.4-8.8 7.5-.8zM246.9 905.6l-7.5.4 5.3-8.3 7.6-.5zM239.4 906l-7.6-.3 5.4-8.5 7.5.5zM231.8 905.7l-7.5-.7 5.3-9.1 7.6 1.3zM224.3 905l-7.6-1 5.4-9.5 7.5 1.4zM191.9 893.3l-7.6.7 5.3-8.4 7.6-1.2z"/><path fill="#22cda1" stroke="#127058" d="M512.1 885.9l-7.5.9 5.3-11.1 7.6-1zM494.8 877.9l-7.5.8 5.3-9.9 7.6-.8zM487.3 878.7l-7.6.3 5.4-9.7 7.5-.5zM479.7 879l-7.5-.1 5.3-9.5 7.6-.1zM472.2 878.9l-7.6-.4 5.4-9.3 7.5.2zM464.6 878.5l-7.5-.5 5.3-9.1 7.6.3zM457.1 878l-7.6-.5 5.4-9 7.5.4zM449.5 877.5l-7.5-.6 5.3-8.8 7.6.4zM442 876.9l-7.6-.5 5.4-8.6 7.5.3zM434.4 876.4l-7.5-.4 5.3-8.5 7.6.3zM426.9 876l-7.6-.3 5.4-8.4 7.5.2zM419.3 875.7l-7.5-.3 5.3-8.2 7.6.1zM411.8 875.4l-7.6-.2 5.4-8.1 7.5.1zM394.5 866.8l-7.6-.4 5.4-7.4 7.5.3zM386.9 866.4l-7.5-.4 5.3-7.4 7.6.4zM379.4 866l-7.6-.4 5.4-7.4 7.5.4zM362.1 858l-7.6.1 5.4-7 7.5-.2zM354.5 858.1l-7.5 0 5.3-6.9 7.6-.1zM344.8 851l-7.6-.7 5.4-6.4 7.5.5zM337.2 850.3l-7.5-1 5.3-6.2 7.6.8zM329.7 849.3l-7.6-1 5.4-6 7.5.8zM322.1 848.3l-7.5-.6 5.3-5.9 7.6.5zM312.4 841.9l-7.6.8 5.4-6 7.5-.6zM302.6 837.5l-7.5.7 5.3-6.5 7.6-.5zM295.1 838.2l-7.6.3 5.4-6.6 7.5-.2zM285.3 831.8l-7.5-.4 5.3-6 7.6.1zM277.8 831.4l-7.6-.4 5.4-5.7 7.5.1zM275.6 825.3l-7.6-.1 5.4-5.7 7.5 0zM268 825.2l-7.5-.1 5.3-5.6 7.6 0zM260.5 825.1l-7.6-.1 5.4-5.7 7.5.2zM258.3 819.3l-7.6-.3 5.4-6.1 7.5.4zM250.7 819l-7.6-.5 5.4-6.1 7.6.5zM243.1 818.5l-7.5-.5 5.3-6.2 7.6.6zM240.9 811.8l-7.5-.8 5.3-6.1 7.6.8z"/><path fill="#2483ff" stroke="#13488c" d="M495.2 970.5l-7.6-1.9 5.3-14.7 7.6 1.5zM487.6 968.6l-7.6-2 5.4-14.1 7.5 1.4zM480 966.6l-7.5-2.1 5.3-13.5 7.6 1.5zM472.5 964.5l-7.6-2.1 5.4-13 7.5 1.6zM464.9 962.4l-7.5-2.2 5.3-12.4 7.6 1.6zM329 933.5l-7.5-.2 5.3-8.8 7.6.2zM321.5 933.3l-7.6 0 5.4-8.9 7.5.1zM296.6 924.4l-7.5-.3 5.3-9.2 7.6.4zM289.1 924.1l-7.6-.4 5.4-9.5 7.5.7zM281.5 923.7l-7.5-.5 5.3-9.7 7.6.7zM249.1 913.5l-7.5.5 5.3-8.4 7.6-.9zM216.7 904l-7.5-.8 5.3-10 7.6 1.3zM209.2 903.2l-7.6-.5 5.4-10 7.5.5zM201.6 902.7l-7.5-.2 5.3-9.7 7.6-.1zM184.3 894l-7.6.7 5.4-8 7.5-1.1zM176.7 894.7l-7.5.3 5.3-7.5 7.6-.8z"/><path fill="#287dff" stroke="#16448c" d="M414.3 959.5l-7.6-1.9 5.4-10.3 7.5 1.8zM406.7 957.6l-7.5-1.7 5.3-10.1 7.6 1.5zM399.2 955.9l-7.6-1.5 5.4-10 7.5 1.4zM391.6 954.4l-7.5-1.5 5.3-9.9 7.6 1.4zM384.1 952.9l-7.6-1.7 5.4-9.7 7.5 1.5zM376.5 951.2l-7.5-1.8 5.3-9.5 7.6 1.6zM369 949.4l-7.6-1.8 5.4-9.3 7.5 1.6zM361.4 947.6l-7.5-1.7 5.3-9.1 7.6 1.5zM353.9 945.9l-7.6-1.5 5.4-8.9 7.5 1.3zM346.3 944.4l-7.5-1 5.3-8.8 7.6.9zM338.8 943.4l-7.6-.6 5.4-8.9 7.5.7zM313.9 933.3l-7.5.1 5.3-9 7.6 0zM306.4 933.4l-7.6 0 5.4-8.9 7.5-.1zM274 923.2l-7.6-.5 5.4-9.7 7.5.5zM266.4 922.7l-7.5-.3 5.3-9.6 7.6.2zM258.9 922.4l-7.6-.1 5.4-9.3 7.5-.2zM241.6 914l-7.6.4 5.4-8.4 7.5-.4zM234 914.4l-7.5.1 5.3-8.8 7.6.3zM194.1 902.5l-7.6.1 5.4-9.3 7.5-.5zM186.5 902.6l-7.6.1 5.4-8.7 7.6-.7z"/><path fill="#29cf97" stroke="#167153" d="M527.2 885l-7.5.2 5.3-11.4 7.6-.4zM519.7 885.2l-7.6.7 5.4-11.2 7.5-.9zM502.4 876.9l-7.6 1 5.4-9.9 7.5-1.1zM409.6 867.1l-7.6-.1 5.4-7.6 7.5.1zM402 867l-7.5-.2 5.3-7.5 7.6.1zM384.7 858.6l-7.5-.4 5.3-7.1 7.6.3zM377.2 858.2l-7.6-.2 5.4-7.1 7.5.2zM369.6 858l-7.5 0 5.3-7.1 7.6 0zM359.9 851.1l-7.6.1 5.4-6.7 7.5-.2zM352.3 851.2l-7.5-.2 5.3-6.6 7.6.1zM335 843.1l-7.5-.8 5.3-5.8 7.6.6zM327.5 842.3l-7.6-.5 5.4-5.7 7.5.4zM319.9 841.8l-7.5.1 5.3-5.8 7.6 0zM317.7 836.1l-7.5.6 5.3-6 7.6-.3zM310.2 836.7l-7.6.8 5.4-6.3 7.5-.5zM308 831.2l-7.6.5 5.4-6.5 7.5-.2zM300.4 831.7l-7.5.2 5.3-6.5 7.6-.2zM292.9 831.9l-7.6-.1 5.4-6.3 7.5-.1zM290.7 825.5l-7.6-.1 5.4-6.1 7.5-.1zM283.1 825.4l-7.5-.1 5.3-5.8 7.6-.2zM280.9 819.5l-7.5 0 5.3-6 7.6-.2zM273.4 819.5l-7.6 0 5.4-6.1 7.5.1zM265.8 819.5l-7.5-.2 5.3-6 7.6.1zM271.2 813.4l-7.6-.1 5.4-6.2 7.5.1zM263.6 813.3l-7.5-.4 5.3-6.2 7.6.4zM256.1 812.9l-7.6-.5 5.3-6.1 7.6.4zM248.5 812.4l-7.6-.6 5.4-6.1 7.5.6zM253.8 806.3l-7.5-.6 5.3-6 7.6.5zM246.3 805.7l-7.6-.8 5.4-5.9 7.5.7z"/><path fill="#2f76ff" stroke="#19408c" d="M436.9 966.9l-7.5-2.7 5.3-10.9 7.6 2.3zM429.4 964.2l-7.6-2.5 5.4-10.6 7.5 2.2zM421.8 961.7l-7.5-2.2 5.3-10.4 7.6 2zM331.2 942.8l-7.5-.4 5.3-8.9 7.6.4zM323.7 942.4l-7.6-.2 5.4-8.9 7.5.2zM298.8 933.4l-7.5.1 5.3-9.1 7.6.1zM291.3 933.5l-7.6-.1 5.4-9.3 7.5.3zM251.3 922.3l-7.5 0 5.3-8.8 7.6-.5zM226.5 914.5l-7.6-.3 5.4-9.2 7.5.7zM218.9 914.2l-7.5-.3 5.3-9.9 7.6 1zM211.4 913.9l-7.6-.5 5.4-10.2 7.5.8zM178.9 902.7l-7.5.1 5.3-8.1 7.6-.7z"/><path fill="#31d18c" stroke="#1a724d" d="M517.5 874.7l-7.6 1 5.4-10 7.5-1.1zM509.9 875.7l-7.5 1.2 5.3-10 7.6-1.2zM500.2 868l-7.6.8 5.4-9.2 7.5-.8zM492.6 868.8l-7.5.5 5.3-9.2 7.6-.5zM485.1 869.3l-7.6.1 5.4-9.2 7.5-.1zM477.5 869.4l-7.5-.2 5.3-9 7.6 0zM470 869.2l-7.6-.3 5.4-8.9 7.5.2zM462.4 868.9l-7.5-.4 5.3-8.7 7.6.2zM454.9 868.5l-7.6-.4 5.4-8.4 7.5.1zM447.3 868.1l-7.5-.3 5.3-8.3 7.6.2zM439.8 867.8l-7.6-.3 5.4-8.1 7.5.1zM432.2 867.5l-7.5-.2 5.3-7.9 7.6 0zM424.7 867.3l-7.6-.1 5.4-7.8 7.5 0zM417.1 867.2l-7.5-.1 5.3-7.6 7.6-.1zM407.4 859.4l-7.6-.1 5.4-7.3 7.5.1zM399.8 859.3l-7.5-.3 5.3-7.2 7.6.2zM392.3 859l-7.6-.4 5.4-7.2 7.5.4zM375 850.9l-7.6 0 5.4-6.8 7.5 0zM367.4 850.9l-7.5.2 5.3-6.8 7.6-.2zM357.7 844.5l-7.6-.1 5.4-6.4 7.5-.1zM350.1 844.4l-7.5-.5 5.3-6.2 7.6.3zM342.6 843.9l-7.6-.8 5.4-6 7.5.6zM340.4 837.1l-7.6-.6 5.4-5.8 7.5.4zM332.8 836.5l-7.5-.4 5.3-5.7 7.6.3zM325.3 836.1l-7.6 0 5.4-5.7 7.5 0zM315.5 830.7l-7.5.5 5.3-6.2 7.6-.2zM305.8 825.2l-7.6.2 5.4-6.4 7.5-.1zM298.2 825.4l-7.5.1 5.3-6.3 7.6-.2zM296 819.2l-7.5.1 5.3-6.2 7.6-.3zM288.5 819.3l-7.6.2 5.4-6.2 7.5-.2zM286.3 813.3l-7.6.2 5.4-6.3 7.5-.1zM278.7 813.5l-7.5-.1 5.3-6.2 7.6 0zM276.5 807.2l-7.5-.1 5.3-6.3 7.6.1zM269 807.1l-7.6-.4 5.4-6.1 7.5.2zM261.4 806.7l-7.6-.4 5.4-6.1 7.6.4zM259.2 800.2l-7.6-.5 5.4-5.8 7.5.4zM251.6 799.7l-7.5-.7 5.3-5.7 7.6.6z"/><path fill="#376fff" stroke="#1e3d8c" d="M459.6 975.3l-7.6-2.8 5.4-12.3 7.5 2.2zM452 972.5l-7.5-2.8 5.3-11.8 7.6 2.3zM444.5 969.7l-7.6-2.8 5.4-11.3 7.5 2.3zM316.1 942.2l-7.5 0 5.3-8.9 7.6 0zM308.6 942.2l-7.6 0 5.4-8.8 7.5-.1zM283.7 933.4l-7.5-.2 5.3-9.5 7.6.4zM276.2 933.2l-7.6-.3 5.4-9.7 7.5.5zM268.6 932.9l-7.5-.4 5.3-9.8 7.6.5zM243.8 922.3l-7.6.2 5.4-8.5 7.5-.5zM236.2 922.5l-7.5.3 5.3-8.4 7.6-.4zM203.8 913.4l-7.5-.4 5.3-10.3 7.6.5zM196.3 913l-7.6-.5 5.4-10 7.5.2zM171.4 902.8l-7.6-.2 5.4-7.6 7.5-.3z"/><path fill="#3c68ff" stroke="#21398c" d="M482.2 983.1l-7.5-2.5 5.3-14 7.6 2zM474.7 980.6l-7.6-2.6 5.4-13.5 7.5 2.1zM467.1 978l-7.5-2.7 5.3-12.9 7.6 2.1zM301 942.2l-7.5.2 5.3-9 7.6 0zM293.5 942.4l-7.6.1 5.4-9 7.5-.1zM261.1 932.5l-7.6-.4 5.4-9.7 7.5.3zM253.5 932.1l-7.5-.5 5.3-9.3 7.6.1zM228.7 922.8l-7.6.4 5.4-8.7 7.5-.1zM188.7 912.5l-7.5-.4 5.3-9.5 7.6-.1zM181.2 912.1l-7.6-.6 5.3-8.8 7.6-.1zM173.6 911.5l-7.6-.6 5.4-8.1 7.5-.1z"/><path fill="#3ed281" stroke="#227346" d="M525 873.8l-7.5.9 5.3-10.1 7.6-.9zM507.7 866.9l-7.5 1.1 5.3-9.2 7.6-1.1zM422.5 859.4l-7.6.1 5.4-7.4 7.5-.2zM414.9 859.5l-7.5-.1 5.3-7.3 7.6 0zM397.6 851.8l-7.5-.4 5.3-6.9 7.6.3zM390.1 851.4l-7.6-.3 5.4-6.9 7.5.3zM382.5 851.1l-7.5-.2 5.3-6.8 7.6.1zM372.8 844.1l-7.6.2 5.4-6.6 7.5-.2zM365.2 844.3l-7.5.2 5.3-6.6 7.6-.2zM355.5 838l-7.6-.3 5.4-6.2 7.5.1zM347.9 837.7l-7.5-.6 5.3-6 7.6.4zM338.2 830.7l-7.6-.3 5.4-5.7 7.5.1zM330.6 830.4l-7.5 0 5.3-5.7 7.6 0zM323.1 830.4l-7.6.3 5.4-5.9 7.5-.1zM320.9 824.8l-7.6.2 5.4-6.2 7.5-.1zM313.3 825l-7.5.2 5.3-6.3 7.6-.1zM311.1 818.9l-7.5.1 5.3-6.4 7.6-.1zM303.6 819l-7.6.2 5.4-6.4 7.5-.2zM301.4 812.8l-7.6.3 5.4-6.3 7.5-.2zM293.8 813.1l-7.5.2 5.3-6.2 7.6-.3zM291.6 807.1l-7.5.1 5.3-6.3 7.6-.1zM284.1 807.2l-7.6 0 5.4-6.3 7.5 0zM281.9 800.9l-7.6-.1 5.4-6.1 7.5.1zM274.3 800.8l-7.5-.2 5.3-6 7.6.1zM266.8 800.6l-7.6-.4 5.3-5.9 7.6.3zM272.1 794.6l-7.6-.3 5.4-5.7 7.6.2zM264.5 794.3l-7.5-.4 5.3-5.6 7.6.3zM257 793.9l-7.6-.6 5.4-5.5 7.5.5zM262.3 788.3l-7.5-.5 5.3-5.4 7.6.5z"/><path fill="#3f62ff" stroke="#22358c" d="M489.8 985.4l-7.6-2.3 5.4-14.5 7.6 1.9zM285.9 942.5l-7.5.1 5.3-9.2 7.6.1zM278.4 942.6l-7.6.1 5.4-9.5 7.5.2zM246 931.6l-7.6-.4 5.4-8.9 7.5 0zM238.4 931.2l-7.5-.2 5.3-8.5 7.6-.2zM221.1 923.2l-7.5.4 5.3-9.4 7.6.3zM213.6 923.6l-7.6.2 5.4-9.9 7.5.3zM166 910.9l-7.5-.7 5.3-7.6 7.6.2z"/><path fill="#415cff" stroke="#23328c" d="M270.8 942.7l-7.5-.1 5.3-9.7 7.6.3zM263.3 942.6l-7.6-.4 5.4-9.7 7.5.4zM230.9 931l-7.6.3 5.4-8.5 7.5-.3zM223.3 931.3l-7.5.7 5.3-8.8 7.6-.4zM206 923.8l-7.5 0 5.3-10.4 7.6.5zM198.5 923.8l-7.6-.4 5.4-10.4 7.5.4zM190.9 923.4l-7.5-.7 5.3-10.2 7.6.5z"/><path fill="#432fde" stroke="#24197a" d="M180.2 941.1l-7.5-1.5 5.3-6.7 7.6 1zM172.7 939.6l-7.6-1.5 5.4-6.8 7.5 1.6z"/><path fill="#4356ff" stroke="#242f8c" d="M255.7 942.2l-7.5-.6 5.3-9.5 7.6.4zM248.2 941.6l-7.6-.8 5.4-9.2 7.5.5zM240.6 940.8l-7.5-.8 5.3-8.8 7.6.4zM215.8 932l-7.6 1 5.4-9.4 7.5-.4zM183.4 922.7l-7.6-1 5.4-9.6 7.5.4zM175.8 921.7l-7.6-1.2 5.4-9 7.6.6zM168.2 920.5l-7.5-1.3 5.3-8.3 7.6.6zM160.7 919.2l-7.6-1.4 5.4-7.6 7.5.7z"/><path fill="#4433ea" stroke="#251c80" d="M187.8 942.6l-7.6-1.5 5.4-7.2 7.5.3zM165.1 938.1l-7.6-1.5 5.4-7.2 7.6 1.9zM157.5 936.6l-7.5-1.5 5.3-7.7 7.6 2z"/><path fill="#4438f3" stroke="#251e85" d="M195.3 943.7l-7.5-1.1 5.3-8.4 7.6-.4zM150 935.1l-7.6-2.1 5.4-7.6 7.5 2z"/><path fill="#444aff" stroke="#25288c" d="M218 939.7l-7.6 1.1 5.4-8.8 7.5-.7zM200.7 933.8l-7.6.4 5.4-10.4 7.5 0zM193.1 934.2l-7.5-.3 5.3-10.5 7.6.4z"/><path fill="#4450ff" stroke="#252c8c" d="M233.1 940l-7.6-.5 5.4-8.5 7.5.2zM225.5 939.5l-7.5.2 5.3-8.4 7.6-.3zM208.2 933l-7.5.8 5.3-10 7.6-.2z"/><path fill="#453efb" stroke="#25228a" d="M202.9 942.3l-7.6 1.4 5.4-9.9 7.5-.8z"/><path fill="#4544ff" stroke="#25258c" d="M210.4 940.8l-7.5 1.5 5.3-9.3 7.6-1zM185.6 933.9l-7.6-1 5.4-10.2 7.5.7zM178 932.9l-7.5-1.6 5.3-9.6 7.6 1zM170.5 931.3l-7.6-1.9 5.3-8.9 7.6 1.2zM162.9 929.4l-7.6-2 5.4-8.2 7.5 1.3zM155.3 927.4l-7.5-2 5.3-7.6 7.6 1.4z"/><path fill="#4cd374" stroke="#29743f" d="M532.6 873.4l-7.6.4 5.4-10.1 7.5-.4zM515.3 865.7l-7.6 1.2 5.4-9.2 7.5-1.1zM498 859.6l-7.6.5 5.4-8.8 7.5-.5zM490.4 860.1l-7.5.1 5.3-8.7 7.6-.2zM482.9 860.2l-7.6 0 5.4-8.6 7.5-.1zM475.3 860.2l-7.5-.2 5.3-8.4 7.6 0zM467.8 860l-7.6-.2 5.4-8.3 7.5.1zM460.2 859.8l-7.5-.1 5.3-8.2 7.6 0zM452.7 859.7l-7.6-.2 5.4-7.9 7.5-.1zM445.1 859.5l-7.5-.1 5.3-7.7 7.6-.1zM437.6 859.4l-7.6 0 5.4-7.6 7.5-.1zM430 859.4l-7.5 0 5.3-7.5 7.6-.1zM420.3 852.1l-7.6 0 5.4-7 7.5-.1zM412.7 852.1l-7.5-.1 5.3-7 7.6.1zM405.2 852l-7.6-.2 5.4-7 7.5.2zM395.4 844.5l-7.5-.3 5.3-6.6 7.6.2zM387.9 844.2l-7.6-.1 5.4-6.7 7.5.2zM380.3 844.1l-7.5 0 5.3-6.6 7.6-.1zM378.1 837.5l-7.5.2 5.3-6.4 7.6-.2zM370.6 837.7l-7.6.2 5.4-6.4 7.5-.2zM363 837.9l-7.5.1 5.3-6.4 7.6-.1zM360.8 831.6l-7.5-.1 5.3-6.3 7.6 0zM353.3 831.5l-7.6-.4 5.4-6.1 7.5.2zM345.7 831.1l-7.5-.4 5.3-5.9 7.6.2zM343.5 824.8l-7.5-.1 5.3-6 7.6 0zM336 824.7l-7.6 0 5.4-6 7.5 0zM328.4 824.7l-7.5.1 5.3-6.1 7.6 0zM326.2 818.7l-7.5.1 5.3-6.3 7.6 0zM318.7 818.8l-7.6.1 5.4-6.4 7.5 0zM316.5 812.5l-7.6.1 5.4-6.2 7.5-.1zM308.9 812.6l-7.5.2 5.3-6.2 7.6-.2zM306.7 806.6l-7.5.2 5.3-6.1 7.6-.2zM299.2 806.8l-7.6.3 5.4-6.3 7.5-.1zM297 800.8l-7.6.1 5.4-6.1 7.5 0zM289.4 800.9l-7.5 0 5.3-6.1 7.6 0zM287.2 794.8l-7.5-.1 5.3-5.8 7.6 0zM279.7 794.7l-7.6-.1 5.4-5.8 7.5.1zM285 788.9l-7.5-.1 5.3-5.5 7.6.1zM277.5 788.8l-7.6-.2 5.3-5.5 7.6.2zM269.9 788.6l-7.6-.3 5.4-5.4 7.5.2zM275.2 783.1l-7.5-.2 5.3-5.2 7.6.4zM267.7 782.9l-7.6-.5 5.4-5.2 7.5.5z"/><path fill="#5ad367" stroke="#317438" d="M530.4 863.7l-7.6.9 5.4-9 7.5-.7zM522.8 864.6l-7.5 1.1 5.3-9.1 7.6-1zM513.1 857.7l-7.6 1.1 5.4-8.7 7.5-.8zM505.5 858.8l-7.5.8 5.3-8.8 7.6-.7zM435.4 851.8l-7.6.1 5.4-7.2 7.5-.2zM427.8 851.9l-7.5.2 5.3-7.1 7.6-.3zM418.1 845.1l-7.6-.1 5.4-6.8 7.5 0zM410.5 845l-7.5-.2 5.3-6.7 7.6.1zM403 844.8l-7.6-.3 5.4-6.7 7.5.3zM393.2 837.6l-7.5-.2 5.3-6.4 7.6.1zM385.7 837.4l-7.6.1 5.4-6.4 7.5-.1zM375.9 831.3l-7.5.2 5.3-6.4 7.6-.1zM368.4 831.5l-7.6.1 5.4-6.4 7.5-.1zM358.6 825.2l-7.5-.2 5.3-6.2 7.6 0zM351.1 825l-7.6-.2 5.4-6.1 7.5.1zM348.9 818.7l-7.6 0 5.4-6.2 7.5-.1zM341.3 818.7l-7.5 0 5.3-6.2 7.6 0zM333.8 818.7l-7.6 0 5.4-6.2 7.5 0zM339.1 812.5l-7.5 0 5.3-6.2 7.6 0zM331.6 812.5l-7.6 0 5.4-6.2 7.5 0zM324 812.5l-7.5 0 5.3-6.2 7.6 0zM321.8 806.3l-7.5.1 5.3-6 7.6-.1zM314.3 806.4l-7.6.2 5.4-6.1 7.5-.1zM319.6 800.4l-7.5.1 5.3-5.8 7.6 0zM312.1 800.5l-7.6.2 5.4-5.9 7.5-.1zM304.5 800.7l-7.5.1 5.3-6 7.6 0zM309.9 794.8l-7.6 0 5.4-5.7 7.5.1zM302.3 794.8l-7.5 0 5.3-5.8 7.6.1zM294.8 794.8l-7.6 0 5.4-5.9 7.5.1zM300.1 789l-7.5-.1 5.3-5.4 7.6.2zM292.6 788.9l-7.6 0 5.4-5.5 7.5.1zM290.4 783.4l-7.6-.1 5.4-5 7.5.2zM282.8 783.3l-7.6-.2 5.4-5 7.6.2zM288.2 778.3l-7.6-.2 5.3-4.9 7.6.4zM280.6 778.1l-7.6-.4 5.4-5 7.5.5zM273 777.7l-7.5-.5 5.3-5.1 7.6.6z"/><path fill="#6ad25a" stroke="#3a7331" d="M537.9 863.3l-7.5.4 5.3-8.8 7.6-.3zM520.6 856.6l-7.5 1.1 5.3-8.4 7.6-.9zM503.3 850.8l-7.5.5 5.3-8.4 7.6-.4zM495.8 851.3l-7.6.2 5.4-8.4 7.5-.2zM488.2 851.5l-7.5.1 5.3-8.3 7.6-.2zM480.7 851.6l-7.6 0 5.4-8.2 7.5-.1zM473.1 851.6l-7.5-.1 5.3-7.9 7.6-.2zM465.6 851.5l-7.6 0 5.4-7.8 7.5-.1zM458 851.5l-7.5.1 5.3-7.7 7.6-.2zM450.5 851.6l-7.6.1 5.4-7.5 7.5-.3zM442.9 851.7l-7.5.1 5.3-7.3 7.6-.3zM433.2 844.7l-7.6.3 5.4-7 7.5-.3zM425.6 845l-7.5.1 5.3-6.9 7.6-.2zM415.9 838.2l-7.6-.1 5.4-6.6 7.5.1zM408.3 838.1l-7.5-.3 5.3-6.5 7.6.2zM400.8 837.8l-7.6-.2 5.4-6.5 7.5.2zM391 831l-7.5.1 5.3-6.3 7.6 0zM383.5 831.1l-7.6.2 5.4-6.3 7.5-.2zM373.7 825.1l-7.5.1 5.3-6.4 7.6-.1zM366.2 825.2l-7.6 0 5.4-6.4 7.5 0zM364 818.8l-7.6 0 5.4-6.5 7.5-.1zM356.4 818.8l-7.5-.1 5.3-6.3 7.6-.1zM354.2 812.4l-7.5.1 5.3-6.4 7.6-.2zM346.7 812.5l-7.6 0 5.4-6.2 7.5-.2zM344.5 806.3l-7.6 0 5.4-6.1 7.5-.1zM336.9 806.3l-7.5 0 5.3-6 7.6-.1zM329.4 806.3l-7.6 0 5.4-6 7.5 0zM334.7 800.3l-7.5 0 5.3-5.7 7.6-.1zM327.2 800.3l-7.6.1 5.4-5.7 7.5-.1zM325 794.7l-7.6 0 5.4-5.4 7.5 0zM317.4 794.7l-7.5.1 5.3-5.6 7.6.1zM322.8 789.3l-7.6-.1 5.4-5.1 7.5.2zM315.2 789.2l-7.5-.1 5.3-5.2 7.6.2zM307.7 789.1l-7.6-.1 5.4-5.3 7.5.2zM313 783.9l-7.5-.2 5.3-4.7 7.6.3zM305.5 783.7l-7.6-.2 5.4-4.8 7.5.3zM310.8 779l-7.5-.3 5.3-4.4 7.6.4zM297.9 783.5l-7.5-.1 5.3-4.9 7.6.2zM303.3 778.7l-7.6-.2 5.4-4.5 7.5.3zM295.7 778.5l-7.5-.2 5.3-4.7 7.6.4zM301.1 774l-7.6-.4 5.4-4.5 7.5.6zM293.5 773.6l-7.6-.4 5.4-4.7 7.6.6zM285.9 773.2l-7.5-.5 5.3-4.9 7.6.7zM278.4 772.7l-7.6-.6 5.4-5.1 7.5.8zM283.7 767.8l-7.5-.8 5.3-5.1 7.6 1z"/><path fill="#7bd14d" stroke="#43722a" d="M535.7 854.9l-7.5.7 5.3-7.9 7.6-.5zM528.2 855.6l-7.6 1 5.4-8.2 7.5-.7zM518.4 849.3l-7.5.8 5.3-8 7.6-.6zM510.9 850.1l-7.6.7 5.4-8.3 7.5-.4zM478.5 843.4l-7.6.2 5.4-7.8 7.5-.3zM470.9 843.6l-7.5.1 5.3-7.5 7.6-.4zM463.4 843.7l-7.6.2 5.4-7.4 7.5-.3zM455.8 843.9l-7.5.3 5.3-7.3 7.6-.4zM448.3 844.2l-7.6.3 5.4-7.2 7.5-.4zM440.7 844.5l-7.5.2 5.3-7 7.6-.4zM431 838l-7.6.2 5.4-6.7 7.5-.3zM423.4 838.2l-7.5 0 5.3-6.6 7.6-.1zM413.7 831.5l-7.6-.2 5.4-6.4 7.5.1zM406.1 831.3l-7.5-.2 5.3-6.3 7.6.1zM398.6 831.1l-7.6-.1 5.4-6.2 7.5 0zM396.4 824.8l-7.6 0 5.4-6.1 7.5-.1zM388.8 824.8l-7.5.2 5.3-6.3 7.6 0zM381.3 825l-7.6.1 5.4-6.4 7.5 0zM379.1 818.7l-7.6.1 5.4-6.6 7.5.1zM371.5 818.8l-7.5 0 5.3-6.6 7.6 0zM369.3 812.2l-7.5.1 5.3-6.6 7.6-.1zM361.8 812.3l-7.6.1 5.4-6.5 7.5-.2zM359.6 805.9l-7.6.2 5.4-6.3 7.5-.3zM352 806.1l-7.5.2 5.3-6.2 7.6-.3zM349.8 800.1l-7.5.1 5.3-5.9 7.6-.2zM342.3 800.2l-7.6.1 5.4-5.8 7.5-.2zM347.6 794.3l-7.5.2 5.3-5.5 7.6-.2zM340.1 794.5l-7.6.1 5.4-5.4 7.5-.2zM332.5 794.6l-7.5.1 5.3-5.4 7.6-.1zM337.9 789.2l-7.6.1 5.4-4.9 7.5-.1zM330.3 789.3l-7.5 0 5.3-5 7.6.1zM335.7 784.4l-7.6-.1 5.4-4.4 7.5.1zM328.1 784.3l-7.5-.2 5.3-4.5 7.6.3zM333.5 779.9l-7.6-.3 5.4-4 7.5.3zM320.6 784.1l-7.6-.2 5.4-4.6 7.5.3zM325.9 779.6l-7.5-.3 5.3-4.1 7.6.4zM318.4 779.3l-7.6-.3 5.4-4.3 7.5.5zM323.7 775.2l-7.5-.5 5.3-4 7.6.5zM316.2 774.7l-7.6-.4 5.4-4.1 7.5.5zM321.5 770.7l-7.5-.5 5.3-4.2 7.6.6zM308.6 774.3l-7.5-.3 5.3-4.3 7.6.5zM314 770.2l-7.6-.5 5.4-4.4 7.5.7zM306.4 769.7l-7.5-.6 5.3-4.5 7.6.7zM298.9 769.1l-7.6-.6 5.3-4.7 7.6.8zM304.2 764.6l-7.6-.8 5.4-5.1 7.6 1zM291.3 768.5l-7.6-.7 5.4-4.9 7.5.9zM296.6 763.8l-7.5-.9 5.3-5.2 7.6 1zM289.1 762.9l-7.6-1 5.4-5.3 7.5 1.1z"/><path fill="#8bcf40" stroke="#4c7123" d="M543.3 854.6l-7.6.3 5.4-7.7 7.5-.2zM526 848.4l-7.6.9 5.4-7.8 7.5-.5zM501.1 842.9l-7.5.2 5.3-8 7.6-.2zM493.6 843.1l-7.6.2 5.4-8 7.5-.2zM486 843.3l-7.5.1 5.3-7.9 7.6-.2zM446.1 837.3l-7.6.4 5.4-6.9 7.5-.4zM438.5 837.7l-7.5.3 5.3-6.8 7.6-.4zM428.8 831.5l-7.6.1 5.4-6.6 7.5-.2zM421.2 831.6l-7.5-.1 5.3-6.5 7.6 0zM411.5 824.9l-7.6-.1 5.4-6.1 7.5 0zM403.9 824.8l-7.5 0 5.3-6.2 7.6.1zM401.7 818.6l-7.5.1 5.3-6.2 7.6.1zM394.2 818.7l-7.6 0 5.4-6.3 7.5.1zM386.6 818.7l-7.5 0 5.3-6.4 7.6.1zM392 812.4l-7.6-.1 5.4-6.4 7.5.4zM384.4 812.3l-7.5-.1 5.3-6.5 7.6.2zM376.9 812.2l-7.6 0 5.4-6.6 7.5.1zM374.7 805.6l-7.6.1 5.4-6.4 7.5-.1zM367.1 805.7l-7.5.2 5.3-6.4 7.6-.2zM364.9 799.5l-7.5.3 5.3-6.1 7.6-.3zM357.4 799.8l-7.6.3 5.4-6 7.5-.4zM362.7 793.7l-7.5.4 5.3-5.7 7.6-.4zM355.2 794.1l-7.6.2 5.4-5.5 7.5-.4zM353 788.8l-7.6.2 5.4-5 7.5-.4zM345.4 789l-7.5.2 5.3-4.9 7.6-.3zM350.8 784l-7.6.3 5.4-4.5 7.5-.3zM343.2 784.3l-7.5.1 5.3-4.4 7.6-.2zM348.6 779.8l-7.6.2 5.4-4.1 7.5-.2zM341 780l-7.5-.1 5.3-4 7.6 0zM346.4 775.9l-7.6 0 5.4-3.9 7.5 0zM338.8 775.9l-7.5-.3 5.3-3.9 7.6.3zM344.2 772l-7.6-.3 5.4-4 7.5.3zM331.3 775.6l-7.6-.4 5.4-4 7.5.5zM336.6 771.7l-7.5-.5 5.3-4 7.6.5zM342 767.7l-7.6-.5 5.4-4.4 7.5.5zM329.1 771.2l-7.6-.5 5.4-4.1 7.5.6zM334.4 767.2l-7.5-.6 5.3-4.4 7.6.6zM326.9 766.6l-7.6-.6 5.4-4.6 7.5.8zM319.3 766l-7.5-.7 5.3-4.7 7.6.8zM324.7 761.4l-7.6-.8 5.4-5.2 7.5.9zM311.8 765.3l-7.6-.7 5.4-4.9 7.5.9zM317.1 760.6l-7.5-.9 5.3-5.3 7.6 1zM309.6 759.7l-7.6-1 5.3-5.4 7.6 1.1zM302 758.7l-7.6-1 5.4-5.5 7.5 1.1zM294.4 757.7l-7.5-1.1 5.3-5.6 7.6 1.2z"/><path fill="#9bcd33" stroke="#55701c" d="M541.1 847.2l-7.6.5 5.4-7.2 7.5-.2zM533.5 847.7l-7.5.7 5.3-7.4 7.6-.5zM523.8 841.5l-7.6.6 5.4-7.7 7.5-.2zM516.2 842.1l-7.5.4 5.3-7.9 7.6-.2zM508.7 842.5l-7.6.4 5.4-8 7.5-.3zM491.4 835.3l-7.6.2 5.4-7.6 7.5-.4zM483.8 835.5l-7.5.3 5.3-7.5 7.6-.4zM476.3 835.8l-7.6.4 5.4-7.4 7.5-.5zM468.7 836.2l-7.5.3 5.3-7.2 7.6-.5zM461.2 836.5l-7.6.4 5.4-7.1 7.5-.5zM453.6 836.9l-7.5.4 5.3-6.9 7.6-.6zM443.9 830.8l-7.6.4 5.4-6.7 7.5-.5zM436.3 831.2l-7.5.3 5.3-6.7 7.6-.3zM434.1 824.8l-7.5.2 5.3-6.5 7.6-.3zM426.6 825l-7.6 0 5.4-6.3 7.5-.2zM419 825l-7.5-.1 5.3-6.2 7.6 0zM416.8 818.7l-7.5 0 5.3-6.1 7.6 0zM409.3 818.7l-7.6-.1 5.4-6 7.5 0zM407.1 812.6l-7.6-.1 5.4-6 7.5.2zM399.5 812.5l-7.5-.1 5.3-6.1 7.6.2zM397.3 806.3l-7.5-.4 5.3-6.2 7.6.5zM389.8 805.9l-7.6-.2 5.4-6.4 7.5.4zM382.2 805.7l-7.5-.1 5.3-6.4 7.6.1zM380 799.2l-7.5.1 5.3-6.2 7.6-.1zM372.5 799.3l-7.6.2 5.4-6.1 7.5-.3zM377.8 793.1l-7.5.3 5.3-5.9 7.6-.3zM370.3 793.4l-7.6.3 5.4-5.7 7.5-.5zM368.1 788l-7.6.4 5.4-5.2 7.5-.5zM360.5 788.4l-7.5.4 5.3-5.2 7.6-.4zM365.9 783.2l-7.6.4 5.4-4.6 7.5-.5zM358.3 783.6l-7.5.4 5.3-4.5 7.6-.5zM363.7 779l-7.6.5 5.4-4.2 7.5-.5zM356.1 779.5l-7.5.3 5.3-4.1 7.6-.4zM361.5 775.3l-7.6.4 5.4-3.9 7.5-.5zM353.9 775.7l-7.5.2 5.3-3.9 7.6-.2zM359.3 771.8l-7.6.2 5.4-4 7.5-.3zM351.7 772l-7.5 0 5.3-4 7.6 0zM357.1 768l-7.6 0 5.4-4.4 7.5 0zM349.5 768l-7.5-.3 5.3-4.4 7.6.3zM354.9 763.6l-7.6-.3 5.4-5.1 7.5.3zM347.3 763.3l-7.5-.5 5.3-5 7.6.4zM339.8 762.8l-7.6-.6 5.4-5.1 7.5.7zM332.2 762.2l-7.5-.8 5.3-5.1 7.6.8zM337.6 757.1l-7.6-.8 5.4-6 7.5.8zM330 756.3l-7.5-.9 5.3-6 7.6.9zM322.5 755.4l-7.6-1 5.4-6 7.5 1zM314.9 754.4l-7.6-1.1 5.4-5.9 7.6 1zM307.3 753.3l-7.5-1.1 5.3-5.9 7.6 1.1zM299.8 752.2l-7.6-1.2 5.4-5.9 7.5 1.2z"/><path fill="#abca27" stroke="#5e6f15" d="M548.6 847l-7.5.2 5.3-6.9 7.6.1zM538.9 840.5l-7.6.5 5.4-7 7.5 0zM531.3 841l-7.5.5 5.3-7.3 7.6-.2zM514 834.6l-7.5.3 5.3-7.8 7.6 0zM506.5 834.9l-7.6.2 5.4-7.8 7.5-.2zM498.9 835.1l-7.5.2 5.3-7.8 7.6-.2zM474.1 828.8l-7.6.5 5.4-7.1 7.5-.7zM466.5 829.3l-7.5.5 5.3-7 7.6-.6zM459 829.8l-7.6.6 5.4-6.9 7.5-.7zM451.4 830.4l-7.5.4 5.3-6.8 7.6-.5zM441.7 824.5l-7.6.3 5.4-6.6 7.5-.4zM431.9 818.5l-7.5.2 5.3-6.3 7.6-.3zM424.4 818.7l-7.6 0 5.4-6.1 7.5-.2zM429.7 812.4l-7.5.2 5.3-6.1 7.6-.4zM422.2 812.6l-7.6 0 5.4-5.9 7.5-.2zM414.6 812.6l-7.5 0 5.3-5.9 7.6 0zM420 806.7l-7.6 0 5.4-5.8 7.5-.1zM412.4 806.7l-7.5-.2 5.3-5.9 7.6.3zM404.9 806.5l-7.6-.2 5.4-6.1 7.5.4zM410.2 800.6l-7.5-.4 5.3-5.9 7.6.6zM402.7 800.2l-7.6-.5 5.4-6 7.5.6zM395.1 799.7l-7.5-.4 5.3-6.1 7.6.5zM387.6 799.3l-7.6-.1 5.4-6.2 7.5.2zM392.9 793.2l-7.5-.2 5.3-5.9 7.6.3zM385.4 793l-7.6.1 5.4-5.9 7.5-.1zM383.2 787.2l-7.6.3 5.4-5.3 7.5-.3zM375.6 787.5l-7.5.5 5.3-5.3 7.6-.5zM381 782.2l-7.6.5 5.4-4.8 7.5-.4zM373.4 782.7l-7.5.5 5.3-4.7 7.6-.6zM378.8 777.9l-7.6.6 5.4-4.3 7.5-.5zM371.2 778.5l-7.5.5 5.3-4.2 7.6-.6zM376.6 774.2l-7.6.6 5.4-4 7.5-.6zM369 774.8l-7.5.5 5.3-4 7.6-.5zM374.4 770.8l-7.6.5 5.4-4.1 7.5-.5zM366.8 771.3l-7.5.5 5.3-4.1 7.6-.5zM372.2 767.2l-7.6.5 5.4-4.4 7.5-.5zM364.6 767.7l-7.5.3 5.3-4.4 7.6-.3zM370 763.3l-7.6.3 5.4-5.1 7.5-.2zM362.4 763.6l-7.5 0 5.3-5.1 7.6 0zM360.2 758.5l-7.5-.3 5.3-5.9 7.6.3zM352.7 758.2l-7.6-.4 5.4-6.1 7.5.6zM345.1 757.8l-7.5-.7 5.3-6 7.6.6zM327.8 749.4l-7.5-1 5.3-6.8 7.6.8zM320.3 748.4l-7.6-1 5.3-6.7 7.6.9zM312.7 747.4l-7.6-1.1 5.4-6.5 7.5.9zM305.1 746.3l-7.5-1.2 5.3-6.4 7.6 1.1z"/><path fill="#bac71e" stroke="#666d10" d="M554 840.4l-7.6-.1 5.4-6.1 7.6.4zM546.4 840.3l-7.5.2 5.3-6.5 7.6.2zM529.1 834.2l-7.5.2 5.3-7.3 7.6.2zM521.6 834.4l-7.6.2 5.4-7.5 7.5 0zM496.7 827.5l-7.5.4 5.3-7.5 7.6-.4zM489.2 827.9l-7.6.4 5.4-7.4 7.5-.5zM481.6 828.3l-7.5.5 5.3-7.3 7.6-.6zM456.8 823.5l-7.6.5 5.4-6.8 7.5-.6zM449.2 824l-7.5.5 5.3-6.7 7.6-.6zM447 817.8l-7.5.4 5.3-6.6 7.6-.6zM439.5 818.2l-7.6.3 5.4-6.4 7.5-.5zM444.8 811.6l-7.5.5 5.3-6.4 7.6-.6zM437.3 812.1l-7.6.3 5.4-6.3 7.5-.4zM435.1 806.1l-7.6.4 5.4-6 7.5-.5zM427.5 806.5l-7.5.2 5.3-5.9 7.6-.3zM425.3 800.8l-7.5.1 5.3-5.8 7.6-.1zM417.8 800.9l-7.6-.3 5.4-5.7 7.5.2zM423.1 795.1l-7.5-.2 5.3-5.7 7.6.3zM415.6 794.9l-7.6-.6 5.4-5.7 7.5.6zM408 794.3l-7.5-.6 5.3-5.7 7.6.6zM400.5 793.7l-7.6-.5 5.4-5.8 7.5.6zM405.8 788l-7.5-.6 5.3-5.4 7.6.6zM398.3 787.4l-7.6-.3 5.4-5.3 7.5.2zM390.7 787.1l-7.5.1 5.3-5.3 7.6-.1zM396.1 781.8l-7.6.1 5.4-4.8 7.5-.1zM388.5 781.9l-7.5.3 5.3-4.7 7.6-.4zM393.9 777.1l-7.6.4 5.4-4.2 7.5-.3zM386.3 777.5l-7.5.4 5.3-4.2 7.6-.4zM391.7 773.3l-7.6.4 5.4-4 7.5-.3zM384.1 773.7l-7.5.5 5.3-4 7.6-.5zM389.5 769.7l-7.6.5 5.4-4.1 7.5-.4zM381.9 770.2l-7.5.6 5.3-4.1 7.6-.6zM387.3 766.1l-7.6.6 5.4-4.4 7.5-.5zM379.7 766.7l-7.5.5 5.3-4.4 7.6-.5zM385.1 762.3l-7.6.5 5.4-4.9 7.5-.5zM377.5 762.8l-7.5.5 5.3-5 7.6-.4zM382.9 757.9l-7.6.4 5.4-5.8 7.5-.3zM375.3 758.3l-7.5.2 5.3-5.8 7.6-.2zM367.8 758.5l-7.6 0 5.4-5.9 7.5.1zM365.6 752.6l-7.6-.3 5.4-7.2 7.5.5zM358 752.3l-7.5-.6 5.3-7.1 7.6.5zM350.5 751.7l-7.6-.6 5.4-7.2 7.5.7zM342.9 751.1l-7.5-.8 5.3-7.1 7.6.7zM335.4 750.3l-7.6-.9 5.4-7 7.5.8zM318 740.7l-7.5-.9 5.3-6.9 7.6.7zM310.5 739.8l-7.6-1.1 5.4-6.6 7.5.8z"/><path fill="#c8c416" stroke="#6e6b0c" d="M551.8 834.2l-7.6-.2 5.4-6.1 7.5.6zM544.2 834l-7.5 0 5.3-6.5 7.6.4zM536.7 834l-7.6.2 5.4-6.9 7.5.2zM519.4 827.1l-7.6 0 5.4-7.5 7.5.1zM511.8 827.1l-7.5.2 5.3-7.6 7.6-.1zM504.3 827.3l-7.6.2 5.4-7.5 7.5-.3zM494.5 820.4l-7.5.5 5.3-7.2 7.6-.6zM487 820.9l-7.6.6 5.4-7.1 7.5-.7zM479.4 821.5l-7.5.7 5.3-7.1 7.6-.7zM471.9 822.2l-7.6.6 5.4-6.9 7.5-.8zM464.3 822.8l-7.5.7 5.3-6.9 7.6-.7zM462.1 816.6l-7.5.6 5.3-6.8 7.6-.7zM454.6 817.2l-7.6.6 5.4-6.8 7.5-.6zM452.4 811l-7.6.6 5.4-6.5 7.5-.7zM450.2 805.1l-7.6.6 5.4-6.3 7.5-.8zM442.6 805.7l-7.5.4 5.3-6.1 7.6-.6zM440.4 800l-7.5.5 5.3-5.9 7.6-.7zM432.9 800.5l-7.6.3 5.4-5.8 7.5-.4zM438.2 794.6l-7.5.4 5.3-5.7 7.6-.5zM430.7 795l-7.6.1 5.4-5.6 7.5-.2zM436 789.3l-7.5.2 5.3-5.6 7.6-.2zM428.5 789.5l-7.6-.3 5.4-5.4 7.5.1zM420.9 789.2l-7.5-.6 5.3-5.4 7.6.6zM426.3 783.8l-7.6-.6 5.4-5.1 7.5.4zM413.4 788.6l-7.6-.6 5.4-5.4 7.5.6zM418.7 783.2l-7.5-.6 5.3-4.9 7.6.4zM411.2 782.6l-7.6-.6 5.4-4.8 7.5.5zM403.6 782l-7.5-.2 5.3-4.8 7.6.2zM409 777.2l-7.6-.2 5.4-4.2 7.5.1zM401.4 777l-7.5.1 5.3-4.1 7.6-.2zM406.8 772.8l-7.6.2 5.4-3.9 7.5-.2zM399.2 773l-7.5.3 5.3-3.9 7.6-.3zM404.6 769.1l-7.6.3 5.4-3.9 7.5-.2zM397 769.4l-7.5.3 5.3-4 7.6-.2zM402.4 765.5l-7.6.2 5.4-4.2 7.5-.1zM394.8 765.7l-7.5.4 5.3-4.3 7.6-.3zM400.2 761.5l-7.6.3 5.4-4.7 7.5-.2zM392.6 761.8l-7.5.5 5.3-4.9 7.6-.3zM390.4 757.4l-7.5.5 5.3-5.7 7.6-.4zM380.7 752.5l-7.6.2 5.4-7 7.5 0zM373.1 752.7l-7.5-.1 5.3-7 7.6.1zM348.3 743.9l-7.6-.7 5.4-8 7.5.6zM340.7 743.2l-7.5-.8 5.3-7.7 7.6.5zM333.2 742.4l-7.6-.8 5.4-7.5 7.5.6zM325.6 741.6l-7.6-.9 5.4-7.1 7.6.5z"/><path fill="#d6c112" stroke="#756a09" d="M559.4 834.6l-7.6-.4 5.3-5.7 7.6.7zM549.6 827.9l-7.6-.4 5.4-6.2 7.5.8zM542 827.5l-7.5-.2 5.3-6.7 7.6.7zM534.5 827.3l-7.6-.2 5.4-7.1 7.5.6zM526.9 827.1l-7.5 0 5.3-7.4 7.6.3zM509.6 819.7l-7.5.3 5.3-7.3 7.6-.3zM502.1 820l-7.6.4 5.4-7.3 7.5-.4zM492.3 813.7l-7.5.7 5.3-7 7.6-.7zM484.8 814.4l-7.6.7 5.4-7 7.5-.7zM477.2 815.1l-7.5.8 5.3-7 7.6-.8zM469.7 815.9l-7.6.7 5.4-6.9 7.5-.8zM467.5 809.7l-7.6.7 5.4-6.8 7.5-.8zM459.9 810.4l-7.5.6 5.3-6.6 7.6-.8zM457.7 804.4l-7.5.7 5.3-6.5 7.6-.8zM455.5 798.6l-7.5.8 5.3-6.3 7.6-.9zM448 799.4l-7.6.6 5.4-6.1 7.5-.8zM453.3 793.1l-7.5.8 5.3-5.9 7.6-1zM445.8 793.9l-7.6.7 5.4-5.8 7.5-.8zM443.6 788.8l-7.6.5 5.4-5.6 7.5-.7zM441.4 783.7l-7.6.2 5.4-5.4 7.5-.5zM433.8 783.9l-7.5-.1 5.3-5.3 7.6 0zM431.6 778.5l-7.5-.4 5.3-4.8 7.6 0zM424.1 778.1l-7.6-.4 5.4-4.6 7.5.2zM429.4 773.3l-7.5-.2 5.3-4.4 7.6-.2zM416.5 777.7l-7.5-.5 5.3-4.3 7.6.2zM421.9 773.1l-7.6-.2 5.4-4.1 7.5-.1zM414.3 772.9l-7.5-.1 5.3-3.9 7.6-.1zM419.7 768.8l-7.6.1 5.4-3.9 7.5-.3zM412.1 768.9l-7.5.2 5.3-3.8 7.6-.3zM417.5 765l-7.6.3 5.4-4.1 7.5-.2zM409.9 765.3l-7.5.2 5.3-4.1 7.6-.2zM415.3 761.2l-7.6.2 5.4-4.6 7.5-.1zM407.7 761.4l-7.5.1 5.3-4.6 7.6-.1zM413.1 756.8l-7.6.1 5.4-5.4 7.5.1zM405.5 756.9l-7.5.2 5.3-5.5 7.6-.1zM398 757.1l-7.6.3 5.4-5.6 7.5-.2zM395.8 751.8l-7.6.4 5.4-6.7 7.5-.2zM388.2 752.2l-7.5.3 5.3-6.8 7.6-.2zM378.5 745.7l-7.6-.1 5.4-7.9 7.5.3zM370.9 745.6l-7.5-.5 5.3-8 7.6.6zM363.4 745.1l-7.6-.5 5.4-8.1 7.5.6zM355.8 744.6l-7.5-.7 5.3-8.1 7.6.7zM338.5 734.7l-7.5-.6 5.3-7.7 7.6.2zM331 734.1l-7.6-.5 5.3-7.4 7.6.2zM323.4 733.6l-7.6-.7 5.4-7 7.5.3zM315.8 732.9l-7.5-.8 5.3-6.7 7.6.5z"/><path fill="#e2be14" stroke="#7c680b" d="M564.7 829.2l-7.6-.7 5.4-5.4 7.5 1zM557.1 828.5l-7.5-.6 5.3-5.8 7.6 1zM532.3 820l-7.6-.3 5.4-7.1 7.5.6zM524.7 819.7l-7.5-.1 5.3-7.3 7.6.3zM517.2 819.6l-7.6.1 5.4-7.3 7.5-.1zM507.4 812.7l-7.5.4 5.3-7.1 7.6-.5zM499.9 813.1l-7.6.6 5.4-7 7.5-.7zM490.1 807.4l-7.5.7 5.3-6.9 7.6-.7zM482.6 808.1l-7.6.8 5.4-6.9 7.5-.8zM475 808.9l-7.5.8 5.3-6.9 7.6-.8zM472.8 802.8l-7.5.8 5.3-6.7 7.6-.8zM465.3 803.6l-7.6.8 5.4-6.6 7.5-.9zM463.1 797.8l-7.6.8 5.4-6.4 7.5-.9zM460.9 792.2l-7.6.9 5.4-6.1 7.5-1zM458.7 787l-7.6 1 5.4-5.9 7.5-1.1zM451.1 788l-7.5.8 5.3-5.8 7.6-.9zM456.5 782.1l-7.6.9 5.4-5.7 7.5-1zM448.9 783l-7.5.7 5.3-5.7 7.6-.7zM446.7 778l-7.5.5 5.3-5.4 7.6-.6zM439.2 778.5l-7.6 0 5.4-5.2 7.5-.2zM444.5 773.1l-7.5.2 5.3-5.1 7.6-.5zM437 773.3l-7.6 0 5.4-4.8 7.5-.3zM434.8 768.5l-7.6.2 5.4-4.4 7.5-.5zM427.2 768.7l-7.5.1 5.3-4.1 7.6-.4zM432.6 764.3l-7.6.4 5.4-4.2 7.5-.7zM425 764.7l-7.5.3 5.3-4 7.6-.5zM430.4 760.5l-7.6.5 5.4-4.5 7.5-.6zM422.8 761l-7.5.2 5.3-4.5 7.6-.2zM428.2 756.5l-7.6.2 5.4-5.1 7.5-.2zM420.6 756.7l-7.5.1 5.3-5.2 7.6 0zM418.4 751.6l-7.5-.1 5.3-6.3 7.6.2zM410.9 751.5l-7.6.1 5.4-6.4 7.5 0zM403.3 751.6l-7.5.2 5.3-6.5 7.6-.1zM401.1 745.3l-7.5.2 5.3-7.4 7.6 0zM393.6 745.5l-7.6.2 5.4-7.5 7.5-.1zM386 745.7l-7.5 0 5.3-7.7 7.6.2zM361.2 736.5l-7.6-.7 5.4-8.4 7.5.6zM353.6 735.8l-7.5-.6 5.3-8.3 7.6.5zM346.1 735.2l-7.6-.5 5.4-8.1 7.5.3zM328.7 726.2l-7.5-.3 5.3-6.9 7.6-.1zM321.2 725.9l-7.6-.5 5.4-6.5 7.5.1z"/><path fill="#edbb18" stroke="#82660d" d="M570 824.1l-7.5-1 5.3-5.4 7.6 1.3zM562.5 823.1l-7.6-1 5.4-5.7 7.5 1.3zM554.9 822.1l-7.5-.8 5.3-6.1 7.6 1.2zM547.4 821.3l-7.6-.7 5.4-6.5 7.5 1.1zM539.8 820.6l-7.5-.6 5.3-6.8 7.6.9zM530.1 812.6l-7.6-.3 5.4-7.1 7.5.4zM522.5 812.3l-7.5.1 5.3-7.2 7.6 0zM515 812.4l-7.6.3 5.4-7.2 7.5-.3zM512.8 805.5l-7.6.5 5.4-6.9 7.5-.5zM505.2 806l-7.5.7 5.3-6.9 7.6-.7zM497.7 806.7l-7.6.7 5.4-6.9 7.5-.7zM487.9 801.2l-7.5.8 5.3-6.8 7.6-.7zM480.4 802l-7.6.8 5.4-6.7 7.5-.9zM478.2 796.1l-7.6.8 5.4-6.5 7.5-.9zM470.6 796.9l-7.5.9 5.3-6.5 7.6-.9zM476 790.4l-7.6.9 5.4-6.3 7.5-1zM468.4 791.3l-7.5.9 5.3-6.2 7.6-1zM466.2 786l-7.5 1 5.3-6 7.6-1.1zM464 781l-7.5 1.1 5.3-5.8 7.6-1.1zM461.8 776.3l-7.5 1 5.3-5.7 7.6-1zM454.3 777.3l-7.6.7 5.4-5.5 7.5-.9zM459.6 771.6l-7.5.9 5.3-5.5 7.6-1zM452.1 772.5l-7.6.6 5.4-5.4 7.5-.7zM449.9 767.7l-7.6.5 5.4-5 7.5-.8zM442.3 768.2l-7.5.3 5.3-4.7 7.6-.6zM447.7 763.2l-7.6.6 5.4-4.8 7.5-1zM440.1 763.8l-7.5.5 5.3-4.5 7.6-.8zM445.5 759l-7.6.8 5.4-4.8 7.5-1.1zM437.9 759.8l-7.5.7 5.3-4.6 7.6-.9zM443.3 755l-7.6.9 5.4-5.1 7.5-1zM435.7 755.9l-7.5.6 5.3-5.1 7.6-.6zM433.5 751.4l-7.5.2 5.3-6.1 7.6-.1zM426 751.6l-7.6 0 5.4-6.2 7.5.1zM416.2 745.2l-7.5 0 5.3-7.1 7.6.2zM408.7 745.2l-7.6.1 5.4-7.2 7.5 0zM391.4 738.2l-7.6-.2 5.4-8.1 7.5.3zM383.8 738l-7.5-.3 5.3-8.3 7.6.5zM376.3 737.7l-7.6-.6 5.4-8.4 7.5.7zM368.7 737.1l-7.5-.6 5.3-8.5 7.6.7zM343.9 726.6l-7.6-.2 5.4-7.7 7.5-.1zM336.3 726.4l-7.6-.2 5.4-7.3 7.6-.2zM326.5 719l-7.5-.1 5.3-6.3 7.6-.1z"/><path fill="#f7ba22" stroke="#876612" d="M575.4 819l-7.6-1.3 5.4-5.4 7.6 1.6zM567.8 817.7l-7.5-1.3 5.3-5.7 7.6 1.6zM560.3 816.4l-7.6-1.2 5.4-6.1 7.5 1.6zM552.7 815.2l-7.5-1.1 5.3-6.5 7.6 1.5zM545.2 814.1l-7.6-.9 5.4-6.7 7.5 1.1zM537.6 813.2l-7.5-.6 5.3-7 7.6.9zM527.9 805.2l-7.6 0 5.4-6.9 7.5.1zM520.3 805.2l-7.5.3 5.3-6.9 7.6-.3zM510.6 799.1l-7.6.7 5.4-6.8 7.5-.6zM503 799.8l-7.5.7 5.3-6.8 7.6-.7zM495.5 800.5l-7.6.7 5.4-6.7 7.5-.8zM493.3 794.5l-7.6.7 5.4-6.6 7.5-.7zM485.7 795.2l-7.5.9 5.3-6.6 7.6-.9zM483.5 789.5l-7.5.9 5.3-6.4 7.6-.9zM481.3 784l-7.5 1 5.3-6.1 7.6-1zM473.8 785l-7.6 1 5.4-6.1 7.5-1zM479.1 778.9l-7.5 1 5.3-5.8 7.6-1.1zM471.6 779.9l-7.6 1.1 5.4-5.8 7.5-1.1zM469.4 775.2l-7.6 1.1 5.4-5.7 7.5-1.1zM467.2 770.6l-7.6 1 5.4-5.6 7.5-1zM465 766l-7.6 1 5.4-5.5 7.5-1zM457.4 767l-7.5.7 5.3-5.3 7.6-.9zM462.8 761.5l-7.6.9 5.4-5.4 7.5-.9zM455.2 762.4l-7.5.8 5.3-5.2 7.6-1zM453 758l-7.5 1 5.3-5.1 7.6-1.1zM450.8 753.9l-7.5 1.1 5.3-5.2 7.6-1.2zM448.6 749.8l-7.5 1 5.3-5.9 7.6-.9zM441.1 750.8l-7.6.6 5.4-6 7.5-.5zM438.9 745.4l-7.6.1 5.4-6.7 7.5 0zM431.3 745.5l-7.5-.1 5.3-6.8 7.6.2zM423.8 745.4l-7.6-.2 5.4-6.9 7.5.3zM414 738.1l-7.5 0 5.3-7.6 7.6.2zM406.5 738.1l-7.6 0 5.4-7.7 7.5.1zM398.9 738.1l-7.5.1 5.3-8 7.6.2zM374.1 728.7l-7.6-.7 5.4-8.5 7.5.8zM366.5 728l-7.5-.6 5.3-8.5 7.6.6zM359 727.4l-7.6-.5 5.4-8.3 7.5.3zM351.4 726.9l-7.5-.3 5.3-8 7.6 0zM341.7 718.7l-7.6.2 5.3-6.9 7.6-.5zM334.1 718.9l-7.6.1 5.4-6.5 7.5-.5zM331.9 712.5l-7.6.1 5.4-5.6 7.5-.4z"/><path fill="#f9ec0a" stroke="#888105" d="M655.6 752.2l-7.5-1.5 5.3-2.9 7.6 1.4zM661 749.2l-7.6-1.4 5.4-2.7 7.6 1.3zM666.4 746.4l-7.6-1.3 5.3-2.5 7.6 1.2zM671.7 743.8l-7.6-1.2 5.4-2.4 7.5 1.2zM648.1 750.7l-7.6-1.4 5.4-2.8 7.5 1.3zM653.4 747.8l-7.5-1.3 5.3-2.7 7.6 1.3zM658.8 745.1l-7.6-1.3 5.4-2.4 7.5 1.2zM664.1 742.6l-7.5-1.2 5.3-2.3 7.6 1.1zM640.5 749.3l-7.5-1.5 5.3-2.7 7.6 1.4zM645.9 746.5l-7.6-1.4 5.4-2.5 7.5 1.2zM651.2 743.8l-7.5-1.2 5.3-2.4 7.6 1.2zM656.6 741.4l-7.6-1.2 5.4-2.2 7.5 1.1zM661.9 739.1l-7.5-1.1 5.3-2.1 7.6 1zM633 747.8l-7.6-1.5 5.4-2.5 7.5 1.3zM638.3 745.1l-7.5-1.3 5.3-2.4 7.6 1.2zM643.7 742.6l-7.6-1.2 5.4-2.3 7.5 1.1zM649 740.2l-7.5-1.1 5.3-2.2 7.6 1.1zM654.4 738l-7.6-1.1 5.4-2.1 7.5 1.1zM659.7 735.9l-7.5-1.1 5.3-2 7.6 1zM625.4 746.3l-7.5-1.5 5.3-2.4 7.6 1.4zM630.8 743.8l-7.6-1.4 5.4-2.2 7.5 1.2zM636.1 741.4l-7.5-1.2 5.3-2.2 7.6 1.1zM641.5 739.1l-7.6-1.1 5.4-2.1 7.5 1zM646.8 736.9l-7.5-1 5.3-2 7.6.9zM652.2 734.8l-7.6-.9 5.4-2 7.5.9zM657.5 732.8l-7.5-.9 5.3-2 7.6 1zM662.9 730.9l-7.6-1 5.4-2 7.5 1.1zM617.9 744.8l-7.6-1.4 5.4-2.3 7.5 1.3zM623.2 742.4l-7.5-1.3 5.3-2.1 7.6 1.2zM628.6 740.2l-7.6-1.2 5.4-2.1 7.5 1.1zM633.9 738l-7.5-1.1 5.3-2 7.6 1zM639.3 735.9l-7.6-1 5.4-2 7.5 1zM644.6 733.9l-7.5-1 5.3-2 7.6 1zM650 731.9l-7.6-1 5.4-2 7.5 1zM655.3 729.9l-7.5-1 5.3-2.1 7.6 1.1zM660.7 727.9l-7.6-1.1 5.4-2 7.5 1.1zM610.3 743.4l-7.5-1.5 5.3-2.1 7.6 1.3zM615.7 741.1l-7.6-1.3 5.4-2.1 7.5 1.3zM621 739l-7.5-1.3 5.3-1.9 7.6 1.1zM626.4 736.9l-7.6-1.1 5.4-1.9 7.5 1zM631.7 734.9l-7.5-1 5.3-2 7.6 1zM637.1 732.9l-7.6-1 5.4-2 7.5 1zM642.4 730.9l-7.5-1 5.3-2.1 7.6 1.1zM647.8 728.9l-7.6-1.1 5.4-2.1 7.5 1.1zM653.1 726.8l-7.5-1.1 5.3-2.2 7.6 1.3zM658.5 724.8l-7.6-1.3 5.4-2.1 7.5 1.3zM602.8 741.9l-7.6-1.3 5.4-2.1 7.5 1.3zM608.1 739.8l-7.5-1.3 5.3-1.9 7.6 1.1zM613.5 737.7l-7.6-1.1 5.4-1.9 7.5 1.1zM618.8 735.8l-7.5-1.1 5.3-1.8 7.6 1zM624.2 733.9l-7.6-1 5.4-1.9 7.5.9zM629.5 731.9l-7.5-.9 5.3-2.1 7.6 1zM634.9 729.9l-7.6-1 5.4-2.2 7.5 1.1zM640.2 727.8l-7.5-1.1 5.3-2.2 7.6 1.2zM645.6 725.7l-7.6-1.2 5.4-2.3 7.5 1.3zM650.9 723.5l-7.5-1.3 5.3-2.3 7.6 1.5zM595.2 740.6l-7.5-1.3 5.3-2 7.6 1.2zM600.6 738.5l-7.6-1.2 5.4-1.8 7.5 1.1zM605.9 736.6l-7.5-1.1 5.3-1.8 7.6 1zM611.3 734.7l-7.6-1 5.4-1.8 7.5 1zM616.6 732.9l-7.5-1 5.3-1.9 7.6 1zM622 731l-7.6-1 5.4-2.1 7.5 1zM627.3 728.9l-7.5-1 5.3-2.3 7.6 1.1zM632.7 726.7l-7.6-1.1 5.4-2.3 7.5 1.2zM638 724.5l-7.5-1.2 5.3-2.4 7.6 1.3zM643.4 722.2l-7.6-1.3 5.4-2.4 7.5 1.4zM593 737.3l-7.5-1 5.3-1.8 7.6 1zM598.4 735.5l-7.6-1 5.4-1.8 7.5 1zM603.7 733.7l-7.5-1 5.3-1.8 7.6 1zM609.1 731.9l-7.6-1 5.4-2 7.5 1.1zM614.4 730l-7.5-1.1 5.3-2.1 7.6 1.1zM619.8 727.9l-7.6-1.1 5.4-2.3 7.5 1.1zM625.1 725.6l-7.5-1.1 5.3-2.5 7.6 1.3zM630.5 723.3l-7.6-1.3 5.4-2.5 7.5 1.4zM635.8 720.9l-7.5-1.4 5.3-2.5 7.6 1.5zM606.9 728.9l-7.6-1 5.4-2.2 7.5 1.1zM612.2 726.8l-7.5-1.1 5.3-2.5 7.6 1.3zM617.6 724.5l-7.6-1.3 5.4-2.5 7.5 1.3zM622.9 722l-7.5-1.3 5.3-2.6 7.6 1.4zM628.3 719.5l-7.6-1.4 5.4-2.5 7.5 1.4zM604.7 725.7l-7.6-1.2 5.4-2.5 7.5 1.2zM610 723.2l-7.5-1.2 5.3-2.6 7.6 1.3zM615.4 720.7l-7.6-1.3 5.4-2.6 7.5 1.3zM620.7 718.1l-7.5-1.3 5.3-2.6 7.6 1.4zM597.1 724.5l-7.5-1.3 5.3-2.5 7.6 1.3zM602.5 722l-7.6-1.3 5.4-2.6 7.5 1.3zM607.8 719.4l-7.5-1.3 5.3-2.7 7.6 1.4zM613.2 716.8l-7.6-1.4 5.4-2.6 7.5 1.4zM589.6 723.2l-7.6-1.2 5.4-2.6 7.5 1.3zM594.9 720.7l-7.5-1.3 5.3-2.7 7.6 1.4zM600.3 718.1l-7.6-1.4 5.4-2.6 7.5 1.3zM605.6 715.4l-7.5-1.3 5.3-2.6 7.6 1.3zM611 712.8l-7.6-1.3 5.4-2.5 7.5 1.3zM582 722l-7.5-1.4 5.3-2.6 7.6 1.4zM587.4 719.4l-7.6-1.4 5.4-2.6 7.5 1.3zM592.7 716.7l-7.5-1.3 5.3-2.6 7.6 1.3zM598.1 714.1l-7.6-1.3 5.4-2.6 7.5 1.3zM603.4 711.5l-7.5-1.3 5.3-2.5 7.6 1.3zM579.8 718l-7.5-1.4 5.3-2.6 7.6 1.4zM585.2 715.4l-7.6-1.4 5.4-2.5 7.5 1.3zM590.5 712.8l-7.5-1.3 5.3-2.5 7.6 1.2zM595.9 710.2l-7.6-1.2 5.4-2.4 7.5 1.1zM572.3 716.6l-7.6-1.4 5.4-2.5 7.5 1.3zM577.6 714l-7.5-1.3 5.3-2.5 7.6 1.3zM583 711.5l-7.6-1.3 5.4-2.4 7.5 1.2zM588.3 709l-7.5-1.2 5.3-2.3 7.6 1.1zM593.7 706.6l-7.6-1.1 5.4-2.3 7.5 1zM564.7 715.2l-7.5-1.4 5.3-2.4 7.6 1.3zM570.1 712.7l-7.6-1.3 5.4-2.4 7.5 1.2zM575.4 710.2l-7.5-1.2 5.3-2.3 7.6 1.1zM580.8 707.8l-7.6-1.1 5.4-2.2 7.5 1zM586.1 705.5l-7.5-1 5.3-2.3 7.6 1zM591.5 703.2l-7.6-1 5.4-2.2 7.5 1zM557.2 713.8l-7.6-1.4 5.4-2.3 7.5 1.3zM562.5 711.4l-7.5-1.3 5.3-2.2 7.6 1.1zM567.9 709l-7.6-1.1 5.4-2.2 7.5 1zM573.2 706.7l-7.5-1 5.3-2.1 7.6.9zM578.6 704.5l-7.6-.9 5.4-2.1 7.5.7zM583.9 702.2l-7.5-.7 5.3-2.2 7.6.7zM589.3 700l-7.6-.7 5.4-2.3 7.5.8zM549.6 712.4l-7.5-1.3 5.3-2.2 7.6 1.2zM555 710.1l-7.6-1.2 5.4-2 7.5 1zM560.3 707.9l-7.5-1 5.3-2 7.6.8zM565.7 705.7l-7.6-.8 5.4-2 7.5.7zM571 703.6l-7.5-.7 5.3-2.1 7.6.7zM576.4 701.5l-7.6-.7 5.4-2.1 7.5.6zM581.7 699.3l-7.5-.6 5.3-2.3 7.6.6zM587.1 697l-7.6-.6 5.4-2.4 7.5.7zM542.1 711.1l-7.6-1.3 5.4-2 7.5 1.1zM547.4 708.9l-7.5-1.1 5.3-1.9 7.6 1zM552.8 706.9l-7.6-1 5.4-1.8 7.5.8zM558.1 704.9l-7.5-.8 5.3-1.8 7.6.6zM563.5 702.9l-7.6-.6 5.4-2 7.5.5zM568.8 700.8l-7.5-.5 5.3-2.1 7.6.5zM574.2 698.7l-7.6-.5 5.4-2.4 7.5.6zM579.5 696.4l-7.5-.6 5.3-2.5 7.6.7zM584.9 694l-7.6-.7 5.4-2.5 7.5.8zM555.9 702.3l-7.5-.6 5.3-1.8 7.6.4zM561.3 700.3l-7.6-.4 5.4-2.2 7.5.5zM566.6 698.2l-7.5-.5 5.3-2.4 7.6.5zM572 695.8l-7.6-.5 5.4-2.5 7.5.5zM577.3 693.3l-7.5-.5 5.3-2.7 7.6.7zM582.7 690.8l-7.6-.7 5.4-2.8 7.5.9zM564.4 695.3l-7.5-.5 5.3-2.6 7.6.6zM569.8 692.8l-7.6-.6 5.4-2.8 7.5.7zM575.1 690.1l-7.5-.7 5.3-3 7.6.9zM562.2 692.2l-7.5-.6 5.3-3 7.6.8zM567.6 689.4l-7.6-.8 5.4-3 7.5.8zM572.9 686.4l-7.5-.8 5.3-3.2 7.6 1zM554.7 691.6l-7.6-.7 5.4-3 7.5.7zM560 688.6l-7.5-.7 5.3-3.2 7.6.9zM565.4 685.6l-7.6-.9 5.4-3.2 7.5.9zM552.5 687.9l-7.6-.8 5.4-3.2 7.5.8zM557.8 684.7l-7.5-.8 5.3-3.3 7.6.9zM563.2 681.5l-7.6-.9 5.4-3.3 7.5 1zM544.9 687.1l-7.5-.9 5.3-3.1 7.6.8zM550.3 683.9l-7.6-.8 5.4-3.3 7.5.8zM555.6 680.6l-7.5-.8 5.3-3.3 7.6.8zM542.7 683.1l-7.5-.8 5.3-3.2 7.6.7zM548.1 679.8l-7.6-.7 5.4-3.2 7.5.6zM535.2 682.3l-7.6-.8 5.4-3 7.5.6zM540.5 679.1l-7.5-.6 5.3-3.1 7.6.5zM545.9 675.9l-7.6-.5 5.4-3 7.5.4zM533 678.5l-7.6-.7 5.4-2.9 7.5.5zM538.3 675.4l-7.5-.5 5.3-2.9 7.6.4zM543.7 672.4l-7.6-.4 5.4-2.7 7.5.3zM530.8 674.9l-7.6-.6 5.4-2.8 7.5.5zM536.1 672l-7.5-.5 5.3-2.6 7.6.4zM523.2 674.3l-7.5-.9 5.3-2.7 7.6.8zM528.6 671.5l-7.6-.8 5.4-2.6 7.5.8zM521 670.7l-7.5-1.1 5.3-2.6 7.6 1.1zM513.5 669.6l-7.6-1.3 5.4-2.6 7.5 1.3zM505.9 668.3l-7.5-1.3 5.3-2.8 7.6 1.5zM498.4 667l-7.6-1.3 5.4-2.9 7.5 1.4z"/><path fill="#fae50d" stroke="#897d07" d="M639.6 762.5l-7.6-1.8 5.4-3.5 7.6 1.7zM645 758.9l-7.6-1.7 5.3-3.3 7.6 1.5zM650.3 755.4l-7.6-1.5 5.4-3.2 7.5 1.5zM632 760.7l-7.5-1.9 5.3-3.4 7.6 1.8zM637.4 757.2l-7.6-1.8 5.4-3.2 7.5 1.7zM642.7 753.9l-7.5-1.7 5.3-2.9 7.6 1.4zM619.1 762.4l-7.5-2.2 5.3-3.4 7.6 2zM624.5 758.8l-7.6-2 5.4-3.2 7.5 1.8zM629.8 755.4l-7.5-1.8 5.3-3 7.6 1.6zM635.2 752.2l-7.6-1.6 5.4-2.8 7.5 1.5zM611.6 760.2l-7.6-2 5.4-3.3 7.5 1.9zM616.9 756.8l-7.5-1.9 5.3-3.1 7.6 1.8zM622.3 753.6l-7.6-1.8 5.4-2.8 7.5 1.6zM627.6 750.6l-7.5-1.6 5.3-2.7 7.6 1.5zM598.7 761.7l-7.6-2.1 5.4-3.4 7.5 2zM604 758.2l-7.5-2 5.3-3.2 7.6 1.9zM609.4 754.9l-7.6-1.9 5.4-2.9 7.5 1.7zM614.7 751.8l-7.5-1.7 5.3-2.7 7.6 1.6zM620.1 749l-7.6-1.6 5.4-2.6 7.5 1.5zM591.1 759.6l-7.5-1.8 5.3-3.4 7.6 1.8zM596.5 756.2l-7.6-1.8 5.4-3.1 7.5 1.7zM601.8 753l-7.5-1.7 5.3-2.9 7.6 1.7zM607.2 750.1l-7.6-1.7 5.4-2.6 7.5 1.6zM612.5 747.4l-7.5-1.6 5.3-2.4 7.6 1.4zM583.6 757.8l-7.6-1.5 5.4-3.5 7.5 1.6zM588.9 754.4l-7.5-1.6 5.3-3.1 7.6 1.6zM594.3 751.3l-7.6-1.6 5.4-2.9 7.5 1.6zM599.6 748.4l-7.5-1.6 5.3-2.5 7.6 1.5zM605 745.8l-7.6-1.5 5.4-2.4 7.5 1.5zM576 756.3l-7.5-1.1 5.3-3.6 7.6 1.2zM581.4 752.8l-7.6-1.2 5.4-3.3 7.5 1.4zM586.7 749.7l-7.5-1.4 5.3-2.9 7.6 1.4zM592.1 746.8l-7.6-1.4 5.4-2.6 7.5 1.5zM597.4 744.3l-7.5-1.5 5.3-2.2 7.6 1.3zM568.5 755.2l-7.6-.7 5.4-3.8 7.5.9zM573.8 751.6l-7.5-.9 5.3-3.5 7.6 1.1zM579.2 748.3l-7.6-1.1 5.4-3 7.5 1.2zM584.5 745.4l-7.5-1.2 5.3-2.6 7.6 1.2zM589.9 742.8l-7.6-1.2 5.4-2.3 7.5 1.3zM566.3 750.7l-7.6-.6 5.4-3.6 7.5.7zM571.6 747.2l-7.5-.7 5.3-3.1 7.6.8zM577 744.2l-7.6-.8 5.4-2.7 7.5.9zM582.3 741.6l-7.5-.9 5.3-2.3 7.6.9zM587.7 739.3l-7.6-.9 5.4-2.1 7.5 1zM564.1 746.5l-7.6-.4 5.4-3.2 7.5.5zM569.4 743.4l-7.5-.5 5.3-2.8 7.6.6zM574.8 740.7l-7.6-.6 5.4-2.4 7.5.7zM580.1 738.4l-7.5-.7 5.3-2.1 7.6.7zM585.5 736.3l-7.6-.7 5.4-2 7.5.9zM590.8 734.5l-7.5-.9 5.3-1.8 7.6.9zM596.2 732.7l-7.6-.9 5.4-1.9 7.5 1zM601.5 730.9l-7.5-1 5.3-2 7.6 1zM561.9 742.9l-7.6-.2 5.4-2.9 7.5.3zM567.2 740.1l-7.5-.3 5.3-2.5 7.6.4zM572.6 737.7l-7.6-.4 5.4-2.3 7.5.6zM577.9 735.6l-7.5-.6 5.3-2.1 7.6.7zM583.3 733.6l-7.6-.7 5.4-1.9 7.5.8zM588.6 731.8l-7.5-.8 5.3-2.1 7.6 1zM594 729.9l-7.6-1 5.4-2.1 7.5 1.1zM599.3 727.9l-7.5-1.1 5.3-2.3 7.6 1.2zM559.7 739.8l-7.6-.1 5.4-2.7 7.5.3zM565 737.3l-7.5-.3 5.3-2.4 7.6.4zM570.4 735l-7.6-.4 5.4-2.3 7.5.6zM575.7 732.9l-7.5-.6 5.3-2.2 7.6.9zM581.1 731l-7.6-.9 5.4-2.2 7.5 1zM586.4 728.9l-7.5-1 5.3-2.2 7.6 1.1zM591.8 726.8l-7.6-1.1 5.4-2.5 7.5 1.3zM562.8 734.6l-7.5-.4 5.3-2.5 7.6.6zM568.2 732.3l-7.6-.6 5.4-2.4 7.5.8zM573.5 730.1l-7.5-.8 5.3-2.4 7.6 1zM578.9 727.9l-7.6-1 5.4-2.4 7.5 1.2zM584.2 725.7l-7.5-1.2 5.3-2.5 7.6 1.2zM560.6 731.7l-7.5-.8 5.3-2.6 7.6 1zM566 729.3l-7.6-1 5.4-2.5 7.5 1.1zM571.3 726.9l-7.5-1.1 5.3-2.6 7.6 1.3zM576.7 724.5l-7.6-1.3 5.4-2.6 7.5 1.4zM558.4 728.3l-7.5-1 5.3-2.7 7.6 1.2zM563.8 725.8l-7.6-1.2 5.4-2.7 7.5 1.3zM569.1 723.2l-7.5-1.3 5.3-2.7 7.6 1.4zM574.5 720.6l-7.6-1.4 5.4-2.6 7.5 1.4zM550.9 727.3l-7.6-1.1 5.4-2.9 7.5 1.3zM556.2 724.6l-7.5-1.3 5.3-2.8 7.6 1.4zM561.6 721.9l-7.6-1.4 5.4-2.7 7.5 1.4zM566.9 719.2l-7.5-1.4 5.3-2.6 7.6 1.4zM543.3 726.2l-7.5-1.1 5.3-3.1 7.6 1.3zM548.7 723.3l-7.6-1.3 5.4-2.9 7.5 1.4zM554 720.5l-7.5-1.4 5.3-2.7 7.6 1.4zM559.4 717.8l-7.6-1.4 5.4-2.6 7.5 1.4zM535.8 725.1l-7.6-1.2 5.4-3.2 7.5 1.3zM541.1 722l-7.5-1.3 5.3-3 7.6 1.4zM546.5 719.1l-7.6-1.4 5.4-2.7 7.5 1.4zM551.8 716.4l-7.5-1.4 5.3-2.6 7.6 1.4zM533.6 720.7l-7.6-1.4 5.4-3 7.5 1.4zM538.9 717.7l-7.5-1.4 5.3-2.8 7.6 1.5zM544.3 715l-7.6-1.5 5.4-2.4 7.5 1.3zM526 719.3l-7.5-1.2 5.3-3.2 7.6 1.4zM531.4 716.3l-7.6-1.4 5.4-2.8 7.5 1.4zM536.7 713.5l-7.5-1.4 5.3-2.3 7.6 1.3zM518.5 718.1l-7.6-1.2 5.4-3.3 7.5 1.3zM523.8 714.9l-7.5-1.3 5.3-2.8 7.6 1.3zM529.2 712.1l-7.6-1.3 5.4-2.2 7.5 1.2zM534.5 709.8l-7.5-1.2 5.3-1.9 7.6 1.1zM539.9 707.8l-7.6-1.1 5.4-1.7 7.5.9zM545.2 705.9l-7.5-.9 5.3-1.6 7.6.7zM550.6 704.1l-7.6-.7 5.4-1.7 7.5.6zM510.9 716.9l-7.5-1 5.3-3.5 7.6 1.2zM516.3 713.6l-7.6-1.2 5.4-2.8 7.5 1.2zM521.6 710.8l-7.5-1.2 5.3-2.3 7.6 1.3zM527 708.6l-7.6-1.3 5.4-1.7 7.5 1.1zM532.3 706.7l-7.5-1.1 5.3-1.5 7.6.9zM537.7 705l-7.6-.9 5.4-1.5 7.5.8zM543 703.4l-7.5-.8 5.3-1.5 7.6.6zM548.4 701.7l-7.6-.6 5.4-1.7 7.5.5zM553.7 699.9l-7.5-.5 5.3-2.1 7.6.4zM559.1 697.7l-7.6-.4 5.4-2.5 7.5.5zM503.4 715.9l-7.6-.8 5.4-3.8 7.5 1.1zM508.7 712.4l-7.5-1.1 5.3-2.9 7.6 1.2zM514.1 709.6l-7.6-1.2 5.4-2.2 7.5 1.1zM519.4 707.3l-7.5-1.1 5.3-1.7 7.6 1.1zM524.8 705.6l-7.6-1.1 5.4-1.4 7.5 1zM530.1 704.1l-7.5-1 5.3-1.3 7.6.8zM535.5 702.6l-7.6-.8 5.4-1.3 7.5.6zM540.8 701.1l-7.5-.6 5.3-1.7 7.6.6zM546.2 699.4l-7.6-.6 5.4-2.1 7.5.6zM551.5 697.3l-7.5-.6 5.3-2.4 7.6.5zM556.9 694.8l-7.6-.5 5.4-2.7 7.5.6zM501.2 711.3l-7.6-.9 5.4-3.1 7.5 1.1zM506.5 708.4l-7.5-1.1 5.3-2.3 7.6 1.2zM511.9 706.2l-7.6-1.2 5.4-1.6 7.5 1.1zM517.2 704.5l-7.5-1.1 5.3-1.3 7.6 1zM522.6 703.1l-7.6-1 5.4-1.2 7.5.9zM527.9 701.8l-7.5-.9 5.3-1.2 7.6.8zM533.3 700.5l-7.6-.8 5.4-1.6 7.5.7zM538.6 698.8l-7.5-.7 5.3-2 7.6.6zM544 696.7l-7.6-.6 5.4-2.5 7.5.7zM549.3 694.3l-7.5-.7 5.3-2.7 7.6.7zM493.6 710.4l-7.5-.9 5.3-3.3 7.6 1.1zM499 707.3l-7.6-1.1 5.4-2.3 7.5 1.1zM504.3 705l-7.5-1.1 5.3-1.6 7.6 1.1zM509.7 703.4l-7.6-1.1 5.4-1.3 7.5 1.1zM515 702.1l-7.5-1.1 5.3-1.1 7.6 1zM520.4 700.9l-7.6-1 5.4-1.1 7.5.9zM525.7 699.7l-7.5-.9 5.3-1.5 7.6.8zM531.1 698.1l-7.6-.8 5.4-2 7.5.8zM536.4 696.1l-7.5-.8 5.3-2.4 7.6.7zM541.8 693.6l-7.6-.7 5.4-2.8 7.5.8zM547.1 690.9l-7.5-.8 5.3-3 7.6.8zM486.1 709.5l-7.6-.8 5.4-3.5 7.5 1zM491.4 706.2l-7.5-1 5.3-2.4 7.6 1.1zM496.8 703.9l-7.6-1.1 5.4-1.7 7.5 1.2zM502.1 702.3l-7.5-1.2 5.3-1.2 7.6 1.1zM507.5 701l-7.6-1.1 5.4-1 7.5 1zM512.8 699.9l-7.5-1 5.3-1.1 7.6 1zM518.2 698.8l-7.6-1 5.4-1.4 7.5.9zM523.5 697.3l-7.5-.9 5.3-2 7.6.9zM528.9 695.3l-7.6-.9 5.4-2.4 7.5.9zM534.2 692.9l-7.5-.9 5.3-2.7 7.6.8zM539.6 690.1l-7.6-.8 5.4-3.1 7.5.9zM483.9 705.2l-7.6-1 5.4-2.5 7.5 1.1zM489.2 702.8l-7.5-1.1 5.3-1.7 7.6 1.1zM494.6 701.1l-7.6-1.1 5.4-1.3 7.5 1.2zM499.9 699.9l-7.5-1.2 5.3-1 7.6 1.2zM505.3 698.9l-7.6-1.2 5.4-1.1 7.5 1.2zM526.7 692l-7.6-1 5.4-2.6 7.5.9zM532 689.3l-7.5-.9 5.3-3 7.6.8zM537.4 686.2l-7.6-.8 5.4-3.1 7.5.8zM476.3 704.2l-7.5-.9 5.3-2.7 7.6 1.1zM481.7 701.7l-7.6-1.1 5.4-1.8 7.5 1.2zM487 700l-7.5-1.2 5.3-1.3 7.6 1.2zM492.4 698.7l-7.6-1.2 5.4-1 7.5 1.2zM519.1 691l-7.5-1 5.3-2.6 7.6 1zM524.5 688.4l-7.6-1 5.4-2.9 7.5.9zM529.8 685.4l-7.5-.9 5.3-3 7.6.8zM468.8 703.3l-7.6-1 5.4-2.7 7.5 1zM474.1 700.6l-7.5-1 5.3-1.9 7.6 1.1zM479.5 698.8l-7.6-1.1 5.4-1.4 7.5 1.2zM484.8 697.5l-7.5-1.2 5.3-1.1 7.6 1.3zM516.9 687.4l-7.5-1 5.3-2.7 7.6.8zM522.3 684.5l-7.6-.8 5.4-2.9 7.5.7zM527.6 681.5l-7.5-.7 5.3-3 7.6.7zM466.6 699.6l-7.6-1 5.4-2 7.5 1.1zM471.9 697.7l-7.5-1.1 5.3-1.4 7.6 1.1zM509.4 686.4l-7.6-1 5.4-2.7 7.5 1zM514.7 683.7l-7.5-1 5.3-2.7 7.6.8zM520.1 680.8l-7.6-.8 5.4-2.9 7.5.7zM525.4 677.8l-7.5-.7 5.3-2.8 7.6.6zM507.2 682.7l-7.6-.9 5.4-2.7 7.5.9zM512.5 680l-7.5-.9 5.3-2.8 7.6.8zM517.9 677.1l-7.6-.8 5.4-2.9 7.5.9zM499.6 681.8l-7.5-.9 5.3-2.8 7.6 1zM505 679.1l-7.6-1 5.4-2.9 7.5 1.1zM510.3 676.3l-7.5-1.1 5.3-2.8 7.6 1zM515.7 673.4l-7.6-1 5.4-2.8 7.5 1.1zM497.4 678.1l-7.5-1.1 5.3-2.9 7.6 1.1zM502.8 675.2l-7.6-1.1 5.4-2.9 7.5 1.2zM508.1 672.4l-7.5-1.2 5.3-2.9 7.6 1.3zM489.9 677l-7.6-1 5.4-3 7.5 1.1zM495.2 674.1l-7.5-1.1 5.3-3.1 7.6 1.3zM500.6 671.2l-7.6-1.3 5.4-2.9 7.5 1.3zM482.3 676l-7.5-1 5.3-3.1 7.6 1.1zM487.7 673l-7.6-1.1 5.4-3.2 7.5 1.2zM493 669.9l-7.5-1.2 5.3-3 7.6 1.3zM480.1 671.9l-7.5-1 5.3-3.3 7.6 1.1zM485.5 668.7l-7.6-1.1 5.4-3.1 7.5 1.2zM490.8 665.7l-7.5-1.2 5.3-3 7.6 1.3zM472.6 670.9l-7.6-.9 5.4-3.3 7.5.9zM477.9 667.6l-7.5-.9 5.3-3.3 7.6 1.1zM483.3 664.5l-7.6-1.1 5.4-3 7.5 1.1zM465 670l-7.5-.9 5.3-3.4 7.6 1zM470.4 666.7l-7.6-1 5.4-3.3 7.5 1zM475.7 663.4l-7.5-1 5.3-3.1 7.6 1.1zM462.8 665.7l-7.5-1 5.3-3.4 7.6 1.1zM468.2 662.4l-7.6-1.1 5.4-3.2 7.5 1.2zM455.3 664.7l-7.6-1.2 5.4-3.4 7.5 1.2zM460.6 661.3l-7.5-1.2 5.3-3.3 7.6 1.3zM447.7 663.5l-7.5-1.3 5.3-3.5 7.6 1.4zM453.1 660.1l-7.6-1.4 5.4-3.3 7.5 1.4zM440.2 662.2l-7.6-1.4 5.4-3.6 7.5 1.5zM445.5 658.7l-7.5-1.5 5.3-3.4 7.6 1.6zM432.6 660.8l-7.6-1.4 5.4-3.7 7.6 1.5zM438 657.2l-7.6-1.5 5.3-3.5 7.6 1.6zM425 659.4l-7.5-1.5 5.3-3.8 7.6 1.6zM430.4 655.7l-7.6-1.6 5.4-3.5 7.5 1.6zM417.5 657.9l-7.6-1.5 5.4-3.9 7.5 1.6zM422.8 654.1l-7.5-1.6 5.3-3.5 7.6 1.6z"/><path fill="#faf204" stroke="#898502" d="M677 741.4l-7.5-1.2 5.3-2.2 7.6 1.2zM682.4 739.2l-7.6-1.2 5.4-2.1 7.6 1.2zM687.8 737.1l-7.6-1.2 5.3-1.9 7.6 1.2zM693.1 735.2l-7.6-1.2 5.4-1.8 7.5 1.1zM698.4 733.3l-7.5-1.1 5.3-1.8 7.6 1.2zM703.8 731.6l-7.6-1.2 5.4-1.8 7.6 1.2zM709.2 729.8l-7.6-1.2 5.3-1.8 7.6 1.2zM714.5 728l-7.6-1.2 5.4-1.9 7.5 1.3zM719.8 726.2l-7.5-1.3 5.3-2 7.6 1.3zM725.2 724.2l-7.6-1.3 5.4-2 7.6 1.3zM730.6 722.2l-7.6-1.3 5.3-2.1 7.6 1.4zM735.9 720.2l-7.6-1.4 5.4-2.1 7.5 1.4zM741.2 718.1l-7.5-1.4 5.3-2.1 7.6 1.3zM669.5 740.2l-7.6-1.1 5.4-2.2 7.5 1.1zM674.8 738l-7.5-1.1 5.3-2 7.6 1zM680.2 735.9l-7.6-1 5.4-2 7.5 1.1zM685.5 734l-7.5-1.1 5.3-1.8 7.6 1.1zM690.9 732.2l-7.6-1.1 5.4-1.9 7.5 1.2zM696.2 730.4l-7.5-1.2 5.3-1.8 7.6 1.2zM701.6 728.6l-7.6-1.2 5.4-1.8 7.5 1.2zM706.9 726.8l-7.5-1.2 5.3-1.9 7.6 1.2zM712.3 724.9l-7.6-1.2 5.4-2 7.5 1.2zM717.6 722.9l-7.5-1.2 5.3-2.1 7.6 1.3zM723 720.9l-7.6-1.3 5.4-2 7.5 1.2zM728.3 718.8l-7.5-1.2 5.3-2.2 7.6 1.3zM733.7 716.7l-7.6-1.3 5.4-2.1 7.5 1.3zM739 714.6l-7.5-1.3 5.3-2.1 7.6 1.3zM667.3 736.9l-7.6-1 5.4-2.1 7.5 1.1zM672.6 734.9l-7.5-1.1 5.3-1.9 7.6 1zM678 732.9l-7.6-1 5.4-1.9 7.5 1.1zM683.3 731.1l-7.5-1.1 5.3-1.9 7.6 1.1zM688.7 729.2l-7.6-1.1 5.4-1.8 7.5 1.1zM694 727.4l-7.5-1.1 5.3-1.9 7.6 1.2zM699.4 725.6l-7.6-1.2 5.4-2 7.5 1.3zM704.7 723.7l-7.5-1.3 5.3-2 7.6 1.3zM710.1 721.7l-7.6-1.3 5.4-2 7.5 1.2zM715.4 719.6l-7.5-1.2 5.3-2.1 7.6 1.3zM720.8 717.6l-7.6-1.3 5.4-2.1 7.5 1.2zM726.1 715.4l-7.5-1.2 5.3-2.2 7.6 1.3zM731.5 713.3l-7.6-1.3 5.4-2.1 7.5 1.3zM665.1 733.8l-7.6-1 5.4-1.9 7.5 1zM670.4 731.9l-7.5-1 5.3-1.9 7.6 1zM675.8 730l-7.6-1 5.4-2 7.5 1.1zM681.1 728.1l-7.5-1.1 5.3-1.9 7.6 1.2zM686.5 726.3l-7.6-1.2 5.4-1.9 7.5 1.2zM691.8 724.4l-7.5-1.2 5.3-2 7.6 1.2zM697.2 722.4l-7.6-1.2 5.4-2 7.5 1.2zM702.5 720.4l-7.5-1.2 5.3-2.1 7.6 1.3zM707.9 718.4l-7.6-1.3 5.4-2.1 7.5 1.3zM713.2 716.3l-7.5-1.3 5.3-2.1 7.6 1.3zM718.6 714.2l-7.6-1.3 5.4-2.2 7.5 1.3zM723.9 712l-7.5-1.3 5.3-2.1 7.6 1.3zM729.3 709.9l-7.6-1.3 5.4-2.1 7.5 1.3zM668.2 729l-7.5-1.1 5.3-2 7.6 1.1zM673.6 727l-7.6-1.1 5.4-1.9 7.5 1.1zM678.9 725.1l-7.5-1.1 5.3-2 7.6 1.2zM684.3 723.2l-7.6-1.2 5.4-2.1 7.5 1.3zM689.6 721.2l-7.5-1.3 5.3-2 7.6 1.3zM695 719.2l-7.6-1.3 5.4-2.1 7.5 1.3zM700.3 717.1l-7.5-1.3 5.3-2.1 7.6 1.3zM705.7 715l-7.6-1.3 5.4-2.2 7.5 1.4zM711 712.9l-7.5-1.4 5.3-2.1 7.6 1.3zM716.4 710.7l-7.6-1.3 5.4-2.1 7.5 1.3zM721.7 708.6l-7.5-1.3 5.3-2.1 7.6 1.3zM666 725.9l-7.5-1.1 5.3-2.1 7.6 1.3zM671.4 724l-7.6-1.3 5.4-2.1 7.5 1.4zM676.7 722l-7.5-1.4 5.3-2.1 7.6 1.4zM682.1 719.9l-7.6-1.4 5.4-2.1 7.5 1.5zM687.4 717.9l-7.5-1.5 5.3-2.1 7.6 1.5zM692.8 715.8l-7.6-1.5 5.4-2.1 7.5 1.5zM698.1 713.7l-7.5-1.5 5.3-2.1 7.6 1.4zM703.5 711.5l-7.6-1.4 5.4-2 7.5 1.3zM708.8 709.4l-7.5-1.3 5.3-2.1 7.6 1.3zM714.2 707.3l-7.6-1.3 5.4-2 7.5 1.2zM719.5 705.2l-7.5-1.2 5.3-2 7.6 1.2zM663.8 722.7l-7.5-1.3 5.3-2.2 7.6 1.4zM669.2 720.6l-7.6-1.4 5.4-2.2 7.5 1.5zM674.5 718.5l-7.5-1.5 5.3-2.1 7.6 1.5zM679.9 716.4l-7.6-1.5 5.4-2.1 7.5 1.5zM685.2 714.3l-7.5-1.5 5.3-2.1 7.6 1.5zM690.6 712.2l-7.6-1.5 5.4-2 7.5 1.4zM695.9 710.1l-7.5-1.4 5.3-2 7.6 1.4zM701.3 708.1l-7.6-1.4 5.4-2 7.5 1.3zM706.6 706l-7.5-1.3 5.3-2 7.6 1.3zM712 704l-7.6-1.3 5.4-1.9 7.5 1.2zM717.3 702l-7.5-1.2 5.3-1.9 7.6 1.1zM656.3 721.4l-7.6-1.5 5.4-2.3 7.5 1.6zM661.6 719.2l-7.5-1.6 5.3-2.2 7.6 1.6zM667 717l-7.6-1.6 5.4-2.1 7.5 1.6zM672.3 714.9l-7.5-1.6 5.3-2.1 7.6 1.6zM677.7 712.8l-7.6-1.6 5.4-2.1 7.5 1.6zM683 710.7l-7.5-1.6 5.3-2 7.6 1.6zM688.4 708.7l-7.6-1.6 5.4-1.9 7.5 1.5zM693.7 706.7l-7.5-1.5 5.3-1.9 7.6 1.4zM699.1 704.7l-7.6-1.4 5.4-1.9 7.5 1.3zM704.4 702.7l-7.5-1.3 5.3-1.8 7.6 1.2zM709.8 700.8l-7.6-1.2 5.4-1.9 7.5 1.2zM648.7 719.9l-7.5-1.4 5.3-2.4 7.6 1.5zM654.1 717.6l-7.6-1.5 5.4-2.3 7.5 1.6zM659.4 715.4l-7.5-1.6 5.3-2.2 7.6 1.7zM664.8 713.3l-7.6-1.7 5.4-2.1 7.5 1.7zM670.1 711.2l-7.5-1.7 5.3-2 7.6 1.6zM675.5 709.1l-7.6-1.6 5.4-1.9 7.5 1.5zM680.8 707.1l-7.5-1.5 5.3-1.9 7.6 1.5zM686.2 705.2l-7.6-1.5 5.4-1.8 7.5 1.4zM691.5 703.3l-7.5-1.4 5.3-1.8 7.6 1.3zM696.9 701.4l-7.6-1.3 5.4-1.7 7.5 1.2zM702.2 699.6l-7.5-1.2 5.3-1.8 7.6 1.1zM641.2 718.5l-7.6-1.5 5.4-2.5 7.5 1.6zM646.5 716.1l-7.5-1.6 5.3-2.3 7.6 1.6zM651.9 713.8l-7.6-1.6 5.4-2.2 7.5 1.6zM657.2 711.6l-7.5-1.6 5.3-2.1 7.6 1.6zM662.6 709.5l-7.6-1.6 5.4-2 7.5 1.6zM667.9 707.5l-7.5-1.6 5.3-1.8 7.6 1.5zM673.3 705.6l-7.6-1.5 5.4-1.8 7.5 1.4zM678.6 703.7l-7.5-1.4 5.3-1.8 7.6 1.4zM684 701.9l-7.6-1.4 5.4-1.7 7.5 1.3zM689.3 700.1l-7.5-1.3 5.3-1.7 7.6 1.3zM694.7 698.4l-7.6-1.3 5.4-1.7 7.5 1.2zM633.6 717l-7.5-1.4 5.3-2.6 7.6 1.5zM639 714.5l-7.6-1.5 5.4-2.3 7.5 1.5zM644.3 712.2l-7.5-1.5 5.3-2.3 7.6 1.6zM649.7 710l-7.6-1.6 5.4-2 7.5 1.5zM655 707.9l-7.5-1.5 5.3-2 7.6 1.5zM660.4 705.9l-7.6-1.5 5.4-1.8 7.5 1.5zM665.7 704.1l-7.5-1.5 5.3-1.8 7.6 1.5zM671.1 702.3l-7.6-1.5 5.4-1.7 7.5 1.4zM676.4 700.5l-7.5-1.4 5.3-1.7 7.6 1.4zM681.8 698.8l-7.6-1.4 5.4-1.6 7.5 1.3zM687.1 697.1l-7.5-1.3 5.3-1.7 7.6 1.3zM626.1 715.6l-7.6-1.4 5.4-2.6 7.5 1.4zM631.4 713l-7.5-1.4 5.3-2.4 7.6 1.5zM636.8 710.7l-7.6-1.5 5.4-2.2 7.5 1.4zM642.1 708.4l-7.5-1.4 5.3-2.1 7.6 1.5zM647.5 706.4l-7.6-1.5 5.4-1.9 7.5 1.4zM652.8 704.4l-7.5-1.4 5.3-1.8 7.6 1.4zM658.2 702.6l-7.6-1.4 5.4-1.8 7.5 1.4zM663.5 700.8l-7.5-1.4 5.3-1.7 7.6 1.4zM668.9 699.1l-7.6-1.4 5.4-1.7 7.5 1.4zM674.2 697.4l-7.5-1.4 5.3-1.6 7.6 1.4zM679.6 695.8l-7.6-1.4 5.4-1.7 7.5 1.4zM618.5 714.2l-7.5-1.4 5.3-2.5 7.6 1.3zM623.9 711.6l-7.6-1.3 5.4-2.4 7.5 1.3zM629.2 709.2l-7.5-1.3 5.3-2.3 7.6 1.4zM634.6 707l-7.6-1.4 5.4-2 7.5 1.3zM639.9 704.9l-7.5-1.3 5.3-2 7.6 1.4zM645.3 703l-7.6-1.4 5.4-1.8 7.5 1.4zM650.6 701.2l-7.5-1.4 5.3-1.8 7.6 1.4zM656 699.4l-7.6-1.4 5.4-1.7 7.5 1.4zM661.3 697.7l-7.5-1.4 5.3-1.7 7.6 1.4zM666.7 696l-7.6-1.4 5.4-1.7 7.5 1.5zM672 694.4l-7.5-1.5 5.3-1.7 7.6 1.5zM616.3 710.3l-7.5-1.3 5.3-2.4 7.6 1.3zM621.7 707.9l-7.6-1.3 5.4-2.2 7.5 1.2zM627 705.6l-7.5-1.2 5.3-2.1 7.6 1.3zM632.4 703.6l-7.6-1.3 5.4-2 7.5 1.3zM637.7 701.6l-7.5-1.3 5.3-1.9 7.6 1.4zM643.1 699.8l-7.6-1.4 5.4-1.8 7.5 1.4zM648.4 698l-7.5-1.4 5.3-1.7 7.6 1.4zM653.8 696.3l-7.6-1.4 5.4-1.8 7.5 1.5zM659.1 694.6l-7.5-1.5 5.3-1.7 7.6 1.5zM664.5 692.9l-7.6-1.5 5.4-1.7 7.5 1.5zM608.8 709l-7.6-1.3 5.4-2.3 7.5 1.2zM614.1 706.6l-7.5-1.2 5.3-2.2 7.6 1.2zM619.5 704.4l-7.6-1.2 5.4-2.2 7.5 1.3zM624.8 702.3l-7.5-1.3 5.3-2 7.6 1.3zM630.2 700.3l-7.6-1.3 5.4-1.9 7.5 1.3zM635.5 698.4l-7.5-1.3 5.3-1.9 7.6 1.4zM640.9 696.6l-7.6-1.4 5.4-1.8 7.5 1.5zM646.2 694.9l-7.5-1.5 5.3-1.8 7.6 1.5zM651.6 693.1l-7.6-1.5 5.4-1.7 7.5 1.5zM656.9 691.4l-7.5-1.5 5.3-1.8 7.6 1.6zM601.2 707.7l-7.5-1.1 5.3-2.4 7.6 1.2zM606.6 705.4l-7.6-1.2 5.4-2.2 7.5 1.2zM611.9 703.2l-7.5-1.2 5.3-2.1 7.6 1.1zM617.3 701l-7.6-1.1 5.4-2.1 7.5 1.2zM622.6 699l-7.5-1.2 5.3-2 7.6 1.3zM628 697.1l-7.6-1.3 5.4-1.9 7.5 1.3zM633.3 695.2l-7.5-1.3 5.3-1.9 7.6 1.4zM638.7 693.4l-7.6-1.4 5.4-1.9 7.5 1.5zM644 691.6l-7.5-1.5 5.3-1.8 7.6 1.6zM649.4 689.9l-7.6-1.6 5.4-1.9 7.5 1.7zM599 704.2l-7.5-1 5.3-2.2 7.6 1zM604.4 702l-7.6-1 5.4-2.2 7.5 1.1zM609.7 699.9l-7.5-1.1 5.3-2.1 7.6 1.1zM615.1 697.8l-7.6-1.1 5.4-2.1 7.5 1.2zM620.4 695.8l-7.5-1.2 5.3-2.1 7.6 1.4zM625.8 693.9l-7.6-1.4 5.4-2 7.5 1.5zM631.1 692l-7.5-1.5 5.3-1.9 7.6 1.5zM636.5 690.1l-7.6-1.5 5.4-2 7.5 1.7zM641.8 688.3l-7.5-1.7 5.3-1.9 7.6 1.7zM596.8 701l-7.5-1 5.3-2.2 7.6 1zM602.2 698.8l-7.6-1 5.4-2.2 7.5 1.1zM607.5 696.7l-7.5-1.1 5.3-2.2 7.6 1.2zM612.9 694.6l-7.6-1.2 5.4-2.1 7.5 1.2zM618.2 692.5l-7.5-1.2 5.3-2.1 7.6 1.3zM623.6 690.5l-7.6-1.3 5.4-2.1 7.5 1.5zM628.9 688.6l-7.5-1.5 5.3-2.1 7.6 1.6zM634.3 686.6l-7.6-1.6 5.4-2 7.5 1.7zM594.6 697.8l-7.5-.8 5.3-2.3 7.6.9zM600 695.6l-7.6-.9 5.4-2.3 7.5 1zM605.3 693.4l-7.5-1 5.3-2.3 7.6 1.2zM610.7 691.3l-7.6-1.2 5.4-2.2 7.5 1.3zM616 689.2l-7.5-1.3 5.3-2.3 7.6 1.5zM621.4 687.1l-7.6-1.5 5.4-2.2 7.5 1.6zM626.7 685l-7.5-1.6 5.3-2.1 7.6 1.7zM592.4 694.7l-7.5-.7 5.3-2.4 7.6.8zM597.8 692.4l-7.6-.8 5.4-2.5 7.5 1zM603.1 690.1l-7.5-1 5.3-2.4 7.6 1.2zM608.5 687.9l-7.6-1.2 5.4-2.5 7.5 1.4zM613.8 685.6l-7.5-1.4 5.3-2.3 7.6 1.5zM619.2 683.4l-7.6-1.5 5.4-2.3 7.5 1.7zM590.2 691.6l-7.5-.8 5.3-2.6 7.6.9zM595.6 689.1l-7.6-.9 5.4-2.7 7.5 1.2zM600.9 686.7l-7.5-1.2 5.3-2.6 7.6 1.3zM606.3 684.2l-7.6-1.3 5.4-2.5 7.5 1.5zM611.6 681.9l-7.5-1.5 5.3-2.4 7.6 1.6zM588 688.2l-7.5-.9 5.3-2.9 7.6 1.1zM593.4 685.5l-7.6-1.1 5.4-2.7 7.5 1.2zM598.7 682.9l-7.5-1.2 5.3-2.8 7.6 1.5zM604.1 680.4l-7.6-1.5 5.4-2.5 7.5 1.6zM580.5 687.3l-7.6-.9 5.4-3 7.5 1zM585.8 684.4l-7.5-1 5.3-2.9 7.6 1.2zM591.2 681.7l-7.6-1.2 5.4-2.9 7.5 1.3zM596.5 678.9l-7.5-1.3 5.3-2.7 7.6 1.5zM578.3 683.4l-7.6-1 5.4-3.1 7.5 1.2zM583.6 680.5l-7.5-1.2 5.3-3 7.6 1.3zM589 677.6l-7.6-1.3 5.4-2.8 7.5 1.4zM570.7 682.4l-7.5-.9 5.3-3.2 7.6 1zM576.1 679.3l-7.6-1 5.4-3.1 7.5 1.1zM581.4 676.3l-7.5-1.1 5.3-2.9 7.6 1.2zM568.5 678.3l-7.5-1 5.3-3.1 7.6 1zM573.9 675.2l-7.6-1 5.4-2.9 7.5 1zM561 677.3l-7.6-.8 5.4-3.1 7.5.8zM566.3 674.2l-7.5-.8 5.3-2.9 7.6.8zM553.4 676.5l-7.5-.6 5.3-3.1 7.6.6zM558.8 673.4l-7.6-.6 5.4-2.9 7.5.6zM551.2 672.8l-7.5-.4 5.3-2.8 7.6.3z"/><path fill="#fbf900" stroke="#8a8800" d="M746.6 715.9l-7.6-1.3 5.4-2.1 7.6 1.3zM752 713.8l-7.6-1.3 5.3-2.1 7.6 1.3zM757.3 711.7l-7.6-1.3 5.4-2.1 7.5 1.3zM762.6 709.6l-7.5-1.3 5.3-2 7.6 1.3zM744.4 712.5l-7.6-1.3 5.4-2.1 7.5 1.3zM749.7 710.4l-7.5-1.3 5.3-2.1 7.6 1.3zM755.1 708.3l-7.6-1.3 5.4-2.1 7.5 1.4zM736.8 711.2l-7.5-1.3 5.3-2.1 7.6 1.3zM742.2 709.1l-7.6-1.3 5.4-2.1 7.5 1.3zM747.5 707l-7.5-1.3 5.3-2 7.6 1.2zM734.6 707.8l-7.5-1.3 5.3-2.1 7.6 1.3zM740 705.7l-7.6-1.3 5.4-2 7.5 1.3zM727.1 706.5l-7.6-1.3 5.4-2 7.5 1.2zM732.4 704.4l-7.5-1.2 5.3-2 7.6 1.2zM724.9 703.2l-7.6-1.2 5.4-2 7.5 1.2z"/><path fill="#fdde11" stroke="#8b7a09" d="M628.9 770.5l-7.6-2.1 5.4-4 7.5 2zM634.2 766.4l-7.5-2 5.3-3.7 7.6 1.8zM616 772.6l-7.6-2.4 5.4-4 7.5 2.2zM621.3 768.4l-7.5-2.2 5.3-3.8 7.6 2zM626.7 764.4l-7.6-2 5.4-3.6 7.5 1.9zM608.4 770.2l-7.5-2.4 5.3-3.9 7.6 2.3zM613.8 766.2l-7.6-2.3 5.4-3.7 7.5 2.2zM595.5 772l-7.5-2.4 5.3-4.1 7.6 2.3zM600.9 767.8l-7.6-2.3 5.4-3.8 7.5 2.2zM606.2 763.9l-7.5-2.2 5.3-3.5 7.6 2zM588 769.6l-7.6-2.2 5.4-4.1 7.5 2.2zM593.3 765.5l-7.5-2.2 5.3-3.7 7.6 2.1zM575.1 771.9l-7.6-1.7 5.4-4.5 7.5 1.7zM580.4 767.4l-7.5-1.7 5.3-4.2 7.6 1.8zM585.8 763.3l-7.6-1.8 5.4-3.7 7.5 1.8zM567.5 770.2l-7.5-1.1 5.3-4.7 7.6 1.3zM572.9 765.7l-7.6-1.3 5.4-4.2 7.5 1.3zM578.2 761.5l-7.5-1.3 5.3-3.9 7.6 1.5zM565.3 764.4l-7.5-.7 5.3-4.4 7.6.9zM570.7 760.2l-7.6-.9 5.4-4.1 7.5 1.1zM557.8 763.7l-7.6-.4 5.4-4.6 7.5.6zM563.1 759.3l-7.5-.6 5.3-4.2 7.6.7zM555.6 758.7l-7.6-.2 5.4-4.4 7.5.4zM560.9 754.5l-7.5-.4 5.3-4 7.6.6zM548 758.5l-7.5 0 5.3-4.5 7.6.1zM553.4 754.1l-7.6-.1 5.4-4.2 7.5.3zM558.7 750.1l-7.5-.3 5.3-3.7 7.6.4zM545.8 754l-7.5.1 5.3-4.2 7.6-.1zM551.2 749.8l-7.6.1 5.4-3.8 7.5 0zM556.5 746.1l-7.5 0 5.3-3.4 7.6.2zM543.6 749.9l-7.5.3 5.3-3.9 7.6-.2zM549 746.1l-7.6.2 5.4-3.5 7.5-.1zM554.3 742.7l-7.5.1 5.3-3.1 7.6.1zM541.4 746.3l-7.5.3 5.3-3.6 7.6-.2zM546.8 742.8l-7.6.2 5.4-3.3 7.5 0zM552.1 739.7l-7.5 0 5.3-2.9 7.6.2zM557.5 737l-7.6-.2 5.4-2.6 7.5.4zM544.6 739.7l-7.6 0 5.4-3.1 7.5.2zM549.9 736.8l-7.5-.2 5.3-2.9 7.6.5zM555.3 734.2l-7.6-.5 5.4-2.8 7.5.8zM537 739.7l-7.5 0 5.3-3.4 7.6.3zM542.4 736.6l-7.6-.3 5.4-3.2 7.5.6zM547.7 733.7l-7.5-.6 5.3-3 7.6.8zM553.1 730.9l-7.6-.8 5.4-2.8 7.5 1zM534.8 736.3l-7.5-.4 5.3-3.4 7.6.6zM540.2 733.1l-7.6-.6 5.4-3.3 7.5.9zM545.5 730.1l-7.5-.9 5.3-3 7.6 1.1zM532.6 732.5l-7.5-.7 5.3-3.5 7.6.9zM538 729.2l-7.6-.9 5.4-3.2 7.5 1.1zM525.1 731.8l-7.6-.7 5.4-3.7 7.5.9zM530.4 728.3l-7.5-.9 5.3-3.5 7.6 1.2zM522.9 727.4l-7.6-.9 5.4-3.7 7.5 1.1zM528.2 723.9l-7.5-1.1 5.3-3.5 7.6 1.4zM515.3 726.5l-7.5-.8 5.3-4 7.6 1.1zM520.7 722.8l-7.6-1.1 5.4-3.6 7.5 1.2zM507.8 725.7l-7.6-.6 5.4-4.3 7.5.9zM513.1 721.7l-7.5-.9 5.3-3.9 7.6 1.2zM505.6 720.8l-7.6-.7 5.4-4.2 7.5 1zM498 720.1l-7.5-.5 5.3-4.5 7.6.8zM490.5 719.6l-7.6-.3 5.4-4.9 7.5.7zM495.8 715.1l-7.5-.7 5.3-4 7.6.9zM488.3 714.4l-7.6-.6 5.4-4.3 7.5.9zM480.7 713.8l-7.5-.5 5.3-4.6 7.6.8zM473.2 713.3l-7.6-.6 5.4-4.9 7.5.9zM478.5 708.7l-7.5-.9 5.3-3.6 7.6 1zM510.6 697.8l-7.5-1.2 5.3-1.3 7.6 1.1zM516 696.4l-7.6-1.1 5.4-1.9 7.5 1zM521.3 694.4l-7.5-1 5.3-2.4 7.6 1zM465.6 712.7l-7.5-.7 5.3-5 7.6.8zM471 707.8l-7.6-.8 5.4-3.7 7.5.9zM497.7 697.7l-7.5-1.2 5.3-1.1 7.6 1.2zM503.1 696.6l-7.6-1.2 5.4-1.3 7.5 1.2zM508.4 695.3l-7.5-1.2 5.3-1.9 7.6 1.2zM513.8 693.4l-7.6-1.2 5.4-2.2 7.5 1zM463.4 707l-7.5-.8 5.3-3.9 7.6 1zM490.2 696.5l-7.6-1.3 5.4-1 7.5 1.2zM495.5 695.4l-7.5-1.2 5.3-1.4 7.6 1.3zM500.9 694.1l-7.6-1.3 5.4-1.8 7.5 1.2zM506.2 692.2l-7.5-1.2 5.3-2.1 7.6 1.1zM511.6 690l-7.6-1.1 5.4-2.5 7.5 1zM455.9 706.2l-7.6-.8 5.4-4 7.5.9zM461.2 702.3l-7.5-.9 5.3-2.8 7.6 1zM477.3 696.3l-7.6-1.1 5.4-1.1 7.5 1.1zM482.6 695.2l-7.5-1.1 5.3-1.1 7.6 1.2zM488 694.2l-7.6-1.2 5.4-1.3 7.5 1.1zM493.3 692.8l-7.5-1.1 5.3-1.8 7.6 1.1zM498.7 691l-7.6-1.1 5.4-2.1 7.5 1.1zM504 688.9l-7.5-1.1 5.3-2.4 7.6 1zM448.3 705.4l-7.5-.8 5.3-4 7.6.8zM453.7 701.4l-7.6-.8 5.4-2.9 7.5.9zM459 698.6l-7.5-.9 5.3-2 7.6.9zM464.4 696.6l-7.6-.9 5.4-1.5 7.5 1zM469.7 695.2l-7.5-1 5.3-1.1 7.6 1zM475.1 694.1l-7.6-1 5.4-1.2 7.5 1.1zM480.4 693l-7.5-1.1 5.3-1.3 7.6 1.1zM485.8 691.7l-7.6-1.1 5.4-1.7 7.5 1zM491.1 689.9l-7.5-1 5.3-2.1 7.6 1zM496.5 687.8l-7.6-1 5.4-2.4 7.5 1zM501.8 685.4l-7.5-1 5.3-2.6 7.6.9zM440.8 704.6l-7.6-.7 5.4-4.1 7.5.8zM446.1 700.6l-7.5-.8 5.3-2.9 7.6.8zM451.5 697.7l-7.6-.8 5.4-2.1 7.5.9zM456.8 695.7l-7.5-.9 5.3-1.4 7.6.8zM462.2 694.2l-7.6-.8 5.4-1.2 7.5.9zM467.5 693.1l-7.5-.9 5.3-1.1 7.6.8zM472.9 691.9l-7.6-.8 5.4-1.3 7.5.8zM478.2 690.6l-7.5-.8 5.3-1.8 7.6.9zM483.6 688.9l-7.6-.9 5.4-2.1 7.5.9zM488.9 686.8l-7.5-.9 5.3-2.4 7.6.9zM494.3 684.4l-7.6-.9 5.4-2.6 7.5.9zM438.6 699.8l-7.6-.7 5.4-3 7.5.8zM443.9 696.9l-7.5-.8 5.3-2.1 7.6.8zM449.3 694.8l-7.6-.8 5.4-1.4 7.5.8zM454.6 693.4l-7.5-.8 5.3-1.1 7.6.7zM460 692.2l-7.6-.7 5.4-1.1 7.5.7zM465.3 691.1l-7.5-.7 5.3-1.4 7.6.8zM470.7 689.8l-7.6-.8 5.4-1.8 7.5.8zM476 688l-7.5-.8 5.3-2.1 7.6.8zM481.4 685.9l-7.6-.8 5.4-2.5 7.5.9zM486.7 683.5l-7.5-.9 5.3-2.7 7.6 1zM492.1 680.9l-7.6-1 5.4-2.9 7.5 1.1zM431 699.1l-7.5-.9 5.3-2.9 7.6.8zM436.4 696.1l-7.6-.8 5.4-2.1 7.5.8zM441.7 694l-7.5-.8 5.3-1.4 7.6.8zM447.1 692.6l-7.6-.8 5.4-1 7.5.7zM452.4 691.5l-7.5-.7 5.3-1.1 7.6.7zM457.8 690.4l-7.6-.7 5.4-1.3 7.5.6zM463.1 689l-7.5-.6 5.3-1.8 7.6.6zM468.5 687.2l-7.6-.6 5.4-2.3 7.5.8zM473.8 685.1l-7.5-.8 5.3-2.5 7.6.8zM479.2 682.6l-7.6-.8 5.4-2.8 7.5.9zM484.5 679.9l-7.5-.9 5.3-3 7.6 1zM423.5 698.2l-7.6-.9 5.4-3 7.5 1zM428.8 695.3l-7.5-1 5.3-1.9 7.6.8zM434.2 693.2l-7.6-.8 5.4-1.4 7.5.8zM439.5 691.8l-7.5-.8 5.3-1 7.6.8zM466.3 684.3l-7.6-.6 5.4-2.7 7.5.8zM471.6 681.8l-7.5-.8 5.3-2.9 7.6.9zM477 679l-7.6-.9 5.4-3.1 7.5 1zM421.3 694.3l-7.6-1 5.4-1.9 7.5 1zM426.6 692.4l-7.5-1 5.3-1.3 7.6.9zM464.1 681l-7.6-.7 5.4-3 7.5.8zM469.4 678.1l-7.5-.8 5.3-3.1 7.6.8zM474.8 675l-7.6-.8 5.4-3.3 7.5 1zM413.7 693.3l-7.5-1.1 5.3-1.8 7.6 1zM461.9 677.3l-7.6-.7 5.4-3.2 7.5.8zM467.2 674.2l-7.5-.8 5.3-3.4 7.6.9zM454.3 676.6l-7.5-.7 5.3-3.4 7.6.9zM459.7 673.4l-7.6-.9 5.4-3.4 7.5.9zM452.1 672.5l-7.5-.8 5.3-3.5 7.6.9zM457.5 669.1l-7.6-.9 5.4-3.5 7.5 1zM444.6 671.7l-7.6-1 5.4-3.6 7.5 1.1zM449.9 668.2l-7.5-1.1 5.3-3.6 7.6 1.2zM437 670.7l-7.5-1.1 5.3-3.7 7.6 1.2zM442.4 667.1l-7.6-1.2 5.4-3.7 7.5 1.3zM429.5 669.6l-7.6-1.2 5.4-3.8 7.5 1.3zM434.8 665.9l-7.5-1.3 5.3-3.8 7.6 1.4zM421.9 668.4l-7.6-1.2 5.4-4 7.6 1.4zM427.3 664.6l-7.6-1.4 5.3-3.8 7.6 1.4zM419.7 663.2l-7.6-1.4 5.4-3.9 7.5 1.5zM412.1 661.8l-7.5-1.4 5.3-4 7.6 1.5z"/><path fill="#ffb92a" stroke="#8c6517" d="M580.8 813.9l-7.6-1.6 5.3-5.3 7.6 1.8zM573.2 812.3l-7.6-1.6 5.4-5.7 7.5 2zM565.6 810.7l-7.5-1.6 5.3-6 7.6 1.9zM558.1 809.1l-7.6-1.5 5.4-6.2 7.5 1.7zM550.5 807.6l-7.5-1.1 5.3-6.6 7.6 1.5zM543 806.5l-7.6-.9 5.4-6.7 7.5 1zM535.4 805.6l-7.5-.4 5.3-6.8 7.6.5zM525.7 798.3l-7.6.3 5.4-6.7 7.5-.2zM518.1 798.6l-7.5.5 5.3-6.7 7.6-.5zM515.9 792.4l-7.5.6 5.3-6.4 7.6-.6zM508.4 793l-7.6.7 5.4-6.5 7.5-.6zM500.8 793.7l-7.5.8 5.3-6.6 7.6-.7zM498.6 787.9l-7.5.7 5.3-6.3 7.6-.8zM491.1 788.6l-7.6.9 5.4-6.4 7.5-.8zM488.9 783.1l-7.6.9 5.4-6.1 7.5-.9zM486.7 777.9l-7.6 1 5.4-5.9 7.5-1zM484.5 773l-7.6 1.1 5.4-5.7 7.5-1zM476.9 774.1l-7.5 1.1 5.3-5.7 7.6-1.1zM482.3 768.4l-7.6 1.1 5.4-5.5 7.5-1zM474.7 769.5l-7.5 1.1 5.3-5.6 7.6-1zM472.5 765l-7.5 1 5.3-5.5 7.6-.9zM470.3 760.5l-7.5 1 5.3-5.4 7.6-1zM468.1 756.1l-7.5.9 5.3-5.4 7.6-.9zM460.6 757l-7.6 1 5.4-5.2 7.5-1.2zM465.9 751.6l-7.5 1.2 5.3-5.5 7.6-1.1zM458.4 752.8l-7.6 1.1 5.4-5.3 7.5-1.3zM456.2 748.6l-7.6 1.2 5.4-5.8 7.5-1.2zM454 744l-7.6.9 5.4-6.5 7.5-.7zM446.4 744.9l-7.5.5 5.3-6.6 7.6-.4zM436.7 738.8l-7.6-.2 5.4-7.2 7.5.4zM429.1 738.6l-7.5-.3 5.3-7.3 7.6.4zM421.6 738.3l-7.6-.2 5.4-7.4 7.5.3zM404.3 730.4l-7.6-.2 5.4-7.9 7.5.4zM396.7 730.2l-7.5-.3 5.3-8.1 7.6.5zM389.2 729.9l-7.6-.5 5.4-8.3 7.5.7zM381.6 729.4l-7.5-.7 5.3-8.4 7.6.8zM356.8 718.6l-7.6 0 5.4-7.6 7.5-.3zM349.2 718.6l-7.5.1 5.3-7.2 7.6-.5zM339.4 712l-7.5.5 5.3-5.9 7.6-.7zM337.2 706.6l-7.5.4 5.3-4.8 7.6-.6z"/><path fill="#ffbd28" stroke="#8c6716" d="M586.1 808.8l-7.6-1.8 5.4-5.4 7.5 2zM578.5 807l-7.5-2 5.3-5.5 7.6 2.1zM571 805l-7.6-1.9 5.4-5.8 7.5 2.2zM563.4 803.1l-7.5-1.7 5.3-6.1 7.6 2zM555.9 801.4l-7.6-1.5 5.4-6.2 7.5 1.6zM548.3 799.9l-7.5-1 5.3-6.5 7.6 1.3zM540.8 798.9l-7.6-.5 5.4-6.6 7.5.6zM533.2 798.4l-7.5-.1 5.3-6.6 7.6.1zM531 791.7l-7.5.2 5.3-6.4 7.6-.2zM523.5 791.9l-7.6.5 5.4-6.4 7.5-.5zM513.7 786.6l-7.5.6 5.3-6.3 7.6-.6zM506.2 787.2l-7.6.7 5.4-6.4 7.5-.6zM504 781.5l-7.6.8 5.4-6.2 7.5-.7zM496.4 782.3l-7.5.8 5.3-6.1 7.6-.9zM501.8 776.1l-7.6.9 5.4-5.9 7.5-.7zM494.2 777l-7.5.9 5.3-5.9 7.6-.9zM492 772l-7.5 1 5.3-5.6 7.6-.9zM489.8 767.4l-7.5 1 5.3-5.4 7.6-.9zM487.6 763l-7.5 1 5.3-5.4 7.6-.8zM480.1 764l-7.6 1 5.4-5.4 7.5-1zM485.4 758.6l-7.5 1 5.3-5.3 7.6-.8zM477.9 759.6l-7.6.9 5.4-5.4 7.5-.8zM475.7 755.1l-7.6 1 5.4-5.4 7.5-.9zM473.5 750.7l-7.6.9 5.4-5.4 7.5-.9zM471.3 746.2l-7.6 1.1 5.4-5.6 7.5-1zM463.7 747.3l-7.5 1.3 5.3-5.8 7.6-1.1zM461.5 742.8l-7.5 1.2 5.3-6.3 7.6-.9zM451.8 738.4l-7.6.4 5.4-6.9 7.5-.1zM444.2 738.8l-7.5 0 5.3-7 7.6.1zM426.9 731l-7.5-.3 5.3-7.4 7.6.4zM419.4 730.7l-7.6-.2 5.4-7.5 7.5.3zM411.8 730.5l-7.5-.1 5.3-7.7 7.6.3zM394.5 721.8l-7.5-.7 5.3-7.9 7.6.9zM387 721.1l-7.6-.8 5.4-8.1 7.5 1zM379.4 720.3l-7.5-.8 5.3-8.1 7.6.8zM371.9 719.5l-7.6-.6 5.4-8.1 7.5.6zM364.3 718.9l-7.5-.3 5.3-7.9 7.6.1zM354.6 711l-7.6.5 5.4-6.5 7.5-.8zM347 711.5l-7.6.5 5.4-6.1 7.6-.9zM344.8 705.9l-7.6.7 5.4-5 7.5-.9zM342.6 701.6l-7.6.6 5.4-4 7.5-.6z"/><path fill="#ffc323" stroke="#8c6b13" d="M591.4 803.6l-7.5-2 5.3-5.2 7.6 2.1zM596.8 798.5l-7.6-2.1 5.4-5.1 7.6 2.2zM583.9 801.6l-7.6-2.1 5.4-5.4 7.5 2.3zM576.3 799.5l-7.5-2.2 5.3-5.6 7.6 2.4zM568.8 797.3l-7.6-2 5.4-5.8 7.5 2.2zM561.2 795.3l-7.5-1.6 5.3-6 7.6 1.8zM553.7 793.7l-7.6-1.3 5.4-6.1 7.5 1.4zM546.1 792.4l-7.5-.6 5.3-6.3 7.6.8zM538.6 791.8l-7.6-.1 5.4-6.4 7.5.2zM528.8 785.5l-7.5.5 5.3-6.2 7.6-.4zM521.3 786l-7.6.6 5.4-6.3 7.5-.5zM519.1 780.3l-7.6.6 5.4-6 7.5-.5zM511.5 780.9l-7.5.6 5.3-6.1 7.6-.5zM509.3 775.4l-7.5.7 5.3-5.7 7.6-.7zM507.1 770.4l-7.5.7 5.3-5.5 7.6-.7zM499.6 771.1l-7.6.9 5.4-5.5 7.5-.9zM504.9 765.6l-7.5.9 5.3-5.3 7.6-.7zM497.4 766.5l-7.6.9 5.4-5.3 7.5-.9zM495.2 762.1l-7.6.9 5.4-5.2 7.5-.8zM493 757.8l-7.6.8 5.4-5.1 7.5-.7zM490.8 753.5l-7.6.8 5.4-5.2 7.5-.5zM483.2 754.3l-7.5.8 5.3-5.3 7.6-.7zM488.6 749.1l-7.6.7 5.4-5.1 7.5-.5zM481 749.8l-7.5.9 5.3-5.4 7.6-.6zM478.8 745.3l-7.5.9 5.3-5.5 7.6-.7zM476.6 740.7l-7.5 1 5.3-5.8 7.6-.7zM469.1 741.7l-7.6 1.1 5.4-6 7.5-.9zM466.9 736.8l-7.6.9 5.4-6.4 7.5-.6zM459.3 737.7l-7.5.7 5.3-6.6 7.6-.5zM457.1 731.8l-7.5.1 5.3-6.9 7.6.1zM449.6 731.9l-7.6-.1 5.4-7.1 7.5.3zM442 731.8l-7.5-.4 5.3-7.2 7.6.5zM434.5 731.4l-7.6-.4 5.4-7.3 7.5.5zM424.7 723.3l-7.5-.3 5.3-7.2 7.6.5zM417.2 723l-7.6-.3 5.4-7.4 7.5.5zM409.6 722.7l-7.5-.4 5.3-7.5 7.6.5zM402.1 722.3l-7.6-.5 5.4-7.7 7.5.7zM377.2 711.4l-7.5-.6 5.3-7.1 7.6.5zM369.7 710.8l-7.6-.1 5.4-7 7.5 0zM362.1 710.7l-7.5.3 5.3-6.8 7.6-.5zM359.9 704.2l-7.5.8 5.3-5.4 7.6-1zM352.4 705l-7.6.9 5.3-5.2 7.6-1.1zM357.7 699.6l-7.6 1.1 5.4-4.1 7.6-1.1zM350.1 700.7l-7.5.9 5.3-4 7.6-1zM355.5 696.6l-7.6 1 5.4-3.1 7.5-.9zM347.9 697.6l-7.5.6 5.3-3.2 7.6-.5zM353.3 694.5l-7.6.5 5.4-2.6 7.5-.4zM358.6 692l-7.5.4 5.3-2.3 7.6-.1zM364 690l-7.6.1 5.4-2.2 7.5.1zM369.3 688l-7.5-.1 5.3-2.3 7.6.4z"/><path fill="#ffc91d" stroke="#8c6e0f" d="M602.2 793.5l-7.6-2.2 5.3-5 7.6 2.3zM589.2 796.4l-7.5-2.3 5.3-5.3 7.6 2.5zM594.6 791.3l-7.6-2.5 5.4-5 7.5 2.5zM581.7 794.1l-7.6-2.4 5.4-5.4 7.5 2.5zM574.1 791.7l-7.5-2.2 5.3-5.5 7.6 2.3zM566.6 789.5l-7.6-1.8 5.4-5.7 7.5 2zM559 787.7l-7.5-1.4 5.3-5.8 7.6 1.5zM551.5 786.3l-7.6-.8 5.4-5.9 7.5.9zM543.9 785.5l-7.5-.2 5.3-6 7.6.3zM536.4 785.3l-7.6.2 5.4-6.1 7.5-.1zM534.2 779.4l-7.6.4 5.4-5.8 7.5-.3zM526.6 779.8l-7.5.5 5.3-5.9 7.6-.4zM524.4 774.4l-7.5.5 5.3-5.8 7.6-.4zM516.9 774.9l-7.6.5 5.4-5.7 7.5-.6zM522.2 769.1l-7.5.6 5.3-5.4 7.6-.5zM514.7 769.7l-7.6.7 5.4-5.5 7.5-.6zM512.5 764.9l-7.6.7 5.4-5.1 7.5-.7zM510.3 760.5l-7.6.7 5.4-4.9 7.5-.7zM502.7 761.2l-7.5.9 5.3-5.1 7.6-.7zM508.1 756.3l-7.6.7 5.4-4.8 7.5-.5zM500.5 757l-7.5.8 5.3-5 7.6-.6zM505.9 752.2l-7.6.6 5.4-4.7 7.5-.4zM498.3 752.8l-7.5.7 5.3-4.9 7.6-.5zM503.7 748.1l-7.6.5 5.4-4.7 7.5-.3zM496.1 748.6l-7.5.5 5.3-4.9 7.6-.3zM501.5 743.9l-7.6.3 5.4-4.8 7.5 0zM493.9 744.2l-7.5.5 5.3-5.1 7.6-.2zM486.4 744.7l-7.6.6 5.4-5.3 7.5-.4zM491.7 739.6l-7.5.4 5.3-5.2 7.6-.1zM484.2 740l-7.6.7 5.4-5.5 7.5-.4zM482 735.2l-7.6.7 5.4-5.7 7.5-.4zM474.4 735.9l-7.5.9 5.3-6.1 7.6-.5zM472.2 730.7l-7.5.6 5.3-6.3 7.6-.2zM464.7 731.3l-7.6.5 5.4-6.7 7.5-.1zM454.9 725l-7.5-.3 5.3-6.7 7.6.5zM447.4 724.7l-7.6-.5 5.4-6.8 7.5.6zM439.8 724.2l-7.5-.5 5.3-6.9 7.6.6zM432.3 723.7l-7.6-.4 5.4-7 7.5.5zM422.5 715.8l-7.5-.5 5.3-6.6 7.6.6zM415 715.3l-7.6-.5 5.4-6.8 7.5.7zM407.4 714.8l-7.5-.7 5.3-6.9 7.6.8zM399.9 714.1l-7.6-.9 5.4-7 7.5 1zM392.3 713.2l-7.5-1 5.3-7.1 7.6 1.1zM384.8 712.2l-7.6-.8 5.4-7.2 7.5.9zM375 703.7l-7.5 0 5.3-5.7 7.6-.1zM367.5 703.7l-7.6.5 5.4-5.6 7.5-.6zM365.3 698.6l-7.6 1 5.4-4.1 7.5-1zM363.1 695.5l-7.6 1.1 5.3-3 7.6-1zM368.4 692.6l-7.6 1 5.4-2.3 7.6-.8zM373.8 690.5l-7.6.8 5.3-1.8 7.6-.6zM379.1 688.9l-7.6.6 5.4-1.6 7.6-.3zM384.5 687.6l-7.6.3 5.3-1.8 7.6 0zM389.8 686.1l-7.6 0 5.4-2.1 7.6.3zM395.2 684.3l-7.6-.3 5.3-2.6 7.6.6zM360.8 693.6l-7.5.9 5.3-2.5 7.6-.7zM366.2 691.3l-7.6.7 5.4-2 7.5-.5zM371.5 689.5l-7.5.5 5.3-2 7.6-.1zM376.9 687.9l-7.6.1 5.4-2 7.5.1zM382.2 686.1l-7.5-.1 5.3-2.4 7.6.4zM387.6 684l-7.6-.4 5.4-2.9 7.5.7zM392.9 681.4l-7.5-.7 5.3-3.3 7.6.9zM374.7 686l-7.6-.4 5.4-2.6 7.5.6zM380 683.6l-7.5-.6 5.3-3.1 7.6.8zM385.4 680.7l-7.6-.8 5.4-3.5 7.5 1z"/><path fill="#ffd019" stroke="#8c720d" d="M607.5 788.6l-7.6-2.3 5.4-4.8 7.5 2.3zM612.8 783.8l-7.5-2.3 5.3-4.6 7.6 2.3zM599.9 786.3l-7.5-2.5 5.3-4.8 7.6 2.5zM587 788.8l-7.5-2.5 5.3-5.1 7.6 2.6zM592.4 783.8l-7.6-2.6 5.4-4.8 7.5 2.6zM579.5 786.3l-7.6-2.3 5.4-5.2 7.5 2.4zM571.9 784l-7.5-2 5.3-5.3 7.6 2.1zM564.4 782l-7.6-1.5 5.4-5.4 7.5 1.6zM556.8 780.5l-7.5-.9 5.3-5.5 7.6 1zM549.3 779.6l-7.6-.3 5.4-5.6 7.5.4zM541.7 779.3l-7.5.1 5.3-5.7 7.6 0zM547.1 773.7l-7.6 0 5.4-5.4 7.5.2zM539.5 773.7l-7.5.3 5.3-5.6 7.6-.1zM532 774l-7.6.4 5.4-5.7 7.5-.3zM537.3 768.4l-7.5.3 5.3-5.3 7.6-.1zM529.8 768.7l-7.6.4 5.4-5.3 7.5-.4zM527.6 763.8l-7.6.5 5.4-5.1 7.5-.4zM520 764.3l-7.5.6 5.3-5.1 7.6-.6zM525.4 759.2l-7.6.6 5.4-4.8 7.5-.5zM517.8 759.8l-7.5.7 5.3-4.9 7.6-.6zM523.2 755l-7.6.6 5.4-4.5 7.5-.5zM515.6 755.6l-7.5.7 5.3-4.6 7.6-.6zM521 751.1l-7.6.6 5.4-4.4 7.5-.3zM513.4 751.7l-7.5.5 5.3-4.5 7.6-.4zM518.8 747.3l-7.6.4 5.4-4.2 7.5-.2zM511.2 747.7l-7.5.4 5.3-4.5 7.6-.1zM516.6 743.5l-7.6.1 5.4-4.2 7.5.1zM509 743.6l-7.5.3 5.3-4.5 7.6 0zM506.8 739.4l-7.5 0 5.3-4.5 7.6.2zM499.3 739.4l-7.6.2 5.4-4.9 7.5.2zM497.1 734.7l-7.6.1 5.4-5 7.5.3zM489.5 734.8l-7.5.4 5.3-5.4 7.6 0zM487.3 729.8l-7.5.4 5.3-5.5 7.6 0zM479.8 730.2l-7.6.5 5.4-5.9 7.5-.1zM477.6 724.8l-7.6.2 5.4-5.9 7.5.2zM470 725l-7.5.1 5.3-6.2 7.6.2zM462.5 725.1l-7.6-.1 5.4-6.5 7.5.4zM452.7 718l-7.5-.6 5.3-6.1 7.6.7zM445.2 717.4l-7.6-.6 5.4-6.2 7.5.7zM437.6 716.8l-7.5-.5 5.3-6.4 7.6.7zM430.1 716.3l-7.6-.5 5.4-6.5 7.5.6zM420.3 708.7l-7.5-.7 5.3-5.6 7.6.8zM412.8 708l-7.6-.8 5.4-5.7 7.5.9zM405.2 707.2l-7.5-1 5.3-5.8 7.6 1.1zM397.7 706.2l-7.6-1.1 5.4-5.8 7.5 1.1zM390.1 705.1l-7.5-.9 5.3-5.9 7.6 1zM382.6 704.2l-7.6-.5 5.4-5.8 7.5.4zM420 687l-7.5-.5 5.3-1.2 7.6.6zM425.4 685.9l-7.6-.6 5.4-1.8 7.5.6zM430.7 684.1l-7.5-.6 5.3-2.4 7.6.6zM380.4 697.9l-7.6.1 5.4-4.2 7.5-.1zM407.1 687.3l-7.5-.1 5.3-.9 7.6.2zM412.5 686.5l-7.6-.2 5.4-1.4 7.5.4zM417.8 685.3l-7.5-.4 5.3-1.9 7.6.5zM423.2 683.5l-7.6-.5 5.4-2.5 7.5.6zM372.8 698l-7.5.6 5.3-4.1 7.6-.7zM378.2 693.8l-7.6.7 5.4-2.9 7.5-.6zM383.5 691l-7.5.6 5.3-1.9 7.6-.5zM388.9 689.2l-7.6.5 5.4-1.3 7.5-.4zM394.2 688l-7.5.4 5.3-1.1 7.6-.1zM399.6 687.2l-7.6.1 5.4-1.1 7.5.1zM404.9 686.3l-7.5-.1 5.3-1.6 7.6.3zM410.3 684.9l-7.6-.3 5.4-2.1 7.5.5zM415.6 683l-7.5-.5 5.3-2.7 7.6.7zM421 680.5l-7.6-.7 5.4-3.1 7.5.8zM370.6 694.5l-7.5 1 5.3-2.9 7.6-1zM376 691.6l-7.6 1 5.4-2.1 7.5-.8zM381.3 689.7l-7.5.8 5.3-1.6 7.6-.5zM386.7 688.4l-7.6.5 5.4-1.3 7.5-.3zM392 687.3l-7.5.3 5.3-1.5 7.6.1zM397.4 686.2l-7.6-.1 5.4-1.8 7.5.3zM402.7 684.6l-7.5-.3 5.3-2.3 7.6.5zM408.1 682.5l-7.6-.5 5.4-2.9 7.5.7zM413.4 679.8l-7.5-.7 5.3-3.3 7.6.9zM400.5 682l-7.6-.6 5.4-3.1 7.6.8zM405.9 679.1l-7.6-.8 5.3-3.5 7.6 1zM411.2 675.8l-7.6-1 5.4-3.7 7.6 1.1zM398.3 678.3l-7.6-.9 5.4-3.6 7.5 1zM403.6 674.8l-7.5-1 5.3-3.9 7.6 1.2zM390.7 677.4l-7.5-1 5.3-3.8 7.6 1.2zM396.1 673.8l-7.6-1.2 5.4-4 7.5 1.3z"/><path fill="#ffd715" stroke="#8c760b" d="M618.2 779.2l-7.6-2.3 5.4-4.3 7.6 2.1zM623.6 774.7l-7.6-2.1 5.3-4.2 7.6 2.1zM605.3 781.5l-7.6-2.5 5.4-4.5 7.5 2.4zM610.6 776.9l-7.5-2.4 5.3-4.3 7.6 2.4zM597.7 779l-7.5-2.6 5.3-4.4 7.6 2.5zM603.1 774.5l-7.6-2.5 5.4-4.2 7.5 2.4zM584.8 781.2l-7.5-2.4 5.3-4.8 7.6 2.4zM590.2 776.4l-7.6-2.4 5.4-4.4 7.5 2.4zM577.3 778.8l-7.6-2.1 5.4-4.8 7.5 2.1zM582.6 774l-7.5-2.1 5.3-4.5 7.6 2.2zM569.7 776.7l-7.5-1.6 5.3-4.9 7.6 1.7zM562.2 775.1l-7.6-1 5.4-5 7.5 1.1zM554.6 774.1l-7.5-.4 5.3-5.2 7.6.6zM560 769.1l-7.6-.6 5.4-4.8 7.5.7zM552.4 768.5l-7.5-.2 5.3-5 7.6.4zM544.9 768.3l-7.6.1 5.4-5.1 7.5 0zM550.2 763.3l-7.5 0 5.3-4.8 7.6.2zM542.7 763.3l-7.6.1 5.4-4.9 7.5 0zM535.1 763.4l-7.5.4 5.3-5 7.6-.3zM540.5 758.5l-7.6.3 5.4-4.7 7.5-.1zM532.9 758.8l-7.5.4 5.3-4.7 7.6-.4zM538.3 754.1l-7.6.4 5.4-4.3 7.5-.3zM530.7 754.5l-7.5.5 5.3-4.4 7.6-.4zM536.1 750.2l-7.6.4 5.4-4 7.5-.3zM528.5 750.6l-7.5.5 5.3-4.1 7.6-.4zM533.9 746.6l-7.6.4 5.4-3.8 7.5-.2zM539.2 743l-7.5.2 5.3-3.5 7.6 0zM526.3 747l-7.5.3 5.3-4 7.6-.1zM531.7 743.2l-7.6.1 5.4-3.6 7.5 0zM524.1 743.3l-7.5.2 5.3-4 7.6.2zM529.5 739.7l-7.6-.2 5.4-3.6 7.5.4zM521.9 739.5l-7.5-.1 5.3-3.9 7.6.4zM527.3 735.9l-7.6-.4 5.4-3.7 7.5.7zM514.4 739.4l-7.6 0 5.4-4.3 7.5.4zM519.7 735.5l-7.5-.4 5.3-4 7.6.7zM512.2 735.1l-7.6-.2 5.4-4.3 7.5.5zM517.5 731.1l-7.5-.5 5.3-4.1 7.6.9zM504.6 734.9l-7.5-.2 5.3-4.6 7.6.5zM510 730.6l-7.6-.5 5.4-4.4 7.5.8zM502.4 730.1l-7.5-.3 5.3-4.7 7.6.6zM494.9 729.8l-7.6 0 5.4-5.1 7.5.4zM500.2 725.1l-7.5-.4 5.3-4.6 7.6.7zM492.7 724.7l-7.6 0 5.4-5.1 7.5.5zM485.1 724.7l-7.5.1 5.3-5.5 7.6.3zM482.9 719.3l-7.5-.2 5.3-5.3 7.6.6zM475.4 719.1l-7.6-.2 5.4-5.6 7.5.5zM467.8 718.9l-7.5-.4 5.3-5.8 7.6.6zM460.3 718.5l-7.6-.5 5.4-6 7.5.7zM458.1 712l-7.6-.7 5.4-5.1 7.5.8zM450.5 711.3l-7.5-.7 5.3-5.2 7.6.8zM443 710.6l-7.6-.7 5.4-5.3 7.5.8zM435.4 709.9l-7.5-.6 5.3-5.4 7.6.7zM427.9 709.3l-7.6-.6 5.4-5.5 7.5.7zM433.2 703.9l-7.5-.7 5.3-4.1 7.6.7zM425.7 703.2l-7.6-.8 5.4-4.2 7.5.9zM418.1 702.4l-7.5-.9 5.3-4.2 7.6.9zM444.9 690.8l-7.6-.8 5.4-1 7.5.7zM450.2 689.7l-7.5-.7 5.3-1.3 7.6.7zM455.6 688.4l-7.6-.7 5.4-1.8 7.5.7zM460.9 686.6l-7.5-.7 5.3-2.2 7.6.6zM410.6 701.5l-7.6-1.1 5.4-4.2 7.5 1.1zM415.9 697.3l-7.5-1.1 5.3-2.9 7.6 1zM432 691l-7.6-.9 5.4-.9 7.5.8zM437.3 690l-7.5-.8 5.3-.9 7.6.7zM442.7 689l-7.6-.7 5.4-1.2 7.5.6zM448 687.7l-7.5-.6 5.3-1.8 7.6.6zM453.4 685.9l-7.6-.6 5.4-2.3 7.5.7zM458.7 683.7l-7.5-.7 5.3-2.7 7.6.7zM403 700.4l-7.5-1.1 5.3-4.3 7.6 1.2zM408.4 696.2l-7.6-1.2 5.4-2.8 7.5 1.1zM419.1 691.4l-7.6-1 5.4-1.2 7.5.9zM424.4 690.1l-7.5-.9 5.3-.8 7.6.8zM429.8 689.2l-7.6-.8 5.4-.8 7.5.7zM435.1 688.3l-7.5-.7 5.3-1.1 7.6.6zM440.5 687.1l-7.6-.6 5.4-1.8 7.5.6zM445.8 685.3l-7.5-.6 5.3-2.3 7.6.6zM451.2 683l-7.6-.6 5.4-2.7 7.5.6zM456.5 680.3l-7.5-.6 5.3-3.1 7.6.7zM395.5 699.3l-7.6-1 5.4-4.2 7.5.9zM400.8 695l-7.5-.9 5.3-2.8 7.6.9zM406.2 692.2l-7.6-.9 5.4-1.7 7.5.8zM411.5 690.4l-7.5-.8 5.3-1.1 7.6.7zM416.9 689.2l-7.6-.7 5.4-.7 7.5.6zM422.2 688.4l-7.5-.6 5.3-.8 7.6.6zM427.6 687.6l-7.6-.6 5.4-1.1 7.5.6zM432.9 686.5l-7.5-.6 5.3-1.8 7.6.6zM438.3 684.7l-7.6-.6 5.4-2.4 7.5.7zM443.6 682.4l-7.5-.7 5.3-2.7 7.6.7zM449 679.7l-7.6-.7 5.4-3.1 7.5.7zM387.9 698.3l-7.5-.4 5.3-4.2 7.6.4zM393.3 694.1l-7.6-.4 5.4-2.8 7.5.4zM398.6 691.3l-7.5-.4 5.3-1.8 7.6.5zM404 689.6l-7.6-.5 5.4-1 7.5.4zM409.3 688.5l-7.5-.4 5.3-.8 7.6.5zM414.7 687.8l-7.6-.5 5.4-.8 7.5.5zM436.1 681.7l-7.6-.6 5.4-2.8 7.5.7zM441.4 679l-7.5-.7 5.3-3.2 7.6.8zM446.8 675.9l-7.6-.8 5.4-3.4 7.5.8zM385.7 693.7l-7.5.1 5.3-2.8 7.6-.1zM391.1 690.9l-7.6.1 5.4-1.8 7.5-.1zM396.4 689.1l-7.5.1 5.3-1.2 7.6.1zM401.8 688.1l-7.6-.1 5.4-.8 7.5.1zM428.5 681.1l-7.5-.6 5.3-3 7.6.8zM433.9 678.3l-7.6-.8 5.4-3.3 7.5.9zM439.2 675.1l-7.5-.9 5.3-3.5 7.6 1zM426.3 677.5l-7.5-.8 5.3-3.5 7.6 1zM431.7 674.2l-7.6-1 5.4-3.6 7.5 1.1zM418.8 676.7l-7.6-.9 5.4-3.6 7.5 1zM424.1 673.2l-7.5-1 5.3-3.8 7.6 1.2zM416.6 672.2l-7.6-1.1 5.3-3.9 7.6 1.2zM409 671.1l-7.6-1.2 5.4-4 7.5 1.3zM414.3 667.2l-7.5-1.3 5.3-4.1 7.6 1.4zM401.4 669.9l-7.5-1.3 5.3-4.1 7.6 1.4zM406.8 665.9l-7.6-1.4 5.4-4.1 7.5 1.4z"/></g><path d="M162.6 921.7h0M194.9 927.7h0M227.3 924.1h0M259.6 924.1h0M291.9 927h0M324.2 925.9h0M356.5 927.7h0M388.8 934.8h0M421.1 939.5h0M453.4 949h0M485.7 956h0M199.2 869.3h0M231.5 856.2h0M263.9 874.6h0M296.2 859.4h0M328.5 869.3h0M360.8 867.5h0M393.1 870.2h0M425.4 870.2h0M457.7 872.1h0M490 874.4h0M522.4 865.5h0M235.8 822.6h0M268.1 822.6h0M300.5 822.6h0M332.8 821.6h0M365.1 822.6h0M397.4 821.6h0M429.7 822.5h0M462 820.2h0M494.3 816.9h0M526.6 815.5h0M559 819.2h0M272.4 782.6h0M304.8 781.6h0M337.1 783.7h0M369.4 781.6h0M401.7 779.2h0M434 783.9h0M466.3 779.2h0M498.6 774.4h0M530.9 772.1h0M563.3 771.1h0M595.6 783.9h0M309 746.2h0M341.4 750.1h0M373.7 752.6h0M406 749.9h0M438.3 751.8h0M470.6 744.7h0M502.9 742.8h0M535.2 742.8h0M567.5 741.4h0M599.9 747.5h0M632.2 755.6h0M345.7 703.8h0M378 695.3h0M410.3 702.3h0M442.6 704.6h0M474.9 708.4h0M507.2 711.7h0M539.5 717.8h0M571.8 724h0M604.1 728.7h0M636.5 732.9h0M668.8 736.7h0M382.3 685.4h0M414.6 684.8h0M446.9 688.1h0M479.2 690.5h0M511.5 696.6h0M543.8 699.9h0M576.1 701.3h0M608.4 706h0M640.8 711.7h0M673.1 719.2h0M705.4 724h0M418.9 659.8h0M451.2 665.9h0M483.5 669.2h0M515.8 675.4h0M548.1 676.8h0M580.4 681h0M612.7 686.2h0M645 692.8h0M677.4 699h0M709.7 704.6h0M742 709.8h0" stroke="#000" stroke-width="5.5" stroke-linecap="round"/><path d="M135.5 932.3L489.8 1001.8L768 913.3" stroke="#262626" stroke-width="1.1" fill="none"/><path d="M153.1 935.8L145 938.3M233.9 951.6L225.8 954.2M314.7 967.4L306.6 970M395.4 983.3L387.3 985.9M476.2 999.1L468.1 1001.7M499.3 998.8L507.7 1000.4M572.5 975.5L580.9 977.1M645.7 952.2L654.1 953.8M718.9 928.9L727.3 930.5M135.5 885.6L127.2 884M135.5 833.7L127.2 832.1M135.5 781.8L127.2 780.2M135.5 729.9L127.2 728.3" stroke="#262626" stroke-width="1.1" fill="none"/><g font-size="20"><text x="140.6" y="963.9" text-anchor="end">0.2</text><text x="221.4" y="979.7" text-anchor="end">0.15</text><text x="302.2" y="995.5" text-anchor="end">0.1</text><text x="382.9" y="1011.4" text-anchor="end">0.05</text><text x="463.7" y="1027.2" text-anchor="end">0</text><text x="511.8" y="1026.4">12</text><text x="585" y="1003.1">10</text><text x="658.2" y="979.8">8</text><text x="731.4" y="956.5">6</text><text x="118" y="892.7" text-anchor="end">0.7</text><text x="118" y="840.8" text-anchor="end">0.8</text><text x="118" y="788.9" text-anchor="end">0.9</text><text x="118" y="737" text-anchor="end">1</text></g><g font-size="22"><text transform="translate(68.6 838) rotate(-90)" text-anchor="middle">Reliability</text><text transform="translate(270 1022.5) rotate(11.10)" text-anchor="middle">Coefficient of vehicle parameters</text><text transform="translate(672 1016) rotate(-17.65)" text-anchor="middle">Foundation settling /(mm)</text></g><g font-family="Liberation Serif, serif" font-size="38" fill="#000" transform="translate(0 1157.2)"><text x="360.5">(</text><text x="373.2" textLength="15.7" lengthAdjust="spacingAndGlyphs" font-weight="bold">c</text><text x="389.5" textLength="12.3" lengthAdjust="spacingAndGlyphs">)</text><text x="412.2" textLength="57.3" lengthAdjust="spacingAndGlyphs">400</text><text x="479.4" textLength="88.2" lengthAdjust="spacingAndGlyphs">km/h</text></g></g>
<g><path d="M152.1 1520.9L439.1 1421.1L439.1 1222.7M233.6 1539L520.6 1439.2L520.6 1240.8M315.1 1557L602.1 1457.2L602.1 1258.8M396.6 1575.1L683.6 1475.3L683.6 1276.9M478.1 1593.1L765.1 1493.3L765.1 1294.9M503.3 1593.3L143.4 1513.6L143.4 1315.2M578.6 1567.1L218.7 1487.4L218.7 1289M654 1540.9L294.1 1461.2L294.1 1262.8M729.3 1514.7L369.4 1435L369.4 1236.6M134 1463.7L421 1363.9L780.9 1443.6M134 1394.1L421 1294.3L780.9 1374M134 1324.6L421 1224.8L780.9 1304.5" stroke="#dcdcdc" stroke-width="1" fill="none"/><path d="M134 1516.9L134 1318.5M421 1417.1L421 1218.7M780.9 1496.8L780.9 1298.4M134 1318.5L421 1218.7L780.9 1298.4M134 1516.9L421 1417.1L780.9 1496.8" stroke="#262626" stroke-width="1.1" fill="none"/><g stroke-width="0.75"><path fill="#00b8e2" stroke="#00657c" d="M467.6 1497.2l-7.8-2.1 5.5-8.3 7.9 1.9zM459.8 1495.1l-7.8-2.1 5.5-8.3 7.8 2.1zM452 1493l-7.8-2.1 5.5-8.2 7.8 2zM444.2 1490.9l-7.9-2.1 5.6-8.2 7.8 2.1zM436.3 1488.8l-7.8-2.2 5.5-8.1 7.9 2.1zM428.5 1486.6l-7.8-2.2 5.5-8 7.8 2.1zM420.7 1484.4l-7.8-2.2 5.5-7.8 7.8 2zM412.9 1482.2l-7.9-2.1 5.6-7.7 7.8 2zM405 1480.1l-7.8-1.9 5.5-7.6 7.9 1.8zM397.2 1478.2l-7.8-1.7 5.5-7.5 7.8 1.6zM389.4 1476.5l-7.8-1.3 5.5-7.5 7.8 1.3zM381.6 1475.2l-7.8-1.3 5.5-7.4 7.8 1.2zM373.8 1473.9l-7.9-1.1 5.5-7.4 7.9 1.1zM365.9 1472.8l-7.8-1.2 5.5-7.3 7.8 1.1zM358.1 1471.6l-7.8-1.2 5.5-7.3 7.8 1.2zM316.7 1456.5l-7.8-1.4 5.5-6.6 7.8 1.3zM308.9 1455.1l-7.9-1.4 5.6-6.5 7.8 1.3zM301 1453.7l-7.8-1.3 5.5-6.4 7.9 1.2zM293.2 1452.4l-7.8-1.3 5.5-6.4 7.8 1.3zM285.4 1451.1l-7.8-1.4 5.5-6.3 7.8 1.3zM277.6 1449.7l-7.9-1.4 5.6-6.2 7.8 1.3zM269.7 1448.3l-7.8-1.4 5.5-6.1 7.9 1.3zM261.9 1446.9l-7.8-1.6 5.5-5.9 7.8 1.4zM238.4 1441.8l-7.8-2 5.5-5.5 7.9 1.9zM230.6 1439.8l-7.8-2.1 5.5-5.5 7.8 2.1zM222.8 1437.7l-7.8-2 5.5-5.4 7.8 1.9zM215 1435.7l-7.9-1.6 5.6-5.3 7.8 1.5zM207.1 1434.1l-7.8-.9 5.5-5.3 7.9.9zM204.8 1427.9l-7.8-.1 5.5-5.3 7.9 0zM197 1427.8l-7.8 1.1 5.5-5.3 7.8-1.1z"/><path fill="#00bcdc" stroke="#006779" d="M543.6 1508.8l-7.9-2.1 5.6-11.6 7.8 1.8zM535.7 1506.7l-7.8-2.3 5.5-11 7.9 1.7zM527.9 1504.4l-7.8-2.4 5.5-10.4 7.8 1.8zM520.1 1502l-7.8-2.4 5.5-9.8 7.8 1.8zM512.3 1499.6l-7.8-2.3 5.5-9.4 7.8 1.9zM504.5 1497.3l-7.9-2.3 5.5-8.9 7.9 1.8zM496.6 1495l-7.8-2.2 5.5-8.6 7.8 1.9zM488.8 1492.8l-7.8-2.1 5.5-8.3 7.8 1.8zM481 1490.7l-7.8-2 5.5-8.2 7.8 1.9zM371.4 1465.4l-7.8-1.1 5.5-7.3 7.9 1.1zM363.6 1464.3l-7.8-1.2 5.5-7.2 7.8 1.1zM355.8 1463.1l-7.8-1.2 5.5-7.2 7.8 1.2zM348 1461.9l-7.8-1.4 5.5-7 7.8 1.2zM340.2 1460.5l-7.9-1.3 5.5-7 7.9 1.3zM332.3 1459.2l-7.8-1.4 5.5-6.8 7.8 1.2zM324.5 1457.8l-7.8-1.3 5.5-6.7 7.8 1.2zM298.7 1446l-7.8-1.3 5.5-6.4 7.8 1.2zM290.9 1444.7l-7.8-1.3 5.5-6.3 7.8 1.2zM283.1 1443.4l-7.8-1.3 5.5-6.3 7.8 1.3zM275.3 1442.1l-7.9-1.3 5.6-6.2 7.8 1.2zM267.4 1440.8l-7.8-1.4 5.5-6 7.9 1.2zM259.6 1439.4l-7.8-1.5 5.5-5.9 7.8 1.4zM251.8 1437.9l-7.8-1.7 5.5-5.7 7.8 1.5zM244 1436.2l-7.9-1.9 5.6-5.6 7.8 1.8zM236.1 1434.3l-7.8-2.1 5.5-5.5 7.9 2zM228.3 1432.2l-7.8-1.9 5.5-5.4 7.8 1.8zM220.5 1430.3l-7.8-1.5 5.5-5.4 7.8 1.5zM212.7 1428.8l-7.9-.9 5.6-5.4 7.8.9zM210.4 1422.5l-7.9 0 5.6-5.4 7.8 0zM202.5 1422.5l-7.8 1.1 5.5-5.4 7.9-1.1z"/><path fill="#00c0d4" stroke="#006974" d="M473.2 1488.7l-7.9-1.9 5.6-8.3 7.8 2zM465.3 1486.8l-7.8-2.1 5.5-8.1 7.9 1.9zM457.5 1484.7l-7.8-2 5.5-8.1 7.8 2zM449.7 1482.7l-7.8-2.1 5.5-8 7.8 2zM441.9 1480.6l-7.9-2.1 5.6-7.8 7.8 1.9zM434 1478.5l-7.8-2.1 5.5-7.7 7.9 2zM426.2 1476.4l-7.8-2 5.5-7.6 7.8 1.9zM418.4 1474.4l-7.8-2 5.5-7.5 7.8 1.9zM410.6 1472.4l-7.9-1.8 5.6-7.4 7.8 1.7zM402.7 1470.6l-7.8-1.6 5.5-7.3 7.9 1.5zM394.9 1469l-7.8-1.3 5.5-7.3 7.8 1.3zM387.1 1467.7l-7.8-1.2 5.5-7.3 7.8 1.2zM379.3 1466.5l-7.9-1.1 5.6-7.3 7.8 1.1zM345.7 1453.5l-7.9-1.3 5.6-6.9 7.8 1.1zM337.8 1452.2l-7.8-1.2 5.5-6.8 7.9 1.1zM330 1451l-7.8-1.2 5.5-6.7 7.8 1.1zM322.2 1449.8l-7.8-1.3 5.5-6.6 7.8 1.2zM314.4 1448.5l-7.8-1.3 5.5-6.5 7.8 1.2zM306.6 1447.2l-7.9-1.2 5.5-6.5 7.9 1.2zM280.8 1435.8l-7.8-1.2 5.5-6.2 7.8 1.2zM273 1434.6l-7.9-1.2 5.5-6.1 7.9 1.1zM265.1 1433.4l-7.8-1.4 5.5-5.9 7.8 1.2zM257.3 1432l-7.8-1.5 5.5-5.8 7.8 1.4zM249.5 1430.5l-7.8-1.8 5.5-5.7 7.8 1.7zM241.7 1428.7l-7.9-2 5.6-5.5 7.8 1.8zM233.8 1426.7l-7.8-1.8 5.5-5.5 7.9 1.8zM226 1424.9l-7.8-1.5 5.5-5.5 7.8 1.5zM218.2 1423.4l-7.8-.9 5.5-5.4 7.8.8zM215.9 1417.1l-7.8 0 5.5-5.4 7.8-.1zM208.1 1417.1l-7.9 1.1 5.5-5.4 7.9-1.1z"/><path fill="#00c3cd" stroke="#006b70" d="M517.8 1489.8l-7.8-1.9 5.5-9.2 7.8 1.3zM510 1487.9l-7.9-1.8 5.6-8.7 7.8 1.3zM502.1 1486.1l-7.8-1.9 5.5-8.4 7.9 1.6zM494.3 1484.2l-7.8-1.8 5.5-8.3 7.8 1.7zM486.5 1482.4l-7.8-1.9 5.5-8.1 7.8 1.7zM478.7 1480.5l-7.8-2 5.5-8 7.8 1.9zM384.8 1459.2l-7.8-1.1 5.5-7.1 7.8 1.1zM377 1458.1l-7.9-1.1 5.6-7.1 7.8 1.1zM369.1 1457l-7.8-1.1 5.5-7.2 7.9 1.2zM361.3 1455.9l-7.8-1.2 5.5-7.1 7.8 1.1zM353.5 1454.7l-7.8-1.2 5.5-7.1 7.8 1.2zM327.7 1443.1l-7.8-1.2 5.5-6.5 7.8 1zM319.9 1441.9l-7.8-1.2 5.5-6.4 7.8 1.1zM312.1 1440.7l-7.9-1.2 5.6-6.4 7.8 1.2zM304.2 1439.5l-7.8-1.2 5.5-6.3 7.9 1.1zM296.4 1438.3l-7.8-1.2 5.5-6.4 7.8 1.3zM288.6 1437.1l-7.8-1.3 5.5-6.2 7.8 1.1zM278.5 1428.4l-7.9-1.1 5.6-6.1 7.8 1.1zM270.6 1427.3l-7.8-1.2 5.5-6 7.9 1.1zM262.8 1426.1l-7.8-1.4 5.5-5.8 7.8 1.2zM255 1424.7l-7.8-1.7 5.5-5.7 7.8 1.6zM247.2 1423l-7.8-1.8 5.5-5.7 7.8 1.8zM239.4 1421.2l-7.9-1.8 5.5-5.6 7.9 1.7zM231.5 1419.4l-7.8-1.5 5.5-5.5 7.8 1.4zM223.7 1417.9l-7.8-.8 5.5-5.5 7.8.8zM213.6 1411.7l-7.9 1.1 5.6-5.3 7.8-1.3z"/><path fill="#00c5c4" stroke="#006c6b" d="M549.1 1496.9l-7.8-1.8 5.5-11.5 7.8 1.3zM541.3 1495.1l-7.9-1.7 5.6-11.1 7.8 1.3zM533.4 1493.4l-7.8-1.8 5.5-10.5 7.9 1.2zM525.6 1491.6l-7.8-1.8 5.5-9.8 7.8 1.1zM470.9 1478.5l-7.9-1.9 5.5-8 7.9 1.9zM463 1476.6l-7.8-2 5.5-7.9 7.8 1.9zM455.2 1474.6l-7.8-2 5.5-7.8 7.8 1.9zM447.4 1472.6l-7.8-1.9 5.5-7.7 7.8 1.8zM439.6 1470.7l-7.9-2 5.6-7.6 7.8 1.9zM431.7 1468.7l-7.8-1.9 5.5-7.4 7.9 1.7zM423.9 1466.8l-7.8-1.9 5.5-7.2 7.8 1.7zM416.1 1464.9l-7.8-1.7 5.5-7.1 7.8 1.6zM408.3 1463.2l-7.9-1.5 5.6-7 7.8 1.4zM400.4 1461.7l-7.8-1.3 5.5-7 7.9 1.3zM392.6 1460.4l-7.8-1.2 5.5-7.1 7.8 1.3zM366.8 1448.7l-7.8-1.1 5.5-7 7.9 1.1zM359 1447.6l-7.8-1.2 5.5-6.9 7.8 1.1zM351.2 1446.4l-7.8-1.1 5.5-6.9 7.8 1.1zM343.4 1445.3l-7.9-1.1 5.6-6.8 7.8 1zM335.5 1444.2l-7.8-1.1 5.5-6.7 7.9 1zM317.6 1434.3l-7.8-1.2 5.5-6.3 7.8 1.1zM309.8 1433.1l-7.9-1.1 5.6-6.4 7.8 1.2zM301.9 1432l-7.8-1.3 5.5-6.2 7.9 1.1zM294.1 1430.7l-7.8-1.1 5.5-6.3 7.8 1.2zM286.3 1429.6l-7.8-1.2 5.5-6.1 7.8 1zM268.3 1420.1l-7.8-1.2 5.5-6 7.9 1.2zM260.5 1418.9l-7.8-1.6 5.5-5.9 7.8 1.5zM252.7 1417.3l-7.8-1.8 5.5-5.7 7.8 1.6zM244.9 1415.5l-7.9-1.7 5.6-5.7 7.8 1.7zM237 1413.8l-7.8-1.4 5.5-5.6 7.9 1.3zM229.2 1412.4l-7.8-.8 5.5-5.5 7.8.7zM221.4 1411.6l-7.8.1 5.5-5.5 7.8-.1zM219.1 1406.2l-7.8 1.3 5.5-5.4 7.8-1.3z"/><path fill="#07c7bc" stroke="#036d67" d="M507.7 1477.4l-7.9-1.6 5.6-8.3 7.8 1.2zM499.8 1475.8l-7.8-1.7 5.5-8 7.9 1.4zM492 1474.1l-7.8-1.7 5.5-8 7.8 1.7zM484.2 1472.4l-7.8-1.9 5.5-7.9 7.8 1.8zM476.4 1470.5l-7.9-1.9 5.6-7.8 7.8 1.8zM468.5 1468.6l-7.8-1.9 5.5-7.7 7.9 1.8zM460.7 1466.7l-7.8-1.9 5.5-7.6 7.8 1.8zM429.4 1459.4l-7.8-1.7 5.5-7.1 7.8 1.5zM421.6 1457.7l-7.8-1.6 5.5-7 7.8 1.5zM413.8 1456.1l-7.8-1.4 5.5-7 7.8 1.4zM406 1454.7l-7.9-1.3 5.6-7 7.8 1.3zM398.1 1453.4l-7.8-1.3 5.5-6.9 7.9 1.2zM390.3 1452.1l-7.8-1.1 5.5-7 7.8 1.2zM382.5 1451l-7.8-1.1 5.5-7.1 7.8 1.2zM374.7 1449.9l-7.9-1.2 5.6-7 7.8 1.1zM348.9 1438.4l-7.8-1 5.5-6.6 7.8.9zM341.1 1437.4l-7.9-1 5.6-6.5 7.8.9zM333.2 1436.4l-7.8-1 5.5-6.5 7.9 1zM325.4 1435.4l-7.8-1.1 5.5-6.4 7.8 1zM307.5 1425.6l-7.9-1.1 5.6-6.2 7.8 1.2zM299.6 1424.5l-7.8-1.2 5.5-6.1 7.9 1.1zM291.8 1423.3l-7.8-1 5.5-6.2 7.8 1.1zM284 1422.3l-7.8-1.1 5.5-6.1 7.8 1zM276.2 1421.2l-7.9-1.1 5.6-6 7.8 1zM258.2 1411.4l-7.8-1.6 5.5-6 7.8 1.6zM250.4 1409.8l-7.8-1.7 5.5-5.8 7.8 1.5zM242.6 1408.1l-7.9-1.3 5.6-5.6 7.8 1.1zM234.7 1406.8l-7.8-.7 5.5-5.5 7.9.6zM226.9 1406.1l-7.8.1 5.5-5.4 7.8-.2zM224.6 1400.8l-7.8 1.3 5.5-5.3 7.8-1.4zM230.1 1395.4l-7.8 1.4 5.5-5.3 7.9-1.5z"/><path fill="#08b3e8" stroke="#04627f" d="M506.8 1509.5l-7.9-2.9 5.6-9.3 7.8 2.3zM498.9 1506.6l-7.8-2.7 5.5-8.9 7.9 2.3zM491.1 1503.9l-7.8-2.4 5.5-8.7 7.8 2.2zM483.3 1501.5l-7.8-2.2 5.5-8.6 7.8 2.1zM475.5 1499.3l-7.9-2.1 5.6-8.5 7.8 2zM399.5 1488.1l-7.8-2 5.5-7.9 7.8 1.9zM391.7 1486.1l-7.8-1.7 5.5-7.9 7.8 1.7zM350.3 1470.4l-7.8-1.4 5.5-7.1 7.8 1.2zM342.5 1469l-7.9-1.4 5.6-7.1 7.8 1.4zM334.6 1467.6l-7.8-1.5 5.5-6.9 7.9 1.3zM326.8 1466.1l-7.8-1.5 5.5-6.8 7.8 1.4zM319 1464.6l-7.8-1.5 5.5-6.6 7.8 1.3zM311.2 1463.1l-7.9-1.4 5.6-6.6 7.8 1.4zM303.3 1461.7l-7.8-1.5 5.5-6.5 7.9 1.4zM295.5 1460.2l-7.8-1.4 5.5-6.4 7.8 1.3zM287.7 1458.8l-7.8-1.5 5.5-6.2 7.8 1.3zM254.1 1445.3l-7.8-1.7 5.5-5.7 7.8 1.5zM246.3 1443.6l-7.9-1.8 5.6-5.6 7.8 1.7zM217.3 1443.1l-7.9-2 5.6-5.4 7.8 2zM209.4 1441.1l-7.8-1.6 5.5-5.4 7.9 1.6zM199.3 1433.2l-7.8 0 5.5-5.4 7.8.1z"/><path fill="#0dafed" stroke="#076082" d="M538.1 1520.4l-7.9-2.5 5.5-11.2 7.9 2.1zM530.2 1517.9l-7.8-2.7 5.5-10.8 7.8 2.3zM522.4 1515.2l-7.8-2.9 5.5-10.3 7.8 2.4zM514.6 1512.3l-7.8-2.8 5.5-9.9 7.8 2.4zM454.3 1503.6l-7.8-2.2 5.5-8.4 7.8 2.1zM446.5 1501.4l-7.9-2.1 5.6-8.4 7.8 2.1zM438.6 1499.3l-7.8-2.3 5.5-8.2 7.9 2.1zM430.8 1497l-7.8-2.2 5.5-8.2 7.8 2.2zM423 1494.8l-7.8-2.3 5.5-8.1 7.8 2.2zM415.2 1492.5l-7.8-2.2 5.5-8.1 7.8 2.2zM407.4 1490.3l-7.9-2.2 5.5-8 7.9 2.1zM383.9 1484.4l-7.8-1.5 5.5-7.7 7.8 1.3zM376.1 1482.9l-7.9-1.3 5.6-7.7 7.8 1.3zM368.2 1481.6l-7.8-1.3 5.5-7.5 7.9 1.1zM360.4 1480.3l-7.8-1.3 5.5-7.4 7.8 1.2zM352.6 1479l-7.8-1.4 5.5-7.2 7.8 1.2zM344.8 1477.6l-7.9-1.5 5.6-7.1 7.8 1.4zM336.9 1476.1l-7.8-1.5 5.5-7 7.9 1.4zM329.1 1474.6l-7.8-1.6 5.5-6.9 7.8 1.5zM321.3 1473l-7.8-1.6 5.5-6.8 7.8 1.5zM279.9 1457.3l-7.9-1.4 5.6-6.2 7.8 1.4zM272 1455.9l-7.8-1.5 5.5-6.1 7.9 1.4zM264.2 1454.4l-7.8-1.6 5.5-5.9 7.8 1.4zM256.4 1452.8l-7.8-1.7 5.5-5.8 7.8 1.6zM248.6 1451.1l-7.9-1.8 5.6-5.7 7.8 1.7zM240.7 1449.3l-7.8-1.9 5.5-5.6 7.9 1.8zM232.9 1447.4l-7.8-2.2 5.5-5.4 7.8 2zM225.1 1445.2l-7.8-2.1 5.5-5.4 7.8 2.1zM203.9 1446.4l-7.8-1.6 5.5-5.3 7.8 1.6zM201.6 1439.5l-7.8-1 5.5-5.3 7.8.9zM193.8 1438.5l-7.8-.1 5.5-5.2 7.8 0zM191.5 1433.2l-7.8 1 5.5-5.3 7.8-1.1z"/><path fill="#11aaf1" stroke="#095d84" d="M493.4 1516l-7.8-3 5.5-9.1 7.8 2.7zM485.6 1513l-7.8-2.7 5.5-8.8 7.8 2.4zM477.8 1510.3l-7.9-2.4 5.6-8.6 7.8 2.2zM469.9 1507.9l-7.8-2.2 5.5-8.5 7.9 2.1zM462.1 1505.7l-7.8-2.1 5.5-8.5 7.8 2.1zM394 1496.3l-7.8-2 5.5-8.2 7.8 2zM386.2 1494.3l-7.8-1.9 5.5-8 7.8 1.7zM378.4 1492.4l-7.9-1.6 5.6-7.9 7.8 1.5zM313.5 1471.4l-7.9-1.6 5.6-6.7 7.8 1.5zM305.6 1469.8l-7.8-1.6 5.5-6.5 7.9 1.4zM297.8 1468.2l-7.8-1.6 5.5-6.4 7.8 1.5zM290 1466.6l-7.8-1.5 5.5-6.3 7.8 1.4zM282.2 1465.1l-7.9-1.6 5.6-6.2 7.8 1.5zM274.3 1463.5l-7.8-1.5 5.5-6.1 7.9 1.4zM266.5 1462l-7.8-1.6 5.5-6 7.8 1.5zM258.7 1460.4l-7.8-1.7 5.5-5.9 7.8 1.6zM250.9 1458.7l-7.9-1.8 5.6-5.8 7.8 1.7zM243 1456.9l-7.8-1.9 5.5-5.7 7.9 1.8zM235.2 1455l-7.8-2.1 5.5-5.5 7.8 1.9zM227.4 1452.9l-7.8-2.2 5.5-5.5 7.8 2.2zM219.6 1450.7l-7.8-2.3 5.5-5.3 7.8 2.1zM211.8 1448.4l-7.9-2 5.5-5.3 7.9 2zM196.1 1444.8l-7.8-1 5.5-5.3 7.8 1zM188.3 1443.8l-7.8-.1 5.5-5.3 7.8.1zM186 1438.4l-7.8 1.1 5.5-5.3 7.8-1z"/><path fill="#14c9b3" stroke="#0b6e62" d="M539 1482.3l-7.9-1.2 5.6-10.2 7.8.6zM531.1 1481.1l-7.8-1.1 5.5-9.7 7.9.6zM523.3 1480l-7.8-1.3 5.5-9.1 7.8.7zM515.5 1478.7l-7.8-1.3 5.5-8.7 7.8.9zM452.9 1464.8l-7.8-1.8 5.5-7.6 7.8 1.8zM445.1 1463l-7.8-1.9 5.5-7.4 7.8 1.7zM437.3 1461.1l-7.9-1.7 5.5-7.3 7.9 1.6zM395.8 1445.2l-7.8-1.2 5.5-7 7.8 1.3zM388 1444l-7.8-1.2 5.5-6.9 7.8 1.1zM380.2 1442.8l-7.8-1.1 5.5-7 7.8 1.2zM372.4 1441.7l-7.9-1.1 5.6-6.9 7.8 1zM364.5 1440.6l-7.8-1.1 5.5-6.8 7.9 1zM356.7 1439.5l-7.8-1.1 5.5-6.7 7.8 1zM346.6 1430.8l-7.8-.9 5.5-6.5 7.8.9zM338.8 1429.9l-7.9-1 5.6-6.3 7.8.8zM330.9 1428.9l-7.8-1 5.5-6.2 7.9.9zM323.1 1427.9l-7.8-1.1 5.5-6.2 7.8 1.1zM315.3 1426.8l-7.8-1.2 5.5-6.1 7.8 1.1zM297.3 1417.2l-7.8-1.1 5.5-6 7.9 1zM289.5 1416.1l-7.8-1 5.5-6 7.8 1zM281.7 1415.1l-7.8-1 5.5-6.1 7.8 1.1zM273.9 1414.1l-7.9-1.2 5.6-6.1 7.8 1.2zM266 1412.9l-7.8-1.5 5.5-6 7.9 1.4zM248.1 1402.3l-7.8-1.1 5.5-5.8 7.8 1zM240.3 1401.2l-7.9-.6 5.6-5.6 7.8.4zM232.4 1400.6l-7.8.2 5.5-5.4 7.9-.4zM238 1395l-7.9.4 5.6-5.4 7.8-.6zM235.7 1390l-7.9 1.5 5.5-5.2 7.9-1.7zM241.2 1384.6l-7.9 1.7 5.6-5.2 7.8-1.8z"/><path fill="#15a4f4" stroke="#0b5a86" d="M509.1 1522.5l-7.9-3.3 5.6-9.7 7.8 2.8zM501.2 1519.2l-7.8-3.2 5.5-9.4 7.9 2.9zM441 1510l-7.9-2.3 5.5-8.4 7.9 2.1zM433.1 1507.7l-7.8-2.3 5.5-8.4 7.8 2.3zM425.3 1505.4l-7.8-2.3 5.5-8.3 7.8 2.2zM417.5 1503.1l-7.8-2.3 5.5-8.3 7.8 2.3zM409.7 1500.8l-7.9-2.3 5.6-8.2 7.8 2.2zM401.8 1498.5l-7.8-2.2 5.5-8.2 7.9 2.2zM370.5 1490.8l-7.8-1.5 5.5-7.7 7.9 1.3zM362.7 1489.3l-7.8-1.4 5.5-7.6 7.8 1.3zM354.9 1487.9l-7.8-1.5 5.5-7.4 7.8 1.3zM347.1 1486.4l-7.9-1.5 5.6-7.3 7.8 1.4zM339.2 1484.9l-7.8-1.6 5.5-7.2 7.9 1.5zM331.4 1483.3l-7.8-1.7 5.5-7 7.8 1.5zM323.6 1481.6l-7.8-1.8 5.5-6.8 7.8 1.6zM315.8 1479.8l-7.9-1.7 5.6-6.7 7.8 1.6zM307.9 1478.1l-7.8-1.7 5.5-6.6 7.9 1.6zM300.1 1476.4l-7.8-1.8 5.5-6.4 7.8 1.6zM292.3 1474.6l-7.8-1.7 5.5-6.3 7.8 1.6zM284.5 1472.9l-7.8-1.6 5.5-6.2 7.8 1.5zM276.7 1471.3l-7.9-1.7 5.5-6.1 7.9 1.6zM268.8 1469.6l-7.8-1.6 5.5-6 7.8 1.5zM261 1468l-7.8-1.7 5.5-5.9 7.8 1.6zM253.2 1466.3l-7.8-1.8 5.5-5.8 7.8 1.7zM245.4 1464.5l-7.9-1.9 5.5-5.7 7.9 1.8zM237.5 1462.6l-7.8-2.1 5.5-5.5 7.8 1.9zM229.7 1460.5l-7.8-2.1 5.5-5.5 7.8 2.1zM221.9 1458.4l-7.8-2.3 5.5-5.4 7.8 2.2zM214.1 1456.1l-7.9-2.3 5.6-5.4 7.8 2.3zM206.2 1453.8l-7.8-2.1 5.5-5.3 7.9 2zM198.4 1451.7l-7.8-1.7 5.5-5.2 7.8 1.6zM190.6 1450l-7.8-1 5.5-5.2 7.8 1zM182.8 1449l-7.9-.1 5.6-5.2 7.8.1zM180.5 1443.7l-7.9 1 5.6-5.2 7.8-1.1z"/><path fill="#189ff7" stroke="#0d5787" d="M532.5 1531.6l-7.8-2.8 5.5-10.9 7.9 2.5zM524.7 1528.8l-7.8-3.1 5.5-10.5 7.8 2.7zM516.9 1525.7l-7.8-3.2 5.5-10.2 7.8 2.9zM480.1 1522.1l-7.9-2.9 5.6-8.9 7.8 2.7zM472.2 1519.2l-7.8-2.5 5.5-8.8 7.9 2.4zM464.4 1516.7l-7.8-2.3 5.5-8.7 7.8 2.2zM456.6 1514.4l-7.8-2.2 5.5-8.6 7.8 2.1zM448.8 1512.2l-7.8-2.2 5.5-8.6 7.8 2.2zM380.7 1502.6l-7.9-1.9 5.6-8.3 7.8 1.9zM372.8 1500.7l-7.8-1.8 5.5-8.1 7.9 1.6zM232 1468.2l-7.8-2.1 5.5-5.6 7.8 2.1zM224.2 1466.1l-7.8-2.2 5.5-5.5 7.8 2.1zM216.4 1463.9l-7.9-2.4 5.6-5.4 7.8 2.3zM208.5 1461.5l-7.8-2.3 5.5-5.4 7.9 2.3zM200.7 1459.2l-7.8-2.2 5.5-5.3 7.8 2.1zM192.9 1457l-7.8-1.7 5.5-5.3 7.8 1.7zM185.1 1455.3l-7.9-1.1 5.6-5.2 7.8 1zM177.2 1454.2l-7.8-.1 5.5-5.2 7.9.1zM174.9 1448.9l-7.8 1 5.5-5.2 7.9-1z"/><path fill="#1a9afb" stroke="#0e548a" d="M495.7 1528.9l-7.8-3.5 5.5-9.4 7.8 3.2zM487.9 1525.4l-7.8-3.3 5.5-9.1 7.8 3zM427.6 1516.3l-7.8-2.4 5.5-8.5 7.8 2.3zM419.8 1513.9l-7.8-2.3 5.5-8.5 7.8 2.3zM412 1511.6l-7.9-2.4 5.6-8.4 7.8 2.3zM404.1 1509.2l-7.8-2.3 5.5-8.4 7.9 2.3zM396.3 1506.9l-7.8-2.2 5.5-8.4 7.8 2.2zM388.5 1504.7l-7.8-2.1 5.5-8.3 7.8 2zM365 1498.9l-7.8-1.7 5.5-7.9 7.8 1.5zM357.2 1497.2l-7.8-1.6 5.5-7.7 7.8 1.4zM349.4 1495.6l-7.9-1.7 5.6-7.5 7.8 1.5zM341.5 1493.9l-7.8-1.8 5.5-7.2 7.9 1.5zM333.7 1492.1l-7.8-1.8 5.5-7 7.8 1.6zM325.9 1490.3l-7.8-1.8 5.5-6.9 7.8 1.7zM318.1 1488.5l-7.8-1.8 5.5-6.9 7.8 1.8zM310.3 1486.7l-7.9-1.9 5.5-6.7 7.9 1.7zM302.4 1484.8l-7.8-1.9 5.5-6.5 7.8 1.7zM294.6 1482.9l-7.8-1.8 5.5-6.5 7.8 1.8zM286.8 1481.1l-7.8-1.8 5.5-6.4 7.8 1.7zM279 1479.3l-7.9-1.8 5.6-6.2 7.8 1.6zM271.1 1477.5l-7.8-1.8 5.5-6.1 7.9 1.7zM263.3 1475.7l-7.8-1.8 5.5-5.9 7.8 1.6zM255.5 1473.9l-7.8-1.9 5.5-5.7 7.8 1.7zM247.7 1472l-7.9-1.9 5.6-5.6 7.8 1.8zM239.8 1470.1l-7.8-1.9 5.5-5.6 7.9 1.9zM218.7 1471.6l-7.9-2.3 5.6-5.4 7.8 2.2zM210.8 1469.3l-7.8-2.4 5.5-5.4 7.9 2.4zM203 1466.9l-7.8-2.4 5.5-5.3 7.8 2.3zM195.2 1464.5l-7.8-2.2 5.5-5.3 7.8 2.2zM187.4 1462.3l-7.9-1.8 5.6-5.2 7.8 1.7zM179.5 1460.5l-7.8-1.1 5.5-5.2 7.9 1.1zM171.7 1459.4l-7.8-.2 5.5-5.1 7.8.1zM169.4 1454.1l-7.8.9 5.5-5.1 7.8-1z"/><path fill="#1ccbaa" stroke="#0f6f5d" d="M554.6 1484.9l-7.8-1.3 5.5-11.4 7.8 1zM546.8 1483.6l-7.8-1.3 5.5-10.8 7.8.7zM513.2 1468.7l-7.8-1.2 5.5-8.1 7.8.9zM505.4 1467.5l-7.9-1.4 5.6-8 7.8 1.3zM497.5 1466.1l-7.8-1.7 5.5-7.8 7.9 1.5zM489.7 1464.4l-7.8-1.8 5.5-7.7 7.8 1.7zM481.9 1462.6l-7.8-1.8 5.5-7.7 7.8 1.8zM474.1 1460.8l-7.9-1.8 5.6-7.6 7.8 1.7zM466.2 1459l-7.8-1.8 5.5-7.5 7.9 1.7zM458.4 1457.2l-7.8-1.8 5.5-7.4 7.8 1.7zM450.6 1455.4l-7.8-1.7 5.5-7.2 7.8 1.5zM442.8 1453.7l-7.9-1.6 5.6-7.1 7.8 1.5zM434.9 1452.1l-7.8-1.5 5.5-7 7.9 1.4zM427.1 1450.6l-7.8-1.5 5.5-6.9 7.8 1.4zM419.3 1449.1l-7.8-1.4 5.5-6.8 7.8 1.3zM411.5 1447.7l-7.8-1.3 5.5-6.9 7.8 1.4zM403.7 1446.4l-7.9-1.2 5.5-6.9 7.9 1.2zM377.9 1434.7l-7.8-1 5.5-6.7 7.8 1zM370.1 1433.7l-7.9-1 5.5-6.7 7.9 1zM362.2 1432.7l-7.8-1 5.5-6.6 7.8.9zM354.4 1431.7l-7.8-.9 5.5-6.5 7.8.8zM336.5 1422.6l-7.9-.9 5.5-6.1 7.9.8zM328.6 1421.7l-7.8-1.1 5.5-6.1 7.8 1.1zM320.8 1420.6l-7.8-1.1 5.5-6.1 7.8 1.1zM313 1419.5l-7.8-1.2 5.5-6.1 7.8 1.2zM305.2 1418.3l-7.9-1.1 5.6-6.1 7.8 1.1zM302.9 1411.1l-7.9-1 5.5-6 7.9 1.1zM295 1410.1l-7.8-1 5.5-6.1 7.8 1.1zM287.2 1409.1l-7.8-1.1 5.5-6.1 7.8 1.1zM279.4 1408l-7.8-1.2 5.5-6.2 7.8 1.3zM271.6 1406.8l-7.9-1.4 5.6-6.2 7.8 1.4zM263.7 1405.4l-7.8-1.6 5.5-6 7.9 1.4zM269.3 1399.2l-7.9-1.4 5.5-6.2 7.9 1.4zM255.9 1403.8l-7.8-1.5 5.5-5.9 7.8 1.4zM261.4 1397.8l-7.8-1.4 5.5-6 7.8 1.2zM253.6 1396.4l-7.8-1 5.5-5.8 7.8.8zM245.8 1395.4l-7.8-.4 5.5-5.6 7.8.2zM251.3 1389.6l-7.8-.2 5.5-5.6 7.8 0zM243.5 1389.4l-7.8.6 5.5-5.4 7.8-.8zM249 1383.8l-7.8.8 5.5-5.3 7.8-1zM246.7 1379.3l-7.8 1.8 5.5-5.2 7.8-1.9zM252.2 1374l-7.8 1.9 5.5-5.1 7.8-2z"/><path fill="#1f94ff" stroke="#11518c" d="M511.4 1536l-7.9-3.5 5.6-10 7.8 3.2zM503.5 1532.5l-7.8-3.6 5.5-9.7 7.9 3.3zM466.7 1528.2l-7.8-2.6 5.5-8.9 7.8 2.5zM458.9 1525.6l-7.8-2.4 5.5-8.8 7.8 2.3zM451.1 1523.2l-7.8-2.3 5.5-8.7 7.8 2.2zM443.3 1520.9l-7.9-2.3 5.6-8.6 7.8 2.2zM435.4 1518.6l-7.8-2.3 5.5-8.6 7.9 2.3zM336 1501.4l-7.8-2 5.5-7.3 7.8 1.8zM328.2 1499.4l-7.8-2 5.5-7.1 7.8 1.8zM320.4 1497.4l-7.8-2 5.5-6.9 7.8 1.8zM312.6 1495.4l-7.9-2 5.6-6.7 7.8 1.8zM304.7 1493.4l-7.8-2 5.5-6.6 7.9 1.9zM296.9 1491.4l-7.8-1.9 5.5-6.6 7.8 1.9zM289.1 1489.5l-7.8-2 5.5-6.4 7.8 1.8zM281.3 1487.5l-7.9-1.9 5.6-6.3 7.8 1.8zM273.4 1485.6l-7.8-2 5.5-6.1 7.9 1.8zM265.6 1483.6l-7.8-1.9 5.5-6 7.8 1.8zM257.8 1481.7l-7.8-2 5.5-5.8 7.8 1.8zM250 1479.7l-7.9-1.9 5.6-5.8 7.8 1.9zM242.1 1477.8l-7.8-2 5.5-5.7 7.9 1.9zM234.3 1475.8l-7.8-2.1 5.5-5.5 7.8 1.9zM226.5 1473.7l-7.8-2.1 5.5-5.5 7.8 2.1zM205.3 1474.8l-7.8-2.5 5.5-5.4 7.8 2.4zM197.5 1472.3l-7.8-2.4 5.5-5.4 7.8 2.4zM189.7 1469.9l-7.8-2.3 5.5-5.3 7.8 2.2zM181.9 1467.6l-7.9-1.8 5.5-5.3 7.9 1.8zM174 1465.8l-7.8-1.2 5.5-5.2 7.8 1.1zM166.2 1464.6l-7.8-.3 5.5-5.1 7.8.2zM163.9 1459.2l-7.8 1 5.5-5.2 7.8-.9z"/><path fill="#218fff" stroke="#124e8c" d="M527 1542.3l-7.8-2.9 5.5-10.6 7.8 2.8zM519.2 1539.4l-7.8-3.4 5.5-10.3 7.8 3.1zM482.4 1534.7l-7.8-3.4 5.5-9.2 7.8 3.3zM474.6 1531.3l-7.9-3.1 5.5-9 7.9 2.9zM414.3 1522.5l-7.9-2.4 5.6-8.5 7.8 2.3zM406.4 1520.1l-7.8-2.3 5.5-8.6 7.9 2.4zM398.6 1517.8l-7.8-2.3 5.5-8.6 7.8 2.3zM390.8 1515.5l-7.8-2.2 5.5-8.6 7.8 2.2zM383 1513.3l-7.9-2.2 5.6-8.5 7.8 2.1zM375.1 1511.1l-7.8-2 5.5-8.4 7.9 1.9zM367.3 1509.1l-7.8-2 5.5-8.2 7.8 1.8zM359.5 1507.1l-7.8-1.9 5.5-8 7.8 1.7zM351.7 1505.2l-7.8-1.9 5.5-7.7 7.8 1.6zM343.9 1503.3l-7.9-1.9 5.5-7.5 7.9 1.7zM267.9 1491.8l-7.8-2.1 5.5-6.1 7.8 2zM260.1 1489.7l-7.8-2.1 5.5-5.9 7.8 1.9zM252.3 1487.6l-7.9-2 5.6-5.9 7.8 2zM244.4 1485.6l-7.8-2.1 5.5-5.7 7.9 1.9zM236.6 1483.5l-7.8-2.1 5.5-5.6 7.8 2zM228.8 1481.4l-7.8-2.2 5.5-5.5 7.8 2.1zM221 1479.2l-7.9-2.2 5.6-5.4 7.8 2.1zM213.1 1477l-7.8-2.2 5.5-5.5 7.9 2.3zM192 1477.7l-7.8-2.5 5.5-5.3 7.8 2.4zM184.2 1475.2l-7.9-2.3 5.6-5.3 7.8 2.3zM176.3 1472.9l-7.8-1.9 5.5-5.2 7.9 1.8zM168.5 1471l-7.8-1.2 5.5-5.2 7.8 1.2zM160.7 1469.8l-7.8-.3 5.5-5.2 7.8.3zM158.4 1464.3l-7.8 1 5.5-5.1 7.8-1z"/><path fill="#2289ff" stroke="#124b8c" d="M490.2 1538.5l-7.8-3.8 5.5-9.3 7.8 3.5zM445.6 1532l-7.9-2.4 5.6-8.7 7.8 2.3zM437.7 1529.6l-7.8-2.3 5.5-8.7 7.9 2.3zM429.9 1527.3l-7.8-2.4 5.5-8.6 7.8 2.3zM422.1 1524.9l-7.8-2.4 5.5-8.6 7.8 2.4zM338.3 1511.1l-7.8-2.2 5.5-7.5 7.9 1.9zM330.5 1508.9l-7.8-2.2 5.5-7.3 7.8 2zM322.7 1506.7l-7.8-2.2 5.5-7.1 7.8 2zM314.9 1504.5l-7.9-2.2 5.6-6.9 7.8 2zM307 1502.3l-7.8-2.1 5.5-6.8 7.9 2zM299.2 1500.2l-7.8-2.1 5.5-6.7 7.8 2zM291.4 1498.1l-7.8-2.1 5.5-6.5 7.8 1.9zM283.6 1496l-7.9-2.1 5.6-6.4 7.8 2zM275.7 1493.9l-7.8-2.1 5.5-6.2 7.9 1.9zM238.9 1491.3l-7.8-2.2 5.5-5.6 7.8 2.1zM231.1 1489.1l-7.8-2.2 5.5-5.5 7.8 2.1zM223.3 1486.9l-7.8-2.2 5.5-5.5 7.8 2.2zM215.5 1484.7l-7.9-2.2 5.5-5.5 7.9 2.2zM207.6 1482.5l-7.8-2.3 5.5-5.4 7.8 2.2zM199.8 1480.2l-7.8-2.5 5.5-5.4 7.8 2.5zM178.6 1480.5l-7.8-2.3 5.5-5.3 7.9 2.3zM170.8 1478.2l-7.8-2 5.5-5.2 7.8 1.9zM163 1476.2l-7.8-1.3 5.5-5.1 7.8 1.2zM152.9 1469.5l-7.9.9 5.6-5.1 7.8-1z"/><path fill="#22cda1" stroke="#127058" d="M536.7 1470.9l-7.9-.6 5.6-9.4 7.8.1zM528.8 1470.3l-7.8-.7 5.5-8.8 7.9.1zM521 1469.6l-7.8-.9 5.5-8.4 7.8.5zM424.8 1442.2l-7.8-1.3 5.5-6.9 7.8 1.2zM417 1440.9l-7.8-1.4 5.5-6.8 7.8 1.3zM409.2 1439.5l-7.9-1.2 5.6-6.9 7.8 1.3zM401.3 1438.3l-7.8-1.3 5.5-6.8 7.9 1.2zM393.5 1437l-7.8-1.1 5.5-6.8 7.8 1.1zM385.7 1435.9l-7.8-1.2 5.5-6.7 7.8 1.1zM367.7 1426l-7.8-.9 5.5-6.4 7.9.9zM359.9 1425.1l-7.8-.8 5.5-6.3 7.8.7zM352.1 1424.3l-7.8-.9 5.5-6.2 7.8.8zM344.3 1423.4l-7.8-.8 5.5-6.2 7.8.8zM342 1416.4l-7.9-.8 5.6-6 7.8.9zM334.1 1415.6l-7.8-1.1 5.5-5.8 7.9.9zM326.3 1414.5l-7.8-1.1 5.5-5.8 7.8 1.1zM318.5 1413.4l-7.8-1.2 5.5-5.8 7.8 1.2zM324 1407.6l-7.8-1.2 5.5-5.6 7.8 1.1zM310.7 1412.2l-7.8-1.1 5.5-5.9 7.8 1.2zM316.2 1406.4l-7.8-1.2 5.5-5.7 7.8 1.3zM308.4 1405.2l-7.9-1.1 5.6-5.8 7.8 1.2zM300.5 1404.1l-7.8-1.1 5.5-6 7.9 1.3zM292.7 1403l-7.8-1.1 5.5-6.2 7.8 1.3zM298.2 1397l-7.8-1.3 5.5-6.1 7.9 1.5zM284.9 1401.9l-7.8-1.3 5.5-6.2 7.8 1.3zM290.4 1395.7l-7.8-1.3 5.5-6.3 7.8 1.5zM277.1 1400.6l-7.8-1.4 5.5-6.2 7.8 1.4zM282.6 1394.4l-7.8-1.4 5.5-6.4 7.8 1.5zM274.8 1393l-7.9-1.4 5.6-6.3 7.8 1.3zM266.9 1391.6l-7.8-1.2 5.5-6.1 7.9 1zM259.1 1390.4l-7.8-.8 5.5-5.8 7.8.5zM264.6 1384.3l-7.8-.5 5.5-5.8 7.9.4zM256.8 1383.8l-7.8 0 5.5-5.5 7.8-.3zM262.3 1378l-7.8.3 5.5-5.5 7.9-.4zM254.5 1378.3l-7.8 1 5.5-5.3 7.8-1.2zM260 1372.8l-7.8 1.2 5.5-5.2 7.9-1.3zM257.7 1368.8l-7.8 2 5.5-5.1 7.8-2.1zM263.2 1363.6l-7.8 2.1 5.5-5 7.9-2.1z"/><path fill="#2483ff" stroke="#13488c" d="M505.8 1546.1l-7.8-3.8 5.5-9.8 7.9 3.5zM498 1542.3l-7.8-3.8 5.5-9.6 7.8 3.6zM469 1540.5l-7.8-3.2 5.5-9.1 7.9 3.1zM461.2 1537.3l-7.8-2.8 5.5-8.9 7.8 2.6zM453.4 1534.5l-7.8-2.5 5.5-8.8 7.8 2.4zM393.1 1526.4l-7.8-2.3 5.5-8.6 7.8 2.3zM385.3 1524.1l-7.8-2.2 5.5-8.6 7.8 2.2zM377.5 1521.9l-7.9-2.1 5.5-8.7 7.9 2.2zM369.6 1519.8l-7.8-2.2 5.5-8.5 7.8 2zM361.8 1517.6l-7.8-2.2 5.5-8.3 7.8 2zM354 1515.4l-7.8-2.1 5.5-8.1 7.8 1.9zM346.2 1513.3l-7.9-2.2 5.6-7.8 7.8 1.9zM285.9 1504.7l-7.9-2.2 5.6-6.5 7.8 2.1zM278 1502.5l-7.8-2.2 5.5-6.4 7.9 2.1zM270.2 1500.3l-7.8-2.2 5.5-6.3 7.8 2.1zM262.4 1498.1l-7.8-2.3 5.5-6.1 7.8 2.1zM254.6 1495.8l-7.9-2.2 5.6-6 7.8 2.1zM246.7 1493.6l-7.8-2.3 5.5-5.7 7.9 2zM217.8 1492.5l-7.9-2.3 5.6-5.5 7.8 2.2zM209.9 1490.2l-7.8-2.2 5.5-5.5 7.9 2.2zM202.1 1488l-7.8-2.4 5.5-5.4 7.8 2.3zM194.3 1485.6l-7.8-2.5 5.5-5.4 7.8 2.5zM186.5 1483.1l-7.9-2.6 5.6-5.3 7.8 2.5zM173.1 1485.9l-7.8-2.5 5.5-5.2 7.8 2.3zM165.3 1483.4l-7.8-2 5.5-5.2 7.8 2zM157.5 1481.4l-7.9-1.3 5.6-5.2 7.8 1.3zM155.2 1474.9l-7.9-.3 5.6-5.1 7.8.3zM147.3 1474.6l-7.8.8 5.5-5 7.9-.9z"/><path fill="#287dff" stroke="#16448c" d="M521.5 1552.8l-7.8-3.1 5.5-10.3 7.8 2.9zM513.7 1549.7l-7.9-3.6 5.6-10.1 7.8 3.4zM476.9 1544.1l-7.9-3.6 5.6-9.2 7.8 3.4zM432.2 1538.4l-7.8-2.4 5.5-8.7 7.8 2.3zM424.4 1536l-7.8-2.5 5.5-8.6 7.8 2.4zM416.6 1533.5l-7.9-2.4 5.6-8.6 7.8 2.4zM408.7 1531.1l-7.8-2.4 5.5-8.6 7.9 2.4zM400.9 1528.7l-7.8-2.3 5.5-8.6 7.8 2.3zM332.8 1518.9l-7.8-2.5 5.5-7.5 7.8 2.2zM325 1516.4l-7.8-2.4 5.5-7.3 7.8 2.2zM317.2 1514l-7.9-2.4 5.6-7.1 7.8 2.2zM309.3 1511.6l-7.8-2.4 5.5-6.9 7.9 2.2zM301.5 1509.2l-7.8-2.2 5.5-6.8 7.8 2.1zM293.7 1507l-7.8-2.3 5.5-6.6 7.8 2.1zM256.9 1504.3l-7.8-2.4 5.5-6.1 7.8 2.3zM249.1 1501.9l-7.9-2.4 5.5-5.9 7.9 2.2zM241.2 1499.5l-7.8-2.4 5.5-5.8 7.8 2.3zM233.4 1497.1l-7.8-2.3 5.5-5.7 7.8 2.2zM225.6 1494.8l-7.8-2.3 5.5-5.6 7.8 2.2zM196.6 1493.4l-7.8-2.4 5.5-5.4 7.8 2.4zM188.8 1491l-7.9-2.5 5.6-5.4 7.8 2.5zM180.9 1488.5l-7.8-2.6 5.5-5.4 7.9 2.6zM149.6 1480.1l-7.8-.4 5.5-5.1 7.9.3zM141.8 1479.7l-7.8.8 5.5-5.1 7.8-.8z"/><path fill="#29cf97" stroke="#167153" d="M552.3 1472.2l-7.8-.7 5.5-10.5 7.8.3zM544.5 1471.5l-7.8-.6 5.5-9.9 7.8 0zM518.7 1460.3l-7.8-.9 5.5-8 7.8.7zM510.9 1459.4l-7.8-1.3 5.5-7.8 7.8 1.1zM503.1 1458.1l-7.9-1.5 5.6-7.7 7.8 1.4zM495.2 1456.6l-7.8-1.7 5.5-7.6 7.9 1.6zM487.4 1454.9l-7.8-1.8 5.5-7.4 7.8 1.6zM479.6 1453.1l-7.8-1.7 5.5-7.4 7.8 1.7zM471.8 1451.4l-7.9-1.7 5.6-7.3 7.8 1.6zM463.9 1449.7l-7.8-1.7 5.5-7.2 7.9 1.6zM456.1 1448l-7.8-1.5 5.5-7.2 7.8 1.5zM448.3 1446.5l-7.8-1.5 5.5-7.1 7.8 1.4zM440.5 1445l-7.9-1.4 5.6-7 7.8 1.3zM432.6 1443.6l-7.8-1.4 5.5-7 7.9 1.4zM406.9 1431.4l-7.9-1.2 5.6-6.7 7.8 1.1zM399 1430.2l-7.8-1.1 5.5-6.7 7.9 1.1zM391.2 1429.1l-7.8-1.1 5.5-6.6 7.8 1zM383.4 1428l-7.8-1 5.5-6.5 7.8.9zM375.6 1427l-7.9-1 5.6-6.4 7.8.9zM365.4 1418.7l-7.8-.7 5.5-6.1 7.9.7zM357.6 1418l-7.8-.8 5.5-6 7.8.7zM349.8 1417.2l-7.8-.8 5.5-5.9 7.8.7zM355.3 1411.2l-7.8-.7 5.5-5.8 7.8.7zM347.5 1410.5l-7.8-.9 5.5-5.7 7.8.8zM339.7 1409.6l-7.9-.9 5.6-5.7 7.8.9zM345.2 1403.9l-7.8-.9 5.5-5.5 7.8.9zM331.8 1408.7l-7.8-1.1 5.5-5.7 7.9 1.1zM337.4 1403l-7.9-1.1 5.6-5.5 7.8 1.1zM329.5 1401.9l-7.8-1.1 5.5-5.6 7.9 1.2zM335.1 1396.4l-7.9-1.2 5.6-5.4 7.8 1.2zM321.7 1400.8l-7.8-1.3 5.5-5.5 7.8 1.2zM327.2 1395.2l-7.8-1.2 5.5-5.5 7.9 1.3zM313.9 1399.5l-7.8-1.2 5.5-5.7 7.8 1.4zM319.4 1394l-7.8-1.4 5.5-5.7 7.8 1.6zM306.1 1398.3l-7.9-1.3 5.6-5.9 7.8 1.5zM311.6 1392.6l-7.8-1.5 5.5-5.9 7.8 1.7zM303.8 1391.1l-7.9-1.5 5.6-6.1 7.8 1.7zM295.9 1389.6l-7.8-1.5 5.5-6.2 7.9 1.6zM288.1 1388.1l-7.8-1.5 5.5-6.2 7.8 1.5zM280.3 1386.6l-7.8-1.3 5.5-6.1 7.8 1.2zM272.5 1385.3l-7.9-1 5.6-5.9 7.8.8zM278 1379.2l-7.8-.8 5.5-5.9 7.8.6zM270.2 1378.4l-7.9-.4 5.6-5.6 7.8.1zM267.9 1372.4l-7.9.4 5.6-5.3 7.8-.7zM273.4 1366.8l-7.8.7 5.5-5.3 7.8-.7zM265.6 1367.5l-7.9 1.3 5.5-5.2 7.9-1.4zM271.1 1362.2l-7.9 1.4 5.6-5 7.8-1.4zM268.8 1358.6l-7.9 2.1 5.6-5 7.8-2.1z"/><path fill="#2f76ff" stroke="#19408c" d="M492.5 1552.1l-7.8-4 5.5-9.6 7.8 3.8zM484.7 1548.1l-7.8-4 5.5-9.4 7.8 3.8zM455.7 1546.4l-7.8-2.9 5.5-9 7.8 2.8zM447.9 1543.5l-7.9-2.6 5.6-8.9 7.8 2.5zM440 1540.9l-7.8-2.5 5.5-8.8 7.9 2.4zM371.9 1530.6l-7.8-2.2 5.5-8.6 7.9 2.1zM364.1 1528.4l-7.8-2.2 5.5-8.6 7.8 2.2zM356.3 1526.2l-7.8-2.4 5.5-8.4 7.8 2.2zM348.5 1523.8l-7.9-2.5 5.6-8 7.8 2.1zM340.6 1521.3l-7.8-2.4 5.5-7.8 7.9 2.2zM296 1516.1l-7.8-2.4 5.5-6.7 7.8 2.2zM288.2 1513.7l-7.9-2.4 5.6-6.6 7.8 2.3zM280.3 1511.3l-7.8-2.3 5.5-6.5 7.9 2.2zM272.5 1509l-7.8-2.3 5.5-6.4 7.8 2.2zM264.7 1506.7l-7.8-2.4 5.5-6.2 7.8 2.2zM235.7 1505.5l-7.8-2.6 5.5-5.8 7.8 2.4zM227.9 1502.9l-7.8-2.5 5.5-5.6 7.8 2.3zM220.1 1500.4l-7.9-2.3 5.6-5.6 7.8 2.3zM212.2 1498.1l-7.8-2.4 5.5-5.5 7.9 2.3zM204.4 1495.7l-7.8-2.3 5.5-5.4 7.8 2.2z"/><path fill="#31d18c" stroke="#1a724d" d="M560.1 1473.2l-7.8-1 5.5-10.9 7.8.6zM534.4 1460.9l-7.9-.1 5.5-8.6 7.9-.3zM526.5 1460.8l-7.8-.5 5.5-8.2 7.8.1zM469.5 1442.4l-7.9-1.6 5.6-7.1 7.8 1.5zM461.6 1440.8l-7.8-1.5 5.5-7.1 7.9 1.5zM453.8 1439.3l-7.8-1.4 5.5-7.1 7.8 1.4zM446 1437.9l-7.8-1.3 5.5-7.1 7.8 1.3zM438.2 1436.6l-7.9-1.4 5.6-7 7.8 1.3zM430.3 1435.2l-7.8-1.2 5.5-7 7.9 1.2zM422.5 1434l-7.8-1.3 5.5-6.9 7.8 1.2zM414.7 1432.7l-7.8-1.3 5.5-6.8 7.8 1.2zM396.7 1422.4l-7.8-1 5.5-6.3 7.9.9zM388.9 1421.4l-7.8-.9 5.5-6.3 7.8.9zM381.1 1420.5l-7.8-.9 5.5-6.2 7.8.8zM373.3 1419.6l-7.9-.9 5.6-6.1 7.8.8zM378.8 1413.4l-7.8-.8 5.5-5.9 7.8.8zM371 1412.6l-7.9-.7 5.6-5.8 7.8.6zM363.1 1411.9l-7.8-.7 5.5-5.8 7.9.7zM368.7 1406.1l-7.9-.7 5.6-5.6 7.8.6zM360.8 1405.4l-7.8-.7 5.5-5.6 7.9.7zM366.4 1399.8l-7.9-.7 5.5-5.5 7.9.7zM353 1404.7l-7.8-.8 5.5-5.5 7.8.7zM358.5 1399.1l-7.8-.7 5.5-5.5 7.8.7zM350.7 1398.4l-7.8-.9 5.5-5.5 7.8.9zM356.2 1392.9l-7.8-.9 5.5-5.3 7.8.8zM342.9 1397.5l-7.8-1.1 5.5-5.4 7.8 1zM348.4 1392l-7.8-1 5.5-5.3 7.8 1zM340.6 1391l-7.8-1.2 5.5-5.3 7.8 1.2zM346.1 1385.7l-7.8-1.2 5.5-5.3 7.8 1.1zM332.8 1389.8l-7.9-1.3 5.5-5.4 7.9 1.4zM338.3 1384.5l-7.9-1.4 5.6-5.4 7.8 1.5zM324.9 1388.5l-7.8-1.6 5.5-5.5 7.8 1.7zM330.4 1383.1l-7.8-1.7 5.5-5.5 7.9 1.8zM317.1 1386.9l-7.8-1.7 5.5-5.7 7.8 1.9zM322.6 1381.4l-7.8-1.9 5.5-5.6 7.8 2zM309.3 1385.2l-7.8-1.7 5.5-5.9 7.8 1.9zM314.8 1379.5l-7.8-1.9 5.5-5.7 7.8 2zM301.5 1383.5l-7.9-1.6 5.6-6.1 7.8 1.8zM307 1377.6l-7.8-1.8 5.5-5.8 7.8 1.9zM293.6 1381.9l-7.8-1.5 5.5-6.1 7.9 1.5zM299.2 1375.8l-7.9-1.5 5.5-5.9 7.9 1.6zM285.8 1380.4l-7.8-1.2 5.5-6.1 7.8 1.2zM291.3 1374.3l-7.8-1.2 5.5-5.8 7.8 1.1zM283.5 1373.1l-7.8-.6 5.5-5.7 7.8.5zM275.7 1372.5l-7.8-.1 5.5-5.6 7.8 0zM281.2 1366.8l-7.8 0 5.5-5.3 7.8-.1zM278.9 1361.5l-7.8.7 5.5-5 7.8-.8zM276.6 1357.2l-7.8 1.4 5.5-5 7.8-1.3zM274.3 1353.6l-7.8 2.1 5.5-4.9 7.8-2z"/><path fill="#376fff" stroke="#1e3d8c" d="M500.3 1556.1l-7.8-4 5.5-9.8 7.8 3.8zM471.3 1553.5l-7.8-3.8 5.5-9.2 7.9 3.6zM463.5 1549.7l-7.8-3.3 5.5-9.1 7.8 3.2zM411.1 1542.2l-7.9-2.5 5.5-8.6 7.9 2.4zM403.2 1539.7l-7.8-2.4 5.5-8.6 7.8 2.4zM395.4 1537.3l-7.8-2.3 5.5-8.6 7.8 2.3zM387.6 1535l-7.8-2.2 5.5-8.7 7.8 2.3zM379.8 1532.8l-7.9-2.2 5.6-8.7 7.8 2.2zM327.3 1526.7l-7.8-2.8 5.5-7.5 7.8 2.5zM319.5 1523.9l-7.9-2.7 5.6-7.2 7.8 2.4zM311.6 1521.2l-7.8-2.5 5.5-7.1 7.9 2.4zM303.8 1518.7l-7.8-2.6 5.5-6.9 7.8 2.4zM267 1515.5l-7.8-2.4 5.5-6.4 7.8 2.3zM259.2 1513.1l-7.8-2.5 5.5-6.3 7.8 2.4zM251.4 1510.6l-7.9-2.5 5.6-6.2 7.8 2.4zM243.5 1508.1l-7.8-2.6 5.5-6 7.9 2.4z"/><path fill="#3c68ff" stroke="#21398c" d="M516 1563l-7.8-3.2 5.5-10.1 7.8 3.1zM508.2 1559.8l-7.9-3.7 5.5-10 7.9 3.6zM479.2 1557.6l-7.9-4.1 5.6-9.4 7.8 4zM434.5 1549.8l-7.8-2.5 5.5-8.9 7.8 2.5zM426.7 1547.3l-7.8-2.6 5.5-8.7 7.8 2.4zM418.9 1544.7l-7.8-2.5 5.5-8.7 7.8 2.5zM350.8 1534.8l-7.9-2.6 5.6-8.4 7.8 2.4zM342.9 1532.2l-7.8-2.8 5.5-8.1 7.9 2.5zM335.1 1529.4l-7.8-2.7 5.5-7.8 7.8 2.4zM298.3 1525.7l-7.8-2.7 5.5-6.9 7.8 2.6zM290.5 1523l-7.8-2.5 5.5-6.8 7.8 2.4zM282.7 1520.5l-7.9-2.5 5.5-6.7 7.9 2.4zM274.8 1518l-7.8-2.5 5.5-6.5 7.8 2.3z"/><path fill="#3e23b9" stroke="#221365" d="M493.9 1596.6l-7.8-1.7 5.5-5.3 7.8 3.5zM486.1 1594.9l-7.8-1.8 5.5-7.6 7.8 4.1z"/><path fill="#3ed281" stroke="#227346" d="M550 1461l-7.8 0 5.5-9.5 7.8-.3zM542.2 1461l-7.8-.1 5.5-9 7.8-.4zM524.2 1452.1l-7.8-.7 5.5-7.8 7.8.4zM516.4 1451.4l-7.8-1.1 5.5-7.6 7.8.9zM508.6 1450.3l-7.8-1.4 5.5-7.5 7.8 1.3zM500.8 1448.9l-7.9-1.6 5.5-7.3 7.9 1.4zM492.9 1447.3l-7.8-1.6 5.5-7.3 7.8 1.6zM485.1 1445.7l-7.8-1.7 5.5-7.2 7.8 1.6zM477.3 1444l-7.8-1.6 5.5-7.2 7.8 1.6zM435.9 1428.2l-7.9-1.2 5.6-7.2 7.8 1.2zM428 1427l-7.8-1.2 5.5-7 7.9 1zM420.2 1425.8l-7.8-1.2 5.5-6.8 7.8 1zM412.4 1424.6l-7.8-1.1 5.5-6.6 7.8.9zM404.6 1423.5l-7.9-1.1 5.6-6.4 7.8.9zM410.1 1416.9l-7.8-.9 5.5-6.2 7.8.6zM402.3 1416l-7.9-.9 5.6-6 7.8.7zM394.4 1415.1l-7.8-.9 5.5-5.9 7.9.8zM400 1409.1l-7.9-.8 5.5-5.7 7.9.6zM386.6 1414.2l-7.8-.8 5.5-5.9 7.8.8zM392.1 1408.3l-7.8-.8 5.5-5.7 7.8.8zM384.3 1407.5l-7.8-.8 5.5-5.6 7.8.7zM389.8 1401.8l-7.8-.7 5.5-5.5 7.8.7zM376.5 1406.7l-7.8-.6 5.5-5.7 7.8.7zM382 1401.1l-7.8-.7 5.5-5.5 7.8.7zM374.2 1400.4l-7.8-.6 5.5-5.5 7.8.6zM379.7 1394.9l-7.8-.6 5.5-5.4 7.8.6zM371.9 1394.3l-7.9-.7 5.6-5.4 7.8.7zM377.4 1388.9l-7.8-.7 5.5-5.4 7.8.7zM364 1393.6l-7.8-.7 5.5-5.4 7.9.7zM369.6 1388.2l-7.9-.7 5.6-5.4 7.8.7zM361.7 1387.5l-7.8-.8 5.5-5.4 7.9.8zM367.3 1382.1l-7.9-.8 5.6-5.4 7.8.8zM353.9 1386.7l-7.8-1 5.5-5.4 7.8 1zM359.4 1381.3l-7.8-1 5.5-5.4 7.9 1zM351.6 1380.3l-7.8-1.1 5.5-5.4 7.8 1.1zM343.8 1379.2l-7.8-1.5 5.5-5.4 7.8 1.5zM349.3 1373.8l-7.8-1.5 5.5-5.3 7.8 1.4zM336 1377.7l-7.9-1.8 5.6-5.4 7.8 1.8zM341.5 1372.3l-7.8-1.8 5.5-5.3 7.8 1.8zM328.1 1375.9l-7.8-2 5.5-5.4 7.9 2zM333.7 1370.5l-7.9-2 5.6-5.3 7.8 2zM320.3 1373.9l-7.8-2 5.5-5.5 7.8 2.1zM312.5 1371.9l-7.8-1.9 5.5-5.6 7.8 2zM304.7 1370l-7.9-1.6 5.6-5.5 7.8 1.5zM296.8 1368.4l-7.8-1.1 5.5-5.4 7.9 1zM289 1367.3l-7.8-.5 5.5-5.4 7.8.5zM294.5 1361.9l-7.8-.5 5.5-5.1 7.9.4zM286.7 1361.4l-7.8.1 5.5-5.1 7.8-.1zM284.4 1356.4l-7.8.8 5.5-4.9 7.8-.7zM282.1 1352.3l-7.8 1.3 5.5-4.8 7.8-1.2zM279.8 1348.8l-7.8 2 5.5-4.9 7.8-1.8z"/><path fill="#3f62ff" stroke="#22358c" d="M487 1561.8l-7.8-4.2 5.5-9.5 7.8 4zM458 1559l-7.8-3.5 5.5-9.1 7.8 3.3zM450.2 1555.5l-7.9-3 5.6-9 7.8 2.9zM442.3 1552.5l-7.8-2.7 5.5-8.9 7.9 2.6zM389.9 1545.9l-7.8-2.2 5.5-8.7 7.8 2.3zM382.1 1543.7l-7.9-2.2 5.6-8.7 7.8 2.2zM374.2 1541.5l-7.8-2.1 5.5-8.8 7.9 2.2zM366.4 1539.4l-7.8-2.3 5.5-8.7 7.8 2.2zM358.6 1537.1l-7.8-2.3 5.5-8.6 7.8 2.2zM314 1531.4l-7.9-2.9 5.5-7.3 7.9 2.7zM306.1 1528.5l-7.8-2.8 5.5-7 7.8 2.5z"/><path fill="#4027c6" stroke="#23156c" d="M478.3 1593.1l-7.9-2.3 5.5-9.7 7.9 4.4z"/><path fill="#415cff" stroke="#23328c" d="M494.8 1565.9l-7.8-4.1 5.5-9.7 7.8 4zM465.8 1562.9l-7.8-3.9 5.5-9.3 7.8 3.8zM421.2 1556.1l-7.8-2.6 5.5-8.8 7.8 2.6zM413.4 1553.5l-7.9-2.6 5.6-8.7 7.8 2.5zM405.5 1550.9l-7.8-2.5 5.5-8.7 7.9 2.5zM397.7 1548.4l-7.8-2.5 5.5-8.6 7.8 2.4zM337.4 1540.5l-7.8-3 5.5-8.1 7.8 2.8zM329.6 1537.5l-7.8-3 5.5-7.8 7.8 2.7zM321.8 1534.5l-7.8-3.1 5.5-7.5 7.8 2.8z"/><path fill="#432fde" stroke="#24197a" d="M499.4 1593.1l-7.8-3.5 5.5-9.9 7.8 3.4zM470.4 1590.8l-7.8-4.6 5.5-9.5 7.8 4.4z"/><path fill="#4356ff" stroke="#242f8c" d="M510.5 1573.1l-7.9-3.3 5.6-10 7.8 3.2zM502.6 1569.8l-7.8-3.9 5.5-9.8 7.9 3.7zM473.6 1567.1l-7.8-4.2 5.5-9.4 7.9 4.1zM436.8 1561.6l-7.8-2.8 5.5-9 7.8 2.7zM429 1558.8l-7.8-2.7 5.5-8.8 7.8 2.5zM360.9 1548l-7.8-2.2 5.5-8.7 7.8 2.3zM353.1 1545.8l-7.9-2.5 5.6-8.5 7.8 2.3zM345.2 1543.3l-7.8-2.8 5.5-8.3 7.9 2.6z"/><path fill="#4433ea" stroke="#251c80" d="M491.6 1589.6l-7.8-4.1 5.5-9.8 7.8 4zM462.6 1586.2l-7.8-4.5 5.5-9.4 7.8 4.4z"/><path fill="#4438f3" stroke="#251e85" d="M483.8 1585.5l-7.9-4.4 5.6-9.6 7.8 4.2zM454.8 1581.7l-7.8-4.2 5.5-9.2 7.8 4z"/><path fill="#444aff" stroke="#25288c" d="M489.3 1575.7l-7.8-4.2 5.5-9.7 7.8 4.1zM460.3 1572.3l-7.8-4 5.5-9.3 7.8 3.9zM423.5 1567.7l-7.8-2.8 5.5-8.8 7.8 2.7zM415.7 1564.9l-7.9-2.7 5.6-8.7 7.8 2.6zM407.8 1562.2l-7.8-2.6 5.5-8.7 7.9 2.6z"/><path fill="#4450ff" stroke="#252c8c" d="M481.5 1571.5l-7.9-4.4 5.6-9.5 7.8 4.2zM452.5 1568.3l-7.8-3.6 5.5-9.2 7.8 3.5zM444.7 1564.7l-7.9-3.1 5.5-9.1 7.9 3zM400 1559.6l-7.8-2.6 5.5-8.6 7.8 2.5zM392.2 1557l-7.8-2.4 5.5-8.7 7.8 2.5zM384.4 1554.6l-7.9-2.3 5.6-8.6 7.8 2.2zM376.5 1552.3l-7.8-2.1 5.5-8.7 7.9 2.2zM368.7 1550.2l-7.8-2.2 5.5-8.6 7.8 2.1z"/><path fill="#453efb" stroke="#25228a" d="M504.9 1583.1l-7.8-3.4 5.5-9.9 7.9 3.3zM475.9 1581.1l-7.8-4.4 5.5-9.6 7.9 4.4zM447 1577.5l-7.9-3.7 5.6-9.1 7.8 3.6z"/><path fill="#4544ff" stroke="#25258c" d="M497.1 1579.7l-7.8-4 5.5-9.8 7.8 3.9zM468.1 1576.7l-7.8-4.4 5.5-9.4 7.8 4.2zM439.1 1573.8l-7.8-3.2 5.5-9 7.9 3.1zM431.3 1570.6l-7.8-2.9 5.5-8.9 7.8 2.8z"/><path fill="#4cd374" stroke="#29743f" d="M565.6 1461.9l-7.8-.6 5.5-10.2 7.9.3zM557.8 1461.3l-7.8-.3 5.5-9.8 7.8-.1zM539.9 1451.9l-7.9.3 5.6-8.3 7.8-.5zM532 1452.2l-7.8-.1 5.5-8.1 7.9-.1zM514.1 1442.7l-7.8-1.3 5.5-7.3 7.8 1.1zM506.3 1441.4l-7.9-1.4 5.6-7.2 7.8 1.3zM498.4 1440l-7.8-1.6 5.5-7.1 7.9 1.5zM490.6 1438.4l-7.8-1.6 5.5-7 7.8 1.5zM482.8 1436.8l-7.8-1.6 5.5-6.9 7.8 1.5zM475 1435.2l-7.8-1.5 5.5-6.9 7.8 1.5zM467.2 1433.7l-7.9-1.5 5.5-7 7.9 1.6zM459.3 1432.2l-7.8-1.4 5.5-7 7.8 1.4zM451.5 1430.8l-7.8-1.3 5.5-7.2 7.8 1.5zM443.7 1429.5l-7.8-1.3 5.5-7.2 7.8 1.3zM441.4 1421l-7.8-1.2 5.5-7.2 7.8 1.1zM433.6 1419.8l-7.9-1 5.5-7.1 7.9.9zM425.7 1418.8l-7.8-1 5.5-6.8 7.8.7zM417.9 1417.8l-7.8-.9 5.5-6.5 7.8.6zM415.6 1410.4l-7.8-.6 5.5-6 7.8.3zM407.8 1409.8l-7.8-.7 5.5-5.9 7.8.6zM413.3 1403.8l-7.8-.6 5.5-5.6 7.8.3zM405.5 1403.2l-7.9-.6 5.6-5.6 7.8.6zM397.6 1402.6l-7.8-.8 5.5-5.5 7.9.7zM403.2 1397l-7.9-.7 5.6-5.4 7.8.7zM395.3 1396.3l-7.8-.7 5.5-5.4 7.9.7zM400.9 1390.9l-7.9-.7 5.6-5.3 7.8.7zM387.5 1395.6l-7.8-.7 5.5-5.4 7.8.7zM393 1390.2l-7.8-.7 5.5-5.3 7.9.7zM385.2 1389.5l-7.8-.6 5.5-5.4 7.8.7zM390.7 1384.2l-7.8-.7 5.5-5.4 7.9.7zM382.9 1383.5l-7.8-.7 5.5-5.4 7.8.7zM375.1 1382.8l-7.8-.7 5.5-5.4 7.8.7zM380.6 1377.4l-7.8-.7 5.5-5.5 7.8.8zM372.8 1376.7l-7.8-.8 5.5-5.5 7.8.8zM365 1375.9l-7.9-1 5.6-5.4 7.8.9zM357.1 1374.9l-7.8-1.1 5.5-5.4 7.9 1.1zM347 1367l-7.8-1.8 5.5-5.3 7.8 1.7zM339.2 1365.2l-7.8-2 5.5-5.1 7.8 1.8zM325.8 1368.5l-7.8-2.1 5.5-5.3 7.9 2.1zM318 1366.4l-7.8-2 5.5-5.2 7.8 1.9zM310.2 1364.4l-7.8-1.5 5.5-5.2 7.8 1.5zM302.4 1362.9l-7.9-1 5.6-5.2 7.8 1zM307.9 1357.7l-7.8-1 5.5-4.7 7.8 1zM300.1 1356.7l-7.9-.4 5.6-4.8 7.8.5zM292.2 1356.3l-7.8.1 5.5-4.8 7.9-.1zM289.9 1351.6l-7.8.7 5.5-4.7 7.9-.6zM287.6 1347.6l-7.8 1.2 5.5-4.7 7.8-1.1zM285.3 1344.1l-7.8 1.8 5.5-4.7 7.8-1.7z"/><path fill="#5ad367" stroke="#317438" d="M547.7 1451.5l-7.8.4 5.5-8.5 7.8-.7zM537.6 1443.9l-7.9.1 5.6-7.8 7.8-.2zM529.7 1444l-7.8-.4 5.5-7.7 7.9.3zM521.9 1443.6l-7.8-.9 5.5-7.5 7.8.7zM504 1432.8l-7.9-1.5 5.6-6.9 7.8 1.3zM496.1 1431.3l-7.8-1.5 5.5-6.8 7.9 1.4zM488.3 1429.8l-7.8-1.5 5.5-6.8 7.8 1.5zM480.5 1428.3l-7.8-1.5 5.5-6.8 7.8 1.5zM472.7 1426.8l-7.9-1.6 5.6-6.9 7.8 1.7zM464.8 1425.2l-7.8-1.4 5.5-7.1 7.9 1.6zM457 1423.8l-7.8-1.5 5.5-7.2 7.8 1.6zM449.2 1422.3l-7.8-1.3 5.5-7.3 7.8 1.4zM439.1 1412.6l-7.9-.9 5.6-7 7.8.6zM431.2 1411.7l-7.8-.7 5.5-6.7 7.9.4zM423.4 1411l-7.8-.6 5.5-6.3 7.8.2zM428.9 1404.3l-7.8-.2 5.5-6.1 7.9-.2zM421.1 1404.1l-7.8-.3 5.5-5.9 7.8.1zM426.6 1398l-7.8-.1 5.5-5.6 7.9-.3zM418.8 1397.9l-7.8-.3 5.5-5.5 7.8.2zM424.3 1392.3l-7.8-.2 5.5-5.3 7.9 0zM411 1397.6l-7.8-.6 5.5-5.4 7.8.5zM416.5 1392.1l-7.8-.5 5.5-5.3 7.8.5zM422 1386.8l-7.8-.5 5.5-5.2 7.8.5zM408.7 1391.6l-7.8-.7 5.5-5.3 7.8.7zM414.2 1386.3l-7.8-.7 5.5-5.2 7.8.7zM406.4 1385.6l-7.8-.7 5.5-5.3 7.8.8zM398.6 1384.9l-7.9-.7 5.6-5.4 7.8.8zM404.1 1379.6l-7.8-.8 5.5-5.3 7.8.8zM396.3 1378.8l-7.9-.7 5.5-5.4 7.9.8zM388.4 1378.1l-7.8-.7 5.5-5.4 7.8.7zM378.3 1371.2l-7.8-.8 5.5-5.5 7.8.9zM370.5 1370.4l-7.8-.9 5.5-5.5 7.8.9zM362.7 1369.5l-7.9-1.1 5.5-5.5 7.9 1.1zM354.8 1368.4l-7.8-1.4 5.5-5.4 7.8 1.3zM331.4 1363.2l-7.9-2.1 5.6-4.9 7.8 1.9zM323.5 1361.1l-7.8-1.9 5.5-4.8 7.9 1.8zM315.7 1359.2l-7.8-1.5 5.5-4.7 7.8 1.4zM321.2 1354.4l-7.8-1.4 5.5-4.4 7.8 1.3zM313.4 1353l-7.8-1 5.5-4.4 7.8 1zM305.6 1352l-7.8-.5 5.5-4.5 7.8.6zM297.8 1351.5l-7.9.1 5.6-4.6 7.8 0zM303.3 1347l-7.8 0 5.5-4.4 7.8.2zM295.5 1347l-7.9.6 5.5-4.6 7.9-.4zM293.1 1343l-7.8 1.1 5.5-4.6 7.9-1zM290.8 1339.5l-7.8 1.7 5.5-4.5 7.9-1.7z"/><path fill="#6ad25a" stroke="#3a7331" d="M563.3 1451.1l-7.8.1 5.5-9.1 7.9-.3zM555.5 1451.2l-7.8.3 5.5-8.8 7.8-.6zM545.4 1443.4l-7.8.5 5.5-7.9 7.8-.6zM535.3 1436.2l-7.9-.3 5.6-7.5 7.8.2zM527.4 1435.9l-7.8-.7 5.5-7.4 7.9.6zM519.6 1435.2l-7.8-1.1 5.5-7.2 7.8.9zM511.8 1434.1l-7.8-1.3 5.5-7.1 7.8 1.2zM486 1421.5l-7.8-1.5 5.5-6.7 7.8 1.6zM478.2 1420l-7.8-1.7 5.5-6.8 7.8 1.8zM470.4 1418.3l-7.9-1.6 5.6-7 7.8 1.8zM462.5 1416.7l-7.8-1.6 5.5-7.2 7.9 1.8zM454.7 1415.1l-7.8-1.4 5.5-7.3 7.8 1.5zM446.9 1413.7l-7.8-1.1 5.5-7.3 7.8 1.1zM444.6 1405.3l-7.8-.6 5.5-6.8 7.8.4zM436.8 1404.7l-7.9-.4 5.6-6.5 7.8.1zM434.5 1397.8l-7.9.2 5.6-6 7.8-.4zM432.2 1392l-7.9.3 5.6-5.5 7.8-.4zM437.7 1386.4l-7.8.4 5.5-5.2 7.8-.6zM429.9 1386.8l-7.9 0 5.5-5.2 7.9 0zM427.5 1381.6l-7.8-.5 5.5-5.2 7.9.6zM419.7 1381.1l-7.8-.7 5.5-5.3 7.8.8zM411.9 1380.4l-7.8-.8 5.5-5.3 7.8.8zM401.8 1373.5l-7.9-.8 5.6-5.4 7.8.8zM393.9 1372.7l-7.8-.7 5.5-5.5 7.9.8zM386.1 1372l-7.8-.8 5.5-5.4 7.8.7zM383.8 1365.8l-7.8-.9 5.5-5.4 7.8.9zM376 1364.9l-7.8-.9 5.5-5.4 7.8.9zM368.2 1364l-7.9-1.1 5.6-5.3 7.8 1zM360.3 1362.9l-7.8-1.3 5.5-5.3 7.9 1.3zM352.5 1361.6l-7.8-1.7 5.5-5.1 7.8 1.5zM344.7 1359.9l-7.8-1.8 5.5-4.9 7.8 1.6zM350.2 1354.8l-7.8-1.6 5.5-4.7 7.8 1.4zM336.9 1358.1l-7.8-1.9 5.5-4.7 7.8 1.7zM342.4 1353.2l-7.8-1.7 5.5-4.5 7.8 1.5zM329.1 1356.2l-7.9-1.8 5.5-4.5 7.9 1.6zM334.6 1351.5l-7.9-1.6 5.6-4.3 7.8 1.4zM326.7 1349.9l-7.8-1.3 5.5-4.2 7.9 1.2zM318.9 1348.6l-7.8-1 5.5-4.2 7.8 1zM311.1 1347.6l-7.8-.6 5.5-4.2 7.8.6zM308.8 1342.8l-7.8-.2 5.5-4.3 7.8.4zM301 1342.6l-7.9.4 5.6-4.5 7.8-.2zM306.5 1338.3l-7.8.2 5.5-4.3 7.8 0zM298.7 1338.5l-7.9 1 5.6-4.5 7.8-.8zM296.4 1335l-7.9 1.7 5.6-4.4 7.8-1.6z"/><path fill="#7bd14d" stroke="#43722a" d="M571.2 1451.4l-7.9-.3 5.6-9.3 7.8.1zM561 1442.1l-7.8.6 5.5-8 7.9-.7zM553.2 1442.7l-7.8.7 5.5-8 7.8-.7zM543.1 1436l-7.8.2 5.5-7.6 7.8-.2zM533 1428.4l-7.9-.6 5.6-7.2 7.8.5zM525.1 1427.8l-7.8-.9 5.5-7.1 7.9.8zM517.3 1426.9l-7.8-1.2 5.5-6.9 7.8 1zM509.5 1425.7l-7.8-1.3 5.5-6.7 7.8 1.1zM501.7 1424.4l-7.9-1.4 5.6-6.6 7.8 1.3zM493.8 1423l-7.8-1.5 5.5-6.6 7.9 1.5zM475.9 1411.5l-7.8-1.8 5.5-6.9 7.8 2.1zM468.1 1409.7l-7.9-1.8 5.6-7 7.8 1.9zM460.2 1407.9l-7.8-1.5 5.5-7.1 7.9 1.6zM452.4 1406.4l-7.8-1.1 5.5-7 7.8 1zM457.9 1399.3l-7.8-1 5.5-6.8 7.9 1zM450.1 1398.3l-7.8-.4 5.5-6.6 7.8.2zM442.3 1397.9l-7.8-.1 5.5-6.2 7.8-.3zM447.8 1391.3l-7.8.3 5.5-5.9 7.8-.5zM440 1391.6l-7.8.4 5.5-5.6 7.8-.7zM445.5 1385.7l-7.8.7 5.5-5.4 7.8-.8zM443.2 1381l-7.8.6 5.5-5.1 7.8-.5zM435.4 1381.6l-7.9 0 5.6-5.1 7.8 0zM425.2 1375.9l-7.8-.8 5.5-5.2 7.9.9zM417.4 1375.1l-7.8-.8 5.5-5.3 7.8.9zM409.6 1374.3l-7.8-.8 5.5-5.4 7.8.9zM399.5 1367.3l-7.9-.8 5.6-5.3 7.8.8zM391.6 1366.5l-7.8-.7 5.5-5.4 7.9.8zM389.3 1360.4l-7.8-.9 5.5-5.2 7.9.8zM381.5 1359.5l-7.8-.9 5.5-5.3 7.8 1zM373.7 1358.6l-7.8-1 5.5-5.3 7.8 1zM365.9 1357.6l-7.9-1.3 5.6-5.1 7.8 1.1zM358 1356.3l-7.8-1.5 5.5-4.9 7.9 1.3zM355.7 1349.9l-7.8-1.4 5.5-4.5 7.9 1.2zM347.9 1348.5l-7.8-1.5 5.5-4.2 7.8 1.2zM340.1 1347l-7.8-1.4 5.5-4 7.8 1.2zM332.3 1345.6l-7.9-1.2 5.6-3.9 7.8 1.1zM324.4 1344.4l-7.8-1 5.5-4 7.9 1.1zM330 1340.5l-7.9-1.1 5.6-3.8 7.8 1.1zM316.6 1343.4l-7.8-.6 5.5-4.1 7.8.7zM322.1 1339.4l-7.8-.7 5.5-4 7.9.9zM314.3 1338.7l-7.8-.4 5.5-4.1 7.8.5zM312 1334.2l-7.8 0 5.5-4.1 7.8.1zM304.2 1334.2l-7.8.8 5.5-4.3 7.8-.6zM301.9 1330.7l-7.8 1.6 5.5-4.2 7.8-1.6z"/><path fill="#8bcf40" stroke="#4c7123" d="M568.9 1441.8l-7.9.3 5.6-8.1 7.8-.4zM558.7 1434.7l-7.8.7 5.5-7.5 7.9-.5zM550.9 1435.4l-7.8.6 5.5-7.6 7.8-.5zM548.6 1428.4l-7.8.2 5.5-7.3 7.8-.1zM540.8 1428.6l-7.8-.2 5.5-7.3 7.8.2zM522.8 1419.8l-7.8-1 5.5-6.8 7.9.8zM515 1418.8l-7.8-1.1 5.5-6.7 7.8 1zM507.2 1417.7l-7.8-1.3 5.5-6.6 7.8 1.2zM499.4 1416.4l-7.9-1.5 5.6-6.5 7.8 1.4zM491.5 1414.9l-7.8-1.6 5.5-6.6 7.9 1.7zM483.7 1413.3l-7.8-1.8 5.5-6.6 7.8 1.8zM473.6 1402.8l-7.8-1.9 5.5-6.8 7.8 2.1zM465.8 1400.9l-7.9-1.6 5.6-6.8 7.8 1.6zM463.5 1392.5l-7.9-1 5.5-6.3 7.9.8zM455.6 1391.5l-7.8-.2 5.5-6.1 7.8 0zM461.1 1385.2l-7.8 0 5.5-5.7 7.9-.1zM453.3 1385.2l-7.8.5 5.5-5.5 7.8-.7zM451 1380.2l-7.8.8 5.5-5 7.8-.8zM440.9 1376.5l-7.8 0 5.5-5.1 7.8.2zM433.1 1376.5l-7.9-.6 5.6-5.1 7.8.6zM415.1 1369l-7.8-.9 5.5-5.3 7.8.9zM407.3 1368.1l-7.8-.8 5.5-5.3 7.8.8zM405 1362l-7.8-.8 5.5-5.3 7.8.9zM397.2 1361.2l-7.9-.8 5.6-5.3 7.8.8zM394.9 1355.1l-7.9-.8 5.6-5.1 7.8.9zM387 1354.3l-7.8-1 5.5-5 7.9.9zM379.2 1353.3l-7.8-1 5.5-5 7.8 1zM371.4 1352.3l-7.8-1.1 5.5-4.9 7.8 1zM363.6 1351.2l-7.9-1.3 5.6-4.7 7.8 1.1zM369.1 1346.3l-7.8-1.1 5.5-4.4 7.8.9zM361.3 1345.2l-7.9-1.2 5.6-4.2 7.8 1zM353.4 1344l-7.8-1.2 5.5-4 7.9 1zM345.6 1342.8l-7.8-1.2 5.5-3.8 7.8 1zM351.1 1338.8l-7.8-1 5.5-3.7 7.8.9zM337.8 1341.6l-7.8-1.1 5.5-3.8 7.8 1.1zM343.3 1337.8l-7.8-1.1 5.5-3.7 7.8 1.1zM335.5 1336.7l-7.8-1.1 5.5-3.7 7.8 1.1zM327.7 1335.6l-7.9-.9 5.6-3.9 7.8 1.1zM319.8 1334.7l-7.8-.5 5.5-4 7.9.6zM317.5 1330.2l-7.8-.1 5.5-4.1 7.8.2zM309.7 1330.1l-7.8.6 5.5-4.2 7.8-.5zM307.4 1326.5l-7.8 1.6 5.5-4.2 7.8-1.5z"/><path fill="#9bcd33" stroke="#55701c" d="M576.7 1441.9l-7.8-.1 5.5-8.2 7.8.1zM566.6 1434l-7.9.7 5.6-7.3 7.8-.5zM556.4 1427.9l-7.8.5 5.5-7.2 7.9-.2zM546.3 1421.3l-7.8-.2 5.5-7.2 7.8.3zM538.5 1421.1l-7.8-.5 5.5-7.2 7.8.5zM530.7 1420.6l-7.9-.8 5.6-7 7.8.6zM520.5 1412l-7.8-1 5.5-6.7 7.8.9zM512.7 1411l-7.8-1.2 5.5-6.5 7.8 1zM504.9 1409.8l-7.8-1.4 5.5-6.5 7.8 1.4zM497.1 1408.4l-7.9-1.7 5.5-6.4 7.9 1.6zM489.2 1406.7l-7.8-1.8 5.5-6.5 7.8 1.9zM481.4 1404.9l-7.8-2.1 5.5-6.6 7.8 2.2zM479.1 1396.2l-7.8-2.1 5.5-6.4 7.8 2.2zM471.3 1394.1l-7.8-1.6 5.5-6.5 7.8 1.7zM469 1386l-7.9-.8 5.6-5.8 7.8.8zM466.7 1379.4l-7.9.1 5.6-5 7.8-.2zM458.8 1379.5l-7.8.7 5.5-5 7.9-.7zM456.5 1375.2l-7.8.8 5.5-4.8 7.9-.6zM448.7 1376l-7.8.5 5.5-4.9 7.8-.4zM446.4 1371.6l-7.8-.2 5.5-4.9 7.8.3zM438.6 1371.4l-7.8-.6 5.5-5.1 7.8.8zM430.8 1370.8l-7.9-.9 5.6-5.1 7.8.9zM422.9 1369.9l-7.8-.9 5.5-5.3 7.9 1.1zM412.8 1362.8l-7.8-.8 5.5-5.2 7.8.9zM402.7 1355.9l-7.8-.8 5.5-5 7.8.8zM400.4 1350.1l-7.8-.9 5.5-4.7 7.8.9zM392.6 1349.2l-7.9-.9 5.5-4.7 7.9.9zM384.7 1348.3l-7.8-1 5.5-4.6 7.8.9zM376.9 1347.3l-7.8-1 5.5-4.6 7.8 1zM382.4 1342.7l-7.8-1 5.5-4.2 7.8.9zM374.6 1341.7l-7.8-.9 5.5-4.2 7.8.9zM366.8 1340.8l-7.8-1 5.5-4 7.8.8zM359 1339.8l-7.9-1 5.5-3.8 7.9.8zM356.6 1335l-7.8-.9 5.5-3.7 7.9.9zM348.8 1334.1l-7.8-1.1 5.5-3.6 7.8 1zM341 1333l-7.8-1.1 5.5-3.8 7.8 1.3zM333.2 1331.9l-7.8-1.1 5.5-3.8 7.8 1.1zM325.4 1330.8l-7.9-.6 5.5-4 7.9.8zM315.2 1326l-7.8.5 5.5-4.1 7.8-.4z"/><path fill="#abca27" stroke="#5e6f15" d="M582.2 1433.7l-7.8-.1 5.5-7 7.8.2zM574.4 1433.6l-7.8.4 5.5-7.1 7.8-.3zM572.1 1426.9l-7.8.5 5.5-6.7 7.8-.2zM564.3 1427.4l-7.9.5 5.6-6.9 7.8-.3zM562 1421l-7.9.2 5.5-6.8 7.9 0zM554.1 1421.2l-7.8.1 5.5-7.1 7.8.2zM544 1413.9l-7.8-.5 5.5-7 7.8.5zM536.2 1413.4l-7.8-.6 5.5-6.9 7.8.5zM528.4 1412.8l-7.9-.8 5.5-6.8 7.9.7zM526 1405.2l-7.8-.9 5.5-6.7 7.9.7zM518.2 1404.3l-7.8-1 5.5-6.6 7.8.9zM510.4 1403.3l-7.8-1.4 5.5-6.4 7.8 1.2zM502.6 1401.9l-7.9-1.6 5.6-6.3 7.8 1.5zM494.7 1400.3l-7.8-1.9 5.5-6.3 7.9 1.9zM486.9 1398.4l-7.8-2.2 5.5-6.3 7.8 2.2zM484.6 1389.9l-7.8-2.2 5.5-5.9 7.8 2.1zM476.8 1387.7l-7.8-1.7 5.5-5.8 7.8 1.6zM474.5 1380.2l-7.8-.8 5.5-5.1 7.8.7zM464.4 1374.5l-7.9.7 5.6-4.6 7.8-.6zM454.2 1371.2l-7.8.4 5.5-4.8 7.9-.1zM436.3 1365.7l-7.8-.9 5.5-5.1 7.8 1.1zM428.5 1364.8l-7.9-1.1 5.6-5.1 7.8 1.1zM420.6 1363.7l-7.8-.9 5.5-5.1 7.9.9zM418.3 1357.7l-7.8-.9 5.5-5 7.8.9zM410.5 1356.8l-7.8-.9 5.5-5 7.8.9zM408.2 1350.9l-7.8-.8 5.5-4.7 7.8.8zM405.9 1345.4l-7.8-.9 5.5-4.3 7.8.9zM398.1 1344.5l-7.9-.9 5.6-4.3 7.8.9zM390.2 1343.6l-7.8-.9 5.5-4.3 7.9.9zM380.1 1337.5l-7.8-.9 5.5-3.7 7.8.8zM372.3 1336.6l-7.8-.8 5.5-3.7 7.8.8zM364.5 1335.8l-7.9-.8 5.6-3.7 7.8.8zM346.5 1329.4l-7.8-1.3 5.5-3.7 7.8 1.3zM338.7 1328.1l-7.8-1.1 5.5-3.8 7.8 1.2zM330.9 1327l-7.9-.8 5.6-3.9 7.8.9zM323 1326.2l-7.8-.2 5.5-4 7.9.3zM312.9 1322.4l-7.8 1.5 5.5-4.1 7.8-1.5z"/><path fill="#bac71e" stroke="#666d10" d="M587.7 1426.8l-7.8-.2 5.5-6.1 7.8.4zM579.9 1426.6l-7.8.3 5.5-6.4 7.8 0zM577.6 1420.5l-7.8.2 5.5-6.2 7.8.2zM569.8 1420.7l-7.8.3 5.5-6.6 7.8.1zM567.5 1414.4l-7.9 0 5.6-6.6 7.8.4zM559.6 1414.4l-7.8-.2 5.5-6.9 7.9.5zM551.8 1414.2l-7.8-.3 5.5-7 7.8.4zM549.5 1406.9l-7.8-.5 5.5-6.9 7.8.5zM541.7 1406.4l-7.8-.5 5.5-7 7.8.6zM533.9 1405.9l-7.9-.7 5.6-6.9 7.8.6zM523.7 1397.6l-7.8-.9 5.5-6.6 7.9.7zM515.9 1396.7l-7.8-1.2 5.5-6.3 7.8.9zM508.1 1395.5l-7.8-1.5 5.5-6.2 7.8 1.4zM500.3 1394l-7.9-1.9 5.6-6 7.8 1.7zM492.4 1392.1l-7.8-2.2 5.5-6 7.9 2.2zM490.1 1383.9l-7.8-2.1 5.5-5.3 7.9 1.9zM482.3 1381.8l-7.8-1.6 5.5-5.2 7.8 1.5zM472.2 1374.3l-7.8.2 5.5-4.5 7.8-.2zM462.1 1370.6l-7.9.6 5.6-4.5 7.8-.4zM459.8 1366.7l-7.9.1 5.5-4.6 7.9.1zM451.9 1366.8l-7.8-.3 5.5-4.9 7.8.6zM444.1 1366.5l-7.8-.8 5.5-4.9 7.8.8zM426.2 1358.6l-7.9-.9 5.5-5 7.9 1zM416 1351.8l-7.8-.9 5.5-4.7 7.8.9zM413.7 1346.2l-7.8-.8 5.5-4.3 7.8.8zM411.4 1341.1l-7.8-.9 5.5-3.9 7.8.8zM403.6 1340.2l-7.8-.9 5.5-3.9 7.8.9zM395.8 1339.3l-7.9-.9 5.6-3.9 7.8.9zM387.9 1338.4l-7.8-.9 5.5-3.8 7.9.8zM377.8 1332.9l-7.8-.8 5.5-3.6 7.8.8zM370 1332.1l-7.8-.8 5.5-3.6 7.8.8zM362.2 1331.3l-7.9-.9 5.6-3.6 7.8.9zM354.3 1330.4l-7.8-1 5.5-3.7 7.9 1.1zM328.6 1322.3l-7.9-.3 5.6-4.1 7.8.4zM320.7 1322l-7.8.4 5.5-4.1 7.9-.4zM318.4 1318.3l-7.8 1.5 5.5-4.3 7.9-1.4z"/><path fill="#c8c416" stroke="#6e6b0c" d="M593.2 1420.9l-7.8-.4 5.5-5.4 7.9.7zM585.4 1420.5l-7.8 0 5.5-5.8 7.8.4zM583.1 1414.7l-7.8-.2 5.5-5.8 7.8.7zM575.3 1414.5l-7.8-.1 5.5-6.2 7.8.5zM573 1408.2l-7.8-.4 5.5-6.4 7.8.9zM565.2 1407.8l-7.9-.5 5.6-6.6 7.8.7zM557.3 1407.3l-7.8-.4 5.5-6.9 7.9.7zM547.2 1399.5l-7.8-.6 5.5-6.9 7.8.6zM539.4 1398.9l-7.8-.6 5.5-6.9 7.8.6zM531.6 1398.3l-7.9-.7 5.6-6.8 7.8.6zM513.6 1389.2l-7.8-1.4 5.5-6 7.8 1zM505.8 1387.8l-7.8-1.7 5.5-5.8 7.8 1.5zM498 1386.1l-7.9-2.2 5.6-5.5 7.8 1.9zM487.8 1376.5l-7.8-1.5 5.5-4.6 7.9 1.3zM480 1375l-7.8-.7 5.5-4.5 7.8.6zM477.7 1369.8l-7.8.2 5.5-4.2 7.8-.1zM469.9 1370l-7.8.6 5.5-4.3 7.8-.5zM467.6 1366.3l-7.8.4 5.5-4.4 7.8-.2zM457.4 1362.2l-7.8-.6 5.5-4.7 7.9.7zM449.6 1361.6l-7.8-.8 5.5-4.9 7.8 1zM441.8 1360.8l-7.8-1.1 5.5-4.9 7.8 1.1zM434 1359.7l-7.8-1.1 5.5-4.9 7.8 1.1zM431.7 1353.7l-7.9-1 5.6-4.7 7.8.9zM423.8 1352.7l-7.8-.9 5.5-4.7 7.9.9zM421.5 1347.1l-7.8-.9 5.5-4.3 7.9.8zM419.2 1341.9l-7.8-.8 5.5-4 7.9.8zM409.1 1336.3l-7.8-.9 5.5-3.6 7.8.9zM401.3 1335.4l-7.8-.9 5.5-3.5 7.8.8zM393.5 1334.5l-7.9-.8 5.6-3.6 7.8.9zM385.6 1333.7l-7.8-.8 5.5-3.6 7.9.8zM375.5 1328.5l-7.8-.8 5.5-3.6 7.8.9zM367.7 1327.7l-7.8-.9 5.5-3.7 7.8 1zM359.9 1326.8l-7.9-1.1 5.6-3.8 7.8 1.2zM352 1325.7l-7.8-1.3 5.5-3.9 7.9 1.4zM344.2 1324.4l-7.8-1.2 5.5-4 7.8 1.3zM336.4 1323.2l-7.8-.9 5.5-4 7.8.9zM326.3 1317.9l-7.9.4 5.6-4.2 7.8-.4z"/><path fill="#d6c112" stroke="#756a09" d="M598.8 1415.8l-7.9-.7 5.6-4.9 7.8 1zM604.3 1411.2l-7.8-1 5.5-4.7 7.8 1.3zM590.9 1415.1l-7.8-.4 5.5-5.3 7.9.8zM596.5 1410.2l-7.9-.8 5.6-5.1 7.8 1.2zM588.6 1409.4l-7.8-.7 5.5-5.5 7.9 1.1zM580.8 1408.7l-7.8-.5 5.5-5.9 7.8.9zM578.5 1402.3l-7.8-.9 5.5-6.1 7.8 1.2zM570.7 1401.4l-7.8-.7 5.5-6.5 7.8 1.1zM562.9 1400.7l-7.9-.7 5.6-6.7 7.8.9zM555 1400l-7.8-.5 5.5-6.9 7.9.7zM537.1 1391.4l-7.8-.6 5.5-6.8 7.8.5zM529.3 1390.8l-7.9-.7 5.6-6.6 7.8.5zM521.4 1390.1l-7.8-.9 5.5-6.4 7.9.7zM503.5 1380.3l-7.8-1.9 5.5-5.1 7.8 1.5zM495.7 1378.4l-7.9-1.9 5.6-4.8 7.8 1.6zM485.5 1370.4l-7.8-.6 5.5-4.1 7.9.5zM475.4 1365.8l-7.8.5 5.5-4.2 7.8-.2zM473.1 1362.1l-7.8.2 5.5-4.3 7.8.1zM465.3 1362.3l-7.9-.1 5.6-4.6 7.8.4zM455.1 1356.9l-7.8-1 5.5-4.7 7.9 1zM447.3 1355.9l-7.8-1.1 5.5-4.8 7.8 1.2zM439.5 1354.8l-7.8-1.1 5.5-4.8 7.8 1.1zM429.4 1348l-7.9-.9 5.6-4.4 7.8.8zM427.1 1342.7l-7.9-.8 5.6-4 7.8.8zM424.8 1337.9l-7.9-.8 5.6-3.6 7.8.8zM416.9 1337.1l-7.8-.8 5.5-3.6 7.9.8zM406.8 1331.8l-7.8-.8 5.5-3.5 7.8.9zM399 1331l-7.8-.9 5.5-3.5 7.8.9zM391.2 1330.1l-7.9-.8 5.6-3.5 7.8.8zM383.3 1329.3l-7.8-.8 5.5-3.5 7.9.8zM365.4 1323.1l-7.8-1.2 5.5-4 7.8 1.3zM357.6 1321.9l-7.9-1.4 5.6-4.1 7.8 1.5zM349.7 1320.5l-7.8-1.3 5.5-4.1 7.9 1.3zM341.9 1319.2l-7.8-.9 5.5-4.2 7.8 1zM334.1 1318.3l-7.8-.4 5.5-4.2 7.8.4zM324 1314.1l-7.9 1.4 5.6-4.5 7.8-1.4z"/><path fill="#e2be14" stroke="#7c680b" d="M609.8 1406.8l-7.8-1.3 5.5-4.6 7.8 1.5zM602 1405.5l-7.8-1.2 5.5-5 7.8 1.6zM594.2 1404.3l-7.9-1.1 5.6-5.3 7.8 1.4zM586.3 1403.2l-7.8-.9 5.5-5.8 7.9 1.4zM568.4 1394.2l-7.8-.9 5.5-6.5 7.8 1.1zM560.6 1393.3l-7.9-.7 5.6-6.8 7.8 1zM552.7 1392.6l-7.8-.6 5.5-6.9 7.9.7zM544.9 1392l-7.8-.6 5.5-6.9 7.8.6zM527 1383.5l-7.9-.7 5.6-6.3 7.8.3zM519.1 1382.8l-7.8-1 5.5-5.9 7.9.6zM511.3 1381.8l-7.8-1.5 5.5-5.5 7.8 1.1zM501.2 1373.3l-7.8-1.6 5.5-4.5 7.8 1.2zM493.4 1371.7l-7.9-1.3 5.6-4.2 7.8 1zM491.1 1366.2l-7.9-.5 5.5-3.8 7.9.4zM483.2 1365.7l-7.8.1 5.5-3.9 7.8 0zM480.9 1361.9l-7.8.2 5.5-4 7.8.1zM470.8 1358l-7.8-.4 5.5-4.5 7.8.6zM463 1357.6l-7.9-.7 5.6-4.7 7.8.9zM445 1350l-7.8-1.1 5.5-4.4 7.8 1zM437.2 1348.9l-7.8-.9 5.5-4.5 7.8 1zM434.9 1343.5l-7.8-.8 5.5-4 7.8.8zM432.6 1338.7l-7.8-.8 5.5-3.6 7.8.7zM422.5 1333.5l-7.9-.8 5.6-3.4 7.8.8zM414.6 1332.7l-7.8-.9 5.5-3.4 7.9.9zM404.5 1327.5l-7.8-.9 5.5-3.5 7.8.9zM396.7 1326.6l-7.8-.8 5.5-3.6 7.8.9zM388.9 1325.8l-7.9-.8 5.5-3.7 7.9.9zM381 1325l-7.8-.9 5.5-3.8 7.8 1zM373.2 1324.1l-7.8-1 5.5-3.9 7.8 1.1zM347.4 1315.1l-7.8-1 5.5-4.4 7.8 1zM339.6 1314.1l-7.8-.4 5.5-4.5 7.8.5zM331.8 1313.7l-7.8.4 5.5-4.5 7.8-.4z"/><path fill="#edbb18" stroke="#82660d" d="M615.3 1402.4l-7.8-1.5 5.5-4.8 7.8 1.7zM607.5 1400.9l-7.8-1.6 5.5-5 7.8 1.8zM599.7 1399.3l-7.8-1.4 5.5-5.3 7.8 1.7zM591.9 1397.9l-7.9-1.4 5.5-5.6 7.9 1.7zM584 1396.5l-7.8-1.2 5.5-6 7.8 1.6zM576.2 1395.3l-7.8-1.1 5.5-6.3 7.8 1.4zM550.4 1385.1l-7.8-.6 5.5-7 7.8.7zM542.6 1384.5l-7.8-.5 5.5-7 7.8.5zM534.8 1384l-7.8-.5 5.5-6.7 7.8.2zM516.8 1375.9l-7.8-1.1 5.5-5.3 7.8.6zM509 1374.8l-7.8-1.5 5.5-4.9 7.8 1.1zM498.9 1367.2l-7.8-1 5.5-3.9 7.8.8zM488.7 1361.9l-7.8 0 5.5-3.7 7.9.1zM478.6 1358.1l-7.8-.1 5.5-4.3 7.8.4zM476.3 1353.7l-7.8-.6 5.5-4.5 7.8.8zM468.5 1353.1l-7.8-.9 5.5-4.5 7.8.9zM460.7 1352.2l-7.9-1 5.6-4.6 7.8 1.1zM452.8 1351.2l-7.8-1.2 5.5-4.5 7.9 1.1zM450.5 1345.5l-7.8-1 5.5-4.2 7.9.9zM442.7 1344.5l-7.8-1 5.5-4 7.8.8zM440.4 1339.5l-7.8-.8 5.5-3.7 7.8.6zM438.1 1335l-7.8-.7 5.5-3.6 7.8.6zM430.3 1334.3l-7.8-.8 5.5-3.4 7.8.6zM428 1330.1l-7.8-.8 5.5-3.5 7.8.7zM420.2 1329.3l-7.9-.9 5.5-3.5 7.9.9zM412.3 1328.4l-7.8-.9 5.5-3.5 7.8.9zM394.4 1322.2l-7.9-.9 5.6-4 7.8 1zM386.5 1321.3l-7.8-1 5.5-4.1 7.9 1.1zM378.7 1320.3l-7.8-1.1 5.5-4.2 7.8 1.2zM370.9 1319.2l-7.8-1.3 5.5-4.3 7.8 1.4zM363.1 1317.9l-7.8-1.5 5.5-4.3 7.8 1.5zM355.3 1316.4l-7.9-1.3 5.5-4.4 7.9 1.4zM337.3 1309.2l-7.8.4 5.5-4.8 7.8-.3zM329.5 1309.6l-7.8 1.4 5.5-4.8 7.8-1.4z"/><path fill="#f7ba22" stroke="#876612" d="M620.8 1397.8l-7.8-1.7 5.5-5 7.9 1.9zM613 1396.1l-7.8-1.8 5.5-5.1 7.8 1.9zM605.2 1394.3l-7.8-1.7 5.5-5.3 7.8 1.9zM597.4 1392.6l-7.9-1.7 5.6-5.5 7.8 1.9zM589.5 1390.9l-7.8-1.6 5.5-5.7 7.9 1.8zM581.7 1389.3l-7.8-1.4 5.5-6 7.8 1.7zM573.9 1387.9l-7.8-1.1 5.5-6.4 7.8 1.5zM566.1 1386.8l-7.8-1 5.5-6.6 7.8 1.2zM558.3 1385.8l-7.9-.7 5.5-6.9 7.9 1zM532.5 1376.8l-7.8-.3 5.5-6.2 7.8-.1zM524.7 1376.5l-7.9-.6 5.5-5.8 7.9.2zM514.5 1369.5l-7.8-1.1 5.5-4.5 7.8.5zM506.7 1368.4l-7.8-1.2 5.5-4.1 7.8.8zM504.4 1363.1l-7.8-.8 5.5-3.7 7.8.4zM496.6 1362.3l-7.9-.4 5.6-3.6 7.8.3zM494.3 1358.3l-7.9-.1 5.6-3.8 7.8.2zM486.4 1358.2l-7.8-.1 5.5-4 7.9.3zM484.1 1354.1l-7.8-.4 5.5-4.3 7.9.6zM474 1348.6l-7.8-.9 5.5-4.5 7.8.9zM466.2 1347.7l-7.8-1.1 5.5-4.4 7.8 1zM458.4 1346.6l-7.9-1.1 5.6-4.3 7.8 1zM456.1 1341.2l-7.9-.9 5.6-4 7.8.8zM448.2 1340.3l-7.8-.8 5.5-3.9 7.9.7zM445.9 1335.6l-7.8-.6 5.5-3.7 7.8.6zM443.6 1331.3l-7.8-.6 5.5-3.5 7.8.5zM435.8 1330.7l-7.8-.6 5.5-3.6 7.8.7zM425.7 1325.8l-7.9-.9 5.6-3.7 7.8.9zM417.8 1324.9l-7.8-.9 5.5-3.7 7.9.9zM410 1324l-7.8-.9 5.5-3.8 7.8 1zM402.2 1323.1l-7.8-.9 5.5-3.9 7.8 1zM376.4 1315l-7.8-1.4 5.5-4.7 7.8 1.5zM368.6 1313.6l-7.8-1.5 5.5-4.8 7.8 1.6zM360.8 1312.1l-7.9-1.4 5.6-4.8 7.8 1.4zM352.9 1310.7l-7.8-1 5.5-4.8 7.9 1zM345.1 1309.7l-7.8-.5 5.5-4.7 7.8.4zM335 1304.8l-7.8 1.4 5.5-5.2 7.8-1.4z"/><path fill="#f9ec0a" stroke="#888105" d="M665 1360.9l-7.8-1.9 5.5-3.6 7.8 1.9zM670.5 1357.3l-7.8-1.9 5.5-3.5 7.8 2zM657.2 1359l-7.9-2 5.6-3.6 7.8 2zM662.7 1355.4l-7.8-2 5.5-3.4 7.8 1.9zM649.3 1357l-7.8-2 5.5-3.6 7.9 2zM654.9 1353.4l-7.9-2 5.6-3.4 7.8 2zM641.5 1355l-7.8-2.1 5.5-3.6 7.8 2.1zM628.2 1356.8l-7.8-2.3 5.5-3.8 7.8 2.2zM633.7 1352.9l-7.8-2.2 5.5-3.5 7.8 2.1zM620.4 1354.5l-7.9-2.4 5.6-3.8 7.8 2.4zM625.9 1350.7l-7.8-2.4 5.5-3.4 7.8 2.3zM612.5 1352.1l-7.8-2.6 5.5-3.7 7.9 2.5zM618.1 1348.3l-7.9-2.5 5.5-3.3 7.9 2.4zM604.7 1349.5l-7.8-2.6 5.5-3.6 7.8 2.5zM591.4 1351l-7.9-2.2 5.6-4.1 7.8 2.2zM596.9 1346.9l-7.8-2.2 5.5-3.5 7.8 2.1zM583.5 1348.8l-7.8-1.5 5.5-4.2 7.9 1.6zM589.1 1344.7l-7.9-1.6 5.6-3.5 7.8 1.6zM581.2 1343.1l-7.8-.5 5.5-3.6 7.9.6zM573.4 1342.6l-7.8.3 5.5-3.8 7.8-.1zM578.9 1339l-7.8.1 5.5-3.3 7.9.1zM571.1 1339.1l-7.8.7 5.5-3.6 7.8-.4zM576.6 1335.8l-7.8.4 5.5-3.4 7.8 0zM568.8 1336.2l-7.8.5 5.5-3.7 7.8-.2zM574.3 1332.8l-7.8.2 5.5-3.6 7.8.3zM566.5 1333l-7.8.2 5.5-4 7.8.2zM572 1329.4l-7.8-.2 5.5-3.7 7.8.5zM564.2 1329.2l-7.8-.2 5.5-4 7.8.5zM569.7 1325.5l-7.8-.5 5.5-3.9 7.8.8zM561.9 1325l-7.8-.5 5.5-4.1 7.8.7zM554.1 1324.5l-7.9-.5 5.6-4.2 7.8.6zM559.6 1320.4l-7.8-.6 5.5-4 7.8.8zM551.8 1319.8l-7.9-.7 5.6-4.1 7.8.8zM557.3 1315.8l-7.8-.8 5.5-3.9 7.8 1zM543.9 1319.1l-7.8-.6 5.5-4.2 7.9.7zM549.5 1315l-7.9-.7 5.6-4 7.8.8zM555 1311.1l-7.8-.8 5.5-3.8 7.8 1zM541.6 1314.3l-7.8-.6 5.5-4.2 7.9.8zM547.2 1310.3l-7.9-.8 5.5-4 7.9 1zM607.9 1280.4l-7.9-1.3 5.6-1.8 7.8 1.2zM613.4 1278.5l-7.8-1.2 5.5-1.8 7.8 1.1zM618.9 1276.6l-7.8-1.1 5.5-1.9 7.8 1.1zM533.8 1313.7l-7.8-.6 5.5-4.3 7.8.7zM539.3 1309.5l-7.8-.7 5.5-4.2 7.8.9zM544.8 1305.5l-7.8-.9 5.5-3.9 7.9 1.1zM600 1279.1l-7.8-1.4 5.5-1.7 7.9 1.3zM605.6 1277.3l-7.9-1.3 5.6-1.7 7.8 1.2zM611.1 1275.5l-7.8-1.2 5.5-1.7 7.8 1zM531.5 1308.8l-7.8-.7 5.5-4.3 7.8.8zM537 1304.6l-7.8-.8 5.5-4.2 7.8 1.1zM586.7 1279.5l-7.8-1.5 5.5-1.7 7.8 1.4zM592.2 1277.7l-7.8-1.4 5.5-1.6 7.8 1.3zM597.7 1276l-7.8-1.3 5.5-1.6 7.9 1.2zM603.3 1274.3l-7.9-1.2 5.6-1.7 7.8 1.2zM529.2 1303.8l-7.8-.8 5.5-4.4 7.8 1zM534.7 1299.6l-7.8-1 5.5-4.1 7.8 1.2zM578.9 1278l-7.9-1.6 5.6-1.5 7.8 1.4zM584.4 1276.3l-7.8-1.4 5.5-1.5 7.8 1.3zM589.9 1274.7l-7.8-1.3 5.5-1.5 7.8 1.2zM595.4 1273.1l-7.8-1.2 5.5-1.7 7.9 1.2zM521.4 1303l-7.8-.7 5.5-4.7 7.8 1zM526.9 1298.6l-7.8-1 5.5-4.3 7.8 1.2zM571 1276.4l-7.8-1.5 5.5-1.5 7.9 1.5zM576.6 1274.9l-7.9-1.5 5.6-1.4 7.8 1.4zM582.1 1273.4l-7.8-1.4 5.5-1.5 7.8 1.4zM587.6 1271.9l-7.8-1.4 5.5-1.5 7.8 1.2zM519.1 1297.6l-7.9-.9 5.6-4.6 7.8 1.2zM563.2 1274.9l-7.8-1.6 5.5-1.4 7.8 1.5zM568.7 1273.4l-7.8-1.5 5.5-1.4 7.9 1.5zM574.3 1272l-7.9-1.5 5.6-1.4 7.8 1.4zM579.8 1270.5l-7.8-1.4 5.5-1.5 7.8 1.4zM511.2 1296.7l-7.8-1 5.5-4.8 7.9 1.2zM516.8 1292.1l-7.9-1.2 5.6-4.4 7.8 1.4zM555.4 1273.3l-7.8-1.7 5.5-1.3 7.8 1.6zM560.9 1271.9l-7.8-1.6 5.5-1.3 7.8 1.5zM566.4 1270.5l-7.8-1.5 5.5-1.3 7.9 1.4zM572 1269.1l-7.9-1.4 5.6-1.4 7.8 1.3zM503.4 1295.7l-7.8-1.1 5.5-5 7.8 1.3zM508.9 1290.9l-7.8-1.3 5.5-4.6 7.9 1.5zM547.6 1271.6l-7.8-1.6 5.5-1.3 7.8 1.6zM553.1 1270.3l-7.8-1.6 5.5-1.2 7.8 1.5zM558.6 1269l-7.8-1.5 5.5-1.2 7.8 1.4zM495.6 1294.6l-7.8-1.1 5.5-5.2 7.8 1.3zM501.1 1289.6l-7.8-1.3 5.5-4.7 7.8 1.4zM539.8 1270l-7.9-1.6 5.5-1.2 7.9 1.5zM545.3 1268.7l-7.9-1.5 5.6-1.2 7.8 1.5zM550.8 1267.5l-7.8-1.5 5.5-1.1 7.8 1.4zM493.3 1288.3l-7.8-1.3 5.5-4.9 7.8 1.5zM526.4 1269.7l-7.8-1.6 5.5-1.4 7.8 1.7zM531.9 1268.4l-7.8-1.7 5.5-1.1 7.8 1.6zM537.4 1267.2l-7.8-1.6 5.5-1.1 7.9 1.5zM485.5 1287l-7.9-1.2 5.6-5 7.8 1.3zM518.6 1268.1l-7.8-1.6 5.5-1.4 7.8 1.6zM524.1 1266.7l-7.8-1.6 5.5-1.1 7.8 1.6zM529.6 1265.6l-7.8-1.6 5.5-1.1 7.8 1.6zM477.6 1285.8l-7.8-1.2 5.5-5.1 7.9 1.3zM483.2 1280.8l-7.9-1.3 5.6-4.4 7.8 1.4zM510.8 1266.5l-7.9-1.6 5.6-1.3 7.8 1.5zM516.3 1265.1l-7.8-1.5 5.5-1.2 7.8 1.6zM521.8 1264l-7.8-1.6 5.5-1 7.8 1.5zM469.8 1284.6l-7.8-1.1 5.5-5.2 7.8 1.2zM475.3 1279.5l-7.8-1.2 5.5-4.4 7.9 1.2zM502.9 1264.9l-7.8-1.4 5.5-1.4 7.9 1.5zM508.5 1263.6l-7.9-1.5 5.6-1.2 7.8 1.5zM514 1262.4l-7.8-1.5 5.5-1.1 7.8 1.6zM462 1283.5l-7.8-1.1 5.5-5.2 7.8 1.1zM467.5 1278.3l-7.8-1.1 5.5-4.5 7.8 1.2zM495.1 1263.5l-7.8-1.4 5.5-1.5 7.8 1.5zM500.6 1262.1l-7.8-1.5 5.5-1.2 7.9 1.5zM506.2 1260.9l-7.9-1.5 5.5-1.1 7.9 1.5zM459.7 1277.2l-7.8-1.1 5.5-4.5 7.8 1.1zM465.2 1272.7l-7.8-1.1 5.5-3.7 7.8 1.2zM481.8 1263.9l-7.9-1.2 5.6-1.9 7.8 1.3zM487.3 1262.1l-7.8-1.3 5.5-1.5 7.8 1.3zM492.8 1260.6l-7.8-1.3 5.5-1.3 7.8 1.4zM451.9 1276.1l-7.9-1.1 5.6-4.5 7.8 1.1zM457.4 1271.6l-7.8-1.1 5.5-3.6 7.8 1zM462.9 1267.9l-7.8-1 5.5-3 7.8 1.1zM468.4 1265l-7.8-1.1 5.5-2.3 7.8 1.1zM473.9 1262.7l-7.8-1.1 5.5-1.9 7.9 1.1zM479.5 1260.8l-7.9-1.1 5.6-1.6 7.8 1.2zM485 1259.3l-7.8-1.2 5.5-1.3 7.8 1.2zM444 1275l-7.8-1.1 5.5-4.5 7.9 1.1zM449.6 1270.5l-7.9-1.1 5.6-3.6 7.8 1.1zM455.1 1266.9l-7.8-1.1 5.5-2.9 7.8 1zM460.6 1263.9l-7.8-1 5.5-2.4 7.8 1.1zM466.1 1261.6l-7.8-1.1 5.5-1.9 7.8 1.1zM471.6 1259.7l-7.8-1.1 5.5-1.6 7.9 1.1zM477.2 1258.1l-7.9-1.1 5.6-1.3 7.8 1.1zM441.7 1269.4l-7.8-1.1 5.5-3.6 7.9 1.1zM447.3 1265.8l-7.9-1.1 5.6-3 7.8 1.2zM452.8 1262.9l-7.8-1.2 5.5-2.3 7.8 1.1zM458.3 1260.5l-7.8-1.1 5.5-1.9 7.8 1.1zM463.8 1258.6l-7.8-1.1 5.5-1.6 7.8 1.1zM433.9 1268.3l-7.8-1.3 5.5-3.6 7.8 1.3zM439.4 1264.7l-7.8-1.3 5.5-2.9 7.9 1.2zM445 1261.7l-7.9-1.2 5.6-2.3 7.8 1.2zM450.5 1259.4l-7.8-1.2 5.5-1.9 7.8 1.2zM456 1257.5l-7.8-1.2 5.5-1.6 7.8 1.2zM426.1 1267l-7.8-1.4 5.5-3.6 7.8 1.4zM431.6 1263.4l-7.8-1.4 5.5-2.9 7.8 1.4zM437.1 1260.5l-7.8-1.4 5.5-2.3 7.9 1.4zM442.7 1258.2l-7.9-1.4 5.5-1.9 7.9 1.4zM418.3 1265.6l-7.9-1.5 5.6-3.6 7.8 1.5zM423.8 1262l-7.8-1.5 5.5-2.8 7.8 1.4zM429.3 1259.1l-7.8-1.4 5.5-2.4 7.8 1.5zM434.8 1256.8l-7.8-1.5 5.5-1.9 7.8 1.5zM416 1260.5l-7.9-1.3 5.6-2.9 7.8 1.4zM421.5 1257.7l-7.8-1.4 5.5-2.3 7.8 1.3z"/><path fill="#fae50d" stroke="#897d07" d="M659.5 1364.8l-7.8-2 5.5-3.8 7.8 1.9zM646.1 1367l-7.8-2 5.5-4.1 7.9 1.9zM651.7 1362.8l-7.9-1.9 5.5-3.9 7.9 2zM638.3 1365l-7.8-2 5.5-4.1 7.8 2zM643.8 1360.9l-7.8-2 5.5-3.9 7.8 2zM630.5 1363l-7.8-2.1 5.5-4.1 7.8 2.1zM636 1358.9l-7.8-2.1 5.5-3.9 7.8 2.1zM622.7 1360.9l-7.9-2.3 5.6-4.1 7.8 2.3zM614.8 1358.6l-7.8-2.5 5.5-4 7.9 2.4zM607 1356.1l-7.8-2.6 5.5-4 7.8 2.6zM593.7 1358.1l-7.9-2.4 5.6-4.7 7.8 2.5zM599.2 1353.5l-7.8-2.5 5.5-4.1 7.8 2.6zM585.8 1355.7l-7.8-2.1 5.5-4.8 7.9 2.2zM578 1353.6l-7.8-1.4 5.5-4.9 7.8 1.5zM575.7 1347.3l-7.8-.5 5.5-4.2 7.8.5zM567.9 1346.8l-7.8.5 5.5-4.4 7.8-.3zM565.6 1342.9l-7.8.9 5.5-4 7.8-.7zM563.3 1339.8l-7.8.9 5.5-4 7.8-.5zM561 1336.7l-7.8.5 5.5-4 7.8-.2zM558.7 1333.2l-7.8 0 5.5-4.2 7.8.2zM550.9 1333.2l-7.9 0 5.5-4.4 7.9.2zM556.4 1329l-7.9-.2 5.6-4.3 7.8.5zM548.5 1328.8l-7.8-.3 5.5-4.5 7.9.5zM540.7 1328.5l-7.8-.4 5.5-4.6 7.8.5zM546.2 1324l-7.8-.5 5.5-4.4 7.9.7zM538.4 1323.5l-7.8-.5 5.5-4.5 7.8.6zM530.6 1323l-7.8-.5 5.5-4.5 7.8.5zM536.1 1318.5l-7.8-.5 5.5-4.3 7.8.6zM528.3 1318l-7.8-.5 5.5-4.4 7.8.6zM520.5 1317.5l-7.9-.4 5.6-4.5 7.8.5zM526 1313.1l-7.8-.5 5.5-4.5 7.8.7zM518.2 1312.6l-7.9-.4 5.6-4.7 7.8.6zM523.7 1308.1l-7.8-.6 5.5-4.5 7.8.8zM510.3 1312.2l-7.8-.4 5.5-4.8 7.9.5zM515.9 1307.5l-7.9-.5 5.6-4.7 7.8.7zM508 1307l-7.8-.5 5.5-5 7.9.8zM513.6 1302.3l-7.9-.8 5.5-4.8 7.9.9zM500.2 1306.5l-7.8-.6 5.5-5.2 7.8.8zM505.7 1301.5l-7.8-.8 5.5-5 7.8 1zM497.9 1300.7l-7.8-.8 5.5-5.3 7.8 1.1zM564.1 1267.7l-7.8-1.4 5.5-1.4 7.9 1.4zM490.1 1299.9l-7.8-.9 5.5-5.5 7.8 1.1zM556.3 1266.3l-7.8-1.4 5.5-1.4 7.8 1.4zM482.3 1299l-7.9-.9 5.6-5.7 7.8 1.1zM487.8 1293.5l-7.8-1.1 5.5-5.4 7.8 1.3zM543 1266l-7.9-1.5 5.6-1.1 7.8 1.5zM548.5 1264.9l-7.8-1.5 5.5-1.3 7.8 1.4zM480 1292.4l-7.9-1.1 5.5-5.5 7.9 1.2zM535.1 1264.5l-7.8-1.6 5.5-1.1 7.9 1.6zM540.7 1263.4l-7.9-1.6 5.6-1.3 7.8 1.6zM472.1 1291.3l-7.8-1 5.5-5.7 7.8 1.2zM527.3 1262.9l-7.8-1.5 5.5-1.2 7.8 1.6zM532.8 1261.8l-7.8-1.6 5.5-1.3 7.9 1.6zM464.3 1290.3l-7.8-1.1 5.5-5.7 7.8 1.1zM519.5 1261.4l-7.8-1.6 5.5-1.2 7.8 1.6zM525 1260.2l-7.8-1.6 5.5-1.3 7.8 1.6zM456.5 1289.2l-7.8-1.1 5.5-5.7 7.8 1.1zM511.7 1259.8l-7.9-1.5 5.6-1.2 7.8 1.5zM517.2 1258.6l-7.8-1.5 5.5-1.4 7.8 1.6zM448.7 1288.1l-7.9-1.1 5.6-5.7 7.8 1.1zM454.2 1282.4l-7.8-1.1 5.5-5.2 7.8 1.1zM498.3 1259.4l-7.8-1.4 5.5-1.2 7.8 1.5zM503.8 1258.3l-7.8-1.5 5.5-1.2 7.9 1.5zM509.4 1257.1l-7.9-1.5 5.6-1.4 7.8 1.5zM446.4 1281.3l-7.9-1.1 5.5-5.2 7.9 1.1zM490.5 1258l-7.8-1.2 5.5-1.2 7.8 1.2zM496 1256.8l-7.8-1.2 5.5-1.3 7.8 1.3zM501.5 1255.6l-7.8-1.3 5.5-1.5 7.9 1.4zM438.5 1280.2l-7.8-1.2 5.5-5.1 7.8 1.1zM482.7 1256.8l-7.8-1.1 5.5-1.3 7.8 1.2zM488.2 1255.6l-7.8-1.2 5.5-1.3 7.8 1.2zM493.7 1254.3l-7.8-1.2 5.5-1.4 7.8 1.1zM430.7 1279l-7.8-1.2 5.5-5.1 7.8 1.2zM436.2 1273.9l-7.8-1.2 5.5-4.4 7.8 1.1zM469.3 1257l-7.8-1.1 5.5-1.3 7.9 1.1zM474.9 1255.7l-7.9-1.1 5.6-1.3 7.8 1.1zM480.4 1254.4l-7.8-1.1 5.5-1.3 7.8 1.1zM485.9 1253.1l-7.8-1.1 5.5-1.5 7.8 1.2zM422.9 1277.8l-7.8-1.3 5.5-5.1 7.8 1.3zM428.4 1272.7l-7.8-1.3 5.5-4.4 7.8 1.3zM461.5 1255.9l-7.8-1.2 5.5-1.3 7.8 1.2zM467 1254.6l-7.8-1.2 5.5-1.3 7.9 1.2zM472.6 1253.3l-7.9-1.2 5.5-1.3 7.9 1.2zM478.1 1252l-7.9-1.2 5.6-1.5 7.8 1.2zM415.1 1276.5l-7.9-1.5 5.6-5.1 7.8 1.5zM420.6 1271.4l-7.8-1.5 5.5-4.3 7.8 1.4zM448.2 1256.3l-7.9-1.4 5.6-1.5 7.8 1.3zM453.7 1254.7l-7.8-1.3 5.5-1.4 7.8 1.4zM459.2 1253.4l-7.8-1.4 5.5-1.3 7.8 1.4zM464.7 1252.1l-7.8-1.4 5.5-1.3 7.8 1.4zM407.2 1275l-7.8-1.6 5.5-5 7.9 1.5zM412.8 1269.9l-7.9-1.5 5.5-4.3 7.9 1.5zM440.3 1254.9l-7.8-1.5 5.5-1.5 7.9 1.5zM445.9 1253.4l-7.9-1.5 5.6-1.4 7.8 1.5zM451.4 1252l-7.8-1.5 5.5-1.3 7.8 1.5zM404.9 1268.4l-7.8-1.4 5.5-4.3 7.8 1.4zM410.4 1264.1l-7.8-1.4 5.5-3.5 7.9 1.3zM427 1255.3l-7.8-1.3 5.5-1.9 7.8 1.3zM432.5 1253.4l-7.8-1.3 5.5-1.6 7.8 1.4zM438 1251.9l-7.8-1.4 5.5-1.4 7.9 1.4zM443.6 1250.5l-7.9-1.4 5.6-1.3 7.8 1.4zM397.1 1267l-7.8-1 5.5-4.3 7.8 1zM402.6 1262.7l-7.8-1 5.5-3.5 7.8 1zM408.1 1259.2l-7.8-1 5.5-2.9 7.9 1zM413.7 1256.3l-7.9-1 5.6-2.3 7.8 1zM419.2 1254l-7.8-1 5.5-1.9 7.8 1zM424.7 1252.1l-7.8-1 5.5-1.6 7.8 1zM430.2 1250.5l-7.8-1 5.5-1.4 7.8 1zM389.3 1266l-7.8-.4 5.5-4.4 7.8.5zM394.8 1261.7l-7.8-.5 5.5-3.5 7.8.5zM400.3 1258.2l-7.8-.5 5.5-2.9 7.8.5zM405.8 1255.3l-7.8-.5 5.5-2.3 7.9.5zM411.4 1253l-7.9-.5 5.6-1.9 7.8.5zM416.9 1251.1l-7.8-.5 5.5-1.5 7.8.4zM387 1261.2l-7.8.4 5.5-3.5 7.8-.4zM392.5 1257.7l-7.8.4 5.5-2.9 7.8-.4zM398 1254.8l-7.8.4 5.5-2.3 7.8-.4zM403.5 1252.5l-7.8.4 5.5-1.9 7.9-.4z"/><path fill="#faf204" stroke="#898502" d="M676 1353.9l-7.8-2 5.5-3.2 7.9 1.9zM681.6 1350.6l-7.9-1.9 5.5-3.2 7.9 1.9zM764.3 1311.6l-7.8-1.5 5.5-1.9 7.9 1.5zM769.9 1309.7l-7.9-1.5 5.6-1.9 7.8 1.5zM775.4 1307.8l-7.8-1.5 5.5-1.9 7.8 1.5zM668.2 1351.9l-7.8-1.9 5.5-3.3 7.8 2zM673.7 1348.7l-7.8-2 5.5-3.1 7.8 1.9zM756.5 1310.1l-7.8-1.5 5.5-1.9 7.8 1.5zM762 1308.2l-7.8-1.5 5.5-1.9 7.9 1.5zM767.6 1306.3l-7.9-1.5 5.6-1.8 7.8 1.4zM660.4 1350l-7.8-2 5.5-3.3 7.8 2zM665.9 1346.7l-7.8-2 5.5-3.1 7.8 2zM743.2 1310.5l-7.8-1.5 5.5-1.9 7.8 1.5zM748.7 1308.6l-7.8-1.5 5.5-1.9 7.8 1.5zM754.2 1306.7l-7.8-1.5 5.5-1.8 7.8 1.4zM759.7 1304.8l-7.8-1.4 5.5-1.9 7.9 1.5zM647 1351.4l-7.8-2.1 5.5-3.3 7.9 2zM652.6 1348l-7.9-2 5.6-3.3 7.8 2zM658.1 1344.7l-7.8-2 5.5-3.1 7.8 2zM735.4 1309l-7.9-1.5 5.5-1.9 7.9 1.5zM740.9 1307.1l-7.9-1.5 5.6-1.8 7.8 1.4zM746.4 1305.2l-7.8-1.4 5.5-1.8 7.8 1.4zM751.9 1303.4l-7.8-1.4 5.5-1.9 7.8 1.4zM639.2 1349.3l-7.8-2.1 5.5-3.3 7.8 2.1zM644.7 1346l-7.8-2.1 5.5-3.2 7.9 2zM727.5 1307.5l-7.8-1.6 5.5-1.8 7.8 1.5zM733 1305.6l-7.8-1.5 5.5-1.8 7.9 1.5zM738.6 1303.8l-7.9-1.5 5.6-1.8 7.8 1.5zM744.1 1302l-7.8-1.5 5.5-1.8 7.8 1.4zM631.4 1347.2l-7.8-2.3 5.5-3.2 7.8 2.2zM636.9 1343.9l-7.8-2.2 5.5-3 7.8 2zM719.7 1305.9l-7.8-1.5 5.5-1.8 7.8 1.5zM725.2 1304.1l-7.8-1.5 5.5-1.8 7.8 1.5zM730.7 1302.3l-7.8-1.5 5.5-1.8 7.9 1.5zM736.3 1300.5l-7.9-1.5 5.6-1.9 7.8 1.6zM623.6 1344.9l-7.9-2.4 5.6-3 7.8 2.2zM629.1 1341.7l-7.8-2.2 5.5-2.8 7.8 2zM706.4 1306.3l-7.9-1.6 5.6-1.8 7.8 1.5zM711.9 1304.4l-7.8-1.5 5.5-1.9 7.8 1.6zM717.4 1302.6l-7.8-1.6 5.5-1.8 7.8 1.6zM722.9 1300.8l-7.8-1.6 5.5-1.8 7.8 1.6zM728.4 1299l-7.8-1.6 5.5-1.9 7.9 1.6zM610.2 1345.8l-7.8-2.5 5.5-3.1 7.8 2.3zM615.7 1342.5l-7.8-2.3 5.5-2.8 7.9 2.1zM621.3 1339.5l-7.9-2.1 5.6-2.6 7.8 1.9zM698.5 1304.7l-7.8-1.5 5.5-1.9 7.9 1.6zM704.1 1302.9l-7.9-1.6 5.6-1.9 7.8 1.6zM709.6 1301l-7.8-1.6 5.5-1.9 7.8 1.7zM715.1 1299.2l-7.8-1.7 5.5-1.8 7.8 1.7zM720.6 1297.4l-7.8-1.7 5.5-1.9 7.8 1.7zM602.4 1343.3l-7.8-2.1 5.5-3 7.8 2zM607.9 1340.2l-7.8-2 5.5-2.6 7.8 1.8zM613.4 1337.4l-7.8-1.8 5.5-2.5 7.9 1.7zM690.7 1303.2l-7.8-1.6 5.5-2 7.8 1.7zM696.2 1301.3l-7.8-1.7 5.5-1.9 7.9 1.7zM701.8 1299.4l-7.9-1.7 5.5-1.9 7.9 1.7zM707.3 1297.5l-7.9-1.7 5.6-1.9 7.8 1.8zM712.8 1295.7l-7.8-1.8 5.5-1.9 7.8 1.8zM594.6 1341.2l-7.8-1.6 5.5-2.9 7.8 1.5zM600.1 1338.2l-7.8-1.5 5.5-2.6 7.8 1.5zM605.6 1335.6l-7.8-1.5 5.5-2.3 7.8 1.3zM677.4 1303.6l-7.9-1.5 5.6-2.1 7.8 1.6zM682.9 1301.6l-7.8-1.6 5.5-2 7.8 1.6zM688.4 1299.6l-7.8-1.6 5.5-2 7.8 1.7zM693.9 1297.7l-7.8-1.7 5.5-1.9 7.8 1.7zM699.4 1295.8l-7.8-1.7 5.5-2 7.9 1.8zM705 1293.9l-7.9-1.8 5.6-1.9 7.8 1.8zM586.8 1339.6l-7.9-.6 5.6-3.1 7.8.8zM592.3 1336.7l-7.8-.8 5.5-2.7 7.8.9zM597.8 1334.1l-7.8-.9 5.5-2.5 7.8 1.1zM603.3 1331.8l-7.8-1.1 5.5-2.3 7.8 1.1zM669.5 1302.1l-7.8-1.6 5.5-2.1 7.9 1.6zM675.1 1300l-7.9-1.6 5.6-2.1 7.8 1.7zM680.6 1298l-7.8-1.7 5.5-2 7.8 1.7zM686.1 1296l-7.8-1.7 5.5-2 7.8 1.8zM691.6 1294.1l-7.8-1.8 5.5-2 7.8 1.8zM697.1 1292.1l-7.8-1.8 5.5-1.9 7.9 1.8zM584.5 1335.9l-7.9-.1 5.5-3 7.9.4zM590 1333.2l-7.9-.4 5.6-2.7 7.8.6zM595.5 1330.7l-7.8-.6 5.5-2.6 7.8.9zM601 1328.4l-7.8-.9 5.5-2.7 7.8 1.2zM661.7 1300.5l-7.8-1.6 5.5-2.1 7.8 1.6zM667.2 1298.4l-7.8-1.6 5.5-2.1 7.9 1.6zM672.8 1296.3l-7.9-1.6 5.6-2.1 7.8 1.7zM678.3 1294.3l-7.8-1.7 5.5-2 7.8 1.7zM683.8 1292.3l-7.8-1.7 5.5-2.1 7.8 1.8zM689.3 1290.3l-7.8-1.8 5.5-2 7.8 1.9zM582.1 1332.8l-7.8 0 5.5-3.1 7.9.4zM587.7 1330.1l-7.9-.4 5.6-3 7.8.8zM593.2 1327.5l-7.8-.8 5.5-2.9 7.8 1zM598.7 1324.8l-7.8-1 5.5-3 7.8 1.3zM604.2 1322.1l-7.8-1.3 5.5-2.8 7.8 1.4zM648.4 1301.2l-7.8-1.6 5.5-2.3 7.8 1.6zM653.9 1298.9l-7.8-1.6 5.5-2.2 7.8 1.7zM659.4 1296.8l-7.8-1.7 5.5-2.1 7.8 1.7zM664.9 1294.7l-7.8-1.7 5.5-2.1 7.9 1.7zM670.5 1292.6l-7.9-1.7 5.6-2.1 7.8 1.8zM676 1290.6l-7.8-1.8 5.5-2 7.8 1.7zM681.5 1288.5l-7.8-1.7 5.5-2.1 7.8 1.8zM579.8 1329.7l-7.8-.3 5.5-3.4 7.9.7zM585.4 1326.7l-7.9-.7 5.6-3.2 7.8 1zM590.9 1323.8l-7.8-1 5.5-3.2 7.8 1.2zM596.4 1320.8l-7.8-1.2 5.5-3 7.8 1.4zM601.9 1318l-7.8-1.4 5.5-3 7.8 1.5zM640.6 1299.6l-7.9-1.6 5.5-2.3 7.9 1.6zM646.1 1297.3l-7.9-1.6 5.6-2.2 7.8 1.6zM651.6 1295.1l-7.8-1.6 5.5-2.1 7.8 1.6zM657.1 1293l-7.8-1.6 5.5-2.2 7.8 1.7zM662.6 1290.9l-7.8-1.7 5.5-2.1 7.9 1.7zM668.2 1288.8l-7.9-1.7 5.5-2 7.9 1.7zM673.7 1286.8l-7.9-1.7 5.6-2.1 7.8 1.7zM577.5 1326l-7.8-.5 5.5-3.6 7.9.9zM583.1 1322.8l-7.9-.9 5.6-3.4 7.8 1.1zM588.6 1319.6l-7.8-1.1 5.5-3.2 7.8 1.3zM594.1 1316.6l-7.8-1.3 5.5-3.1 7.8 1.4zM599.6 1313.6l-7.8-1.4 5.5-2.9 7.8 1.5zM627.2 1300.4l-7.8-1.6 5.5-2.3 7.8 1.5zM632.7 1298l-7.8-1.5 5.5-2.3 7.8 1.5zM638.2 1295.7l-7.8-1.5 5.5-2.3 7.9 1.6zM643.8 1293.5l-7.9-1.6 5.6-2.1 7.8 1.6zM649.3 1291.4l-7.8-1.6 5.5-2.2 7.8 1.6zM654.8 1289.2l-7.8-1.6 5.5-2.1 7.8 1.6zM660.3 1287.1l-7.8-1.6 5.5-2.1 7.8 1.7zM665.8 1285.1l-7.8-1.7 5.5-2 7.9 1.6zM575.2 1321.9l-7.8-.8 5.5-3.6 7.9 1zM580.8 1318.5l-7.9-1 5.5-3.4 7.9 1.2zM586.3 1315.3l-7.9-1.2 5.6-3.2 7.8 1.3zM591.8 1312.2l-7.8-1.3 5.5-3 7.8 1.4zM597.3 1309.3l-7.8-1.4 5.5-2.8 7.8 1.4zM602.8 1306.5l-7.8-1.4 5.5-2.7 7.8 1.4zM608.3 1303.8l-7.8-1.4 5.5-2.6 7.9 1.5zM613.9 1301.3l-7.9-1.5 5.6-2.5 7.8 1.5zM619.4 1298.8l-7.8-1.5 5.5-2.4 7.8 1.6zM624.9 1296.5l-7.8-1.6 5.5-2.3 7.8 1.6zM630.4 1294.2l-7.8-1.6 5.5-2.2 7.8 1.5zM635.9 1291.9l-7.8-1.5 5.5-2.2 7.9 1.6zM641.5 1289.8l-7.9-1.6 5.6-2.1 7.8 1.5zM647 1287.6l-7.8-1.5 5.5-2.1 7.8 1.5zM652.5 1285.5l-7.8-1.5 5.5-2.1 7.8 1.5zM658 1283.4l-7.8-1.5 5.5-2.1 7.8 1.6zM567.4 1321.1l-7.8-.7 5.5-3.8 7.8.9zM572.9 1317.5l-7.8-.9 5.5-3.6 7.8 1.1zM578.4 1314.1l-7.8-1.1 5.5-3.3 7.9 1.2zM584 1310.9l-7.9-1.2 5.6-3.1 7.8 1.3zM589.5 1307.9l-7.8-1.3 5.5-2.9 7.8 1.4zM595 1305.1l-7.8-1.4 5.5-2.8 7.8 1.5zM600.5 1302.4l-7.8-1.5 5.5-2.6 7.8 1.5zM606 1299.8l-7.8-1.5 5.5-2.5 7.9 1.5zM611.6 1297.3l-7.9-1.5 5.6-2.4 7.8 1.5zM617.1 1294.9l-7.8-1.5 5.5-2.3 7.8 1.5zM622.6 1292.6l-7.8-1.5 5.5-2.3 7.8 1.6zM628.1 1290.4l-7.8-1.6 5.5-2.1 7.8 1.5zM633.6 1288.2l-7.8-1.5 5.5-2.1 7.9 1.5zM639.2 1286.1l-7.9-1.5 5.6-2.1 7.8 1.5zM644.7 1284l-7.8-1.5 5.5-2.1 7.8 1.5zM650.2 1281.9l-7.8-1.5 5.5-2 7.8 1.4zM565.1 1316.6l-7.8-.8 5.5-3.7 7.8.9zM570.6 1313l-7.8-.9 5.5-3.5 7.8 1.1zM576.1 1309.7l-7.8-1.1 5.5-3.3 7.9 1.3zM581.7 1306.6l-7.9-1.3 5.6-3 7.8 1.4zM587.2 1303.7l-7.8-1.4 5.5-2.9 7.8 1.5zM592.7 1300.9l-7.8-1.5 5.5-2.7 7.8 1.6zM598.2 1298.3l-7.8-1.6 5.5-2.5 7.8 1.6zM603.7 1295.8l-7.8-1.6 5.5-2.4 7.9 1.6zM609.3 1293.4l-7.9-1.6 5.6-2.3 7.8 1.6zM614.8 1291.1l-7.8-1.6 5.5-2.2 7.8 1.5zM620.3 1288.8l-7.8-1.5 5.5-2.1 7.8 1.5zM625.8 1286.7l-7.8-1.5 5.5-2.1 7.8 1.5zM631.3 1284.6l-7.8-1.5 5.5-2 7.9 1.4zM636.9 1282.5l-7.9-1.4 5.6-2 7.8 1.3zM642.4 1280.4l-7.8-1.3 5.5-2.1 7.8 1.4zM562.8 1312.1l-7.8-1 5.5-3.6 7.8 1.1zM568.3 1308.6l-7.8-1.1 5.5-3.4 7.8 1.2zM573.8 1305.3l-7.8-1.2 5.5-3.2 7.9 1.4zM579.4 1302.3l-7.9-1.4 5.6-2.9 7.8 1.4zM584.9 1299.4l-7.8-1.4 5.5-2.8 7.8 1.5zM590.4 1296.7l-7.8-1.5 5.5-2.5 7.8 1.5zM595.9 1294.2l-7.8-1.5 5.5-2.5 7.8 1.6zM601.4 1291.8l-7.8-1.6 5.5-2.2 7.9 1.5zM607 1289.5l-7.9-1.5 5.5-2.2 7.9 1.5zM612.5 1287.3l-7.9-1.5 5.6-2.1 7.8 1.5zM618 1285.2l-7.8-1.5 5.5-2 7.8 1.4zM623.5 1283.1l-7.8-1.4 5.5-1.9 7.8 1.3zM629 1281.1l-7.8-1.3 5.5-2 7.9 1.3zM634.6 1279.1l-7.9-1.3 5.5-2 7.9 1.2zM560.5 1307.5l-7.8-1 5.5-3.6 7.8 1.2zM566 1304.1l-7.8-1.2 5.5-3.3 7.8 1.3zM571.5 1300.9l-7.8-1.3 5.5-3.1 7.9 1.5zM577.1 1298l-7.9-1.5 5.5-2.8 7.9 1.5zM582.6 1295.2l-7.9-1.5 5.6-2.6 7.8 1.6zM588.1 1292.7l-7.8-1.6 5.5-2.4 7.8 1.5zM593.6 1290.2l-7.8-1.5 5.5-2.3 7.8 1.6zM599.1 1288l-7.8-1.6 5.5-2.1 7.8 1.5zM604.6 1285.8l-7.8-1.5 5.5-2 7.9 1.4zM610.2 1283.7l-7.9-1.4 5.6-1.9 7.8 1.3zM615.7 1281.7l-7.8-1.3 5.5-1.9 7.8 1.3zM621.2 1279.8l-7.8-1.3 5.5-1.9 7.8 1.2zM626.7 1277.8l-7.8-1.2 5.5-1.9 7.8 1.1zM552.7 1306.5l-7.9-1 5.6-3.7 7.8 1.1zM558.2 1302.9l-7.8-1.1 5.5-3.5 7.8 1.3zM563.7 1299.6l-7.8-1.3 5.5-3.3 7.8 1.5zM569.2 1296.5l-7.8-1.5 5.5-2.9 7.8 1.6zM574.7 1293.7l-7.8-1.6 5.5-2.7 7.9 1.7zM580.3 1291.1l-7.9-1.7 5.6-2.4 7.8 1.7zM585.8 1288.7l-7.8-1.7 5.5-2.2 7.8 1.6zM591.3 1286.4l-7.8-1.6 5.5-2 7.8 1.5zM596.8 1284.3l-7.8-1.5 5.5-1.9 7.8 1.4zM602.3 1282.3l-7.8-1.4 5.5-1.8 7.9 1.3zM550.4 1301.8l-7.9-1.1 5.6-3.7 7.8 1.3zM555.9 1298.3l-7.8-1.3 5.5-3.4 7.8 1.4zM561.4 1295l-7.8-1.4 5.5-3.1 7.8 1.6zM566.9 1292.1l-7.8-1.6 5.5-2.7 7.8 1.6zM572.4 1289.4l-7.8-1.6 5.5-2.4 7.9 1.6zM578 1287l-7.9-1.6 5.6-2.2 7.8 1.6zM583.5 1284.8l-7.8-1.6 5.5-1.9 7.8 1.5zM589 1282.8l-7.8-1.5 5.5-1.8 7.8 1.4zM594.5 1280.9l-7.8-1.4 5.5-1.8 7.8 1.4zM542.5 1300.7l-7.8-1.1 5.5-3.9 7.9 1.3zM548.1 1297l-7.9-1.3 5.6-3.6 7.8 1.5zM553.6 1293.6l-7.8-1.5 5.5-3.1 7.8 1.5zM559.1 1290.5l-7.8-1.5 5.5-2.8 7.8 1.6zM564.6 1287.8l-7.8-1.6 5.5-2.4 7.8 1.6zM570.1 1285.4l-7.8-1.6 5.5-2.2 7.9 1.6zM575.7 1283.2l-7.9-1.6 5.6-1.9 7.8 1.6zM581.2 1281.3l-7.8-1.6 5.5-1.7 7.8 1.5zM540.2 1295.7l-7.8-1.2 5.5-3.8 7.9 1.4zM545.8 1292.1l-7.9-1.4 5.6-3.3 7.8 1.6zM551.3 1289l-7.8-1.6 5.5-2.9 7.8 1.7zM556.8 1286.2l-7.8-1.7 5.5-2.4 7.8 1.7zM562.3 1283.8l-7.8-1.7 5.5-2.1 7.8 1.6zM567.8 1281.6l-7.8-1.6 5.5-1.9 7.9 1.6zM573.4 1279.7l-7.9-1.6 5.5-1.7 7.9 1.6zM532.4 1294.5l-7.8-1.2 5.5-4 7.8 1.4zM537.9 1290.7l-7.8-1.4 5.5-3.5 7.9 1.6zM543.5 1287.4l-7.9-1.6 5.5-2.9 7.9 1.6zM549 1284.5l-7.9-1.6 5.6-2.5 7.8 1.7zM554.5 1282.1l-7.8-1.7 5.5-2.1 7.8 1.7zM560 1280l-7.8-1.7 5.5-1.8 7.8 1.6zM565.5 1278.1l-7.8-1.6 5.5-1.6 7.8 1.5zM524.6 1293.3l-7.8-1.2 5.5-4.2 7.8 1.4zM530.1 1289.3l-7.8-1.4 5.5-3.6 7.8 1.5zM535.6 1285.8l-7.8-1.5 5.5-3.1 7.8 1.7zM541.1 1282.9l-7.8-1.7 5.5-2.5 7.9 1.7zM546.7 1280.4l-7.9-1.7 5.6-2.1 7.8 1.7zM552.2 1278.3l-7.8-1.7 5.5-1.8 7.8 1.7zM557.7 1276.5l-7.8-1.7 5.5-1.5 7.8 1.6zM522.3 1287.9l-7.8-1.4 5.5-3.8 7.8 1.6zM527.8 1284.3l-7.8-1.6 5.5-3.1 7.8 1.6zM533.3 1281.2l-7.8-1.6 5.5-2.6 7.8 1.7zM538.8 1278.7l-7.8-1.7 5.5-2.1 7.9 1.7zM544.4 1276.6l-7.9-1.7 5.6-1.8 7.8 1.7zM549.9 1274.8l-7.8-1.7 5.5-1.5 7.8 1.7zM514.5 1286.5l-7.9-1.5 5.6-3.9 7.8 1.6zM520 1282.7l-7.8-1.6 5.5-3.2 7.8 1.7zM525.5 1279.6l-7.8-1.7 5.5-2.7 7.8 1.8zM531 1277l-7.8-1.8 5.5-2.1 7.8 1.8zM536.5 1274.9l-7.8-1.8 5.5-1.7 7.9 1.7zM542.1 1273.1l-7.9-1.7 5.6-1.4 7.8 1.6zM506.6 1285l-7.8-1.4 5.5-4.1 7.9 1.6zM512.2 1281.1l-7.9-1.6 5.6-3.3 7.8 1.7zM517.7 1277.9l-7.8-1.7 5.5-2.7 7.8 1.7zM523.2 1275.2l-7.8-1.7 5.5-2.1 7.8 1.7zM528.7 1273.1l-7.8-1.7 5.5-1.7 7.8 1.7zM534.2 1271.4l-7.8-1.7 5.5-1.3 7.9 1.6zM498.8 1283.6l-7.8-1.5 5.5-4.2 7.8 1.6zM504.3 1279.5l-7.8-1.6 5.5-3.3 7.9 1.6zM509.9 1276.2l-7.9-1.6 5.5-2.7 7.9 1.6zM515.4 1273.5l-7.9-1.6 5.6-2.1 7.8 1.6zM520.9 1271.4l-7.8-1.6 5.5-1.7 7.8 1.6zM491 1282.1l-7.8-1.3 5.5-4.3 7.8 1.4zM496.5 1277.9l-7.8-1.4 5.5-3.5 7.8 1.6zM502 1274.6l-7.8-1.6 5.5-2.7 7.8 1.6zM507.5 1271.9l-7.8-1.6 5.5-2.2 7.9 1.7zM513.1 1269.8l-7.9-1.7 5.6-1.6 7.8 1.6zM488.7 1276.5l-7.8-1.4 5.5-3.5 7.8 1.4zM494.2 1273l-7.8-1.4 5.5-2.8 7.8 1.5zM499.7 1270.3l-7.8-1.5 5.5-2.2 7.8 1.5zM505.2 1268.1l-7.8-1.5 5.5-1.7 7.9 1.6zM480.9 1275.1l-7.9-1.2 5.6-3.6 7.8 1.3zM486.4 1271.6l-7.8-1.3 5.5-2.9 7.8 1.4zM491.9 1268.8l-7.8-1.4 5.5-2.2 7.8 1.4zM497.4 1266.6l-7.8-1.4 5.5-1.7 7.8 1.4zM473 1273.9l-7.8-1.2 5.5-3.6 7.9 1.2zM478.6 1270.3l-7.9-1.2 5.6-2.9 7.8 1.2zM484.1 1267.4l-7.8-1.2 5.5-2.3 7.8 1.3zM489.6 1265.2l-7.8-1.3 5.5-1.8 7.8 1.4zM470.7 1269.1l-7.8-1.2 5.5-2.9 7.9 1.2zM476.3 1266.2l-7.9-1.2 5.5-2.3 7.9 1.2z"/><path fill="#fbf900" stroke="#8a8800" d="M687.1 1347.4l-7.9-1.9 5.6-3.1 7.8 1.9zM692.6 1344.3l-7.8-1.9 5.5-3 7.8 1.8zM698.1 1341.2l-7.8-1.8 5.5-3.1 7.8 1.9zM703.6 1338.2l-7.8-1.9 5.5-2.9 7.9 1.8zM709.2 1335.2l-7.9-1.8 5.5-2.9 7.9 1.8zM714.7 1332.3l-7.9-1.8 5.6-2.7 7.8 1.7zM720.2 1329.5l-7.8-1.7 5.5-2.7 7.8 1.8zM725.7 1326.9l-7.8-1.8 5.5-2.5 7.8 1.7zM731.2 1324.3l-7.8-1.7 5.5-2.3 7.8 1.7zM736.7 1322l-7.8-1.7 5.5-2.2 7.9 1.6zM742.3 1319.7l-7.9-1.6 5.6-2.1 7.8 1.6zM747.8 1317.6l-7.8-1.6 5.5-2 7.8 1.5zM753.3 1315.5l-7.8-1.5 5.5-2 7.8 1.6zM758.8 1313.6l-7.8-1.6 5.5-1.9 7.8 1.5zM679.2 1345.5l-7.8-1.9 5.5-3.1 7.9 1.9zM684.8 1342.4l-7.9-1.9 5.6-3.1 7.8 2zM690.3 1339.4l-7.8-2 5.5-3 7.8 1.9zM695.8 1336.3l-7.8-1.9 5.5-2.9 7.8 1.9zM701.3 1333.4l-7.8-1.9 5.5-2.8 7.8 1.8zM706.8 1330.5l-7.8-1.8 5.5-2.7 7.9 1.8zM712.4 1327.8l-7.9-1.8 5.6-2.6 7.8 1.7zM717.9 1325.1l-7.8-1.7 5.5-2.5 7.8 1.7zM723.4 1322.6l-7.8-1.7 5.5-2.3 7.8 1.7zM728.9 1320.3l-7.8-1.7 5.5-2.1 7.8 1.6zM734.4 1318.1l-7.8-1.6 5.5-2.1 7.9 1.6zM740 1316l-7.9-1.6 5.6-2 7.8 1.6zM745.5 1314l-7.8-1.6 5.5-1.9 7.8 1.5zM751 1312l-7.8-1.5 5.5-1.9 7.8 1.5zM671.4 1343.6l-7.8-2 5.5-3.1 7.8 2zM676.9 1340.5l-7.8-2 5.5-3 7.9 1.9zM682.5 1337.4l-7.9-1.9 5.6-3 7.8 1.9zM688 1334.4l-7.8-1.9 5.5-2.8 7.8 1.8zM693.5 1331.5l-7.8-1.8 5.5-2.8 7.8 1.8zM699 1328.7l-7.8-1.8 5.5-2.7 7.8 1.8zM704.5 1326l-7.8-1.8 5.5-2.5 7.9 1.7zM710.1 1323.4l-7.9-1.7 5.6-2.4 7.8 1.6zM715.6 1320.9l-7.8-1.6 5.5-2.3 7.8 1.6zM721.1 1318.6l-7.8-1.6 5.5-2.2 7.8 1.7zM726.6 1316.5l-7.8-1.7 5.5-2 7.8 1.6zM732.1 1314.4l-7.8-1.6 5.5-1.9 7.9 1.5zM737.7 1312.4l-7.9-1.5 5.6-1.9 7.8 1.5zM663.6 1341.6l-7.8-2 5.5-3 7.8 1.9zM669.1 1338.5l-7.8-1.9 5.5-3 7.8 1.9zM674.6 1335.5l-7.8-1.9 5.5-2.9 7.9 1.8zM680.2 1332.5l-7.9-1.8 5.6-2.9 7.8 1.9zM685.7 1329.7l-7.8-1.9 5.5-2.7 7.8 1.8zM691.2 1326.9l-7.8-1.8 5.5-2.6 7.8 1.7zM696.7 1324.2l-7.8-1.7 5.5-2.5 7.8 1.7zM702.2 1321.7l-7.8-1.7 5.5-2.4 7.9 1.7zM707.8 1319.3l-7.9-1.7 5.6-2.2 7.8 1.6zM713.3 1317l-7.8-1.6 5.5-2.1 7.8 1.5zM718.8 1314.8l-7.8-1.5 5.5-2 7.8 1.5zM724.3 1312.8l-7.8-1.5 5.5-2 7.8 1.6zM729.8 1310.9l-7.8-1.6 5.5-1.8 7.9 1.5zM650.3 1342.7l-7.9-2 5.6-3 7.8 1.9zM655.8 1339.6l-7.8-1.9 5.5-3 7.8 1.9zM661.3 1336.6l-7.8-1.9 5.5-2.9 7.8 1.8zM666.8 1333.6l-7.8-1.8 5.5-2.9 7.8 1.8zM672.3 1330.7l-7.8-1.8 5.5-2.8 7.9 1.7zM677.9 1327.8l-7.9-1.7 5.5-2.7 7.9 1.7zM683.4 1325.1l-7.9-1.7 5.6-2.6 7.8 1.7zM688.9 1322.5l-7.8-1.7 5.5-2.5 7.8 1.7zM694.4 1320l-7.8-1.7 5.5-2.3 7.8 1.6zM699.9 1317.6l-7.8-1.6 5.5-2.2 7.9 1.6zM705.5 1315.4l-7.9-1.6 5.5-2.1 7.9 1.6zM711 1313.3l-7.9-1.6 5.6-2 7.8 1.6zM716.5 1311.3l-7.8-1.6 5.5-1.9 7.8 1.5zM722 1309.3l-7.8-1.5 5.5-1.9 7.8 1.6zM642.4 1340.7l-7.8-2 5.5-2.9 7.9 1.9zM648 1337.7l-7.9-1.9 5.5-2.9 7.9 1.8zM653.5 1334.7l-7.9-1.8 5.6-2.8 7.8 1.7zM659 1331.8l-7.8-1.7 5.5-2.8 7.8 1.6zM664.5 1328.9l-7.8-1.6 5.5-2.8 7.8 1.6zM670 1326.1l-7.8-1.6 5.5-2.6 7.8 1.5zM675.5 1323.4l-7.8-1.5 5.5-2.6 7.9 1.5zM681.1 1320.8l-7.9-1.5 5.6-2.5 7.8 1.5zM686.6 1318.3l-7.8-1.5 5.5-2.3 7.8 1.5zM692.1 1316l-7.8-1.5 5.5-2.2 7.8 1.5zM697.6 1313.8l-7.8-1.5 5.5-2.1 7.8 1.5zM703.1 1311.7l-7.8-1.5 5.5-2 7.9 1.5zM708.7 1309.7l-7.9-1.5 5.6-1.9 7.8 1.5zM714.2 1307.8l-7.8-1.5 5.5-1.9 7.8 1.5zM634.6 1338.7l-7.8-2 5.5-2.7 7.8 1.8zM640.1 1335.8l-7.8-1.8 5.5-2.7 7.8 1.6zM645.6 1332.9l-7.8-1.6 5.5-2.7 7.9 1.5zM651.2 1330.1l-7.9-1.5 5.6-2.7 7.8 1.4zM656.7 1327.3l-7.8-1.4 5.5-2.8 7.8 1.4zM662.2 1324.5l-7.8-1.4 5.5-2.6 7.8 1.4zM667.7 1321.9l-7.8-1.4 5.5-2.6 7.8 1.4zM673.2 1319.3l-7.8-1.4 5.5-2.5 7.9 1.4zM678.8 1316.8l-7.9-1.4 5.6-2.4 7.8 1.5zM684.3 1314.5l-7.8-1.5 5.5-2.2 7.8 1.5zM689.8 1312.3l-7.8-1.5 5.5-2.1 7.8 1.5zM695.3 1310.2l-7.8-1.5 5.5-2 7.8 1.5zM700.8 1308.2l-7.8-1.5 5.5-2 7.9 1.6zM626.8 1336.7l-7.8-1.9 5.5-2.5 7.8 1.7zM632.3 1334l-7.8-1.7 5.5-2.5 7.8 1.5zM637.8 1331.3l-7.8-1.5 5.5-2.6 7.8 1.4zM643.3 1328.6l-7.8-1.4 5.5-2.6 7.9 1.3zM648.9 1325.9l-7.9-1.3 5.6-2.7 7.8 1.2zM654.4 1323.1l-7.8-1.2 5.5-2.7 7.8 1.3zM659.9 1320.5l-7.8-1.3 5.5-2.6 7.8 1.3zM665.4 1317.9l-7.8-1.3 5.5-2.5 7.8 1.3zM670.9 1315.4l-7.8-1.3 5.5-2.5 7.9 1.4zM676.5 1313l-7.9-1.4 5.6-2.2 7.8 1.4zM682 1310.8l-7.8-1.4 5.5-2.2 7.8 1.5zM687.5 1308.7l-7.8-1.5 5.5-2 7.8 1.5zM693 1306.7l-7.8-1.5 5.5-2 7.8 1.5zM619 1334.8l-7.9-1.7 5.6-2.3 7.8 1.5zM624.5 1332.3l-7.8-1.5 5.5-2.4 7.8 1.4zM630 1329.8l-7.8-1.4 5.5-2.5 7.8 1.3zM635.5 1327.2l-7.8-1.3 5.5-2.6 7.8 1.3zM641 1324.6l-7.8-1.3 5.5-2.6 7.9 1.2zM646.6 1321.9l-7.9-1.2 5.6-2.7 7.8 1.2zM652.1 1319.2l-7.8-1.2 5.5-2.7 7.8 1.3zM657.6 1316.6l-7.8-1.3 5.5-2.6 7.8 1.4zM663.1 1314.1l-7.8-1.4 5.5-2.4 7.8 1.3zM668.6 1311.6l-7.8-1.3 5.5-2.3 7.9 1.4zM674.2 1309.4l-7.9-1.4 5.6-2.3 7.8 1.5zM679.7 1307.2l-7.8-1.5 5.5-2.1 7.8 1.6zM685.2 1305.2l-7.8-1.6 5.5-2 7.8 1.6zM611.1 1333.1l-7.8-1.3 5.5-2.3 7.9 1.3zM616.7 1330.8l-7.9-1.3 5.6-2.3 7.8 1.2zM622.2 1328.4l-7.8-1.2 5.5-2.5 7.8 1.2zM627.7 1325.9l-7.8-1.2 5.5-2.6 7.8 1.2zM633.2 1323.3l-7.8-1.2 5.5-2.7 7.8 1.3zM638.7 1320.7l-7.8-1.3 5.5-2.7 7.9 1.3zM644.3 1318l-7.9-1.3 5.5-2.7 7.9 1.3zM649.8 1315.3l-7.9-1.3 5.6-2.6 7.8 1.3zM655.3 1312.7l-7.8-1.3 5.5-2.5 7.8 1.4zM660.8 1310.3l-7.8-1.4 5.5-2.4 7.8 1.5zM666.3 1308l-7.8-1.5 5.5-2.2 7.9 1.4zM671.9 1305.7l-7.9-1.4 5.5-2.2 7.9 1.5zM608.8 1329.5l-7.8-1.1 5.5-2.4 7.9 1.2zM614.4 1327.2l-7.9-1.2 5.5-2.6 7.9 1.3zM619.9 1324.7l-7.9-1.3 5.6-2.6 7.8 1.3zM625.4 1322.1l-7.8-1.3 5.5-2.7 7.8 1.3zM630.9 1319.4l-7.8-1.3 5.5-2.8 7.8 1.4zM636.4 1316.7l-7.8-1.4 5.5-2.7 7.8 1.4zM641.9 1314l-7.8-1.4 5.5-2.6 7.9 1.4zM647.5 1311.4l-7.9-1.4 5.6-2.6 7.8 1.5zM653 1308.9l-7.8-1.5 5.5-2.4 7.8 1.5zM658.5 1306.5l-7.8-1.5 5.5-2.3 7.8 1.6zM664 1304.3l-7.8-1.6 5.5-2.2 7.8 1.6zM606.5 1326l-7.8-1.2 5.5-2.7 7.8 1.3zM612 1323.4l-7.8-1.3 5.5-2.7 7.9 1.4zM617.6 1320.8l-7.9-1.4 5.6-2.8 7.8 1.5zM623.1 1318.1l-7.8-1.5 5.5-2.8 7.8 1.5zM628.6 1315.3l-7.8-1.5 5.5-2.7 7.8 1.5zM634.1 1312.6l-7.8-1.5 5.5-2.6 7.8 1.5zM639.6 1310l-7.8-1.5 5.5-2.6 7.9 1.5zM645.2 1307.4l-7.9-1.5 5.6-2.4 7.8 1.5zM650.7 1305l-7.8-1.5 5.5-2.3 7.8 1.5zM656.2 1302.7l-7.8-1.5 5.5-2.3 7.8 1.6zM609.7 1319.4l-7.8-1.4 5.5-2.9 7.9 1.5zM615.3 1316.6l-7.9-1.5 5.6-2.8 7.8 1.5zM620.8 1313.8l-7.8-1.5 5.5-2.7 7.8 1.5zM626.3 1311.1l-7.8-1.5 5.5-2.7 7.8 1.6zM631.8 1308.5l-7.8-1.6 5.5-2.5 7.8 1.5zM637.3 1305.9l-7.8-1.5 5.5-2.5 7.9 1.6zM642.9 1303.5l-7.9-1.6 5.6-2.3 7.8 1.6zM607.4 1315.1l-7.8-1.5 5.5-2.8 7.9 1.5zM613 1312.3l-7.9-1.5 5.6-2.8 7.8 1.6zM618.5 1309.6l-7.8-1.6 5.5-2.6 7.8 1.5zM624 1306.9l-7.8-1.5 5.5-2.6 7.8 1.6zM629.5 1304.4l-7.8-1.6 5.5-2.4 7.8 1.5zM635 1301.9l-7.8-1.5 5.5-2.4 7.9 1.6zM605.1 1310.8l-7.8-1.5 5.5-2.8 7.9 1.5zM610.7 1308l-7.9-1.5 5.5-2.7 7.9 1.6zM616.2 1305.4l-7.9-1.6 5.6-2.5 7.8 1.5zM621.7 1302.8l-7.8-1.5 5.5-2.5 7.8 1.6z"/><path fill="#fdde11" stroke="#8b7a09" d="M648.4 1373.4l-7.8-1.9 5.5-4.5 7.9 2zM654 1369l-7.9-2 5.6-4.2 7.8 2zM640.6 1371.5l-7.8-2 5.5-4.5 7.8 2zM632.8 1369.5l-7.8-2.1 5.5-4.4 7.8 2zM625 1367.4l-7.9-2.2 5.6-4.3 7.8 2.1zM617.1 1365.2l-7.8-2.2 5.5-4.4 7.9 2.3zM609.3 1363l-7.8-2.4 5.5-4.5 7.8 2.5zM601.5 1360.6l-7.8-2.5 5.5-4.6 7.8 2.6zM570.2 1352.2l-7.8-.4 5.5-5 7.8.5zM562.4 1351.8l-7.8.5 5.5-5 7.8-.5zM560.1 1347.3l-7.9 1 5.6-4.5 7.8-.9zM552.2 1348.3l-7.8 1.1 5.5-4.5 7.9-1.1zM557.8 1343.8l-7.9 1.1 5.6-4.2 7.8-.9zM549.9 1344.9l-7.8.9 5.5-4.4 7.9-.7zM555.5 1340.7l-7.9.7 5.6-4.2 7.8-.5zM547.6 1341.4l-7.8.6 5.5-4.4 7.9-.4zM553.2 1337.2l-7.9.4 5.6-4.4 7.8 0zM545.3 1337.6l-7.8.1 5.5-4.5 7.9 0zM543 1333.2l-7.8-.1 5.5-4.6 7.8.3zM535.2 1333.1l-7.8-.3 5.5-4.7 7.8.4zM532.9 1328.1l-7.8-.5 5.5-4.6 7.8.5zM525.1 1327.6l-7.8-.5 5.5-4.6 7.8.5zM522.8 1322.5l-7.9-.4 5.6-4.6 7.8.5zM514.9 1322.1l-7.8-.5 5.5-4.5 7.9.4zM507.1 1321.6l-7.8-.3 5.5-4.5 7.8.3zM512.6 1317.1l-7.8-.3 5.5-4.6 7.9.4zM504.8 1316.8l-7.8-.3 5.5-4.7 7.8.4zM497 1316.5l-7.8-.3 5.5-4.8 7.8.4zM502.5 1311.8l-7.8-.4 5.5-4.9 7.8.5zM494.7 1311.4l-7.8-.4 5.5-5.1 7.8.6zM486.9 1311l-7.9-.4 5.6-5.3 7.8.6zM492.4 1305.9l-7.8-.6 5.5-5.4 7.8.8zM484.6 1305.3l-7.9-.7 5.6-5.6 7.8.9zM476.7 1304.6l-7.8-.7 5.5-5.8 7.9.9zM474.4 1298.1l-7.8-.9 5.5-5.9 7.9 1.1zM466.6 1297.2l-7.8-1 5.5-5.9 7.8 1zM458.8 1296.2l-7.8-1 5.5-6 7.8 1.1zM451 1295.2l-7.9-1.1 5.6-6 7.8 1.1zM443.1 1294.1l-7.8-1 5.5-6.1 7.9 1.1zM440.8 1287l-7.8-1.1 5.5-5.7 7.9 1.1zM433 1285.9l-7.8-1.2 5.5-5.7 7.8 1.2zM425.2 1284.7l-7.8-1.3 5.5-5.6 7.8 1.2zM417.4 1283.4l-7.9-1.4 5.6-5.5 7.8 1.3zM409.5 1282l-7.8-1.5 5.5-5.5 7.9 1.5zM470.2 1250.8l-7.8-1.4 5.5-1.5 7.9 1.4zM401.7 1280.5l-7.8-1.6 5.5-5.5 7.8 1.6zM456.9 1250.7l-7.8-1.5 5.5-1.3 7.8 1.5zM462.4 1249.4l-7.8-1.5 5.5-1.5 7.8 1.5zM393.9 1278.9l-7.8-1.4 5.5-5.5 7.8 1.4zM399.4 1273.4l-7.8-1.4 5.5-5 7.8 1.4zM449.1 1249.2l-7.8-1.4 5.5-1.3 7.8 1.4zM454.6 1247.9l-7.8-1.4 5.5-1.5 7.8 1.4zM386.1 1277.5l-7.9-1 5.6-5.5 7.8 1zM391.6 1272l-7.8-1 5.5-5 7.8 1zM435.7 1249.1l-7.8-1 5.5-1.3 7.9 1zM441.3 1247.8l-7.9-1 5.6-1.3 7.8 1zM446.8 1246.5l-7.8-1 5.5-1.5 7.8 1zM383.8 1271l-7.9-.5 5.6-4.9 7.8.4zM422.4 1249.5l-7.8-.4 5.5-1.4 7.8.4zM427.9 1248.1l-7.8-.4 5.5-1.3 7.8.4zM433.4 1246.8l-7.8-.4 5.5-1.3 7.9.4zM439 1245.5l-7.9-.4 5.5-1.5 7.9.4zM375.9 1270.5l-7.8.4 5.5-5 7.9-.3zM381.5 1265.6l-7.9.3 5.6-4.3 7.8-.4zM409.1 1250.6l-7.9.4 5.5-1.6 7.9-.3zM414.6 1249.1l-7.9.3 5.6-1.4 7.8-.3zM420.1 1247.7l-7.8.3 5.5-1.3 7.8-.3zM379.2 1261.6l-7.9 1.4 5.5-3.5 7.9-1.4zM384.7 1258.1l-7.9 1.4 5.6-2.9 7.8-1.4zM390.2 1255.2l-7.8 1.4 5.5-2.3 7.8-1.4zM395.7 1252.9l-7.8 1.4 5.5-1.9 7.8-1.4zM401.2 1251l-7.8 1.4 5.5-1.6 7.8-1.4z"/><path fill="#ffb92a" stroke="#8c6517" d="M626.4 1393l-7.9-1.9 5.6-5 7.8 2zM618.5 1391.1l-7.8-1.9 5.5-5.1 7.9 2zM610.7 1389.2l-7.8-1.9 5.5-5.2 7.8 2zM563.8 1379.2l-7.9-1 5.6-6.7 7.8 1.3zM555.9 1378.2l-7.8-.7 5.5-6.9 7.9.9zM548.1 1377.5l-7.8-.5 5.5-6.8 7.8.4zM540.3 1377l-7.8-.2 5.5-6.6 7.8 0zM530.2 1370.3l-7.9-.2 5.6-5.5 7.8-.3zM522.3 1370.1l-7.8-.6 5.5-5.1 7.9.2zM520 1364.4l-7.8-.5 5.5-4.5 7.9.2zM512.2 1363.9l-7.8-.8 5.5-4.1 7.8.4zM502.1 1358.6l-7.8-.3 5.5-3.7 7.8.2zM492 1354.4l-7.9-.3 5.6-4.1 7.8.4zM489.7 1350l-7.9-.6 5.6-4.5 7.8.7zM481.8 1349.4l-7.8-.8 5.5-4.5 7.9.8zM479.5 1344.1l-7.8-.9 5.5-4.4 7.8.8zM471.7 1343.2l-7.8-1 5.5-4.2 7.8.8zM463.9 1342.2l-7.8-1 5.5-4.1 7.8.9zM461.6 1337.1l-7.8-.8 5.5-3.8 7.8.6zM453.8 1336.3l-7.9-.7 5.5-3.7 7.9.6zM451.4 1331.9l-7.8-.6 5.5-3.6 7.9.5zM441.3 1327.2l-7.8-.7 5.5-3.7 7.8.6zM433.5 1326.5l-7.8-.7 5.5-3.7 7.8.7zM423.4 1321.2l-7.9-.9 5.6-4.2 7.8 1zM415.5 1320.3l-7.8-1 5.5-4.2 7.9 1zM407.7 1319.3l-7.8-1 5.5-4.2 7.8 1zM399.9 1318.3l-7.8-1 5.5-4.4 7.8 1.2zM392.1 1317.3l-7.9-1.1 5.6-4.5 7.8 1.2zM384.2 1316.2l-7.8-1.2 5.5-4.6 7.9 1.3zM350.6 1304.9l-7.8-.4 5.5-5.2 7.9.4zM342.8 1304.5l-7.8.3 5.5-5.2 7.8-.3zM340.5 1299.6l-7.8 1.4 5.5-5.6 7.8-1.4z"/><path fill="#ffbd28" stroke="#8c6716" d="M602.9 1387.3l-7.8-1.9 5.5-5.4 7.8 2.1zM595.1 1385.4l-7.9-1.8 5.6-5.6 7.8 2zM587.2 1383.6l-7.8-1.7 5.5-5.8 7.9 1.9zM579.4 1381.9l-7.8-1.5 5.5-6.1 7.8 1.8zM571.6 1380.4l-7.8-1.2 5.5-6.4 7.8 1.5zM545.8 1370.2l-7.8 0 5.5-6.3 7.8-.2zM538 1370.2l-7.8.1 5.5-6 7.8-.4zM527.9 1364.6l-7.9-.2 5.6-4.8 7.8-.4zM517.7 1359.4l-7.8-.4 5.5-4 7.9.1zM509.9 1359l-7.8-.4 5.5-3.8 7.8.2zM507.6 1354.8l-7.8-.2 5.5-3.9 7.8.2zM499.8 1354.6l-7.8-.2 5.5-4 7.8.3zM497.5 1350.4l-7.8-.4 5.5-4.4 7.8.6zM495.2 1345.6l-7.8-.7 5.5-4.5 7.8.7zM487.4 1344.9l-7.9-.8 5.5-4.5 7.9.8zM485 1339.6l-7.8-.8 5.5-4.3 7.9.7zM477.2 1338.8l-7.8-.8 5.5-4.2 7.8.7zM469.4 1338l-7.8-.9 5.5-4 7.8.7zM467.1 1333.1l-7.8-.6 5.5-3.9 7.8.5zM459.3 1332.5l-7.9-.6 5.6-3.7 7.8.4zM457 1328.2l-7.9-.5 5.6-3.8 7.8.4zM449.1 1327.7l-7.8-.5 5.5-3.8 7.9.5zM446.8 1323.4l-7.8-.6 5.5-4.1 7.9.6zM439 1322.8l-7.8-.7 5.5-4.2 7.8.8zM431.2 1322.1l-7.8-.9 5.5-4.1 7.8.8zM405.4 1314.1l-7.8-1.2 5.5-4.9 7.8 1.2zM397.6 1312.9l-7.8-1.2 5.5-5 7.8 1.3zM389.8 1311.7l-7.9-1.3 5.6-5.1 7.8 1.4zM381.9 1310.4l-7.8-1.5 5.5-5.1 7.9 1.5zM374.1 1308.9l-7.8-1.6 5.5-5.1 7.8 1.6zM366.3 1307.3l-7.8-1.4 5.5-5.1 7.8 1.4zM358.5 1305.9l-7.9-1 5.6-5.2 7.8 1.1zM348.3 1299.3l-7.8.3 5.5-5.6 7.9-.3zM346 1294l-7.8 1.4 5.5-5.8 7.9-1.4z"/><path fill="#ffc323" stroke="#8c6b13" d="M631.9 1388.1l-7.8-2 5.5-5 7.8 2zM624.1 1386.1l-7.9-2 5.6-5 7.8 2zM616.2 1384.1l-7.8-2 5.5-5.1 7.9 2.1zM608.4 1382.1l-7.8-2.1 5.5-5.1 7.8 2.1zM600.6 1380l-7.8-2 5.5-5.3 7.8 2.2zM592.8 1378l-7.9-1.9 5.6-5.5 7.8 2.1zM584.9 1376.1l-7.8-1.8 5.5-5.8 7.9 2.1zM577.1 1374.3l-7.8-1.5 5.5-6.2 7.8 1.9zM569.3 1372.8l-7.8-1.3 5.5-6.4 7.8 1.5zM561.5 1371.5l-7.9-.9 5.6-6.6 7.8 1.1zM553.6 1370.6l-7.8-.4 5.5-6.5 7.9.3zM543.5 1363.9l-7.8.4 5.5-5.8 7.8-.7zM535.7 1364.3l-7.8.3 5.5-5.4 7.8-.7zM533.4 1359.2l-7.8.4 5.5-4.8 7.8-.6zM525.6 1359.6l-7.9-.2 5.6-4.3 7.8-.3zM515.4 1355l-7.8-.2 5.5-3.9 7.9 0zM513.1 1350.9l-7.8-.2 5.5-4.2 7.8.2zM505.3 1350.7l-7.8-.3 5.5-4.2 7.8.3zM503 1346.2l-7.8-.6 5.5-4.5 7.8.6zM500.7 1341.1l-7.8-.7 5.5-4.6 7.8.7zM492.9 1340.4l-7.9-.8 5.6-4.4 7.8.6zM490.6 1335.2l-7.9-.7 5.6-4.4 7.8.6zM482.7 1334.5l-7.8-.7 5.5-4.2 7.9.5zM474.9 1333.8l-7.8-.7 5.5-4 7.8.5zM472.6 1329.1l-7.8-.5 5.5-4 7.8.4zM464.8 1328.6l-7.8-.4 5.5-3.9 7.8.3zM462.5 1324.3l-7.8-.4 5.5-4.2 7.8.4zM454.7 1323.9l-7.9-.5 5.6-4.1 7.8.4zM444.5 1318.7l-7.8-.8 5.5-4.6 7.9.7zM436.7 1317.9l-7.8-.8 5.5-4.7 7.8.9zM428.9 1317.1l-7.8-1 5.5-4.7 7.8 1zM421.1 1316.1l-7.9-1 5.6-4.7 7.8 1zM413.2 1315.1l-7.8-1 5.5-4.9 7.9 1.2zM403.1 1308l-7.8-1.3 5.5-5.5 7.8 1.4zM395.3 1306.7l-7.8-1.4 5.5-5.5 7.8 1.4zM387.5 1305.3l-7.9-1.5 5.6-5.6 7.8 1.6zM379.6 1303.8l-7.8-1.6 5.5-5.6 7.9 1.6zM371.8 1302.2l-7.8-1.4 5.5-5.6 7.8 1.4zM364 1300.8l-7.8-1.1 5.5-5.6 7.8 1.1zM356.2 1299.7l-7.9-.4 5.6-5.6 7.8.4zM353.9 1293.7l-7.9.3 5.6-5.8 7.8-.4zM351.6 1288.2l-7.9 1.4 5.5-6 7.9-1.4z"/><path fill="#ffc91d" stroke="#8c6e0f" d="M637.4 1383.1l-7.8-2 5.5-4.9 7.8 2zM629.6 1381.1l-7.8-2 5.5-4.9 7.8 2zM621.8 1379.1l-7.9-2.1 5.5-4.9 7.9 2.1zM613.9 1377l-7.8-2.1 5.5-5 7.8 2.2zM606.1 1374.9l-7.8-2.2 5.5-5 7.8 2.2zM559.2 1364l-7.9-.3 5.6-6.2 7.8.4zM551.3 1363.7l-7.8.2 5.5-6.1 7.9-.3zM541.2 1358.5l-7.8.7 5.5-5 7.8-1zM531.1 1354.8l-7.8.3 5.5-4.3 7.8-.5zM523.3 1355.1l-7.9-.1 5.6-4.1 7.8-.1zM521 1350.9l-7.9 0 5.5-4.2 7.9 0zM518.6 1346.7l-7.8-.2 5.5-4.4 7.9.2zM510.8 1346.5l-7.8-.3 5.5-4.5 7.8.4zM508.5 1341.7l-7.8-.6 5.5-4.6 7.8.5zM506.2 1336.5l-7.8-.7 5.5-4.6 7.8.6zM498.4 1335.8l-7.8-.6 5.5-4.5 7.8.5zM496.1 1330.7l-7.8-.6 5.5-4.4 7.8.5zM488.3 1330.1l-7.9-.5 5.6-4.2 7.8.3zM480.4 1329.6l-7.8-.5 5.5-4.1 7.9.4zM478.1 1325l-7.8-.4 5.5-4.2 7.9.3zM470.3 1324.6l-7.8-.3 5.5-4.2 7.8.3zM460.2 1319.7l-7.8-.4 5.5-4.7 7.8.6zM452.4 1319.3l-7.9-.6 5.6-4.7 7.8.6zM442.2 1313.3l-7.8-.9 5.5-5.4 7.8.9zM434.4 1312.4l-7.8-1 5.5-5.4 7.8 1zM426.6 1311.4l-7.8-1 5.5-5.4 7.8 1zM418.8 1310.4l-7.9-1.2 5.6-5.4 7.8 1.2zM410.9 1309.2l-7.8-1.2 5.5-5.4 7.9 1.2zM416.5 1303.8l-7.9-1.2 5.5-5.9 7.9 1.2zM408.6 1302.6l-7.8-1.4 5.5-5.8 7.8 1.3zM400.8 1301.2l-7.8-1.4 5.5-5.9 7.8 1.5zM393 1299.8l-7.8-1.6 5.5-5.9 7.8 1.6zM385.2 1298.2l-7.9-1.6 5.6-5.9 7.8 1.6zM377.3 1296.6l-7.8-1.4 5.5-5.9 7.9 1.4zM369.5 1295.2l-7.8-1.1 5.5-5.8 7.8 1zM361.7 1294.1l-7.8-.4 5.5-5.9 7.8.5zM359.4 1287.8l-7.8.4 5.5-6 7.8-.3zM357.1 1282.2l-7.9 1.4 5.6-5.8 7.8-1.4z"/><path fill="#ffd019" stroke="#8c720d" d="M642.9 1378.2l-7.8-2 5.5-4.7 7.8 1.9zM635.1 1376.2l-7.8-2 5.5-4.7 7.8 2zM627.3 1374.2l-7.9-2.1 5.6-4.7 7.8 2.1zM598.3 1372.7l-7.8-2.1 5.5-5.2 7.8 2.3zM590.5 1370.6l-7.9-2.1 5.6-5.4 7.8 2.3zM582.6 1368.5l-7.8-1.9 5.5-5.7 7.9 2.2zM574.8 1366.6l-7.8-1.5 5.5-6 7.8 1.8zM567 1365.1l-7.8-1.1 5.5-6.1 7.8 1.2zM549 1357.8l-7.8.7 5.5-5.3 7.9-.9zM538.9 1354.2l-7.8.6 5.5-4.5 7.8-.9zM536.6 1350.3l-7.8.5 5.5-4.4 7.8-.6zM528.8 1350.8l-7.8.1 5.5-4.2 7.8-.3zM534.3 1346.4l-7.8.3 5.5-4.5 7.8-.2zM526.5 1346.7l-7.9 0 5.6-4.4 7.8-.1zM524.2 1342.3l-7.9-.2 5.6-4.6 7.8.2zM516.3 1342.1l-7.8-.4 5.5-4.7 7.9.5zM521.9 1337.5l-7.9-.5 5.6-4.7 7.8.5zM514 1337l-7.8-.5 5.5-4.7 7.9.5zM511.7 1331.8l-7.8-.6 5.5-4.6 7.9.5zM503.9 1331.2l-7.8-.5 5.5-4.5 7.8.4zM493.8 1325.7l-7.8-.3 5.5-4.4 7.8.3zM486 1325.4l-7.9-.4 5.6-4.3 7.8.3zM483.7 1320.7l-7.9-.3 5.5-4.5 7.9.3zM475.8 1320.4l-7.8-.3 5.5-4.5 7.8.3zM468 1320.1l-7.8-.4 5.5-4.5 7.8.4zM473.5 1315.6l-7.8-.4 5.5-5.1 7.8.5zM465.7 1315.2l-7.8-.6 5.5-5.2 7.8.7zM457.9 1314.6l-7.8-.6 5.5-5.3 7.8.7zM450.1 1314l-7.9-.7 5.5-5.4 7.9.8zM455.6 1308.7l-7.9-.8 5.6-5.7 7.8.8zM447.7 1307.9l-7.8-.9 5.5-5.8 7.9 1zM439.9 1307l-7.8-1 5.5-5.8 7.8 1zM432.1 1306l-7.8-1 5.5-5.9 7.8 1.1zM424.3 1305l-7.8-1.2 5.5-5.9 7.8 1.2zM429.8 1299.1l-7.8-1.2 5.5-6 7.8 1.2zM422 1297.9l-7.9-1.2 5.6-6 7.8 1.2zM414.1 1296.7l-7.8-1.3 5.5-6 7.9 1.3zM406.3 1295.4l-7.8-1.5 5.5-6 7.8 1.5zM398.5 1293.9l-7.8-1.6 5.5-5.9 7.8 1.5zM390.7 1292.3l-7.8-1.6 5.5-5.9 7.8 1.6zM382.9 1290.7l-7.9-1.4 5.5-6 7.9 1.5zM375 1289.3l-7.8-1 5.5-6 7.8 1zM367.2 1288.3l-7.8-.5 5.5-5.9 7.8.4zM372.7 1282.3l-7.8-.4 5.5-5.8 7.8.4zM364.9 1281.9l-7.8.3 5.5-5.8 7.8-.3zM362.6 1276.4l-7.8 1.4 5.5-5.5 7.8-1.4z"/><path fill="#ffd715" stroke="#8c760b" d="M619.4 1372.1l-7.8-2.2 5.5-4.7 7.9 2.2zM611.6 1369.9l-7.8-2.2 5.5-4.7 7.8 2.2zM603.8 1367.7l-7.8-2.3 5.5-4.8 7.8 2.4zM596 1365.4l-7.8-2.3 5.5-5 7.8 2.5zM588.2 1363.1l-7.9-2.2 5.5-5.2 7.9 2.4zM580.3 1360.9l-7.8-1.8 5.5-5.5 7.8 2.1zM572.5 1359.1l-7.8-1.2 5.5-5.7 7.8 1.4zM564.7 1357.9l-7.8-.4 5.5-5.7 7.8.4zM556.9 1357.5l-7.9.3 5.6-5.5 7.8-.5zM554.6 1352.3l-7.9.9 5.5-4.9 7.9-1zM546.7 1353.2l-7.8 1 5.5-4.8 7.8-1.1zM544.4 1349.4l-7.8.9 5.5-4.5 7.8-.9zM542.1 1345.8l-7.8.6 5.5-4.4 7.8-.6zM539.8 1342l-7.8.2 5.5-4.5 7.8-.1zM532 1342.2l-7.8.1 5.5-4.6 7.8 0zM537.5 1337.7l-7.8 0 5.5-4.6 7.8.1zM529.7 1337.7l-7.8-.2 5.5-4.7 7.8.3zM527.4 1332.8l-7.8-.5 5.5-4.7 7.8.5zM519.6 1332.3l-7.9-.5 5.6-4.7 7.8.5zM517.3 1327.1l-7.9-.5 5.5-4.5 7.9.4zM509.4 1326.6l-7.8-.4 5.5-4.6 7.8.5zM501.6 1326.2l-7.8-.5 5.5-4.4 7.8.3zM499.3 1321.3l-7.8-.3 5.5-4.5 7.8.3zM491.5 1321l-7.8-.3 5.5-4.5 7.8.3zM489.2 1316.2l-7.9-.3 5.6-4.9 7.8.4zM481.3 1315.9l-7.8-.3 5.5-5 7.9.4zM479 1310.6l-7.8-.5 5.5-5.5 7.9.7zM471.2 1310.1l-7.8-.7 5.5-5.5 7.8.7zM463.4 1309.4l-7.8-.7 5.5-5.7 7.8.9zM468.9 1303.9l-7.8-.9 5.5-5.8 7.8.9zM461.1 1303l-7.8-.8 5.5-6 7.8 1zM453.3 1302.2l-7.9-1 5.6-6 7.8 1zM445.4 1301.2l-7.8-1 5.5-6.1 7.9 1.1zM437.6 1300.2l-7.8-1.1 5.5-6 7.8 1zM435.3 1293.1l-7.8-1.2 5.5-6 7.8 1.1zM427.5 1291.9l-7.8-1.2 5.5-6 7.8 1.2zM419.7 1290.7l-7.9-1.3 5.6-6 7.8 1.3zM411.8 1289.4l-7.8-1.5 5.5-5.9 7.9 1.4zM404 1287.9l-7.8-1.5 5.5-5.9 7.8 1.5zM396.2 1286.4l-7.8-1.6 5.5-5.9 7.8 1.6zM388.4 1284.8l-7.9-1.5 5.6-5.8 7.8 1.4zM380.5 1283.3l-7.8-1 5.5-5.8 7.9 1zM378.2 1276.5l-7.8-.4 5.5-5.6 7.9.5zM370.4 1276.1l-7.8.3 5.5-5.5 7.8-.4zM425.6 1246.4l-7.8.3 5.5-1.3 7.8-.3zM431.1 1245.1l-7.8.3 5.5-1.5 7.8-.3zM368.1 1270.9l-7.8 1.4 5.5-5 7.8-1.4zM373.6 1265.9l-7.8 1.4 5.5-4.3 7.9-1.4zM406.7 1249.4l-7.8 1.4 5.5-1.4 7.9-1.4zM412.3 1248l-7.9 1.4 5.6-1.3 7.8-1.4zM417.8 1246.7l-7.8 1.4 5.5-1.3 7.8-1.4zM423.3 1245.4l-7.8 1.4 5.5-1.5 7.8-1.4z"/></g><path d="M161.5 1471.2h0M194.1 1480.4h0M226.7 1490h0M259.3 1499.5h0M291.9 1508.7h0M324.5 1518.8h0M357.1 1529.9h0M389.7 1538.2h0M422.3 1549.1h0M454.9 1559h0M487.5 1581h0M199.2 1435.9h0M231.8 1443.3h0M264.4 1451.1h0M297 1456.4h0M329.6 1462.5h0M362.2 1468.2h0M394.8 1472.1h0M427.4 1481.2h0M460 1490.1h0M492.6 1498h0M525.2 1510.3h0M236.8 1399.1h0M269.4 1404h0M302 1408.5h0M334.6 1413.7h0M367.2 1416.3h0M399.8 1420.2h0M432.4 1424.6h0M465 1430.3h0M497.6 1436.9h0M530.2 1443.4h0M562.8 1436.8h0M274.5 1362.6h0M307.1 1360.2h0M339.7 1372.2h0M372.3 1375.7h0M404.9 1378.4h0M437.5 1382.5h0M470.1 1375.3h0M502.7 1387.5h0M535.3 1390.1h0M567.9 1392.2h0M600.5 1398.2h0M312.2 1330.8h0M344.8 1333.3h0M377.4 1337.2h0M410 1341h0M442.6 1344.1h0M475.2 1349.3h0M507.8 1351.1h0M540.4 1351.1h0M573 1343.6h0M605.6 1356.2h0M638.2 1365.3h0M349.8 1300.7h0M382.4 1305.2h0M415 1311.2h0M447.6 1315.1h0M480.2 1316.9h0M512.8 1317.7h0M545.4 1320h0M578 1322.6h0M610.6 1326.9h0M643.2 1332.6h0M675.8 1341.2h0M387.5 1263.2h0M420.1 1267.6h0M452.7 1272.8h0M485.3 1277.2h0M517.9 1284h0M550.5 1290.2h0M583.1 1296.7h0M615.7 1302.8h0M648.3 1309.5h0M680.9 1314.7h0M713.5 1321.7h0M425.2 1247.6h0M457.8 1252h0M490.4 1256.7h0M523 1263.2h0M555.6 1269.7h0M588.2 1276h0M620.8 1281h0M653.4 1287.2h0M686 1294.5h0M718.6 1301.7h0M751.2 1307.4h0" stroke="#000" stroke-width="5" stroke-linecap="round"/><path d="M134 1516.9L493.9 1596.6L780.9 1496.8" stroke="#262626" stroke-width="1.1" fill="none"/><path d="M152.1 1520.9L144.1 1523.7M233.6 1539L225.6 1541.7M315.1 1557L307.1 1559.8M396.6 1575.1L388.6 1577.8M478.1 1593.1L470.1 1595.9M503.3 1593.3L511.6 1595.2M578.6 1567.1L586.9 1569M654 1540.9L662.3 1542.8M729.3 1514.7L737.6 1516.6M134 1463.7L125.7 1461.8M134 1394.1L125.7 1392.3M134 1324.6L125.7 1322.7" stroke="#262626" stroke-width="1.1" fill="none"/><g font-size="20"><text x="137.1" y="1549" text-anchor="end">0.2</text><text x="218.6" y="1567.1" text-anchor="end">0.15</text><text x="300.1" y="1585.1" text-anchor="end">0.1</text><text x="381.6" y="1603.2" text-anchor="end">0.05</text><text x="463.1" y="1621.2" text-anchor="end">0</text><text x="517.8" y="1620.9">12</text><text x="593.1" y="1594.7">10</text><text x="668.5" y="1568.5">8</text><text x="743.8" y="1542.3">6</text><text x="114.5" y="1470.8" text-anchor="end">0.6</text><text x="114.5" y="1401.2" text-anchor="end">0.8</text><text x="114.5" y="1331.7" text-anchor="end">1</text></g><g font-size="22"><text transform="translate(77.8 1420) rotate(-90)" text-anchor="middle">Reliability</text><text transform="translate(272 1623.5) rotate(12.49)" text-anchor="middle">Coefficient of vehicle parameters</text><text transform="translate(708.4 1601.7) rotate(-19.17)" text-anchor="middle">Foundation settling /(mm)</text></g><g font-family="Liberation Serif, serif" font-size="38" fill="#000" transform="translate(0 1749.9)"><text x="357.8">(</text><text x="369.6" textLength="21.5" lengthAdjust="spacingAndGlyphs" font-weight="bold">d</text><text x="392.2" textLength="12.3" lengthAdjust="spacingAndGlyphs">)</text><text x="415.2" textLength="55.6" lengthAdjust="spacingAndGlyphs">425</text><text x="482.1" textLength="87.6" lengthAdjust="spacingAndGlyphs">km/h</text></g></g>
<g><path d="M144.1 2137.5L421.2 2052.5L421.2 1816.9M231.9 2151.2L509 2066.2L509 1830.6M319.8 2165L596.9 2080L596.9 1844.4M407.7 2178.8L684.8 2093.8L684.8 1858.2M495.6 2192.6L772.7 2107.6L772.7 1872M524.9 2191.6L138.9 2131.1L138.9 1895.5M597.1 2169.5L211.1 2109L211.1 1873.4M669.3 2147.4L283.3 2086.9L283.3 1851.3M741.5 2125.2L355.5 2064.7L355.5 1829.1M127 2098.3L404.1 2013.3L790.1 2073.8M127 2034.7L404.1 1949.7L790.1 2010.2M127 1971.1L404.1 1886.1L790.1 1946.6M127 1907.5L404.1 1822.5L790.1 1883" stroke="#dcdcdc" stroke-width="1" fill="none"/><path d="M127 2134.8L127 1899.2M404.1 2049.8L404.1 1814.2M790.1 2110.3L790.1 1874.7M127 1899.2L404.1 1814.2L790.1 1874.7M127 2134.8L404.1 2049.8L790.1 2110.3" stroke="#262626" stroke-width="1.1" fill="none"/><g stroke-width="0.75"><path fill="#00b8e2" stroke="#00657c" d="M576.9 2094.9l-8.3-1.9 5.3-11.1 8.4 1.7zM568.6 2093l-8.4-2.1 5.3-10.9 8.4 1.9zM560.2 2090.9l-8.4-2.2 5.3-10.6 8.4 1.9zM551.8 2088.7l-8.4-2.2 5.3-10.4 8.4 2zM543.4 2086.5l-8.4-2.3 5.3-10.1 8.4 2zM487.7 2082.6l-8.4-2 5.3-8.9 8.4 1.9zM479.3 2080.6l-8.4-1.8 5.4-8.8 8.3 1.7zM470.9 2078.8l-8.4-1.9 5.4-8.6 8.4 1.7zM462.5 2076.9l-8.4-1.7 5.4-8.6 8.4 1.7zM454.1 2075.2l-8.4-1.8 5.4-8.5 8.4 1.7zM445.7 2073.4l-8.3-1.9 5.3-8.4 8.4 1.8zM437.4 2071.5l-8.4-2 5.3-8.2 8.4 1.8zM398.5 2070.2l-8.4-2.9 5.3-7.5 8.4 2.7zM390.1 2067.3l-8.4-2.8 5.3-7.4 8.4 2.7zM381.7 2064.5l-8.4-2.7 5.3-7.3 8.4 2.6zM359.6 2066.3l-8.4-2.4 5.3-6.9 8.4 2.3zM351.2 2063.9l-8.4-2.3 5.3-6.7 8.4 2.1zM342.8 2061.6l-8.4-2.2 5.3-6.5 8.4 2zM334.4 2059.4l-8.4-2.1 5.3-6.3 8.4 1.9zM312.3 2061.1l-8.4-2.1 5.3-5.7 8.4 2zM303.9 2059l-8.4-2.1 5.3-5.5 8.4 1.9zM295.5 2056.9l-8.4-2 5.3-5.4 8.4 1.9zM287.1 2054.9l-8.4-1.9 5.3-5.4 8.4 1.9zM278.7 2053l-8.4-1.9 5.4-5.3 8.3 1.8zM270.3 2051.1l-8.4-1.9 5.4-5.3 8.4 1.9zM256.6 2054.3l-8.4-2 5.3-5.1 8.4 2zM248.2 2052.3l-8.4-2 5.4-5 8.3 1.9zM239.8 2050.3l-8.4-2.1 5.4-4.9 8.4 2zM231.4 2048.2l-8.4-2 5.4-4.9 8.4 2zM223 2046.2l-8.4-1.9 5.4-4.8 8.4 1.8zM209.3 2048.9l-8.4-1.8 5.4-4.5 8.3 1.7zM214.6 2044.3l-8.3-1.7 5.3-4.7 8.4 1.6zM200.9 2047.1l-8.4-1.7 5.4-4.4 8.4 1.6zM206.3 2042.6l-8.4-1.6 5.3-4.6 8.4 1.5zM192.5 2045.4l-8.4-1.6 5.4-4.4 8.4 1.6zM184.1 2043.8l-8.3-1.5 5.3-4.3 8.4 1.4zM175.8 2042.3l-8.4-1.5 5.3-4.2 8.4 1.4zM167.4 2040.8l-8.4-1.4 5.3-4.2 8.4 1.4z"/><path fill="#00bcdc" stroke="#006779" d="M535 2084.2l-8.4-2.3 5.3-9.9 8.4 2.1zM526.6 2081.9l-8.4-2.2 5.3-9.6 8.4 1.9zM518.2 2079.7l-8.4-2.1 5.3-9.4 8.4 1.9zM509.8 2077.6l-8.4-2.1 5.4-9.2 8.3 1.9zM501.4 2075.5l-8.4-1.9 5.4-9.1 8.4 1.8zM429 2069.5l-8.4-2.1 5.3-8.2 8.4 2.1zM420.6 2067.4l-8.4-2.4 5.3-8 8.4 2.2zM412.2 2065l-8.4-2.5 5.3-7.9 8.4 2.4zM403.8 2062.5l-8.4-2.7 5.3-7.8 8.4 2.6zM373.3 2061.8l-8.4-2.5 5.3-7.2 8.4 2.4zM364.9 2059.3l-8.4-2.3 5.3-7 8.4 2.1zM356.5 2057l-8.4-2.1 5.3-6.9 8.4 2zM348.1 2054.9l-8.4-2 5.4-6.7 8.3 1.8zM326 2057.3l-8.4-2 5.3-6.1 8.4 1.8zM317.6 2055.3l-8.4-2 5.3-5.9 8.4 1.8zM309.2 2053.3l-8.4-1.9 5.4-5.8 8.3 1.8zM300.8 2051.4l-8.4-1.9 5.4-5.6 8.4 1.7zM292.4 2049.5l-8.4-1.9 5.4-5.5 8.4 1.8zM284 2047.6l-8.3-1.8 5.3-5.5 8.4 1.8zM275.7 2045.8l-8.4-1.9 5.3-5.4 8.4 1.8zM261.9 2049.2l-8.4-2 5.4-5.2 8.4 1.9zM267.3 2043.9l-8.4-1.9 5.3-5.4 8.4 1.9zM253.5 2047.2l-8.3-1.9 5.3-5.2 8.4 1.9zM245.2 2045.3l-8.4-2 5.3-5.1 8.4 1.9zM236.8 2043.3l-8.4-2 5.3-4.9 8.4 1.8zM228.4 2041.3l-8.4-1.8 5.3-4.9 8.4 1.8zM220 2039.5l-8.4-1.6 5.3-4.8 8.4 1.5zM211.6 2037.9l-8.4-1.5 5.3-4.8 8.4 1.5zM197.9 2041l-8.4-1.6 5.3-4.5 8.4 1.5zM203.2 2036.4l-8.4-1.5 5.3-4.7 8.4 1.4zM189.5 2039.4l-8.4-1.4 5.3-4.5 8.4 1.4zM194.8 2034.9l-8.4-1.4 5.3-4.7 8.4 1.4zM181.1 2038l-8.4-1.4 5.3-4.4 8.4 1.3zM186.4 2033.5l-8.4-1.3 5.4-4.7 8.3 1.3zM172.7 2036.6l-8.4-1.4 5.3-4.4 8.4 1.4zM178 2032.2l-8.4-1.4 5.4-4.6 8.4 1.3z"/><path fill="#00c0d4" stroke="#006974" d="M582.3 2083.6l-8.4-1.7 5.3-10.8 8.4 1.5zM573.9 2081.9l-8.4-1.9 5.3-10.6 8.4 1.7zM565.5 2080l-8.4-1.9 5.3-10.4 8.4 1.7zM493 2073.6l-8.4-1.9 5.4-8.9 8.4 1.7zM484.6 2071.7l-8.3-1.7 5.3-8.8 8.4 1.6zM476.3 2070l-8.4-1.7 5.3-8.7 8.4 1.6zM467.9 2068.3l-8.4-1.7 5.3-8.6 8.4 1.6zM459.5 2066.6l-8.4-1.7 5.3-8.5 8.4 1.6zM451.1 2064.9l-8.4-1.8 5.3-8.4 8.4 1.7zM442.7 2063.1l-8.4-1.8 5.3-8.4 8.4 1.8zM434.3 2061.3l-8.4-2.1 5.3-8.3 8.4 2zM425.9 2059.2l-8.4-2.2 5.3-8.2 8.4 2.1zM395.4 2059.8l-8.4-2.7 5.3-7.6 8.4 2.5zM387 2057.1l-8.4-2.6 5.3-7.5 8.4 2.5zM378.6 2054.5l-8.4-2.4 5.4-7.3 8.3 2.2zM339.7 2052.9l-8.4-1.9 5.4-6.5 8.4 1.7zM331.3 2051l-8.4-1.8 5.4-6.3 8.4 1.6zM322.9 2049.2l-8.4-1.8 5.4-6.1 8.4 1.6zM314.5 2047.4l-8.3-1.8 5.3-5.9 8.4 1.6zM306.2 2045.6l-8.4-1.7 5.3-5.8 8.4 1.6zM297.8 2043.9l-8.4-1.8 5.3-5.7 8.4 1.7zM289.4 2042.1l-8.4-1.8 5.3-5.7 8.4 1.8zM281 2040.3l-8.4-1.8 5.3-5.6 8.4 1.7zM258.9 2042l-8.4-1.9 5.3-5.3 8.4 1.8zM250.5 2040.1l-8.4-1.9 5.3-5.2 8.4 1.8zM242.1 2038.2l-8.4-1.8 5.3-5.2 8.4 1.8zM233.7 2036.4l-8.4-1.8 5.3-5 8.4 1.6zM225.3 2034.6l-8.4-1.5 5.3-5.1 8.4 1.6zM216.9 2033.1l-8.4-1.5 5.4-5 8.3 1.4zM208.5 2031.6l-8.4-1.4 5.4-4.9 8.4 1.3zM200.1 2030.2l-8.4-1.4 5.4-4.9 8.4 1.4zM191.7 2028.8l-8.3-1.3 5.3-4.9 8.4 1.3zM183.4 2027.5l-8.4-1.3 5.3-4.9 8.4 1.3z"/><path fill="#00c3cd" stroke="#006b70" d="M557.1 2078.1l-8.4-2 5.3-10.2 8.4 1.8zM548.7 2076.1l-8.4-2 5.3-9.9 8.4 1.7zM540.3 2074.1l-8.4-2.1 5.4-9.6 8.3 1.8zM531.9 2072l-8.4-1.9 5.4-9.4 8.4 1.7zM523.5 2070.1l-8.4-1.9 5.4-9.2 8.4 1.7zM515.1 2068.2l-8.3-1.9 5.3-9 8.4 1.7zM506.8 2066.3l-8.4-1.8 5.3-8.8 8.4 1.6zM498.4 2064.5l-8.4-1.7 5.3-8.7 8.4 1.6zM417.5 2057l-8.4-2.4 5.3-8.1 8.4 2.3zM409.1 2054.6l-8.4-2.6 5.4-7.8 8.3 2.3zM400.7 2052l-8.4-2.5 5.4-7.7 8.4 2.4zM370.2 2052.1l-8.4-2.1 5.4-7.2 8.4 2zM361.8 2050l-8.4-2 5.4-7 8.4 1.8zM353.4 2048l-8.3-1.8 5.3-6.9 8.4 1.7zM345.1 2046.2l-8.4-1.7 5.3-6.7 8.4 1.5zM336.7 2044.5l-8.4-1.6 5.3-6.5 8.4 1.4zM328.3 2042.9l-8.4-1.6 5.3-6.2 8.4 1.3zM319.9 2041.3l-8.4-1.6 5.3-6 8.4 1.4zM311.5 2039.7l-8.4-1.6 5.3-5.9 8.4 1.5zM303.1 2038.1l-8.4-1.7 5.3-5.8 8.4 1.6zM294.7 2036.4l-8.4-1.8 5.3-5.7 8.4 1.7zM286.3 2034.6l-8.4-1.7 5.4-5.7 8.3 1.7zM272.6 2038.5l-8.4-1.9 5.3-5.5 8.4 1.8zM264.2 2036.6l-8.4-1.8 5.3-5.5 8.4 1.8zM255.8 2034.8l-8.4-1.8 5.3-5.4 8.4 1.7zM247.4 2033l-8.4-1.8 5.4-5.3 8.3 1.7zM239 2031.2l-8.4-1.6 5.4-5.2 8.4 1.5zM230.6 2029.6l-8.4-1.6 5.4-5.1 8.4 1.5zM222.2 2028l-8.3-1.4 5.3-5.1 8.4 1.4zM213.9 2026.6l-8.4-1.3 5.3-5.2 8.4 1.4zM205.5 2025.3l-8.4-1.4 5.3-5.1 8.4 1.3zM197.1 2023.9l-8.4-1.3 5.3-5.1 8.4 1.3zM188.7 2022.6l-8.4-1.3 5.3-5.1 8.4 1.3z"/><path fill="#00c5c4" stroke="#006c6b" d="M490 2062.8l-8.4-1.6 5.3-8.7 8.4 1.6zM481.6 2061.2l-8.4-1.6 5.3-8.6 8.4 1.5zM473.2 2059.6l-8.4-1.6 5.3-8.6 8.4 1.6zM464.8 2058l-8.4-1.6 5.3-8.6 8.4 1.6zM456.4 2056.4l-8.4-1.7 5.3-8.5 8.4 1.6zM448 2054.7l-8.4-1.8 5.4-8.4 8.3 1.7zM439.6 2052.9l-8.4-2 5.4-8.3 8.4 1.9zM431.2 2050.9l-8.4-2.1 5.4-8.2 8.4 2zM422.8 2048.8l-8.4-2.3 5.4-8 8.4 2.1zM392.3 2049.5l-8.4-2.5 5.4-7.5 8.4 2.3zM383.9 2047l-8.3-2.2 5.3-7.4 8.4 2.1zM375.6 2044.8l-8.4-2 5.3-7.2 8.4 1.8zM367.2 2042.8l-8.4-1.8 5.3-7.1 8.4 1.7zM358.8 2041l-8.4-1.7 5.3-6.9 8.4 1.5zM350.4 2039.3l-8.4-1.5 5.3-6.7 8.4 1.3zM342 2037.8l-8.4-1.4 5.3-6.5 8.4 1.2zM333.6 2036.4l-8.4-1.3 5.3-6.4 8.4 1.2zM325.2 2035.1l-8.4-1.4 5.3-6.2 8.4 1.2zM316.8 2033.7l-8.4-1.5 5.4-6.1 8.3 1.4zM308.4 2032.2l-8.4-1.6 5.4-6 8.4 1.5zM300 2030.6l-8.4-1.7 5.4-5.9 8.4 1.6zM277.9 2032.9l-8.4-1.8 5.4-5.6 8.4 1.7zM269.5 2031.1l-8.4-1.8 5.4-5.5 8.4 1.7zM261.1 2029.3l-8.4-1.7 5.4-5.5 8.4 1.7zM252.7 2027.6l-8.3-1.7 5.3-5.3 8.4 1.5zM244.4 2025.9l-8.4-1.5 5.3-5.4 8.4 1.6zM236 2024.4l-8.4-1.5 5.3-5.3 8.4 1.4zM227.6 2022.9l-8.4-1.4 5.3-5.3 8.4 1.4zM219.2 2021.5l-8.4-1.4 5.3-5.2 8.4 1.3zM210.8 2020.1l-8.4-1.3 5.3-5.2 8.4 1.3zM202.4 2018.8l-8.4-1.3 5.3-5.2 8.4 1.3zM194 2017.5l-8.4-1.3 5.3-5.2 8.4 1.3z"/><path fill="#07c7bc" stroke="#036d67" d="M587.6 2072.6l-8.4-1.5 5.3-10.3 8.4 1.4zM579.2 2071.1l-8.4-1.7 5.4-10.1 8.3 1.5zM570.8 2069.4l-8.4-1.7 5.4-9.9 8.4 1.5zM562.4 2067.7l-8.4-1.8 5.4-9.6 8.4 1.5zM554 2065.9l-8.4-1.7 5.4-9.5 8.4 1.6zM545.6 2064.2l-8.3-1.8 5.3-9.2 8.4 1.5zM537.3 2062.4l-8.4-1.7 5.3-9.1 8.4 1.6zM528.9 2060.7l-8.4-1.7 5.3-8.9 8.4 1.5zM520.5 2059l-8.4-1.7 5.3-8.7 8.4 1.5zM512.1 2057.3l-8.4-1.6 5.3-8.6 8.4 1.5zM503.7 2055.7l-8.4-1.6 5.3-8.5 8.4 1.5zM495.3 2054.1l-8.4-1.6 5.3-8.4 8.4 1.5zM486.9 2052.5l-8.4-1.5 5.3-8.5 8.4 1.6zM478.5 2051l-8.4-1.6 5.4-8.4 8.3 1.5zM414.4 2046.5l-8.3-2.3 5.3-7.9 8.4 2.2zM406.1 2044.2l-8.4-2.4 5.3-7.7 8.4 2.2zM397.7 2041.8l-8.4-2.3 5.3-7.4 8.4 2zM389.3 2039.5l-8.4-2.1 5.3-7.3 8.4 2zM291.6 2028.9l-8.3-1.7 5.3-5.8 8.4 1.6zM283.3 2027.2l-8.4-1.7 5.3-5.8 8.4 1.7zM274.9 2025.5l-8.4-1.7 5.3-5.7 8.4 1.6zM266.5 2023.8l-8.4-1.7 5.3-5.5 8.4 1.5zM258.1 2022.1l-8.4-1.5 5.3-5.5 8.4 1.5zM249.7 2020.6l-8.4-1.6 5.3-5.4 8.4 1.5zM241.3 2019l-8.4-1.4 5.3-5.4 8.4 1.4zM232.9 2017.6l-8.4-1.4 5.3-5.3 8.4 1.3zM224.5 2016.2l-8.4-1.3 5.3-5.3 8.4 1.3zM216.1 2014.9l-8.4-1.3 5.4-5.3 8.3 1.3zM207.7 2013.6l-8.4-1.3 5.4-5.3 8.4 1.3zM199.3 2012.3l-8.4-1.3 5.4-5.4 8.4 1.4z"/><path fill="#08b3e8" stroke="#04627f" d="M521.3 2091.8l-8.4-2.4 5.3-9.7 8.4 2.2zM512.9 2089.4l-8.4-2.4 5.3-9.4 8.4 2.1zM504.5 2087l-8.4-2.2 5.3-9.3 8.4 2.1zM496.1 2084.8l-8.4-2.2 5.3-9 8.4 1.9zM432 2079.7l-8.4-2.1 5.4-8.1 8.4 2zM423.6 2077.6l-8.4-2.3 5.4-7.9 8.4 2.1zM415.2 2075.3l-8.3-2.4 5.3-7.9 8.4 2.4zM406.9 2072.9l-8.4-2.7 5.3-7.7 8.4 2.5zM384.7 2074.6l-8.3-2.9 5.3-7.2 8.4 2.8zM376.4 2071.7l-8.4-2.8 5.3-7.1 8.4 2.7zM368 2068.9l-8.4-2.6 5.3-7 8.4 2.5zM345.8 2070.4l-8.3-2.4 5.3-6.4 8.4 2.3zM337.5 2068l-8.4-2.4 5.3-6.2 8.4 2.2zM329.1 2065.6l-8.4-2.2 5.3-6.1 8.4 2.1zM320.7 2063.4l-8.4-2.3 5.3-5.8 8.4 2zM298.6 2064.5l-8.4-2.2 5.3-5.4 8.4 2.1zM290.2 2062.3l-8.4-2.1 5.3-5.3 8.4 2zM281.8 2060.2l-8.4-2 5.3-5.2 8.4 1.9zM273.4 2058.2l-8.4-1.9 5.3-5.2 8.4 1.9zM265 2056.3l-8.4-2 5.3-5.1 8.4 1.9zM251.3 2059.3l-8.4-2 5.3-5 8.4 2zM242.9 2057.3l-8.4-2.2 5.3-4.8 8.4 2zM234.5 2055.1l-8.4-2.1 5.3-4.8 8.4 2.1zM226.1 2053l-8.4-2.1 5.3-4.7 8.4 2zM212.4 2055.5l-8.4-2 5.3-4.6 8.4 2zM217.7 2050.9l-8.4-2 5.3-4.6 8.4 1.9zM204 2053.5l-8.4-1.9 5.3-4.5 8.4 1.8zM195.6 2051.6l-8.4-1.8 5.3-4.4 8.4 1.7zM187.2 2049.8l-8.4-1.7 5.3-4.3 8.4 1.6zM178.8 2048.1l-8.4-1.6 5.4-4.2 8.3 1.5zM165.1 2050.6l-8.4-1.7 5.3-4 8.4 1.6zM170.4 2046.5l-8.4-1.6 5.4-4.1 8.4 1.5zM156.7 2048.9l-8.4-1.6 5.3-3.9 8.4 1.5zM162 2044.9l-8.4-1.5 5.4-4 8.4 1.4z"/><path fill="#0dafed" stroke="#076082" d="M554.8 2101.9l-8.4-2.5 5.4-10.7 8.4 2.2zM546.4 2099.4l-8.3-2.5 5.3-10.4 8.4 2.2zM538.1 2096.9l-8.4-2.5 5.3-10.2 8.4 2.3zM529.7 2094.4l-8.4-2.6 5.3-9.9 8.4 2.3zM482.4 2091.6l-8.4-2.1 5.3-8.9 8.4 2zM474 2089.5l-8.4-2.1 5.3-8.6 8.4 1.8zM465.6 2087.4l-8.4-1.9 5.3-8.6 8.4 1.9zM457.2 2085.5l-8.4-1.9 5.3-8.4 8.4 1.7zM448.8 2083.6l-8.4-1.9 5.3-8.3 8.4 1.8zM440.4 2081.7l-8.4-2 5.4-8.2 8.3 1.9zM401.5 2080.4l-8.4-2.8 5.4-7.4 8.4 2.7zM393.1 2077.6l-8.4-3 5.4-7.3 8.4 2.9zM371 2078.6l-8.4-2.9 5.4-6.8 8.4 2.8zM362.6 2075.7l-8.4-2.7 5.4-6.7 8.4 2.6zM354.2 2073l-8.4-2.6 5.4-6.5 8.4 2.4zM332.1 2074.1l-8.4-2.5 5.4-6 8.4 2.4zM323.7 2071.6l-8.4-2.4 5.4-5.8 8.4 2.2zM315.3 2069.2l-8.3-2.4 5.3-5.7 8.4 2.3zM307 2066.8l-8.4-2.3 5.3-5.5 8.4 2.1zM293.2 2069.8l-8.4-2.3 5.4-5.2 8.4 2.2zM284.8 2067.5l-8.3-2.2 5.3-5.1 8.4 2.1zM276.5 2065.3l-8.4-2 5.3-5.1 8.4 2zM268.1 2063.3l-8.4-2 5.3-5 8.4 1.9zM254.3 2066.2l-8.4-2 5.4-4.9 8.4 2zM259.7 2061.3l-8.4-2 5.3-5 8.4 2zM245.9 2064.2l-8.3-2.1 5.3-4.8 8.4 2zM237.6 2062.1l-8.4-2.2 5.3-4.8 8.4 2.2zM229.2 2059.9l-8.4-2.2 5.3-4.7 8.4 2.1zM215.4 2062.4l-8.3-2.3 5.3-4.6 8.4 2.2zM220.8 2057.7l-8.4-2.2 5.3-4.6 8.4 2.1zM207.1 2060.1l-8.4-2.2 5.3-4.4 8.4 2zM198.7 2057.9l-8.4-2 5.3-4.3 8.4 1.9zM190.3 2055.9l-8.4-1.9 5.3-4.2 8.4 1.8zM176.6 2058.2l-8.4-1.8 5.3-4.2 8.4 1.8zM181.9 2054l-8.4-1.8 5.3-4.1 8.4 1.7zM168.2 2056.4l-8.4-1.8 5.3-4 8.4 1.6zM173.5 2052.2l-8.4-1.6 5.3-4.1 8.4 1.6zM159.8 2054.6l-8.4-1.8 5.3-3.9 8.4 1.7zM151.4 2052.8l-8.4-1.6 5.3-3.9 8.4 1.6z"/><path fill="#11aaf1" stroke="#095d84" d="M571.6 2106.2l-8.4-2.1 5.4-11.1 8.3 1.9zM563.2 2104.1l-8.4-2.2 5.4-11 8.4 2.1zM507.5 2099l-8.3-2.6 5.3-9.4 8.4 2.4zM499.2 2096.4l-8.4-2.5 5.3-9.1 8.4 2.2zM490.8 2093.9l-8.4-2.3 5.3-9 8.4 2.2zM435.1 2089.8l-8.4-2.2 5.3-7.9 8.4 2zM426.7 2087.6l-8.4-2.2 5.3-7.8 8.4 2.1zM418.3 2085.4l-8.4-2.4 5.3-7.7 8.4 2.3zM409.9 2083l-8.4-2.6 5.4-7.5 8.3 2.4zM387.8 2084.6l-8.4-3 5.3-7 8.4 3zM379.4 2081.6l-8.4-3 5.4-6.9 8.3 2.9zM357.3 2082.2l-8.4-2.9 5.3-6.3 8.4 2.7zM348.9 2079.3l-8.4-2.6 5.3-6.3 8.4 2.6zM340.5 2076.7l-8.4-2.6 5.4-6.1 8.3 2.4zM318.4 2077.4l-8.4-2.6 5.3-5.6 8.4 2.4zM310 2074.8l-8.4-2.5 5.4-5.5 8.3 2.4zM301.6 2072.3l-8.4-2.5 5.4-5.3 8.4 2.3zM287.9 2075l-8.4-2.4 5.3-5.1 8.4 2.3zM279.5 2072.6l-8.4-2.2 5.4-5.1 8.3 2.2zM271.1 2070.4l-8.4-2.1 5.4-5 8.4 2zM262.7 2068.3l-8.4-2.1 5.4-4.9 8.4 2zM249 2071.1l-8.4-2 5.3-4.9 8.4 2zM240.6 2069.1l-8.4-2.2 5.4-4.8 8.3 2.1zM232.2 2066.9l-8.4-2.3 5.4-4.7 8.4 2.2zM218.5 2069.3l-8.4-2.3 5.3-4.6 8.4 2.2zM223.8 2064.6l-8.4-2.2 5.4-4.7 8.4 2.2zM210.1 2067l-8.4-2.4 5.4-4.5 8.3 2.3zM201.7 2064.6l-8.4-2.2 5.4-4.5 8.4 2.2zM188 2066.8l-8.4-2.3 5.3-4.3 8.4 2.2zM193.3 2062.4l-8.4-2.2 5.4-4.3 8.4 2zM179.6 2064.5l-8.4-2.1 5.4-4.2 8.3 2zM184.9 2060.2l-8.3-2 5.3-4.2 8.4 1.9zM171.2 2062.4l-8.4-2 5.4-4 8.4 1.8zM162.8 2060.4l-8.4-1.9 5.4-3.9 8.4 1.8zM149.1 2062.5l-8.4-1.9 5.3-3.9 8.4 1.8zM154.4 2058.5l-8.4-1.8 5.4-3.9 8.4 1.8zM140.7 2060.6l-8.4-1.7 5.4-3.9 8.3 1.7zM146 2056.7l-8.3-1.7 5.3-3.8 8.4 1.6z"/><path fill="#14c9b3" stroke="#0b6e62" d="M470.1 2049.4l-8.4-1.6 5.4-8.4 8.4 1.6zM461.7 2047.8l-8.4-1.6 5.4-8.4 8.4 1.6zM453.3 2046.2l-8.3-1.7 5.3-8.4 8.4 1.7zM445 2044.5l-8.4-1.9 5.3-8.3 8.4 1.8zM436.6 2042.6l-8.4-2 5.3-8.1 8.4 1.8zM428.2 2040.6l-8.4-2.1 5.3-8 8.4 2zM419.8 2038.5l-8.4-2.2 5.3-7.8 8.4 2zM411.4 2036.3l-8.4-2.2 5.3-7.5 8.4 1.9zM380.9 2037.4l-8.4-1.8 5.3-7.2 8.4 1.7zM372.5 2035.6l-8.4-1.7 5.3-7 8.4 1.5zM364.1 2033.9l-8.4-1.5 5.3-6.9 8.4 1.4zM355.7 2032.4l-8.4-1.3 5.3-6.7 8.4 1.1zM347.3 2031.1l-8.4-1.2 5.4-6.6 8.3 1.1zM338.9 2029.9l-8.4-1.2 5.4-6.4 8.4 1zM330.5 2028.7l-8.4-1.2 5.4-6.3 8.4 1.1zM322.1 2027.5l-8.3-1.4 5.3-6.1 8.4 1.2zM313.8 2026.1l-8.4-1.5 5.3-6 8.4 1.4zM305.4 2024.6l-8.4-1.6 5.3-5.9 8.4 1.5zM297 2023l-8.4-1.6 5.3-5.9 8.4 1.6zM288.6 2021.4l-8.4-1.7 5.3-5.8 8.4 1.6zM280.2 2019.7l-8.4-1.6 5.3-5.7 8.4 1.5zM271.8 2018.1l-8.4-1.5 5.3-5.6 8.4 1.4zM263.4 2016.6l-8.4-1.5 5.3-5.5 8.4 1.4zM255 2015.1l-8.4-1.5 5.4-5.4 8.3 1.4zM246.6 2013.6l-8.4-1.4 5.4-5.4 8.4 1.4zM238.2 2012.2l-8.4-1.3 5.4-5.4 8.4 1.3zM229.8 2010.9l-8.4-1.3 5.4-5.4 8.4 1.3zM221.4 2009.6l-8.3-1.3 5.3-5.4 8.4 1.3zM213.1 2008.3l-8.4-1.3 5.3-5.4 8.4 1.3zM204.7 2007l-8.4-1.4 5.3-5.3 8.4 1.3z"/><path fill="#15a4f4" stroke="#0b5a86" d="M532.7 2107.2l-8.4-2.8 5.4-10 8.4 2.5zM524.3 2104.4l-8.4-2.8 5.4-9.8 8.4 2.6zM515.9 2101.6l-8.4-2.6 5.4-9.6 8.4 2.4zM477 2100.4l-8.3-2.3 5.3-8.6 8.4 2.1zM468.7 2098.1l-8.4-2.2 5.3-8.5 8.4 2.1zM460.3 2095.9l-8.4-2.1 5.3-8.3 8.4 1.9zM451.9 2093.8l-8.4-2 5.3-8.2 8.4 1.9zM443.5 2091.8l-8.4-2 5.3-8.1 8.4 1.9zM404.6 2090.3l-8.4-2.7 5.3-7.2 8.4 2.6zM396.2 2087.6l-8.4-3 5.3-7 8.4 2.8zM374.1 2088.3l-8.4-3.1 5.3-6.6 8.4 3zM365.7 2085.2l-8.4-3 5.3-6.5 8.4 2.9zM343.6 2085.5l-8.4-2.8 5.3-6 8.4 2.6zM335.2 2082.7l-8.4-2.7 5.3-5.9 8.4 2.6zM326.8 2080l-8.4-2.6 5.3-5.8 8.4 2.5zM313.1 2083l-8.4-2.7 5.3-5.5 8.4 2.6zM304.7 2080.3l-8.4-2.7 5.3-5.3 8.4 2.5zM296.3 2077.6l-8.4-2.6 5.3-5.2 8.4 2.5zM282.6 2080.2l-8.4-2.5 5.3-5.1 8.4 2.4zM274.2 2077.7l-8.4-2.4 5.3-4.9 8.4 2.2zM265.8 2075.3l-8.4-2.1 5.3-4.9 8.4 2.1zM252.1 2078.1l-8.4-2.2 5.3-4.8 8.4 2.1zM257.4 2073.2l-8.4-2.1 5.3-4.9 8.4 2.1zM243.7 2075.9l-8.4-2.1 5.3-4.7 8.4 2zM235.3 2073.8l-8.4-2.2 5.3-4.7 8.4 2.2zM226.9 2071.6l-8.4-2.3 5.3-4.7 8.4 2.3zM213.2 2074l-8.4-2.5 5.3-4.5 8.4 2.3zM204.8 2071.5l-8.4-2.4 5.3-4.5 8.4 2.4zM191.1 2073.6l-8.4-2.4 5.3-4.4 8.4 2.3zM196.4 2069.1l-8.4-2.3 5.3-4.4 8.4 2.2zM182.7 2071.2l-8.4-2.4 5.3-4.3 8.4 2.3zM174.3 2068.8l-8.4-2.2 5.3-4.2 8.4 2.1zM160.6 2070.9l-8.4-2.2 5.3-4.2 8.4 2.1zM165.9 2066.6l-8.4-2.1 5.3-4.1 8.4 2zM152.2 2068.7l-8.4-2.1 5.3-4.1 8.4 2zM157.5 2064.5l-8.4-2 5.3-4 8.4 1.9zM143.8 2066.6l-8.4-2 5.3-4 8.4 1.9zM135.4 2064.6l-8.4-1.9 5.3-3.8 8.4 1.7z"/><path fill="#189ff7" stroke="#0d5787" d="M557.9 2115l-8.4-2.4 5.3-10.7 8.4 2.2zM549.5 2112.6l-8.4-2.7 5.3-10.5 8.4 2.5zM541.1 2109.9l-8.4-2.7 5.4-10.3 8.3 2.5zM502.2 2108.3l-8.4-2.8 5.4-9.1 8.3 2.6zM493.8 2105.5l-8.4-2.6 5.4-9 8.4 2.5zM485.4 2102.9l-8.4-2.5 5.4-8.8 8.4 2.3zM438.2 2099.7l-8.4-2.2 5.3-7.7 8.4 2zM429.8 2097.5l-8.4-2.2 5.3-7.7 8.4 2.2zM421.4 2095.3l-8.4-2.4 5.3-7.5 8.4 2.2zM413 2092.9l-8.4-2.6 5.3-7.3 8.4 2.4zM390.9 2094.4l-8.4-3 5.3-6.8 8.4 3zM382.5 2091.4l-8.4-3.1 5.3-6.7 8.4 3zM360.4 2091.5l-8.4-3.1 5.3-6.2 8.4 3zM352 2088.4l-8.4-2.9 5.3-6.2 8.4 2.9zM329.9 2088.6l-8.4-2.9 5.3-5.7 8.4 2.7zM321.5 2085.7l-8.4-2.7 5.3-5.6 8.4 2.6zM307.8 2088.5l-8.4-2.9 5.3-5.3 8.4 2.7zM299.4 2085.6l-8.4-2.8 5.3-5.2 8.4 2.7zM291 2082.8l-8.4-2.6 5.3-5.2 8.4 2.6zM277.2 2085.2l-8.3-2.6 5.3-4.9 8.4 2.5zM268.9 2082.6l-8.4-2.3 5.3-5 8.4 2.4zM260.5 2080.3l-8.4-2.2 5.3-4.9 8.4 2.1zM246.7 2082.9l-8.3-2.1 5.3-4.9 8.4 2.2zM238.4 2080.8l-8.4-2.2 5.3-4.8 8.4 2.1zM230 2078.6l-8.4-2.3 5.3-4.7 8.4 2.2zM216.2 2081.1l-8.3-2.5 5.3-4.6 8.4 2.3zM221.6 2076.3l-8.4-2.3 5.3-4.7 8.4 2.3zM207.9 2078.6l-8.4-2.5 5.3-4.6 8.4 2.5zM199.5 2076.1l-8.4-2.5 5.3-4.5 8.4 2.4zM185.7 2078.1l-8.4-2.5 5.4-4.4 8.4 2.4zM177.3 2075.6l-8.3-2.4 5.3-4.4 8.4 2.4zM169 2073.2l-8.4-2.3 5.3-4.3 8.4 2.2z"/><path fill="#1a9afb" stroke="#0e548a" d="M566.3 2117.2l-8.4-2.2 5.3-10.9 8.4 2.1zM519 2114.1l-8.4-2.9 5.3-9.6 8.4 2.8zM510.6 2111.2l-8.4-2.9 5.3-9.3 8.4 2.6zM471.7 2108.8l-8.4-2.4 5.4-8.3 8.3 2.3zM463.3 2106.4l-8.4-2.3 5.4-8.2 8.4 2.2zM454.9 2104.1l-8.4-2.2 5.4-8.1 8.4 2.1zM446.5 2101.9l-8.3-2.2 5.3-7.9 8.4 2zM416 2102.6l-8.4-2.6 5.4-7.1 8.4 2.4zM407.6 2100l-8.3-2.7 5.3-7 8.4 2.6zM399.3 2097.3l-8.4-2.9 5.3-6.8 8.4 2.7zM377.1 2097.9l-8.3-3.2 5.3-6.4 8.4 3.1zM368.8 2094.7l-8.4-3.2 5.3-6.3 8.4 3.1zM355 2097.7l-8.4-3.2 5.4-6.1 8.4 3.1zM346.6 2094.5l-8.3-3 5.3-6 8.4 2.9zM338.3 2091.5l-8.4-2.9 5.3-5.9 8.4 2.8zM324.5 2094.3l-8.4-2.9 5.4-5.7 8.4 2.9zM316.1 2091.4l-8.3-2.9 5.3-5.5 8.4 2.7zM302.4 2093.9l-8.4-3 5.4-5.3 8.4 2.9zM294 2090.9l-8.4-2.9 5.4-5.2 8.4 2.8zM285.6 2088l-8.4-2.8 5.4-5 8.4 2.6zM271.9 2090.3l-8.4-2.7 5.4-5 8.3 2.6zM263.5 2087.6l-8.4-2.4 5.4-4.9 8.4 2.3zM249.8 2090.1l-8.4-2.3 5.3-4.9 8.4 2.3zM255.1 2085.2l-8.4-2.3 5.4-4.8 8.4 2.2zM241.4 2087.8l-8.4-2.2 5.4-4.8 8.3 2.1zM233 2085.6l-8.4-2.2 5.4-4.8 8.4 2.2zM224.6 2083.4l-8.4-2.3 5.4-4.8 8.4 2.3zM210.9 2085.8l-8.4-2.5 5.4-4.7 8.3 2.5zM202.5 2083.3l-8.4-2.6 5.4-4.6 8.4 2.5zM194.1 2080.7l-8.4-2.6 5.4-4.5 8.4 2.5z"/><path fill="#1ccbaa" stroke="#0f6f5d" d="M592.9 2062.2l-8.4-1.4 5.4-9.4 8.4 1.3zM584.5 2060.8l-8.3-1.5 5.3-9.3 8.4 1.4zM576.2 2059.3l-8.4-1.5 5.3-9.1 8.4 1.3zM567.8 2057.8l-8.4-1.5 5.3-9 8.4 1.4zM559.4 2056.3l-8.4-1.6 5.3-8.8 8.4 1.4zM551 2054.7l-8.4-1.5 5.3-8.7 8.4 1.4zM542.6 2053.2l-8.4-1.6 5.3-8.4 8.4 1.3zM534.2 2051.6l-8.4-1.5 5.3-8.3 8.4 1.4zM525.8 2050.1l-8.4-1.5 5.3-8.3 8.4 1.5zM517.4 2048.6l-8.4-1.5 5.3-8.2 8.4 1.4zM509 2047.1l-8.4-1.5 5.4-8.2 8.3 1.5zM500.6 2045.6l-8.4-1.5 5.4-8.2 8.4 1.5zM492.2 2044.1l-8.4-1.6 5.4-8.1 8.4 1.5zM483.8 2042.5l-8.3-1.5 5.3-8.2 8.4 1.6zM475.5 2041l-8.4-1.6 5.3-8.2 8.4 1.6zM467.1 2039.4l-8.4-1.6 5.3-8.2 8.4 1.6zM458.7 2037.8l-8.4-1.7 5.3-8.2 8.4 1.7zM450.3 2036.1l-8.4-1.8 5.3-8.2 8.4 1.8zM403 2034.1l-8.4-2 5.3-7.4 8.4 1.9zM394.6 2032.1l-8.4-2 5.3-7.1 8.4 1.7zM386.2 2030.1l-8.4-1.7 5.4-7 8.3 1.6zM377.8 2028.4l-8.4-1.5 5.4-6.9 8.4 1.4zM369.4 2026.9l-8.4-1.4 5.4-6.7 8.4 1.2zM361 2025.5l-8.4-1.1 5.4-6.7 8.4 1.1zM352.6 2024.4l-8.3-1.1 5.3-6.5 8.4.9zM344.3 2023.3l-8.4-1 5.3-6.4 8.4.9zM335.9 2022.3l-8.4-1.1 5.3-6.2 8.4.9zM327.5 2021.2l-8.4-1.2 5.3-6.2 8.4 1.2zM319.1 2020l-8.4-1.4 5.3-6.1 8.4 1.3zM310.7 2018.6l-8.4-1.5 5.3-6 8.4 1.4zM302.3 2017.1l-8.4-1.6 5.3-5.9 8.4 1.5zM293.9 2015.5l-8.4-1.6 5.3-5.8 8.4 1.5zM285.5 2013.9l-8.4-1.5 5.4-5.7 8.3 1.4zM277.1 2012.4l-8.4-1.4 5.4-5.6 8.4 1.3zM268.7 2011l-8.4-1.4 5.4-5.6 8.4 1.4zM260.3 2009.6l-8.3-1.4 5.3-5.5 8.4 1.3zM252 2008.2l-8.4-1.4 5.3-5.4 8.4 1.3zM243.6 2006.8l-8.4-1.3 5.3-5.4 8.4 1.3zM235.2 2005.5l-8.4-1.3 5.3-5.4 8.4 1.3zM226.8 2004.2l-8.4-1.3 5.3-5.4 8.4 1.3zM218.4 2002.9l-8.4-1.3 5.3-5.4 8.4 1.3zM210 2001.6l-8.4-1.3 5.3-5.4 8.4 1.3z"/><path fill="#1f94ff" stroke="#11518c" d="M544.2 2122.7l-8.4-2.7 5.3-10.1 8.4 2.7zM535.8 2120l-8.4-2.9 5.3-9.9 8.4 2.7zM527.4 2117.1l-8.4-3 5.3-9.7 8.4 2.8zM496.9 2117.2l-8.4-2.9 5.3-8.8 8.4 2.8zM488.5 2114.3l-8.4-2.8 5.3-8.6 8.4 2.6zM480.1 2111.5l-8.4-2.7 5.3-8.4 8.4 2.5zM441.2 2109.7l-8.4-2.3 5.4-7.7 8.3 2.2zM432.8 2107.4l-8.4-2.4 5.4-7.5 8.4 2.2zM424.4 2105l-8.4-2.4 5.4-7.3 8.4 2.2zM393.9 2104.1l-8.4-3.1 5.4-6.6 8.4 2.9zM385.5 2101l-8.4-3.1 5.4-6.5 8.4 3zM363.4 2100.9l-8.4-3.2 5.4-6.2 8.4 3.2zM341.3 2100.5l-8.4-3.1 5.4-5.9 8.3 3zM332.9 2097.4l-8.4-3.1 5.4-5.7 8.4 2.9zM319.2 2100l-8.4-3.1 5.3-5.5 8.4 2.9zM310.8 2096.9l-8.4-3 5.4-5.4 8.3 2.9zM297.1 2099.2l-8.4-3.1 5.3-5.2 8.4 3zM288.7 2096.1l-8.4-3 5.3-5.1 8.4 2.9zM280.3 2093.1l-8.4-2.8 5.3-5.1 8.4 2.8zM266.6 2095.3l-8.4-2.7 5.3-5 8.4 2.7zM258.2 2092.6l-8.4-2.5 5.3-4.9 8.4 2.4zM244.5 2095l-8.4-2.3 5.3-4.9 8.4 2.3zM236.1 2092.7l-8.4-2.3 5.3-4.8 8.4 2.2zM227.7 2090.4l-8.4-2.2 5.3-4.8 8.4 2.2zM219.3 2088.2l-8.4-2.4 5.3-4.7 8.4 2.3z"/><path fill="#218fff" stroke="#124e8c" d="M561 2127.6l-8.4-2.3 5.3-10.3 8.4 2.2zM552.6 2125.3l-8.4-2.6 5.3-10.1 8.4 2.4zM513.7 2123.3l-8.4-3.1 5.3-9 8.4 2.9zM505.3 2120.2l-8.4-3 5.3-8.9 8.4 2.9zM466.4 2117l-8.4-2.6 5.3-8 8.4 2.4zM458 2114.4l-8.4-2.4 5.3-7.9 8.4 2.3zM449.6 2112l-8.4-2.3 5.3-7.8 8.4 2.2zM419.1 2112.3l-8.4-2.6 5.3-7.1 8.4 2.4zM410.7 2109.7l-8.4-2.7 5.3-7 8.4 2.6zM402.3 2107l-8.4-2.9 5.4-6.8 8.3 2.7zM380.2 2107.4l-8.4-3.2 5.3-6.3 8.4 3.1zM371.8 2104.2l-8.4-3.3 5.4-6.2 8.3 3.2zM358.1 2107l-8.4-3.3 5.3-6 8.4 3.2zM349.7 2103.7l-8.4-3.2 5.3-6 8.4 3.2zM336 2106.4l-8.4-3.3 5.3-5.7 8.4 3.1zM327.6 2103.1l-8.4-3.1 5.3-5.7 8.4 3.1zM313.9 2105.6l-8.4-3.2 5.3-5.5 8.4 3.1zM305.5 2102.4l-8.4-3.2 5.3-5.3 8.4 3zM283.4 2101.4l-8.4-3.1 5.3-5.2 8.4 3zM275 2098.3l-8.4-3 5.3-5 8.4 2.8zM261.3 2100.4l-8.4-2.8 5.3-5 8.4 2.7zM252.9 2097.6l-8.4-2.6 5.3-4.9 8.4 2.5z"/><path fill="#2289ff" stroke="#124b8c" d="M530.5 2129.4l-8.4-3 5.3-9.3 8.4 2.9zM522.1 2126.4l-8.4-3.1 5.3-9.2 8.4 3zM491.6 2125.8l-8.4-3.1 5.3-8.4 8.4 2.9zM483.2 2122.7l-8.4-2.9 5.3-8.3 8.4 2.8zM474.8 2119.8l-8.4-2.8 5.3-8.2 8.4 2.7zM444.3 2119.6l-8.4-2.4 5.3-7.5 8.4 2.3zM435.9 2117.2l-8.4-2.4 5.3-7.4 8.4 2.3zM427.5 2114.8l-8.4-2.5 5.3-7.3 8.4 2.4zM397 2113.7l-8.4-3.1 5.3-6.5 8.4 2.9zM388.6 2110.6l-8.4-3.2 5.3-6.4 8.4 3.1zM374.9 2113.7l-8.4-3.4 5.3-6.1 8.4 3.2zM366.5 2110.3l-8.4-3.3 5.3-6.1 8.4 3.3zM344.4 2109.6l-8.4-3.2 5.3-5.9 8.4 3.2zM322.3 2108.9l-8.4-3.3 5.3-5.6 8.4 3.1zM300.2 2107.9l-8.4-3.3 5.3-5.4 8.4 3.2zM291.8 2104.6l-8.4-3.2 5.3-5.3 8.4 3.1zM278 2106.7l-8.3-3.3 5.3-5.1 8.4 3.1zM269.7 2103.4l-8.4-3 5.3-5.1 8.4 3z"/><path fill="#22cda1" stroke="#127058" d="M598.3 2052.7l-8.4-1.3 5.3-8.5 8.4 1.3zM589.9 2051.4l-8.4-1.4 5.3-8.4 8.4 1.3zM581.5 2050l-8.4-1.3 5.3-8.3 8.4 1.2zM573.1 2048.7l-8.4-1.4 5.3-8.2 8.4 1.3zM564.7 2047.3l-8.4-1.4 5.3-8 8.4 1.2zM556.3 2045.9l-8.4-1.4 5.3-7.9 8.4 1.3zM547.9 2044.5l-8.4-1.3 5.4-7.9 8.3 1.3zM539.5 2043.2l-8.4-1.4 5.4-7.8 8.4 1.3zM531.1 2041.8l-8.4-1.5 5.4-7.7 8.4 1.4zM522.7 2040.3l-8.4-1.4 5.4-7.7 8.4 1.4zM514.3 2038.9l-8.3-1.5 5.3-7.7 8.4 1.5zM506 2037.4l-8.4-1.5 5.3-7.7 8.4 1.5zM497.6 2035.9l-8.4-1.5 5.3-7.8 8.4 1.6zM441.9 2034.3l-8.4-1.8 5.3-8.1 8.4 1.7zM433.5 2032.5l-8.4-2 5.3-7.8 8.4 1.7zM425.1 2030.5l-8.4-2 5.3-7.6 8.4 1.8zM416.7 2028.5l-8.4-1.9 5.4-7.4 8.3 1.7zM408.3 2026.6l-8.4-1.9 5.4-7.1 8.4 1.6zM399.9 2024.7l-8.4-1.7 5.4-6.9 8.4 1.5zM391.5 2023l-8.3-1.6 5.3-6.8 8.4 1.5zM383.2 2021.4l-8.4-1.4 5.3-6.7 8.4 1.3zM374.8 2020l-8.4-1.2 5.3-6.6 8.4 1.1zM366.4 2018.8l-8.4-1.1 5.3-6.5 8.4 1zM358 2017.7l-8.4-.9 5.3-6.4 8.4.8zM349.6 2016.8l-8.4-.9 5.3-6.4 8.4.9zM341.2 2015.9l-8.4-.9 5.3-6.4 8.4.9zM332.8 2015l-8.4-1.2 5.3-6.2 8.4 1zM324.4 2013.8l-8.4-1.3 5.3-6.1 8.4 1.2zM316 2012.5l-8.4-1.4 5.4-6.1 8.3 1.4zM307.6 2011.1l-8.4-1.5 5.4-5.9 8.4 1.3zM299.2 2009.6l-8.4-1.5 5.4-5.8 8.4 1.4zM290.8 2008.1l-8.3-1.4 5.3-5.7 8.4 1.3zM282.5 2006.7l-8.4-1.3 5.3-5.6 8.4 1.2zM274.1 2005.4l-8.4-1.4 5.3-5.5 8.4 1.3zM265.7 2004l-8.4-1.3 5.3-5.5 8.4 1.3zM257.3 2002.7l-8.4-1.3 5.3-5.4 8.4 1.2zM248.9 2001.4l-8.4-1.3 5.3-5.4 8.4 1.3zM240.5 2000.1l-8.4-1.3 5.3-5.3 8.4 1.2zM232.1 1998.8l-8.4-1.3 5.3-5.3 8.4 1.3zM223.7 1997.5l-8.4-1.3 5.4-5.3 8.3 1.3zM215.3 1996.2l-8.4-1.3 5.4-5.3 8.4 1.3z"/><path fill="#2483ff" stroke="#13488c" d="M547.2 2134.9l-8.4-2.7 5.4-9.5 8.4 2.6zM538.8 2132.2l-8.3-2.8 5.3-9.4 8.4 2.7zM508.3 2132.1l-8.3-3.2 5.3-8.7 8.4 3.1zM500 2128.9l-8.4-3.1 5.3-8.6 8.4 3zM469.5 2127.8l-8.4-2.9 5.3-7.9 8.4 2.8zM461.1 2124.9l-8.4-2.7 5.3-7.8 8.4 2.6zM452.7 2122.2l-8.4-2.6 5.3-7.6 8.4 2.4zM422.2 2122l-8.4-2.6 5.3-7.1 8.4 2.5zM413.8 2119.4l-8.4-2.8 5.3-6.9 8.4 2.6zM405.4 2116.6l-8.4-2.9 5.3-6.7 8.4 2.7zM391.7 2120.2l-8.4-3.2 5.3-6.4 8.4 3.1zM383.3 2117l-8.4-3.3 5.3-6.3 8.4 3.2zM361.2 2116.4l-8.4-3.4 5.3-6 8.4 3.3zM352.8 2113l-8.4-3.4 5.3-5.9 8.4 3.3zM339 2115.5l-8.3-3.3 5.3-5.8 8.4 3.2zM330.7 2112.2l-8.4-3.3 5.3-5.8 8.4 3.3zM316.9 2114.6l-8.4-3.4 5.4-5.6 8.4 3.3zM308.5 2111.2l-8.3-3.3 5.3-5.5 8.4 3.2zM294.8 2113.4l-8.4-3.4 5.4-5.4 8.4 3.3zM286.4 2110l-8.4-3.3 5.4-5.3 8.4 3.2z"/><path fill="#287dff" stroke="#16448c" d="M555.6 2137.2l-8.4-2.3 5.4-9.6 8.4 2.3zM525.1 2138.2l-8.4-3 5.4-8.8 8.4 3zM516.7 2135.2l-8.4-3.1 5.4-8.8 8.4 3.1zM486.2 2134l-8.4-3.1 5.4-8.2 8.4 3.1zM477.8 2130.9l-8.3-3.1 5.3-8 8.4 2.9zM447.3 2129.8l-8.4-2.7 5.4-7.5 8.4 2.6zM438.9 2127.1l-8.3-2.5 5.3-7.4 8.4 2.4zM430.6 2124.6l-8.4-2.6 5.3-7.2 8.4 2.4zM408.4 2126.4l-8.3-3 5.3-6.8 8.4 2.8zM400.1 2123.4l-8.4-3.2 5.3-6.5 8.4 2.9zM377.9 2123.3l-8.3-3.5 5.3-6.1 8.4 3.3zM369.6 2119.8l-8.4-3.4 5.3-6.1 8.4 3.4zM355.8 2122.4l-8.4-3.5 5.4-5.9 8.4 3.4zM347.4 2118.9l-8.4-3.4 5.4-5.9 8.4 3.4zM333.7 2121.4l-8.4-3.4 5.4-5.8 8.3 3.3zM325.3 2118l-8.4-3.4 5.4-5.7 8.4 3.3zM311.6 2120.4l-8.4-3.5 5.3-5.7 8.4 3.4zM303.2 2116.9l-8.4-3.5 5.4-5.5 8.3 3.3z"/><path fill="#29cf97" stroke="#167153" d="M586.8 2041.6l-8.4-1.2 5.3-7.5 8.4 1.2zM578.4 2040.4l-8.4-1.3 5.4-7.5 8.3 1.3zM570 2039.1l-8.4-1.2 5.4-7.5 8.4 1.2zM561.6 2037.9l-8.4-1.3 5.4-7.4 8.4 1.2zM553.2 2036.6l-8.3-1.3 5.3-7.3 8.4 1.2zM544.9 2035.3l-8.4-1.3 5.3-7.3 8.4 1.3zM536.5 2034l-8.4-1.4 5.3-7.3 8.4 1.4zM528.1 2032.6l-8.4-1.4 5.3-7.3 8.4 1.4zM519.7 2031.2l-8.4-1.5 5.3-7.3 8.4 1.5zM489.2 2034.4l-8.4-1.6 5.3-7.8 8.4 1.6zM480.8 2032.8l-8.4-1.6 5.3-7.9 8.4 1.7zM472.4 2031.2l-8.4-1.6 5.3-8.1 8.4 1.8zM464 2029.6l-8.4-1.7 5.3-8.1 8.4 1.7zM455.6 2027.9l-8.4-1.8 5.3-8 8.4 1.7zM447.2 2026.1l-8.4-1.7 5.4-7.9 8.3 1.6zM438.8 2024.4l-8.4-1.7 5.4-7.7 8.4 1.5zM430.4 2022.7l-8.4-1.8 5.4-7.3 8.4 1.4zM422 2020.9l-8.3-1.7 5.3-7 8.4 1.4zM413.7 2019.2l-8.4-1.6 5.3-6.8 8.4 1.4zM405.3 2017.6l-8.4-1.5 5.3-6.6 8.4 1.3zM396.9 2016.1l-8.4-1.5 5.3-6.4 8.4 1.3zM388.5 2014.6l-8.4-1.3 5.3-6.3 8.4 1.2zM380.1 2013.3l-8.4-1.1 5.3-6.3 8.4 1.1zM371.7 2012.2l-8.4-1 5.3-6.2 8.4.9zM363.3 2011.2l-8.4-.8 5.3-6.3 8.4.9zM354.9 2010.4l-8.4-.9 5.4-6.3 8.3.9zM346.5 2009.5l-8.4-.9 5.4-6.3 8.4.9zM338.1 2008.6l-8.4-1 5.4-6.3 8.4 1zM329.7 2007.6l-8.4-1.2 5.4-6.2 8.4 1.1zM321.3 2006.4l-8.3-1.4 5.3-6 8.4 1.2zM326.7 2000.2l-8.4-1.2 5.3-5.9 8.4 1.1zM313 2005l-8.4-1.3 5.3-5.9 8.4 1.2zM318.3 1999l-8.4-1.2 5.3-5.8 8.4 1.1zM304.6 2003.7l-8.4-1.4 5.3-5.7 8.4 1.2zM309.9 1997.8l-8.4-1.2 5.3-5.7 8.4 1.1zM296.2 2002.3l-8.4-1.3 5.3-5.6 8.4 1.2zM301.5 1996.6l-8.4-1.2 5.3-5.6 8.4 1.1zM287.8 2001l-8.4-1.2 5.3-5.6 8.4 1.2zM293.1 1995.4l-8.4-1.2 5.3-5.5 8.4 1.1zM279.4 1999.8l-8.4-1.3 5.3-5.5 8.4 1.2zM284.7 1994.2l-8.4-1.2 5.4-5.4 8.3 1.1zM271 1998.5l-8.4-1.3 5.3-5.4 8.4 1.2zM276.3 1993l-8.4-1.2 5.4-5.3 8.4 1.1zM262.6 1997.2l-8.4-1.2 5.3-5.4 8.4 1.2zM267.9 1991.8l-8.4-1.2 5.4-5.3 8.4 1.2zM254.2 1996l-8.4-1.3 5.4-5.3 8.3 1.2zM259.5 1990.6l-8.3-1.2 5.3-5.2 8.4 1.1zM245.8 1994.7l-8.4-1.2 5.4-5.3 8.4 1.2zM251.2 1989.4l-8.4-1.2 5.3-5.2 8.4 1.2zM237.4 1993.5l-8.4-1.3 5.4-5.2 8.4 1.2zM242.8 1988.2l-8.4-1.2 5.3-5.2 8.4 1.2zM229 1992.2l-8.3-1.3 5.3-5.2 8.4 1.3zM234.4 1987l-8.4-1.3 5.3-5.1 8.4 1.2zM220.7 1990.9l-8.4-1.3 5.3-5.2 8.4 1.3zM226 1985.7l-8.4-1.3 5.3-5 8.4 1.2zM231.3 1980.6l-8.4-1.2 5.3-4.9 8.4 1.1z"/><path fill="#2f76ff" stroke="#19408c" d="M541.9 2143.7l-8.4-2.6 5.3-8.9 8.4 2.7zM533.5 2141.1l-8.4-2.9 5.4-8.8 8.3 2.8zM503 2140.4l-8.4-3.1 5.4-8.4 8.3 3.2zM494.6 2137.3l-8.4-3.3 5.4-8.2 8.4 3.1zM464.1 2135.6l-8.4-3 5.4-7.7 8.4 2.9zM455.7 2132.6l-8.4-2.8 5.4-7.6 8.4 2.7zM425.2 2131.8l-8.4-2.6 5.4-7.2 8.4 2.6zM416.8 2129.2l-8.4-2.8 5.4-7 8.4 2.6zM394.7 2130.1l-8.4-3.4 5.4-6.5 8.4 3.2zM386.3 2126.7l-8.4-3.4 5.4-6.3 8.4 3.2zM364.2 2125.9l-8.4-3.5 5.4-6 8.4 3.4zM342.1 2124.9l-8.4-3.5 5.3-5.9 8.4 3.4zM320 2123.9l-8.4-3.5 5.3-5.8 8.4 3.4z"/><path fill="#31d18c" stroke="#1a724d" d="M603.6 2044.2l-8.4-1.3 5.3-7.6 8.4 1.2zM595.2 2042.9l-8.4-1.3 5.3-7.5 8.4 1.2zM575.4 2031.6l-8.4-1.2 5.3-6.9 8.4 1.2zM567 2030.4l-8.4-1.2 5.3-6.9 8.4 1.2zM558.6 2029.2l-8.4-1.2 5.3-6.9 8.4 1.2zM550.2 2028l-8.4-1.3 5.3-6.9 8.4 1.3zM541.8 2026.7l-8.4-1.4 5.3-6.8 8.4 1.3zM533.4 2025.3l-8.4-1.4 5.3-6.9 8.4 1.5zM525 2023.9l-8.4-1.5 5.3-6.9 8.4 1.5zM511.3 2029.7l-8.4-1.5 5.3-7.4 8.4 1.6zM502.9 2028.2l-8.4-1.6 5.3-7.5 8.4 1.7zM494.5 2026.6l-8.4-1.6 5.3-7.6 8.4 1.7zM486.1 2025l-8.4-1.7 5.3-7.7 8.4 1.8zM477.7 2023.3l-8.4-1.8 5.4-7.7 8.3 1.8zM469.3 2021.5l-8.4-1.7 5.4-7.8 8.4 1.8zM460.9 2019.8l-8.4-1.7 5.4-7.7 8.4 1.6zM452.5 2018.1l-8.3-1.6 5.3-7.6 8.4 1.5zM444.2 2016.5l-8.4-1.5 5.3-7.4 8.4 1.3zM435.8 2015l-8.4-1.4 5.3-7.2 8.4 1.2zM427.4 2013.6l-8.4-1.4 5.3-6.8 8.4 1zM419 2012.2l-8.4-1.4 5.3-6.5 8.4 1.1zM410.6 2010.8l-8.4-1.3 5.3-6.3 8.4 1.1zM402.2 2009.5l-8.4-1.3 5.3-6.2 8.4 1.2zM393.8 2008.2l-8.4-1.2 5.3-6.1 8.4 1.1zM385.4 2007l-8.4-1.1 5.4-6 8.3 1zM377 2005.9l-8.4-.9 5.4-6.1 8.4 1zM368.6 2005l-8.4-.9 5.4-6.1 8.4.9zM360.2 2004.1l-8.3-.9 5.3-6.2 8.4 1zM351.9 2003.2l-8.4-.9 5.3-6.2 8.4.9zM357.2 1997l-8.4-.9 5.3-6 8.4.9zM343.5 2002.3l-8.4-1 5.3-6.1 8.4.9zM348.8 1996.1l-8.4-.9 5.3-6.1 8.4 1zM335.1 2001.3l-8.4-1.1 5.3-6 8.4 1zM340.4 1995.2l-8.4-1 5.3-6 8.4.9zM332 1994.2l-8.4-1.1 5.3-5.8 8.4.9zM323.6 1993.1l-8.4-1.1 5.4-5.7 8.3 1zM315.2 1992l-8.4-1.1 5.4-5.5 8.4.9zM306.8 1990.9l-8.4-1.1 5.4-5.4 8.4 1zM298.4 1989.8l-8.4-1.1 5.4-5.4 8.4 1.1zM303.8 1984.4l-8.4-1.1 5.3-5.2 8.4 1zM290 1988.7l-8.3-1.1 5.3-5.3 8.4 1zM295.4 1983.3l-8.4-1 5.3-5.2 8.4 1zM281.7 1987.6l-8.4-1.1 5.3-5.3 8.4 1.1zM287 1982.3l-8.4-1.1 5.3-5.1 8.4 1zM273.3 1986.5l-8.4-1.2 5.3-5.2 8.4 1.1zM278.6 1981.2l-8.4-1.1 5.3-5.1 8.4 1.1zM264.9 1985.3l-8.4-1.1 5.3-5.2 8.4 1.1zM270.2 1980.1l-8.4-1.1 5.3-5 8.4 1zM256.5 1984.2l-8.4-1.2 5.3-5.1 8.4 1.1zM261.8 1979l-8.4-1.1 5.4-5 8.3 1.1zM248.1 1983l-8.4-1.2 5.3-5 8.4 1.1zM253.4 1977.9l-8.4-1.1 5.4-4.9 8.4 1zM258.8 1972.9l-8.4-1 5.3-4.8 8.4 1zM239.7 1981.8l-8.4-1.2 5.3-5 8.4 1.2zM245 1976.8l-8.4-1.2 5.4-4.8 8.4 1.1zM250.4 1971.9l-8.4-1.1 5.3-4.8 8.4 1.1zM236.6 1975.6l-8.4-1.1 5.4-4.9 8.4 1.2zM242 1970.8l-8.4-1.2 5.3-4.7 8.4 1.1z"/><path fill="#376fff" stroke="#1e3d8c" d="M550.3 2146.1l-8.4-2.4 5.3-8.8 8.4 2.3zM511.4 2143.6l-8.4-3.2 5.3-8.3 8.4 3.1zM480.9 2142.1l-8.4-3.3 5.3-7.9 8.4 3.1zM472.5 2138.8l-8.4-3.2 5.4-7.8 8.3 3.1zM442 2137.2l-8.4-2.7 5.3-7.4 8.4 2.7zM433.6 2134.5l-8.4-2.7 5.4-7.2 8.3 2.5zM403.1 2133.2l-8.4-3.1 5.4-6.7 8.3 3zM381 2133.2l-8.4-3.7 5.3-6.2 8.4 3.4zM372.6 2129.5l-8.4-3.6 5.4-6.1 8.3 3.5zM358.9 2132.1l-8.4-3.7 5.3-6 8.4 3.5zM350.5 2128.4l-8.4-3.5 5.3-6 8.4 3.5zM336.8 2130.9l-8.4-3.5 5.3-6 8.4 3.5zM328.4 2127.4l-8.4-3.5 5.3-5.9 8.4 3.4z"/><path fill="#3c68ff" stroke="#21398c" d="M536.6 2152l-8.4-2.6 5.3-8.3 8.4 2.6zM528.2 2149.4l-8.4-2.9 5.3-8.3 8.4 2.9zM519.8 2146.5l-8.4-2.9 5.3-8.4 8.4 3zM497.7 2148.5l-8.4-3.2 5.3-8 8.4 3.1zM489.3 2145.3l-8.4-3.2 5.3-8.1 8.4 3.3zM458.8 2143.3l-8.4-3.1 5.3-7.6 8.4 3zM450.4 2140.2l-8.4-3 5.3-7.4 8.4 2.8zM428.3 2141.8l-8.4-2.8 5.3-7.2 8.4 2.7zM419.9 2139l-8.4-2.8 5.3-7 8.4 2.6zM411.5 2136.2l-8.4-3 5.3-6.8 8.4 2.8zM389.4 2136.7l-8.4-3.5 5.3-6.5 8.4 3.4zM367.3 2135.8l-8.4-3.7 5.3-6.2 8.4 3.6zM345.2 2134.5l-8.4-3.6 5.3-6 8.4 3.5z"/><path fill="#3e23b9" stroke="#221365" d="M513 2195.3l-8.4-1.3 5.3-5 8.4 2zM504.6 2194l-8.4-1.3 5.3-5.8 8.4 2.1zM496.2 2192.7l-8.4-1.3 5.4-6.8 8.3 2.3z"/><path fill="#3ed281" stroke="#227346" d="M608.9 2036.5l-8.4-1.2 5.4-7 8.3 1.2zM600.5 2035.3l-8.4-1.2 5.4-7 8.4 1.2zM605.9 2028.3l-8.4-1.2 5.3-6.6 8.4 1.2zM592.1 2034.1l-8.4-1.2 5.4-7 8.4 1.2zM597.5 2027.1l-8.4-1.2 5.3-6.6 8.4 1.2zM583.7 2032.9l-8.3-1.3 5.3-6.9 8.4 1.2zM589.1 2025.9l-8.4-1.2 5.3-6.6 8.4 1.2zM580.7 2024.7l-8.4-1.2 5.3-6.5 8.4 1.1zM572.3 2023.5l-8.4-1.2 5.3-6.5 8.4 1.2zM563.9 2022.3l-8.4-1.2 5.3-6.6 8.4 1.3zM555.5 2021.1l-8.4-1.3 5.3-6.5 8.4 1.2zM547.1 2019.8l-8.4-1.3 5.4-6.6 8.3 1.4zM538.7 2018.5l-8.4-1.5 5.4-6.6 8.4 1.5zM530.3 2017l-8.4-1.5 5.4-6.7 8.4 1.6zM516.6 2022.4l-8.4-1.6 5.4-7 8.3 1.7zM521.9 2015.5l-8.3-1.7 5.3-6.7 8.4 1.7zM508.2 2020.8l-8.4-1.7 5.4-7.1 8.4 1.8zM499.8 2019.1l-8.4-1.7 5.4-7.2 8.4 1.8zM491.4 2017.4l-8.4-1.8 5.4-7.3 8.4 1.9zM483 2015.6l-8.3-1.8 5.3-7.4 8.4 1.9zM474.7 2013.8l-8.4-1.8 5.3-7.4 8.4 1.8zM466.3 2012l-8.4-1.6 5.3-7.4 8.4 1.6zM457.9 2010.4l-8.4-1.5 5.3-7.3 8.4 1.4zM449.5 2008.9l-8.4-1.3 5.3-7.1 8.4 1.1zM441.1 2007.6l-8.4-1.2 5.3-6.8 8.4.9zM432.7 2006.4l-8.4-1 5.3-6.6 8.4.8zM424.3 2005.4l-8.4-1.1 5.3-6.3 8.4.8zM415.9 2004.3l-8.4-1.1 5.4-6.1 8.3.9zM407.5 2003.2l-8.4-1.2 5.4-5.9 8.4 1zM399.1 2002l-8.4-1.1 5.4-5.8 8.4 1zM404.5 1996.1l-8.4-1 5.3-5.6 8.4 1zM390.7 2000.9l-8.3-1 5.3-5.8 8.4 1zM396.1 1995.1l-8.4-1 5.3-5.6 8.4 1zM382.4 1999.9l-8.4-1 5.3-5.9 8.4 1.1zM387.7 1994.1l-8.4-1.1 5.3-5.6 8.4 1.1zM374 1998.9l-8.4-.9 5.3-6 8.4 1zM379.3 1993l-8.4-1 5.3-5.7 8.4 1.1zM365.6 1998l-8.4-1 5.3-6 8.4 1zM370.9 1992l-8.4-1 5.3-5.8 8.4 1.1zM362.5 1991l-8.4-.9 5.3-5.9 8.4 1zM354.1 1990.1l-8.4-1 5.4-5.8 8.3.9zM345.7 1989.1l-8.4-.9 5.4-5.7 8.4.8zM337.3 1988.2l-8.4-.9 5.4-5.6 8.4.8zM342.7 1982.5l-8.4-.8 5.3-5.4 8.4.7zM328.9 1987.3l-8.3-1 5.3-5.4 8.4.8zM334.3 1981.7l-8.4-.8 5.3-5.3 8.4.7zM320.6 1986.3l-8.4-.9 5.3-5.4 8.4.9zM325.9 1980.9l-8.4-.9 5.3-5.2 8.4.8zM312.2 1985.4l-8.4-1 5.3-5.3 8.4.9zM317.5 1980l-8.4-.9 5.3-5.1 8.4.8zM309.1 1979.1l-8.4-1 5.3-5.1 8.4 1zM314.4 1974l-8.4-1 5.4-4.9 8.4 1zM300.7 1978.1l-8.4-1 5.3-5.1 8.4 1zM306 1973l-8.4-1 5.4-4.8 8.4.9zM292.3 1977.1l-8.4-1 5.4-5 8.3.9zM297.6 1972l-8.3-.9 5.3-4.9 8.4 1zM283.9 1976.1l-8.4-1.1 5.4-4.9 8.4 1zM289.3 1971.1l-8.4-1 5.3-4.8 8.4.9zM275.5 1975l-8.4-1 5.4-4.9 8.4 1zM280.9 1970.1l-8.4-1 5.3-4.8 8.4 1zM267.1 1974l-8.3-1.1 5.3-4.8 8.4 1zM272.5 1969.1l-8.4-1 5.3-4.7 8.4.9zM264.1 1968.1l-8.4-1 5.3-4.7 8.4 1zM269.4 1963.4l-8.4-1 5.3-4.6 8.4 1zM255.7 1967.1l-8.4-1.1 5.3-4.6 8.4 1zM261 1962.4l-8.4-1 5.4-4.6 8.3 1zM247.3 1966l-8.4-1.1 5.3-4.6 8.4 1.1zM252.6 1961.4l-8.4-1.1 5.4-4.5 8.4 1z"/><path fill="#3f62ff" stroke="#22358c" d="M545 2154.4l-8.4-2.4 5.3-8.3 8.4 2.4zM506.1 2151.6l-8.4-3.1 5.3-8.1 8.4 3.2zM475.6 2149.9l-8.4-3.3 5.3-7.8 8.4 3.3zM467.2 2146.6l-8.4-3.3 5.3-7.7 8.4 3.2zM445.1 2147.7l-8.4-3.1 5.3-7.4 8.4 3zM436.7 2144.6l-8.4-2.8 5.3-7.3 8.4 2.7zM406.2 2143.2l-8.4-3.1 5.3-6.9 8.4 3zM397.8 2140.1l-8.4-3.4 5.3-6.6 8.4 3.1zM384.1 2143.4l-8.4-3.8 5.3-6.4 8.4 3.5zM375.7 2139.6l-8.4-3.8 5.3-6.3 8.4 3.7zM362 2142.1l-8.4-3.9 5.3-6.1 8.4 3.7zM353.6 2138.2l-8.4-3.7 5.3-6.1 8.4 3.7z"/><path fill="#4027c6" stroke="#23156c" d="M487.8 2191.4l-8.4-1.6 5.4-7.7 8.4 2.5zM479.4 2189.8l-8.4-2.6 5.4-7.8 8.4 2.7z"/><path fill="#412bd2" stroke="#231773" d="M518.3 2191l-8.4-2 5.4-7.2 8.4 2.1zM471 2187.2l-8.3-3 5.3-7.8 8.4 3z"/><path fill="#415cff" stroke="#23328c" d="M531.3 2159.8l-8.4-2.5 5.3-7.9 8.4 2.6zM522.9 2157.3l-8.4-2.8 5.3-8 8.4 2.9zM514.5 2154.5l-8.4-2.9 5.3-8 8.4 2.9zM492.4 2156.4l-8.4-3.2 5.3-7.9 8.4 3.2zM484 2153.2l-8.4-3.3 5.3-7.8 8.4 3.2zM453.5 2150.9l-8.4-3.2 5.3-7.5 8.4 3.1zM423 2149l-8.4-2.9 5.3-7.1 8.4 2.8zM414.6 2146.1l-8.4-2.9 5.3-7 8.4 2.8zM392.5 2146.9l-8.4-3.5 5.3-6.7 8.4 3.4zM370.3 2146.1l-8.3-4 5.3-6.3 8.4 3.8z"/><path fill="#432fde" stroke="#24197a" d="M509.9 2189l-8.4-2.1 5.4-7.4 8.4 2.3zM501.5 2186.9l-8.3-2.3 5.3-7.5 8.4 2.4zM493.2 2184.6l-8.4-2.5 5.3-7.6 8.4 2.6zM462.7 2184.2l-8.4-3.3 5.3-7.8 8.4 3.3z"/><path fill="#4356ff" stroke="#242f8c" d="M539.6 2162.2l-8.3-2.4 5.3-7.8 8.4 2.4zM500.8 2159.4l-8.4-3 5.3-7.9 8.4 3.1zM470.2 2157.7l-8.3-3.4 5.3-7.7 8.4 3.3zM461.9 2154.3l-8.4-3.4 5.3-7.6 8.4 3.3zM439.7 2155.1l-8.3-3.2 5.3-7.3 8.4 3.1zM431.4 2151.9l-8.4-2.9 5.3-7.2 8.4 2.8zM409.2 2153.3l-8.3-3.1 5.3-7 8.4 2.9zM400.9 2150.2l-8.4-3.3 5.3-6.8 8.4 3.1zM378.7 2150.1l-8.4-4 5.4-6.5 8.4 3.8z"/><path fill="#4433ea" stroke="#251c80" d="M523.7 2183.9l-8.4-2.1 5.3-7.2 8.4 2.2zM484.8 2182.1l-8.4-2.7 5.3-7.7 8.4 2.8zM476.4 2179.4l-8.4-3 5.3-7.7 8.4 3zM454.3 2180.9l-8.4-3.5 5.3-7.8 8.4 3.5zM445.9 2177.4l-8.4-3.7 5.3-7.7 8.4 3.6z"/><path fill="#4438f3" stroke="#251e85" d="M515.3 2181.8l-8.4-2.3 5.3-7.3 8.4 2.4zM506.9 2179.5l-8.4-2.4 5.3-7.4 8.4 2.5zM498.5 2177.1l-8.4-2.6 5.3-7.5 8.4 2.7zM468 2176.4l-8.4-3.3 5.3-7.7 8.4 3.3zM437.5 2173.7l-8.4-3.6 5.3-7.5 8.4 3.4z"/><path fill="#444aff" stroke="#25288c" d="M534.3 2169.6l-8.4-2.3 5.4-7.5 8.3 2.4zM503.8 2169.7l-8.4-2.7 5.4-7.6 8.3 2.8zM495.4 2167l-8.4-2.9 5.4-7.7 8.4 3zM464.9 2165.4l-8.4-3.4 5.4-7.7 8.3 3.4zM434.4 2162.6l-8.4-3.3 5.4-7.4 8.3 3.2zM403.9 2160.5l-8.4-3.2 5.4-7.1 8.3 3.1zM395.5 2157.3l-8.4-3.5 5.4-6.9 8.4 3.3z"/><path fill="#4450ff" stroke="#252c8c" d="M525.9 2167.3l-8.4-2.4 5.4-7.6 8.4 2.5zM517.5 2164.9l-8.4-2.7 5.4-7.7 8.4 2.8zM509.1 2162.2l-8.3-2.8 5.3-7.8 8.4 2.9zM487 2164.1l-8.4-3.1 5.4-7.8 8.4 3.2zM478.6 2161l-8.4-3.3 5.4-7.8 8.4 3.3zM456.5 2162l-8.4-3.5 5.4-7.6 8.4 3.4zM448.1 2158.5l-8.4-3.4 5.4-7.4 8.4 3.2zM426 2159.3l-8.4-3 5.4-7.3 8.4 2.9zM417.6 2156.3l-8.4-3 5.4-7.2 8.4 2.9zM387.1 2153.8l-8.4-3.7 5.4-6.7 8.4 3.5z"/><path fill="#453efb" stroke="#25228a" d="M529 2176.8l-8.4-2.2 5.3-7.3 8.4 2.3zM490.1 2174.5l-8.4-2.8 5.3-7.6 8.4 2.9zM459.6 2173.1l-8.4-3.5 5.3-7.6 8.4 3.4zM429.1 2170.1l-8.4-3.4 5.3-7.4 8.4 3.3z"/><path fill="#4544ff" stroke="#25258c" d="M520.6 2174.6l-8.4-2.4 5.3-7.3 8.4 2.4zM512.2 2172.2l-8.4-2.5 5.3-7.5 8.4 2.7zM481.7 2171.7l-8.4-3 5.3-7.7 8.4 3.1zM473.3 2168.7l-8.4-3.3 5.3-7.7 8.4 3.3zM451.2 2169.6l-8.4-3.6 5.3-7.5 8.4 3.5zM442.8 2166l-8.4-3.4 5.3-7.5 8.4 3.4zM420.7 2166.7l-8.4-3.1 5.3-7.3 8.4 3zM412.3 2163.6l-8.4-3.1 5.3-7.2 8.4 3z"/><path fill="#4cd374" stroke="#29743f" d="M614.2 2029.5l-8.3-1.2 5.3-6.6 8.4 1.2zM619.6 2022.9l-8.4-1.2 5.3-6.4 8.4 1.3zM611.2 2021.7l-8.4-1.2 5.3-6.4 8.4 1.2zM602.8 2020.5l-8.4-1.2 5.3-6.3 8.4 1.1zM594.4 2019.3l-8.4-1.2 5.3-6.3 8.4 1.2zM586 2018.1l-8.4-1.1 5.3-6.4 8.4 1.2zM577.6 2017l-8.4-1.2 5.4-6.4 8.3 1.2zM569.2 2015.8l-8.4-1.3 5.4-6.3 8.4 1.2zM560.8 2014.5l-8.4-1.2 5.4-6.4 8.4 1.3zM552.4 2013.3l-8.3-1.4 5.3-6.3 8.4 1.3zM544.1 2011.9l-8.4-1.5 5.3-6.3 8.4 1.5zM535.7 2010.4l-8.4-1.6 5.3-6.4 8.4 1.7zM527.3 2008.8l-8.4-1.7 5.3-6.5 8.4 1.8zM513.6 2013.8l-8.4-1.8 5.3-6.8 8.4 1.9zM518.9 2007.1l-8.4-1.9 5.3-6.5 8.4 1.9zM505.2 2012l-8.4-1.8 5.3-6.9 8.4 1.9zM496.8 2010.2l-8.4-1.9 5.3-7 8.4 2zM488.4 2008.3l-8.4-1.9 5.3-7.1 8.4 2zM480 2006.4l-8.4-1.8 5.3-7.1 8.4 1.8zM471.6 2004.6l-8.4-1.6 5.3-7.1 8.4 1.6zM463.2 2003l-8.4-1.4 5.3-7 8.4 1.3zM454.8 2001.6l-8.4-1.1 5.4-6.8 8.3.9zM446.4 2000.5l-8.4-.9 5.4-6.5 8.4.6zM438 1999.6l-8.4-.8 5.4-6.2 8.4.5zM429.6 1998.8l-8.4-.8 5.4-6 8.4.6zM421.2 1998l-8.3-.9 5.3-5.8 8.4.7zM426.6 1992l-8.4-.7 5.3-5.6 8.4.5zM412.9 1997.1l-8.4-1 5.3-5.6 8.4.8zM418.2 1991.3l-8.4-.8 5.3-5.5 8.4.7zM409.8 1990.5l-8.4-1 5.3-5.4 8.4.9zM401.4 1989.5l-8.4-1 5.3-5.4 8.4 1zM393 1988.5l-8.4-1.1 5.3-5.4 8.4 1.1zM398.3 1983.1l-8.4-1.1 5.4-5.1 8.4 1.1zM384.6 1987.4l-8.4-1.1 5.4-5.4 8.3 1.1zM389.9 1982l-8.3-1.1 5.3-5.2 8.4 1.2zM376.2 1986.3l-8.4-1.1 5.4-5.5 8.4 1.2zM381.6 1980.9l-8.4-1.2 5.3-5.2 8.4 1.2zM367.8 1985.2l-8.4-1 5.4-5.5 8.4 1zM373.2 1979.7l-8.4-1 5.3-5.2 8.4 1zM359.4 1984.2l-8.3-.9 5.3-5.5 8.4.9zM364.8 1978.7l-8.4-.9 5.3-5.2 8.4.9zM351.1 1983.3l-8.4-.8 5.3-5.5 8.4.8zM356.4 1977.8l-8.4-.8 5.3-5.1 8.4.7zM348 1977l-8.4-.7 5.3-5.1 8.4.7zM339.6 1976.3l-8.4-.7 5.3-5 8.4.6zM344.9 1971.2l-8.4-.6 5.4-4.6 8.4.6zM331.2 1975.6l-8.4-.8 5.3-4.9 8.4.7zM336.5 1970.6l-8.4-.7 5.4-4.6 8.4.7zM322.8 1974.8l-8.4-.8 5.4-4.9 8.3.8zM328.1 1969.9l-8.3-.8 5.3-4.7 8.4.9zM319.8 1969.1l-8.4-1 5.3-4.6 8.4.9zM311.4 1968.1l-8.4-.9 5.3-4.6 8.4.9zM303 1967.2l-8.4-1 5.3-4.6 8.4 1zM294.6 1966.2l-8.4-.9 5.3-4.6 8.4.9zM286.2 1965.3l-8.4-1 5.3-4.6 8.4 1zM277.8 1964.3l-8.4-.9 5.3-4.6 8.4.9zM266.3 1957.8l-8.3-1 5.3-4.4 8.4 1zM258 1956.8l-8.4-1 5.3-4.5 8.4 1.1z"/><path fill="#5ad367" stroke="#317438" d="M624.9 2016.6l-8.4-1.3 5.3-6.3 8.4 1.2zM616.5 2015.3l-8.4-1.2 5.4-6.3 8.3 1.2zM608.1 2014.1l-8.4-1.1 5.4-6.3 8.4 1.1zM599.7 2013l-8.4-1.2 5.4-6.3 8.4 1.2zM591.3 2011.8l-8.4-1.2 5.4-6.2 8.4 1.1zM582.9 2010.6l-8.3-1.2 5.3-6.2 8.4 1.2zM574.6 2009.4l-8.4-1.2 5.3-6.2 8.4 1.2zM566.2 2008.2l-8.4-1.3 5.3-6.2 8.4 1.3zM557.8 2006.9l-8.4-1.3 5.3-6.3 8.4 1.4zM549.4 2005.6l-8.4-1.5 5.3-6.2 8.4 1.4zM541 2004.1l-8.4-1.7 5.3-6.2 8.4 1.7zM532.6 2002.4l-8.4-1.8 5.3-6.2 8.4 1.8zM524.2 2000.6l-8.4-1.9 5.3-6.2 8.4 1.9zM510.5 2005.2l-8.4-1.9 5.3-6.6 8.4 2zM515.8 1998.7l-8.4-2 5.4-6.2 8.3 2zM502.1 2003.3l-8.4-2 5.3-6.6 8.4 2zM493.7 2001.3l-8.4-2 5.3-6.6 8.4 2zM485.3 1999.3l-8.4-1.8 5.4-6.7 8.3 1.9zM476.9 1997.5l-8.4-1.6 5.4-6.7 8.4 1.6zM468.5 1995.9l-8.4-1.3 5.4-6.6 8.4 1.2zM460.1 1994.6l-8.3-.9 5.3-6.4 8.4.7zM451.8 1993.7l-8.4-.6 5.3-6.2 8.4.4zM443.4 1993.1l-8.4-.5 5.3-6 8.4.3zM448.7 1986.9l-8.4-.3 5.3-5.7 8.4.1zM435 1992.6l-8.4-.6 5.3-5.8 8.4.4zM440.3 1986.6l-8.4-.4 5.3-5.5 8.4.2zM431.9 1986.2l-8.4-.5 5.3-5.4 8.4.4zM423.5 1985.7l-8.4-.7 5.4-5.3 8.3.6zM415.1 1985l-8.4-.9 5.4-5.2 8.4.8zM420.5 1979.7l-8.4-.8 5.3-5 8.4.7zM406.7 1984.1l-8.4-1 5.4-5.1 8.4.9zM412.1 1978.9l-8.4-.9 5.3-5 8.4.9zM403.7 1978l-8.4-1.1 5.3-5 8.4 1.1zM395.3 1976.9l-8.4-1.2 5.3-4.9 8.4 1.1zM386.9 1975.7l-8.4-1.2 5.3-4.8 8.4 1.1zM378.5 1974.5l-8.4-1 5.3-4.8 8.4 1zM370.1 1973.5l-8.4-.9 5.3-4.8 8.4.9zM361.7 1972.6l-8.4-.7 5.4-4.7 8.3.6zM353.3 1971.9l-8.4-.7 5.4-4.6 8.4.6zM341.9 1966l-8.4-.7 5.3-4.4 8.4.7zM333.5 1965.3l-8.4-.9 5.3-4.4 8.4.9zM325.1 1964.4l-8.4-.9 5.3-4.4 8.4.9zM316.7 1963.5l-8.4-.9 5.3-4.5 8.4 1zM308.3 1962.6l-8.4-1 5.3-4.5 8.4 1zM299.9 1961.6l-8.4-.9 5.3-4.5 8.4.9zM291.5 1960.7l-8.4-1 5.4-4.4 8.3.9zM283.1 1959.7l-8.4-.9 5.4-4.5 8.4 1zM274.7 1958.8l-8.4-1 5.4-4.4 8.4.9z"/><path fill="#6ad25a" stroke="#3a7331" d="M630.2 2010.2l-8.4-1.2 5.4-6.5 8.4 1.2zM621.8 2009l-8.3-1.2 5.3-6.4 8.4 1.1zM613.5 2007.8l-8.4-1.1 5.3-6.4 8.4 1.1zM605.1 2006.7l-8.4-1.2 5.3-6.3 8.4 1.1zM596.7 2005.5l-8.4-1.1 5.3-6.3 8.4 1.1zM588.3 2004.4l-8.4-1.2 5.3-6.2 8.4 1.1zM579.9 2003.2l-8.4-1.2 5.3-6.2 8.4 1.2zM571.5 2002l-8.4-1.3 5.3-6.2 8.4 1.3zM563.1 2000.7l-8.4-1.4 5.3-6.1 8.4 1.3zM554.7 1999.3l-8.4-1.4 5.4-6.2 8.3 1.5zM546.3 1997.9l-8.4-1.7 5.4-6 8.4 1.5zM537.9 1996.2l-8.4-1.8 5.4-6 8.4 1.8zM529.5 1994.4l-8.4-1.9 5.4-5.9 8.4 1.8zM521.1 1992.5l-8.3-2 5.3-5.8 8.4 1.9zM507.4 1996.7l-8.4-2 5.4-6.2 8.4 2zM512.8 1990.5l-8.4-2 5.3-5.8 8.4 2zM499 1994.7l-8.4-2 5.4-6.2 8.4 2zM490.6 1992.7l-8.3-1.9 5.3-6.2 8.4 1.9zM482.3 1990.8l-8.4-1.6 5.3-6.1 8.4 1.5zM473.9 1989.2l-8.4-1.2 5.3-6.1 8.4 1.2zM465.5 1988l-8.4-.7 5.3-6 8.4.6zM457.1 1987.3l-8.4-.4 5.3-5.9 8.4.3zM454 1981l-8.4-.1 5.4-5.4 8.3.1zM445.6 1980.9l-8.4-.2 5.4-5.3 8.4.1zM437.2 1980.7l-8.4-.4 5.4-5.2 8.4.3zM428.8 1980.3l-8.3-.6 5.3-5.1 8.4.5zM417.4 1973.9l-8.4-.9 5.3-4.9 8.4.8zM409 1973l-8.4-1.1 5.3-4.7 8.4.9zM400.6 1971.9l-8.4-1.1 5.3-4.6 8.4 1zM392.2 1970.8l-8.4-1.1 5.4-4.5 8.3 1zM383.8 1969.7l-8.4-1 5.4-4.4 8.4.9zM375.4 1968.7l-8.4-.9 5.4-4.3 8.4.8zM367 1967.8l-8.3-.6 5.3-4.4 8.4.7zM358.7 1967.2l-8.4-.6 5.3-4.4 8.4.6zM350.3 1966.6l-8.4-.6 5.3-4.4 8.4.6zM330.4 1960l-8.4-.9 5.4-4.3 8.3.9zM322 1959.1l-8.4-1 5.4-4.3 8.4 1zM313.6 1958.1l-8.4-1 5.4-4.3 8.4 1zM305.2 1957.1l-8.4-.9 5.4-4.4 8.4 1zM296.8 1956.2l-8.3-.9 5.3-4.4 8.4.9zM288.5 1955.3l-8.4-1 5.3-4.4 8.4 1zM280.1 1954.3l-8.4-.9 5.3-4.4 8.4.9zM271.7 1953.4l-8.4-1 5.3-4.5 8.4 1.1zM263.3 1952.4l-8.4-1.1 5.3-4.4 8.4 1z"/><path fill="#7bd14d" stroke="#43722a" d="M593.6 1998.1l-8.4-1.1 5.3-6.3 8.4 1.1zM585.2 1997l-8.4-1.2 5.4-6.2 8.3 1.1zM576.8 1995.8l-8.4-1.3 5.4-6.1 8.4 1.2zM568.4 1994.5l-8.4-1.3 5.4-6.1 8.4 1.3zM560 1993.2l-8.3-1.5 5.3-6 8.4 1.4zM551.7 1991.7l-8.4-1.5 5.3-6 8.4 1.5zM504.4 1988.5l-8.4-2 5.3-5.8 8.4 2zM496 1986.5l-8.4-1.9 5.3-5.7 8.4 1.8zM487.6 1984.6l-8.4-1.5 5.3-5.7 8.4 1.5zM479.2 1983.1l-8.4-1.2 5.3-5.6 8.4 1.1zM470.8 1981.9l-8.4-.6 5.3-5.5 8.4.5zM462.4 1981.3l-8.4-.3 5.3-5.4 8.4.2zM451 1975.5l-8.4-.1 5.3-5.2 8.4.1zM442.6 1975.4l-8.4-.3 5.3-5.1 8.4.2zM434.2 1975.1l-8.4-.5 5.3-5.1 8.4.5zM425.8 1974.6l-8.4-.7 5.3-5 8.4.6zM389.2 1965.2l-8.4-.9 5.3-4.2 8.4.8zM380.8 1964.3l-8.4-.8 5.3-4.1 8.4.7zM372.4 1963.5l-8.4-.7 5.3-4.1 8.4.7zM364 1962.8l-8.4-.6 5.3-4.1 8.4.6zM355.6 1962.2l-8.4-.6 5.3-4.2 8.4.7zM347.2 1961.6l-8.4-.7 5.3-4.3 8.4.8zM338.8 1960.9l-8.4-.9 5.3-4.3 8.4.9zM302.2 1951.8l-8.4-.9 5.3-4.5 8.4 1zM293.8 1950.9l-8.4-1 5.3-4.4 8.4.9zM285.4 1949.9l-8.4-.9 5.3-4.5 8.4 1zM277 1949l-8.4-1.1 5.3-4.4 8.4 1zM268.6 1947.9l-8.4-1 5.3-4.5 8.4 1.1z"/><path fill="#8bcf40" stroke="#4c7123" d="M635.6 2003.7l-8.4-1.2 5.3-6.7 8.4 1.1zM627.2 2002.5l-8.4-1.1 5.3-6.6 8.4 1zM618.8 2001.4l-8.4-1.1 5.3-6.5 8.4 1zM610.4 2000.3l-8.4-1.1 5.3-6.4 8.4 1zM602 1999.2l-8.4-1.1 5.3-6.3 8.4 1zM543.3 1990.2l-8.4-1.8 5.3-5.8 8.4 1.6zM534.9 1988.4l-8.4-1.8 5.3-5.7 8.4 1.7zM526.5 1986.6l-8.4-1.9 5.3-5.6 8.4 1.8zM518.1 1984.7l-8.4-2 5.3-5.4 8.4 1.8zM509.7 1982.7l-8.4-2 5.3-5.3 8.4 1.9zM501.3 1980.7l-8.4-1.8 5.3-5.2 8.4 1.7zM492.9 1978.9l-8.4-1.5 5.3-5.1 8.4 1.4zM484.5 1977.4l-8.4-1.1 5.4-5.1 8.3 1.1zM476.1 1976.3l-8.4-.5 5.4-5.1 8.4.5zM467.7 1975.8l-8.4-.2 5.4-5.2 8.4.3zM459.3 1975.6l-8.3-.1 5.3-5.2 8.4.1zM447.9 1970.2l-8.4-.2 5.3-5.1 8.4.3zM439.5 1970l-8.4-.5 5.3-5 8.4.4zM431.1 1969.5l-8.4-.6 5.3-4.9 8.4.5zM422.7 1968.9l-8.4-.8 5.4-4.8 8.3.7zM414.3 1968.1l-8.4-.9 5.4-4.6 8.4.7zM405.9 1967.2l-8.4-1 5.4-4.4 8.4.8zM397.5 1966.2l-8.3-1 5.3-4.3 8.4.9zM377.7 1959.4l-8.4-.7 5.3-4.1 8.4.7zM369.3 1958.7l-8.4-.6 5.3-4.1 8.4.6zM360.9 1958.1l-8.4-.7 5.4-4.2 8.3.8zM352.5 1957.4l-8.4-.8 5.4-4.2 8.4.8zM344.1 1956.6l-8.4-.9 5.4-4.3 8.4 1zM335.7 1955.7l-8.3-.9 5.3-4.4 8.4 1zM327.4 1954.8l-8.4-1 5.3-4.4 8.4 1zM319 1953.8l-8.4-1 5.3-4.4 8.4 1zM310.6 1952.8l-8.4-1 5.3-4.4 8.4 1z"/><path fill="#9bcd33" stroke="#55701c" d="M615.7 1993.8l-8.4-1 5.4-6.5 8.3.8zM607.3 1992.8l-8.4-1 5.4-6.5 8.4 1zM598.9 1991.8l-8.4-1.1 5.4-6.3 8.4.9zM590.5 1990.7l-8.3-1.1 5.3-6.3 8.4 1.1zM582.2 1989.6l-8.4-1.2 5.3-6.2 8.4 1.1zM573.8 1988.4l-8.4-1.3 5.3-6.1 8.4 1.2zM565.4 1987.1l-8.4-1.4 5.3-6 8.4 1.3zM557 1985.7l-8.4-1.5 5.3-5.9 8.4 1.4zM548.6 1984.2l-8.4-1.6 5.3-5.7 8.4 1.4zM540.2 1982.6l-8.4-1.7 5.3-5.5 8.4 1.5zM531.8 1980.9l-8.4-1.8 5.3-5.3 8.4 1.6zM523.4 1979.1l-8.4-1.8 5.4-5.2 8.3 1.7zM473.1 1970.7l-8.4-.3 5.3-4.9 8.4.3zM464.7 1970.4l-8.4-.1 5.3-5 8.4.2zM456.3 1970.3l-8.4-.1 5.3-5 8.4.1zM428 1964l-8.3-.7 5.3-4.7 8.4.5zM419.7 1963.3l-8.4-.7 5.3-4.6 8.4.6zM411.3 1962.6l-8.4-.8 5.3-4.5 8.4.7zM402.9 1961.8l-8.4-.9 5.3-4.3 8.4.7zM394.5 1960.9l-8.4-.8 5.3-4.1 8.4.6zM386.1 1960.1l-8.4-.7 5.3-4.1 8.4.7zM366.2 1954l-8.3-.8 5.3-4.3 8.4.8zM357.9 1953.2l-8.4-.8 5.3-4.4 8.4.9zM349.5 1952.4l-8.4-1 5.3-4.4 8.4 1zM341.1 1951.4l-8.4-1 5.3-4.4 8.4 1zM332.7 1950.4l-8.4-1 5.3-4.5 8.4 1.1zM324.3 1949.4l-8.4-1 5.3-4.5 8.4 1zM315.9 1948.4l-8.4-1 5.3-4.5 8.4 1zM307.5 1947.4l-8.4-1 5.3-4.5 8.4 1zM299.1 1946.4l-8.4-.9 5.4-4.5 8.3.9zM290.7 1945.5l-8.4-1 5.4-4.5 8.4 1zM282.3 1944.5l-8.4-1 5.4-4.6 8.4 1.1zM273.9 1943.5l-8.4-1.1 5.4-4.6 8.4 1.1z"/><path fill="#abca27" stroke="#5e6f15" d="M640.9 1996.9l-8.4-1.1 5.3-6.8 8.4 1zM632.5 1995.8l-8.4-1 5.3-6.8 8.4 1zM624.1 1994.8l-8.4-1 5.3-6.7 8.4.9zM515 1977.3l-8.4-1.9 5.4-4.9 8.4 1.6zM506.6 1975.4l-8.4-1.7 5.4-4.9 8.4 1.7zM498.2 1973.7l-8.4-1.4 5.4-4.8 8.4 1.3zM489.8 1972.3l-8.3-1.1 5.3-4.8 8.4 1.1zM481.5 1971.2l-8.4-.5 5.3-4.9 8.4.6zM461.6 1965.3l-8.4-.1 5.4-5 8.3.2zM453.2 1965.2l-8.4-.3 5.4-5 8.4.3zM444.8 1964.9l-8.4-.4 5.4-5 8.4.4zM436.4 1964.5l-8.4-.5 5.4-4.9 8.4.4zM416.6 1958l-8.4-.7 5.3-4.5 8.4.5zM408.2 1957.3l-8.4-.7 5.3-4.3 8.4.5zM399.8 1956.6l-8.4-.6 5.3-4.2 8.4.5zM391.4 1956l-8.4-.7 5.4-4.2 8.3.7zM383 1955.3l-8.4-.7 5.4-4.1 8.4.6zM374.6 1954.6l-8.4-.6 5.4-4.3 8.4.8zM338 1946l-8.4-1.1 5.3-4.6 8.4 1zM329.6 1944.9l-8.4-1 5.4-4.7 8.3 1.1zM321.2 1943.9l-8.4-1 5.4-4.7 8.4 1zM312.8 1942.9l-8.4-1 5.4-4.7 8.4 1zM304.4 1941.9l-8.3-.9 5.3-4.7 8.4.9zM296.1 1941l-8.4-1 5.3-4.7 8.4 1zM287.7 1940l-8.4-1.1 5.3-4.7 8.4 1.1zM279.3 1938.9l-8.4-1.1 5.3-4.7 8.4 1.1z"/><path fill="#bac71e" stroke="#666d10" d="M629.4 1988l-8.4-.9 5.4-6.6 8.4.8zM621 1987.1l-8.3-.8 5.3-6.6 8.4.8zM612.7 1986.3l-8.4-1 5.3-6.4 8.4.8zM604.3 1985.3l-8.4-.9 5.3-6.3 8.4.8zM595.9 1984.4l-8.4-1.1 5.3-6.2 8.4 1zM587.5 1983.3l-8.4-1.1 5.3-6.2 8.4 1.1zM579.1 1982.2l-8.4-1.2 5.3-6.1 8.4 1.1zM570.7 1981l-8.4-1.3 5.3-6 8.4 1.2zM562.3 1979.7l-8.4-1.4 5.3-5.8 8.4 1.2zM553.9 1978.3l-8.4-1.4 5.4-5.7 8.3 1.3zM545.5 1976.9l-8.4-1.5 5.4-5.5 8.4 1.3zM537.1 1975.4l-8.4-1.6 5.4-5.2 8.4 1.3zM528.7 1973.8l-8.3-1.7 5.3-5 8.4 1.5zM520.4 1972.1l-8.4-1.6 5.3-4.9 8.4 1.5zM512 1970.5l-8.4-1.7 5.3-4.6 8.4 1.4zM503.6 1968.8l-8.4-1.3 5.3-4.6 8.4 1.3zM495.2 1967.5l-8.4-1.1 5.3-4.6 8.4 1.1zM486.8 1966.4l-8.4-.6 5.3-4.7 8.4.7zM478.4 1965.8l-8.4-.3 5.3-4.8 8.4.4zM470 1965.5l-8.4-.2 5.3-4.9 8.4.3zM458.6 1960.2l-8.4-.3 5.3-5.1 8.4.4zM450.2 1959.9l-8.4-.4 5.3-5 8.4.3zM441.8 1959.5l-8.4-.4 5.3-5 8.4.4zM433.4 1959.1l-8.4-.5 5.3-4.9 8.4.4zM425 1958.6l-8.4-.6 5.3-4.7 8.4.4zM405.1 1952.3l-8.4-.5 5.4-4.5 8.4.4zM396.7 1951.8l-8.3-.7 5.3-4.4 8.4.6zM388.4 1951.1l-8.4-.6 5.3-4.5 8.4.7zM380 1950.5l-8.4-.8 5.3-4.5 8.4.8zM371.6 1949.7l-8.4-.8 5.3-4.5 8.4.8zM363.2 1948.9l-8.4-.9 5.3-4.6 8.4 1zM354.8 1948l-8.4-1 5.3-4.6 8.4 1zM346.4 1947l-8.4-1 5.3-4.7 8.4 1.1zM301.4 1936.3l-8.4-1 5.3-5 8.4 1zM293 1935.3l-8.4-1.1 5.3-4.9 8.4 1zM284.6 1934.2l-8.4-1.1 5.3-4.9 8.4 1.1z"/><path fill="#c8c416" stroke="#6e6b0c" d="M646.2 1990l-8.4-1 5.4-6.9 8.4 1zM637.8 1989l-8.4-1 5.4-6.7 8.4.8zM550.9 1971.2l-8.4-1.3 5.3-5.4 8.4 1.1zM542.5 1969.9l-8.4-1.3 5.3-5.2 8.4 1.1zM534.1 1968.6l-8.4-1.5 5.3-5 8.4 1.3zM525.7 1967.1l-8.4-1.5 5.3-4.8 8.4 1.3zM517.3 1965.6l-8.4-1.4 5.3-4.7 8.4 1.3zM500.5 1962.9l-8.4-1.1 5.3-4.5 8.4 1zM492.1 1961.8l-8.4-.7 5.4-4.6 8.3.8zM483.7 1961.1l-8.4-.4 5.4-4.8 8.4.6zM475.3 1960.7l-8.4-.3 5.4-4.9 8.4.4zM466.9 1960.4l-8.3-.2 5.3-5 8.4.3zM438.7 1954.1l-8.4-.4 5.3-5 8.4.3zM430.3 1953.7l-8.4-.4 5.4-4.9 8.3.3zM421.9 1953.3l-8.4-.5 5.4-4.7 8.4.3zM413.5 1952.8l-8.4-.5 5.4-4.6 8.4.4zM393.7 1946.7l-8.4-.7 5.3-4.8 8.4.7zM385.3 1946l-8.4-.8 5.3-4.8 8.4.8zM376.9 1945.2l-8.4-.8 5.3-5 8.4 1zM368.5 1944.4l-8.4-1 5.3-5 8.4 1zM360.1 1943.4l-8.4-1 5.4-5 8.3 1zM351.7 1942.4l-8.4-1.1 5.4-5 8.4 1.1zM343.3 1941.3l-8.4-1 5.4-5 8.4 1zM334.9 1940.3l-8.3-1.1 5.3-4.9 8.4 1zM326.6 1939.2l-8.4-1 5.3-4.9 8.4 1zM318.2 1938.2l-8.4-1 5.3-4.9 8.4 1zM309.8 1937.2l-8.4-.9 5.3-5 8.4 1z"/><path fill="#d6c112" stroke="#756a09" d="M643.2 1982.1l-8.4-.8 5.3-6.7 8.4.7zM634.8 1981.3l-8.4-.8 5.3-6.6 8.4.7zM626.4 1980.5l-8.4-.8 5.3-6.5 8.4.7zM618 1979.7l-8.4-.8 5.3-6.3 8.4.6zM609.6 1978.9l-8.4-.8 5.3-6.3 8.4.8zM601.2 1978.1l-8.4-1 5.3-6.2 8.4.9zM592.8 1977.1l-8.4-1.1 5.3-6.1 8.4 1zM584.4 1976l-8.4-1.1 5.4-6.1 8.3 1.1zM576 1974.9l-8.4-1.2 5.4-6 8.4 1.1zM567.6 1973.7l-8.4-1.2 5.4-5.9 8.4 1.1zM559.2 1972.5l-8.3-1.3 5.3-5.6 8.4 1zM508.9 1964.2l-8.4-1.3 5.3-4.6 8.4 1.2zM480.7 1955.9l-8.4-.4 5.3-5 8.4.6zM472.3 1955.5l-8.4-.3 5.3-5.1 8.4.4zM463.9 1955.2l-8.4-.4 5.3-5.1 8.4.4zM455.5 1954.8l-8.4-.3 5.3-5.2 8.4.4zM447.1 1954.5l-8.4-.4 5.3-5.1 8.4.3zM427.3 1948.4l-8.4-.3 5.3-5.1 8.4.2zM418.9 1948.1l-8.4-.4 5.3-4.9 8.4.2zM410.5 1947.7l-8.4-.4 5.3-4.9 8.4.4zM402.1 1947.3l-8.4-.6 5.3-4.8 8.4.5zM373.8 1939.4l-8.4-1 5.4-5.4 8.4 1zM365.4 1938.4l-8.3-1 5.3-5.4 8.4 1zM357.1 1937.4l-8.4-1.1 5.3-5.4 8.4 1.1zM348.7 1936.3l-8.4-1 5.3-5.4 8.4 1zM340.3 1935.3l-8.4-1 5.3-5.3 8.4.9zM331.9 1934.3l-8.4-1 5.3-5.3 8.4 1zM323.5 1933.3l-8.4-1 5.3-5.2 8.4.9zM315.1 1932.3l-8.4-1 5.3-5.2 8.4 1zM306.7 1931.3l-8.4-1 5.3-5.2 8.4 1zM298.3 1930.3l-8.4-1 5.4-5.2 8.3 1zM289.9 1929.3l-8.4-1.1 5.4-5.1 8.4 1z"/><path fill="#e2be14" stroke="#7c680b" d="M651.6 1983.1l-8.4-1 5.3-6.8 8.4.9zM598.1 1970.9l-8.4-1 5.4-6.1 8.4 1zM589.7 1969.9l-8.3-1.1 5.3-6.1 8.4 1.1zM581.4 1968.8l-8.4-1.1 5.3-6 8.4 1zM573 1967.7l-8.4-1.1 5.3-5.8 8.4.9zM564.6 1966.6l-8.4-1 5.3-5.7 8.4.9zM556.2 1965.6l-8.4-1.1 5.3-5.5 8.4.9zM547.8 1964.5l-8.4-1.1 5.3-5.4 8.4 1zM539.4 1963.4l-8.4-1.3 5.3-5.1 8.4 1zM531 1962.1l-8.4-1.3 5.3-4.9 8.4 1.1zM522.6 1960.8l-8.4-1.3 5.4-4.8 8.3 1.2zM514.2 1959.5l-8.4-1.2 5.4-4.7 8.4 1.1zM505.8 1958.3l-8.4-1 5.4-4.7 8.4 1zM497.4 1957.3l-8.3-.8 5.3-4.7 8.4.8zM489.1 1956.5l-8.4-.6 5.3-4.8 8.4.7zM460.8 1949.7l-8.4-.4 5.4-5.3 8.3.4zM452.4 1949.3l-8.4-.3 5.4-5.3 8.4.3zM444 1949l-8.4-.3 5.4-5.3 8.4.3zM435.6 1948.7l-8.3-.3 5.3-5.2 8.4.2zM424.2 1943l-8.4-.2 5.3-5.5 8.4.2zM415.8 1942.8l-8.4-.4 5.3-5.4 8.4.3zM407.4 1942.4l-8.4-.5 5.3-5.4 8.4.5zM399 1941.9l-8.4-.7 5.4-5.4 8.3.7zM390.6 1941.2l-8.4-.8 5.4-5.5 8.4.9zM382.2 1940.4l-8.4-1 5.4-5.4 8.4.9zM354 1930.9l-8.4-1 5.3-5.6 8.4.9zM345.6 1929.9l-8.4-.9 5.3-5.6 8.4.9zM337.2 1929l-8.4-1 5.4-5.5 8.3.9zM328.8 1928l-8.4-.9 5.4-5.5 8.4.9zM320.4 1927.1l-8.4-1 5.4-5.4 8.4.9zM312 1926.1l-8.4-1 5.4-5.4 8.4 1zM303.6 1925.1l-8.3-1 5.3-5.3 8.4.9zM295.3 1924.1l-8.4-1 5.3-5.4 8.4 1.1z"/><path fill="#edbb18" stroke="#82660d" d="M656.9 1976.2l-8.4-.9 5.3-6.6 8.4.8zM648.5 1975.3l-8.4-.7 5.3-6.6 8.4.7zM640.1 1974.6l-8.4-.7 5.3-6.5 8.4.6zM631.7 1973.9l-8.4-.7 5.3-6.3 8.4.5zM623.3 1973.2l-8.4-.6 5.4-6.3 8.3.6zM614.9 1972.6l-8.4-.8 5.4-6.2 8.4.7zM606.5 1971.8l-8.4-.9 5.4-6.1 8.4.8zM536.3 1957l-8.4-1.1 5.4-5.2 8.4 1zM527.9 1955.9l-8.3-1.2 5.3-5.1 8.4 1.1zM519.6 1954.7l-8.4-1.1 5.3-5 8.4 1zM511.2 1953.6l-8.4-1 5.3-5 8.4 1zM502.8 1952.6l-8.4-.8 5.3-5 8.4.8zM494.4 1951.8l-8.4-.7 5.3-5.1 8.4.8zM486 1951.1l-8.4-.6 5.3-5.1 8.4.6zM477.6 1950.5l-8.4-.4 5.3-5.3 8.4.6zM469.2 1950.1l-8.4-.4 5.3-5.3 8.4.4zM457.8 1944l-8.4-.3 5.3-5.6 8.4.3zM449.4 1943.7l-8.4-.3 5.3-5.5 8.4.2zM441 1943.4l-8.4-.2 5.3-5.5 8.4.2zM432.6 1943.2l-8.4-.2 5.3-5.5 8.4.2zM421.1 1937.3l-8.4-.3 5.4-5.9 8.4.3zM412.7 1937l-8.4-.5 5.4-6 8.4.6zM404.3 1936.5l-8.3-.7 5.3-6 8.4.7zM396 1935.8l-8.4-.9 5.3-5.9 8.4.8zM387.6 1934.9l-8.4-.9 5.3-5.9 8.4.9zM379.2 1934l-8.4-1 5.3-5.9 8.4 1zM370.8 1933l-8.4-1 5.3-5.8 8.4.9zM362.4 1932l-8.4-1.1 5.3-5.7 8.4 1zM342.5 1923.4l-8.3-.9 5.3-5.7 8.4.8zM334.2 1922.5l-8.4-.9 5.3-5.6 8.4.8zM325.8 1921.6l-8.4-.9 5.3-5.6 8.4.9zM317.4 1920.7l-8.4-1 5.3-5.4 8.4.8zM309 1919.7l-8.4-.9 5.3-5.5 8.4 1zM300.6 1918.8l-8.4-1.1 5.3-5.4 8.4 1z"/><path fill="#f7ba22" stroke="#876612" d="M620.3 1966.3l-8.4-.7 5.3-6.1 8.4.6zM611.9 1965.6l-8.4-.8 5.3-6.1 8.4.8zM603.5 1964.8l-8.4-1 5.3-6.1 8.4 1zM595.1 1963.8l-8.4-1.1 5.3-6 8.4 1zM586.7 1962.7l-8.4-1 5.3-6 8.4 1zM578.3 1961.7l-8.4-.9 5.3-6 8.4.9zM569.9 1960.8l-8.4-.9 5.3-5.9 8.4.8zM561.5 1959.9l-8.4-.9 5.3-5.7 8.4.7zM553.1 1959l-8.4-1 5.4-5.5 8.3.8zM544.7 1958l-8.4-1 5.4-5.3 8.4.8zM499.7 1946.8l-8.4-.8 5.3-5.3 8.4.8zM491.3 1946l-8.4-.6 5.4-5.4 8.3.7zM482.9 1945.4l-8.4-.6 5.4-5.4 8.4.6zM474.5 1944.8l-8.4-.4 5.4-5.5 8.4.5zM466.1 1944.4l-8.3-.4 5.3-5.6 8.4.5zM454.7 1938.1l-8.4-.2 5.3-5.8 8.4.3zM446.3 1937.9l-8.4-.2 5.3-5.8 8.4.2zM437.9 1937.7l-8.4-.2 5.3-5.8 8.4.2zM429.5 1937.5l-8.4-.2 5.4-5.9 8.3.3zM418.1 1931.1l-8.4-.6 5.3-6.1 8.4.5zM409.7 1930.5l-8.4-.7 5.3-6.1 8.4.7zM401.3 1929.8l-8.4-.8 5.3-6.1 8.4.8zM392.9 1929l-8.4-.9 5.3-6.1 8.4.9zM384.5 1928.1l-8.4-1 5.3-6 8.4.9zM376.1 1927.1l-8.4-.9 5.3-6 8.4.9zM367.7 1926.2l-8.4-1 5.4-5.9 8.3.9zM359.3 1925.2l-8.4-.9 5.4-5.8 8.4.8zM350.9 1924.3l-8.4-.9 5.4-5.8 8.4.9zM339.5 1916.8l-8.4-.8 5.3-5.6 8.4.8zM331.1 1916l-8.4-.9 5.3-5.4 8.4.7zM322.7 1915.1l-8.4-.8 5.3-5.5 8.4.9zM314.3 1914.3l-8.4-1 5.3-5.4 8.4.9zM305.9 1913.3l-8.4-1 5.4-5.3 8.3.9z"/><path fill="#f9ec0a" stroke="#888105" d="M699.5 1932.2l-8.4-1.1 5.3-4.2 8.4 1.1zM691.1 1931.1l-8.4-.9 5.4-4.4 8.3 1.1zM682.7 1930.2l-8.4-1 5.4-4.5 8.4 1.1zM688.1 1925.8l-8.4-1.1 5.3-4.3 8.4 1.2zM674.3 1929.2l-8.4-.9 5.4-4.6 8.4 1zM679.7 1924.7l-8.4-1 5.3-4.4 8.4 1.1zM665.9 1928.3l-8.3-1 5.3-4.7 8.4 1.1zM671.3 1923.7l-8.4-1.1 5.3-4.5 8.4 1.2zM657.6 1927.3l-8.4-1.1 5.3-4.8 8.4 1.2zM662.9 1922.6l-8.4-1.2 5.3-4.5 8.4 1.2zM649.2 1926.2l-8.4-1.2 5.3-4.8 8.4 1.2zM654.5 1921.4l-8.4-1.2 5.3-4.4 8.4 1.1zM640.8 1925l-8.4-1.2 5.3-4.8 8.4 1.2zM646.1 1920.2l-8.4-1.2 5.3-4.4 8.4 1.2zM632.4 1923.8l-8.4-1.3 5.3-4.8 8.4 1.3zM637.7 1919l-8.4-1.3 5.3-4.3 8.4 1.2zM624 1922.5l-8.4-1.3 5.3-4.7 8.4 1.2zM629.3 1917.7l-8.4-1.2 5.4-4.3 8.3 1.2zM620.9 1916.5l-8.4-1.2 5.4-4.3 8.4 1.2zM612.5 1915.3l-8.4-1.2 5.4-4.2 8.4 1.1zM604.1 1914.1l-8.3-1 5.3-4.2 8.4 1zM609.5 1909.9l-8.4-1 5.3-3.6 8.4 1zM673.4 1877.5l-8.4-.9 5.4-2.4 8.3.9zM595.8 1913.1l-8.4-.9 5.3-4.2 8.4.9zM601.1 1908.9l-8.4-.9 5.3-3.6 8.4.9zM654.4 1881.8l-8.4-.8 5.3-2.6 8.4.8zM659.7 1879.2l-8.4-.8 5.3-2.6 8.4.8zM665 1876.6l-8.4-.8 5.4-2.6 8.4 1zM670.4 1874.2l-8.4-1 5.3-2.4 8.4.9zM587.4 1912.2l-8.4-.8 5.3-4.2 8.4.8zM592.7 1908l-8.4-.8 5.3-3.6 8.4.8zM598 1904.4l-8.4-.8 5.4-3.1 8.3.8zM630 1888.8l-8.4-.6 5.3-2.6 8.4.7zM635.3 1886.3l-8.4-.7 5.4-2.7 8.3.8zM640.6 1883.7l-8.3-.8 5.3-2.6 8.4.7zM646 1881l-8.4-.7 5.3-2.7 8.4.8zM651.3 1878.4l-8.4-.8 5.3-2.7 8.4.9zM656.6 1875.8l-8.4-.9 5.4-2.6 8.4.9zM662 1873.2l-8.4-.9 5.3-2.6 8.4 1.1zM579 1911.4l-8.4-.7 5.3-4.2 8.4.7zM584.3 1907.2l-8.4-.7 5.3-3.5 8.4.6zM589.6 1903.6l-8.4-.6 5.4-3.1 8.4.6zM595 1900.5l-8.4-.6 5.3-2.7 8.4.6zM600.3 1897.8l-8.4-.6 5.3-2.4 8.4.6zM605.6 1895.4l-8.4-.6 5.4-2.4 8.3.6zM610.9 1893l-8.3-.6 5.3-2.3 8.4.6zM616.3 1890.7l-8.4-.6 5.3-2.6 8.4.7zM621.6 1888.2l-8.4-.7 5.3-2.6 8.4.7zM626.9 1885.6l-8.4-.7 5.4-2.7 8.4.7zM632.3 1882.9l-8.4-.7 5.3-2.8 8.4.9zM637.6 1880.3l-8.4-.9 5.3-2.7 8.4.9zM642.9 1877.6l-8.4-.9 5.4-2.8 8.3 1zM648.2 1874.9l-8.3-1 5.3-2.7 8.4 1.1zM653.6 1872.3l-8.4-1.1 5.3-2.6 8.4 1.1zM570.6 1910.7l-8.4-.5 5.3-4.2 8.4.5zM575.9 1906.5l-8.4-.5 5.3-3.6 8.4.6zM581.2 1903l-8.4-.6 5.4-3 8.4.5zM586.6 1899.9l-8.4-.5 5.3-2.7 8.4.5zM591.9 1897.2l-8.4-.5 5.3-2.4 8.4.5zM597.2 1894.8l-8.4-.5 5.4-2.4 8.4.5zM602.6 1892.4l-8.4-.5 5.3-2.4 8.4.6zM607.9 1890.1l-8.4-.6 5.3-2.6 8.4.6zM613.2 1887.5l-8.4-.6 5.3-2.7 8.4.7zM618.5 1884.9l-8.4-.7 5.4-2.8 8.4.8zM623.9 1882.2l-8.4-.8 5.3-2.8 8.4.8zM629.2 1879.4l-8.4-.8 5.3-2.8 8.4.9zM634.5 1876.7l-8.4-.9 5.4-2.9 8.4 1zM639.9 1873.9l-8.4-1 5.3-2.7 8.4 1zM645.2 1871.2l-8.4-1 5.3-2.7 8.4 1.1zM650.5 1868.6l-8.4-1.1 5.3-2.5 8.4 1.1zM567.5 1906l-8.4-.4 5.4-3.6 8.3.4zM572.8 1902.4l-8.3-.4 5.3-3 8.4.4zM578.2 1899.4l-8.4-.4 5.3-2.7 8.4.4zM583.5 1896.7l-8.4-.4 5.3-2.5 8.4.5zM588.8 1894.3l-8.4-.5 5.4-2.4 8.4.5zM594.2 1891.9l-8.4-.5 5.3-2.5 8.4.6zM599.5 1889.5l-8.4-.6 5.3-2.6 8.4.6zM604.8 1886.9l-8.4-.6 5.4-2.8 8.3.7zM610.1 1884.2l-8.3-.7 5.3-2.8 8.4.7zM615.5 1881.4l-8.4-.7 5.3-2.9 8.4.8zM620.8 1878.6l-8.4-.8 5.3-2.9 8.4.9zM626.1 1875.8l-8.4-.9 5.4-2.9 8.4.9zM631.5 1872.9l-8.4-.9 5.3-2.9 8.4 1.1zM636.8 1870.2l-8.4-1.1 5.3-2.7 8.4 1.1zM642.1 1867.5l-8.4-1.1 5.4-2.6 8.3 1.2zM559.1 1905.6l-8.4-.4 5.4-3.5 8.4.3zM564.5 1902l-8.4-.3 5.3-3.1 8.4.4zM569.8 1899l-8.4-.4 5.3-2.7 8.4.4zM575.1 1896.3l-8.4-.4 5.3-2.5 8.4.4zM580.4 1893.8l-8.4-.4 5.4-2.5 8.4.5zM585.8 1891.4l-8.4-.5 5.3-2.5 8.4.5zM591.1 1888.9l-8.4-.5 5.3-2.7 8.4.6zM596.4 1886.3l-8.4-.6 5.4-2.8 8.4.6zM601.8 1883.5l-8.4-.6 5.3-3 8.4.8zM607.1 1880.7l-8.4-.8 5.3-2.9 8.4.8zM612.4 1877.8l-8.4-.8 5.3-3 8.4.9zM617.7 1874.9l-8.4-.9 5.4-3 8.4 1zM623.1 1872l-8.4-1 5.3-2.9 8.4 1zM628.4 1869.1l-8.4-1 5.3-2.8 8.4 1.1zM633.7 1866.4l-8.4-1.1 5.4-2.7 8.4 1.2zM556.1 1901.7l-8.4-.3 5.3-3.1 8.4.3zM561.4 1898.6l-8.4-.3 5.3-2.7 8.4.3zM566.7 1895.9l-8.4-.3 5.4-2.6 8.3.4zM572 1893.4l-8.3-.4 5.3-2.5 8.4.4zM577.4 1890.9l-8.4-.4 5.3-2.6 8.4.5zM582.7 1888.4l-8.4-.5 5.3-2.8 8.4.6zM588 1885.7l-8.4-.6 5.4-2.9 8.4.7zM593.4 1882.9l-8.4-.7 5.3-3 8.4.7zM598.7 1879.9l-8.4-.7 5.3-3 8.4.8zM604 1877l-8.4-.8 5.4-3.1 8.3.9zM609.3 1874l-8.3-.9 5.3-3 8.4.9zM614.7 1871l-8.4-.9 5.3-3 8.4 1zM620 1868.1l-8.4-1 5.3-2.8 8.4 1zM625.3 1865.3l-8.4-1 5.4-2.7 8.4 1zM569 1890.5l-8.4-.5 5.3-2.6 8.4.5zM574.3 1887.9l-8.4-.5 5.4-2.9 8.3.6zM579.6 1885.1l-8.3-.6 5.3-2.9 8.4.6zM585 1882.2l-8.4-.6 5.3-3.1 8.4.7zM590.3 1879.2l-8.4-.7 5.3-3.1 8.4.8zM595.6 1876.2l-8.4-.8 5.4-3.1 8.4.8zM601 1873.1l-8.4-.8 5.3-3.1 8.4.9zM606.3 1870.1l-8.4-.9 5.3-3 8.4.9zM611.6 1867.1l-8.4-.9 5.4-2.9 8.3 1zM616.9 1864.3l-8.3-1 5.3-2.8 8.4 1.1zM587.2 1875.4l-8.4-.8 5.4-3.2 8.4.9zM592.6 1872.3l-8.4-.9 5.3-3.1 8.4.9zM597.9 1869.2l-8.4-.9 5.3-3.1 8.4 1zM603.2 1866.2l-8.4-1 5.4-2.9 8.4 1zM608.6 1863.3l-8.4-1 5.3-2.8 8.4 1zM584.2 1871.4l-8.4-.8 5.3-3.2 8.4.9zM589.5 1868.3l-8.4-.9 5.3-3.2 8.4 1zM594.8 1865.2l-8.4-1 5.4-3 8.4 1.1zM600.2 1862.3l-8.4-1.1 5.3-2.8 8.4 1.1zM581.1 1867.4l-8.4-.9 5.4-3.3 8.3 1zM586.4 1864.2l-8.3-1 5.3-3.1 8.4 1.1zM591.8 1861.2l-8.4-1.1 5.3-2.9 8.4 1.2zM578.1 1863.2l-8.4-1 5.3-3.2 8.4 1.1zM583.4 1860.1l-8.4-1.1 5.3-3 8.4 1.2zM569.7 1862.2l-8.4-1 5.3-3.3 8.4 1.1zM575 1859l-8.4-1.1 5.3-3.1 8.4 1.2zM561.3 1861.2l-8.4-.9 5.3-3.4 8.4 1zM566.6 1857.9l-8.4-1 5.3-3.2 8.4 1.1zM552.9 1860.3l-8.4-.9 5.3-3.5 8.4 1zM558.2 1856.9l-8.4-1 5.3-3.2 8.4 1zM549.8 1855.9l-8.4-.8 5.4-3.4 8.3 1zM541.4 1855.1l-8.4-.8 5.4-3.4 8.4.8zM533 1854.3l-8.4-.8 5.4-3.4 8.4.8z"/><path fill="#fae50d" stroke="#897d07" d="M694.2 1936.6l-8.4-1 5.3-4.5 8.4 1.1zM685.8 1935.6l-8.4-.9 5.3-4.5 8.4.9zM677.4 1934.7l-8.4-.8 5.3-4.7 8.4 1zM669 1933.9l-8.4-.8 5.3-4.8 8.4.9zM660.6 1933.1l-8.4-.9 5.4-4.9 8.3 1zM652.2 1932.2l-8.4-1 5.4-5 8.4 1.1zM643.8 1931.2l-8.4-1.1 5.4-5.1 8.4 1.2zM635.4 1930.1l-8.3-1.2 5.3-5.1 8.4 1.2zM627.1 1928.9l-8.4-1.3 5.3-5.1 8.4 1.3zM618.7 1927.6l-8.4-1.2 5.3-5.2 8.4 1.3zM610.3 1926.4l-8.4-1.1 5.3-5.3 8.4 1.2zM615.6 1921.2l-8.4-1.2 5.3-4.7 8.4 1.2zM607.2 1920l-8.4-1 5.3-4.9 8.4 1.2zM598.8 1919l-8.4-1 5.4-4.9 8.3 1zM590.4 1918l-8.4-.9 5.4-4.9 8.4.9zM582 1917.1l-8.4-.8 5.4-4.9 8.4.8zM573.6 1916.3l-8.4-.6 5.4-5 8.4.7zM565.2 1915.7l-8.3-.6 5.3-4.9 8.4.5zM556.9 1915.1l-8.4-.6 5.3-4.8 8.4.5zM562.2 1910.2l-8.4-.5 5.3-4.1 8.4.4zM548.5 1914.5l-8.4-.4 5.3-4.8 8.4.4zM553.8 1909.7l-8.4-.4 5.3-4.1 8.4.4zM545.4 1909.3l-8.4-.3 5.3-4.1 8.4.3zM550.7 1905.2l-8.4-.3 5.4-3.5 8.4.3zM537 1909l-8.4-.4 5.3-4 8.4.3zM542.3 1904.9l-8.4-.3 5.4-3.5 8.4.3zM547.7 1901.4l-8.4-.3 5.3-3.1 8.4.3zM553 1898.3l-8.4-.3 5.3-2.8 8.4.4zM558.3 1895.6l-8.4-.4 5.4-2.6 8.4.4zM563.7 1893l-8.4-.4 5.3-2.6 8.4.5zM528.6 1908.6l-8.4-.3 5.4-4 8.3.3zM533.9 1904.6l-8.3-.3 5.3-3.5 8.4.3zM539.3 1901.1l-8.4-.3 5.3-3.1 8.4.3zM544.6 1898l-8.4-.3 5.3-2.8 8.4.3zM549.9 1895.2l-8.4-.3 5.4-2.7 8.4.4zM555.3 1892.6l-8.4-.4 5.3-2.6 8.4.4zM560.6 1890l-8.4-.4 5.3-2.7 8.4.5zM565.9 1887.4l-8.4-.5 5.4-2.9 8.4.5zM571.3 1884.5l-8.4-.5 5.3-3 8.4.6zM576.6 1881.6l-8.4-.6 5.3-3.2 8.4.7zM581.9 1878.5l-8.4-.7 5.3-3.2 8.4.8zM525.6 1904.3l-8.4-.4 5.3-3.5 8.4.4zM530.9 1900.8l-8.4-.4 5.3-3 8.4.3zM536.2 1897.7l-8.4-.3 5.4-2.9 8.3.4zM541.5 1894.9l-8.3-.4 5.3-2.7 8.4.4zM546.9 1892.2l-8.4-.4 5.3-2.6 8.4.4zM552.2 1889.6l-8.4-.4 5.3-2.8 8.4.5zM557.5 1886.9l-8.4-.5 5.4-2.9 8.4.5zM562.9 1884l-8.4-.5 5.3-3.1 8.4.6zM568.2 1881l-8.4-.6 5.3-3.2 8.4.6zM573.5 1877.8l-8.4-.6 5.4-3.3 8.3.7zM578.8 1874.6l-8.3-.7 5.3-3.3 8.4.8zM522.5 1900.4l-8.4-.4 5.3-3.1 8.4.5zM527.8 1897.4l-8.4-.5 5.4-2.8 8.4.4zM533.2 1894.5l-8.4-.4 5.3-2.7 8.4.4zM538.5 1891.8l-8.4-.4 5.3-2.6 8.4.4zM543.8 1889.2l-8.4-.4 5.3-2.8 8.4.4zM549.1 1886.4l-8.4-.4 5.4-3 8.4.5zM554.5 1883.5l-8.4-.5 5.3-3.2 8.4.6zM559.8 1880.4l-8.4-.6 5.3-3.3 8.4.7zM565.1 1877.2l-8.4-.7 5.4-3.3 8.4.7zM570.5 1873.9l-8.4-.7 5.3-3.4 8.4.8zM575.8 1870.6l-8.4-.8 5.3-3.3 8.4.9zM519.4 1896.9l-8.4-.5 5.4-2.8 8.4.5zM524.8 1894.1l-8.4-.5 5.3-2.6 8.4.4zM530.1 1891.4l-8.4-.4 5.3-2.7 8.4.5zM535.4 1888.8l-8.4-.5 5.4-2.8 8.3.5zM540.7 1886l-8.3-.5 5.3-3 8.4.5zM546.1 1883l-8.4-.5 5.3-3.2 8.4.5zM551.4 1879.8l-8.4-.5 5.3-3.4 8.4.6zM556.7 1876.5l-8.4-.6 5.4-3.4 8.4.7zM562.1 1873.2l-8.4-.7 5.3-3.5 8.4.8zM567.4 1869.8l-8.4-.8 5.3-3.4 8.4.9zM572.7 1866.5l-8.4-.9 5.4-3.4 8.4 1zM532.4 1885.5l-8.4-.4 5.3-3.1 8.4.5zM537.7 1882.5l-8.4-.5 5.3-3.2 8.4.5zM543 1879.3l-8.4-.5 5.4-3.5 8.3.6zM548.3 1875.9l-8.3-.6 5.3-3.5 8.4.7zM553.7 1872.5l-8.4-.7 5.3-3.6 8.4.8zM559 1869l-8.4-.8 5.3-3.5 8.4.9zM564.3 1865.6l-8.4-.9 5.4-3.5 8.4 1zM534.6 1878.8l-8.4-.5 5.4-3.5 8.4.5zM540 1875.3l-8.4-.5 5.3-3.6 8.4.6zM545.3 1871.8l-8.4-.6 5.3-3.7 8.4.7zM550.6 1868.2l-8.4-.7 5.3-3.7 8.4.9zM555.9 1864.7l-8.4-.9 5.4-3.5 8.4.9zM531.6 1874.8l-8.4-.5 5.3-3.7 8.4.6zM536.9 1871.2l-8.4-.6 5.3-3.7 8.4.6zM542.2 1867.5l-8.4-.6 5.4-3.8 8.3.7zM547.5 1863.8l-8.3-.7 5.3-3.7 8.4.9zM528.5 1870.6l-8.4-.5 5.3-3.8 8.4.6zM533.8 1866.9l-8.4-.6 5.4-3.9 8.4.7zM539.2 1863.1l-8.4-.7 5.3-3.7 8.4.7zM544.5 1859.4l-8.4-.7 5.3-3.6 8.4.8zM525.4 1866.3l-8.4-.6 5.4-3.9 8.4.6zM530.8 1862.4l-8.4-.6 5.3-3.9 8.4.8zM536.1 1858.7l-8.4-.8 5.3-3.6 8.4.8zM522.4 1861.8l-8.4-.7 5.3-3.9 8.4.7zM527.7 1857.9l-8.4-.7 5.3-3.7 8.4.8zM514 1861.1l-8.4-.7 5.3-3.9 8.4.7zM519.3 1857.2l-8.4-.7 5.3-3.8 8.4.8zM524.6 1853.5l-8.4-.8 5.4-3.4 8.4.8zM510.9 1856.5l-8.4-.8 5.4-3.7 8.3.7zM516.2 1852.7l-8.3-.7 5.3-3.5 8.4.8zM502.5 1855.7l-8.4-.7 5.4-3.8 8.4.8zM507.9 1852l-8.4-.8 5.3-3.5 8.4.8zM494.1 1855l-8.4-.8 5.4-3.7 8.4.7zM499.5 1851.2l-8.4-.7 5.3-3.5 8.4.7zM491.1 1850.5l-8.4-.7 5.3-3.5 8.4.7zM482.7 1849.8l-8.4-.7 5.3-3.4 8.4.6zM474.3 1849.1l-8.4-.6 5.3-3.4 8.4.6z"/><path fill="#faf204" stroke="#898502" d="M704.8 1928l-8.4-1.1 5.4-4.1 8.4 1.2zM710.2 1924l-8.4-1.2 5.3-4 8.4 1.3zM715.5 1920.1l-8.4-1.3 5.3-3.7 8.4 1.3zM768.8 1891.7l-8.4-1.2 5.3-1.9 8.4 1.2zM774.1 1889.8l-8.4-1.2 5.4-1.9 8.3 1.2zM779.4 1887.9l-8.3-1.2 5.3-1.9 8.4 1.2zM784.8 1886l-8.4-1.2 5.3-1.8 8.4 1.1zM696.4 1926.9l-8.3-1.1 5.3-4.2 8.4 1.2zM701.8 1922.8l-8.4-1.2 5.3-4 8.4 1.2zM707.1 1918.8l-8.4-1.2 5.3-3.8 8.4 1.3zM760.4 1890.5l-8.4-1.2 5.3-1.9 8.4 1.2zM765.7 1888.6l-8.4-1.2 5.4-1.8 8.4 1.1zM771.1 1886.7l-8.4-1.1 5.3-1.8 8.4 1zM776.4 1884.8l-8.4-1 5.3-1.8 8.4 1zM693.4 1921.6l-8.4-1.2 5.3-4.1 8.4 1.3zM698.7 1917.6l-8.4-1.3 5.4-3.9 8.3 1.4zM752 1889.3l-8.4-1.3 5.3-1.8 8.4 1.2zM757.3 1887.4l-8.4-1.2 5.4-1.8 8.4 1.2zM762.7 1885.6l-8.4-1.2 5.3-1.7 8.4 1.1zM768 1883.8l-8.4-1.1 5.3-1.7 8.4 1zM685 1920.4l-8.4-1.1 5.3-4.2 8.4 1.2zM690.3 1916.3l-8.4-1.2 5.4-3.9 8.4 1.2zM743.6 1888l-8.4-1.1 5.3-1.8 8.4 1.1zM748.9 1886.2l-8.4-1.1 5.4-1.7 8.4 1zM754.3 1884.4l-8.4-1 5.3-1.7 8.4 1zM759.6 1882.7l-8.4-1 5.3-1.8 8.4 1.1zM676.6 1919.3l-8.4-1.2 5.3-4.2 8.4 1.2zM681.9 1915.1l-8.4-1.2 5.4-4 8.4 1.3zM735.2 1886.9l-8.4-1.1 5.4-1.8 8.3 1.1zM740.5 1885.1l-8.3-1.1 5.3-1.7 8.4 1.1zM745.9 1883.4l-8.4-1.1 5.3-1.7 8.4 1.1zM751.2 1881.7l-8.4-1.1 5.3-1.7 8.4 1zM668.2 1918.1l-8.4-1.2 5.3-4.2 8.4 1.2zM673.5 1913.9l-8.4-1.2 5.4-3.9 8.4 1.1zM721.5 1887.6l-8.4-1 5.3-1.9 8.4 1.1zM726.8 1885.8l-8.4-1.1 5.4-1.8 8.4 1.1zM732.2 1884l-8.4-1.1 5.3-1.7 8.4 1.1zM737.5 1882.3l-8.4-1.1 5.3-1.7 8.4 1.1zM742.8 1880.6l-8.4-1.1 5.4-1.7 8.3 1.1zM659.8 1916.9l-8.4-1.1 5.4-4.2 8.3 1.1zM665.1 1912.7l-8.3-1.1 5.3-3.9 8.4 1.1zM670.5 1908.8l-8.4-1.1 5.3-3.6 8.4 1zM713.1 1886.6l-8.4-.9 5.3-1.9 8.4.9zM718.4 1884.7l-8.4-.9 5.4-1.9 8.4 1zM723.8 1882.9l-8.4-1 5.3-1.8 8.4 1.1zM729.1 1881.2l-8.4-1.1 5.3-1.8 8.4 1.2zM734.4 1879.5l-8.4-1.2 5.4-1.8 8.4 1.3zM651.4 1915.8l-8.4-1.2 5.4-4.1 8.4 1.1zM656.8 1911.6l-8.4-1.1 5.3-3.8 8.4 1zM662.1 1907.7l-8.4-1 5.3-3.4 8.4.8zM699.4 1887.8l-8.4-.7 5.3-2.1 8.4.7zM704.7 1885.7l-8.4-.7 5.4-2.1 8.3.9zM710 1883.8l-8.3-.9 5.3-1.9 8.4.9zM715.4 1881.9l-8.4-.9 5.3-2 8.4 1.1zM720.7 1880.1l-8.4-1.1 5.3-1.9 8.4 1.2zM726 1878.3l-8.4-1.2 5.4-1.8 8.4 1.2zM643 1914.6l-8.4-1.2 5.4-4 8.4 1.1zM648.4 1910.5l-8.4-1.1 5.3-3.6 8.4.9zM653.7 1906.7l-8.4-.9 5.3-3.3 8.4.8zM659 1903.3l-8.4-.8 5.4-3 8.4.6zM685.7 1889.4l-8.4-.5 5.3-2.3 8.4.5zM691 1887.1l-8.4-.5 5.3-2.3 8.4.7zM696.3 1885l-8.4-.7 5.4-2.2 8.4.8zM701.7 1882.9l-8.4-.8 5.3-2.1 8.4 1zM707 1881l-8.4-1 5.3-2 8.4 1zM712.3 1879l-8.4-1 5.3-2.1 8.4 1.2zM717.6 1877.1l-8.4-1.2 5.4-1.9 8.4 1.3zM634.6 1913.4l-8.3-1.2 5.3-3.9 8.4 1.1zM640 1909.4l-8.4-1.1 5.3-3.4 8.4.9zM645.3 1905.8l-8.4-.9 5.3-3.2 8.4.8zM650.6 1902.5l-8.4-.8 5.4-2.9 8.4.7zM656 1899.5l-8.4-.7 5.3-2.7 8.4.5zM661.3 1896.6l-8.4-.5 5.3-2.6 8.4.4zM666.6 1893.9l-8.4-.4 5.4-2.5 8.3.4zM671.9 1891.4l-8.3-.4 5.3-2.5 8.4.4zM677.3 1888.9l-8.4-.4 5.3-2.4 8.4.5zM682.6 1886.6l-8.4-.5 5.3-2.4 8.4.6zM687.9 1884.3l-8.4-.6 5.4-2.3 8.4.7zM693.3 1882.1l-8.4-.7 5.3-2.3 8.4.9zM698.6 1880l-8.4-.9 5.3-2.2 8.4 1.1zM703.9 1878l-8.4-1.1 5.4-2.1 8.3 1.1zM709.2 1875.9l-8.3-1.1 5.3-2.1 8.4 1.3zM626.3 1912.2l-8.4-1.2 5.3-3.7 8.4 1zM631.6 1908.3l-8.4-1 5.3-3.3 8.4.9zM636.9 1904.9l-8.4-.9 5.3-3.1 8.4.8zM642.2 1901.7l-8.4-.8 5.4-2.7 8.4.6zM647.6 1898.8l-8.4-.6 5.3-2.6 8.4.5zM652.9 1896.1l-8.4-.5 5.3-2.5 8.4.4zM658.2 1893.5l-8.4-.4 5.4-2.6 8.4.5zM663.6 1891l-8.4-.5 5.3-2.5 8.4.5zM668.9 1888.5l-8.4-.5 5.3-2.5 8.4.6zM674.2 1886.1l-8.4-.6 5.4-2.4 8.3.6zM679.5 1883.7l-8.3-.6 5.3-2.4 8.4.7zM684.9 1881.4l-8.4-.7 5.3-2.4 8.4.8zM690.2 1879.1l-8.4-.8 5.3-2.3 8.4.9zM695.5 1876.9l-8.4-.9 5.4-2.3 8.4 1.1zM700.9 1874.8l-8.4-1.1 5.3-2.2 8.4 1.2zM617.9 1911l-8.4-1.1 5.3-3.6 8.4 1zM623.2 1907.3l-8.4-1 5.3-3.3 8.4 1zM628.5 1904l-8.4-1 5.4-2.9 8.3.8zM633.8 1900.9l-8.3-.8 5.3-2.6 8.4.7zM639.2 1898.2l-8.4-.7 5.3-2.5 8.4.6zM644.5 1895.6l-8.4-.6 5.3-2.5 8.4.6zM649.8 1893.1l-8.4-.6 5.4-2.5 8.4.5zM655.2 1890.5l-8.4-.5 5.3-2.5 8.4.5zM660.5 1888l-8.4-.5 5.3-2.5 8.4.5zM665.8 1885.5l-8.4-.5 5.4-2.6 8.4.7zM671.2 1883.1l-8.4-.7 5.3-2.5 8.4.8zM676.5 1880.7l-8.4-.8 5.3-2.4 8.4.8zM681.8 1878.3l-8.4-.8 5.3-2.4 8.4.9zM687.1 1876l-8.4-.9 5.4-2.4 8.4 1zM692.5 1873.7l-8.4-1 5.3-2.2 8.4 1zM614.8 1906.3l-8.4-1 5.3-3.2 8.4.9zM620.1 1903l-8.4-.9 5.4-2.8 8.4.8zM625.5 1900.1l-8.4-.8 5.3-2.6 8.4.8zM630.8 1897.5l-8.4-.8 5.3-2.4 8.4.7zM636.1 1895l-8.4-.7 5.4-2.4 8.3.6zM641.4 1892.5l-8.3-.6 5.3-2.5 8.4.6zM646.8 1890l-8.4-.6 5.3-2.5 8.4.6zM652.1 1887.5l-8.4-.6 5.3-2.6 8.4.7zM657.4 1885l-8.4-.7 5.4-2.5 8.4.6zM662.8 1882.4l-8.4-.6 5.3-2.6 8.4.7zM668.1 1879.9l-8.4-.7 5.3-2.6 8.4.9zM678.7 1875.1l-8.3-.9 5.3-2.5 8.4 1zM684.1 1872.7l-8.4-1 5.3-2.3 8.4 1.1zM606.4 1905.3l-8.4-.9 5.3-3.1 8.4.8zM611.7 1902.1l-8.4-.8 5.4-2.8 8.4.8zM617.1 1899.3l-8.4-.8 5.3-2.5 8.4.7zM622.4 1896.7l-8.4-.7 5.3-2.3 8.4.6zM627.7 1894.3l-8.4-.6 5.4-2.4 8.4.6zM633.1 1891.9l-8.4-.6 5.3-2.5 8.4.6zM638.4 1889.4l-8.4-.6 5.3-2.5 8.4.6zM643.7 1886.9l-8.4-.6 5.3-2.6 8.4.6zM649 1884.3l-8.4-.6 5.4-2.7 8.4.8zM675.7 1871.7l-8.4-.9 5.3-2.4 8.4 1zM603.3 1901.3l-8.3-.8 5.3-2.7 8.4.7zM608.7 1898.5l-8.4-.7 5.3-2.4 8.4.6zM614 1896l-8.4-.6 5.3-2.4 8.4.7zM619.3 1893.7l-8.4-.7 5.4-2.3 8.4.6zM624.7 1891.3l-8.4-.6 5.3-2.5 8.4.6zM667.3 1870.8l-8.4-1.1 5.3-2.4 8.4 1.1zM658.9 1869.7l-8.4-1.1 5.3-2.5 8.4 1.2z"/><path fill="#fbf900" stroke="#8a8800" d="M720.8 1916.4l-8.4-1.3 5.4-3.6 8.4 1.3zM726.2 1912.8l-8.4-1.3 5.3-3.3 8.4 1.3zM731.5 1909.5l-8.4-1.3 5.3-3.2 8.4 1.4zM736.8 1906.4l-8.4-1.4 5.3-2.9 8.4 1.4zM742.1 1903.5l-8.4-1.4 5.4-2.7 8.4 1.4zM747.5 1900.8l-8.4-1.4 5.3-2.4 8.4 1.3zM752.8 1898.3l-8.4-1.3 5.3-2.3 8.4 1.3zM758.1 1896l-8.4-1.3 5.4-2.2 8.4 1.3zM763.5 1893.8l-8.4-1.3 5.3-2 8.4 1.2zM712.4 1915.1l-8.4-1.3 5.4-3.7 8.4 1.4zM717.8 1911.5l-8.4-1.4 5.3-3.3 8.4 1.4zM723.1 1908.2l-8.4-1.4 5.3-3.2 8.4 1.4zM728.4 1905l-8.4-1.4 5.4-2.9 8.3 1.4zM733.7 1902.1l-8.3-1.4 5.3-2.7 8.4 1.4zM739.1 1899.4l-8.4-1.4 5.3-2.4 8.4 1.4zM744.4 1897l-8.4-1.4 5.3-2.3 8.4 1.4zM749.7 1894.7l-8.4-1.4 5.4-2.1 8.4 1.3zM755.1 1892.5l-8.4-1.3 5.3-1.9 8.4 1.2zM704 1913.8l-8.3-1.4 5.3-3.6 8.4 1.3zM709.4 1910.1l-8.4-1.3 5.3-3.4 8.4 1.4zM714.7 1906.8l-8.4-1.4 5.3-3.2 8.4 1.4zM720 1903.6l-8.4-1.4 5.4-2.9 8.4 1.4zM725.4 1900.7l-8.4-1.4 5.3-2.6 8.4 1.3zM730.7 1898l-8.4-1.3 5.3-2.5 8.4 1.4zM736 1895.6l-8.4-1.4 5.4-2.2 8.3 1.3zM741.3 1893.3l-8.3-1.3 5.3-2 8.4 1.2zM746.7 1891.2l-8.4-1.2 5.3-2 8.4 1.3zM695.7 1912.4l-8.4-1.2 5.3-3.7 8.4 1.3zM701 1908.8l-8.4-1.3 5.3-3.5 8.4 1.4zM706.3 1905.4l-8.4-1.4 5.3-3.1 8.4 1.3zM711.6 1902.2l-8.4-1.3 5.4-2.9 8.4 1.3zM717 1899.3l-8.4-1.3 5.3-2.7 8.4 1.4zM722.3 1896.7l-8.4-1.4 5.3-2.4 8.4 1.3zM727.6 1894.2l-8.4-1.3 5.4-2.1 8.4 1.2zM733 1892l-8.4-1.2 5.3-2.1 8.4 1.3zM738.3 1890l-8.4-1.3 5.3-1.8 8.4 1.1zM687.3 1911.2l-8.4-1.3 5.3-3.7 8.4 1.3zM692.6 1907.5l-8.4-1.3 5.3-3.4 8.4 1.2zM697.9 1904l-8.4-1.2 5.4-3.2 8.3 1.3zM703.2 1900.9l-8.3-1.3 5.3-2.8 8.4 1.2zM708.6 1898l-8.4-1.2 5.3-2.7 8.4 1.2zM713.9 1895.3l-8.4-1.2 5.3-2.3 8.4 1.1zM719.2 1892.9l-8.4-1.1 5.4-2.2 8.4 1.2zM724.6 1890.8l-8.4-1.2 5.3-2 8.4 1.1zM729.9 1888.7l-8.4-1.1 5.3-1.8 8.4 1.1zM678.9 1909.9l-8.4-1.1 5.3-3.7 8.4 1.1zM684.2 1906.2l-8.4-1.1 5.3-3.4 8.4 1.1zM689.5 1902.8l-8.4-1.1 5.4-3.1 8.4 1zM694.9 1899.6l-8.4-1 5.3-2.9 8.4 1.1zM700.2 1896.8l-8.4-1.1 5.3-2.6 8.4 1zM705.5 1894.1l-8.4-1 5.4-2.3 8.3 1zM710.8 1891.8l-8.3-1 5.3-2.2 8.4 1zM716.2 1889.6l-8.4-1 5.3-2 8.4 1zM675.8 1905.1l-8.4-1 5.3-3.3 8.4.9zM681.1 1901.7l-8.4-.9 5.4-3 8.4.8zM686.5 1898.6l-8.4-.8 5.3-2.8 8.4.7zM691.8 1895.7l-8.4-.7 5.3-2.6 8.4.7zM697.1 1893.1l-8.4-.7 5.4-2.4 8.4.8zM702.5 1890.8l-8.4-.8 5.3-2.2 8.4.8zM707.8 1888.6l-8.4-.8 5.3-2.1 8.4.9zM667.4 1904.1l-8.4-.8 5.4-3.2 8.3.7zM672.7 1900.8l-8.3-.7 5.3-3 8.4.7zM678.1 1897.8l-8.4-.7 5.3-2.7 8.4.6zM683.4 1895l-8.4-.6 5.3-2.6 8.4.6zM688.7 1892.4l-8.4-.6 5.4-2.4 8.4.6zM694.1 1890l-8.4-.6 5.3-2.3 8.4.7zM664.4 1900.1l-8.4-.6 5.3-2.9 8.4.5zM669.7 1897.1l-8.4-.5 5.3-2.7 8.4.5zM675 1894.4l-8.4-.5 5.3-2.5 8.4.4zM680.3 1891.8l-8.4-.4 5.4-2.5 8.4.5z"/><path fill="#fdde11" stroke="#8b7a09" d="M688.9 1941.3l-8.4-1 5.3-4.7 8.4 1zM680.5 1940.3l-8.4-.7 5.3-4.9 8.4.9zM672.1 1939.6l-8.4-.8 5.3-4.9 8.4.8zM663.7 1938.8l-8.4-.7 5.3-5 8.4.8zM655.3 1938.1l-8.4-.7 5.3-5.2 8.4.9zM646.9 1937.4l-8.4-.9 5.3-5.3 8.4 1zM638.5 1936.5l-8.4-1 5.3-5.4 8.4 1.1zM630.1 1935.5l-8.4-1.2 5.4-5.4 8.3 1.2zM621.7 1934.3l-8.4-1.2 5.4-5.5 8.4 1.3zM601.9 1925.3l-8.4-1 5.3-5.3 8.4 1zM593.5 1924.3l-8.4-.9 5.3-5.4 8.4 1zM585.1 1923.4l-8.4-.8 5.3-5.5 8.4.9zM576.7 1922.6l-8.4-.8 5.3-5.5 8.4.8zM568.3 1921.8l-8.4-.7 5.3-5.4 8.4.6zM559.9 1921.1l-8.4-.6 5.4-5.4 8.3.6zM551.5 1920.5l-8.4-.6 5.4-5.4 8.4.6zM543.1 1919.9l-8.4-.5 5.4-5.3 8.4.4zM540.1 1914.1l-8.4-.5 5.3-4.6 8.4.3zM531.7 1913.6l-8.4-.4 5.3-4.6 8.4.4zM523.3 1913.2l-8.4-.4 5.3-4.5 8.4.3zM514.9 1912.8l-8.4-.5 5.3-4.5 8.4.5zM520.2 1908.3l-8.4-.5 5.4-3.9 8.4.4zM511.8 1907.8l-8.4-.5 5.4-3.9 8.4.5zM517.2 1903.9l-8.4-.5 5.3-3.4 8.4.4zM503.4 1907.3l-8.3-.6 5.3-3.9 8.4.6zM508.8 1903.4l-8.4-.6 5.3-3.4 8.4.6zM514.1 1900l-8.4-.6 5.3-3 8.4.5zM495.1 1906.7l-8.4-.6 5.3-3.9 8.4.6zM500.4 1902.8l-8.4-.6 5.3-3.4 8.4.6zM505.7 1899.4l-8.4-.6 5.4-3 8.3.6zM511 1896.4l-8.3-.6 5.3-2.7 8.4.5zM516.4 1893.6l-8.4-.5 5.3-2.6 8.4.5zM521.7 1891l-8.4-.5 5.3-2.6 8.4.4zM527 1888.3l-8.4-.4 5.4-2.8 8.4.4zM486.7 1906.1l-8.4-.7 5.3-3.9 8.4.7zM492 1902.2l-8.4-.7 5.3-3.4 8.4.7zM497.3 1898.8l-8.4-.7 5.4-2.9 8.4.6zM502.7 1895.8l-8.4-.6 5.3-2.6 8.4.5zM508 1893.1l-8.4-.5 5.3-2.5 8.4.4zM513.3 1890.5l-8.4-.4 5.3-2.6 8.4.4zM518.6 1887.9l-8.4-.4 5.4-2.8 8.4.4zM524 1885.1l-8.4-.4 5.3-3.1 8.4.4zM529.3 1882l-8.4-.4 5.3-3.3 8.4.5zM483.6 1901.5l-8.4-.8 5.3-3.3 8.4.7zM488.9 1898.1l-8.4-.7 5.4-2.8 8.4.6zM494.3 1895.2l-8.4-.6 5.3-2.6 8.4.6zM499.6 1892.6l-8.4-.6 5.3-2.4 8.4.5zM504.9 1890.1l-8.4-.5 5.4-2.5 8.3.4zM510.2 1887.5l-8.3-.4 5.3-2.7 8.4.3zM515.6 1884.7l-8.4-.3 5.3-3.1 8.4.3zM520.9 1881.6l-8.4-.3 5.3-3.4 8.4.4zM526.2 1878.3l-8.4-.4 5.4-3.6 8.4.5zM475.2 1900.7l-8.4-.7 5.3-3.3 8.4.7zM480.5 1897.4l-8.4-.7 5.4-2.7 8.4.6zM485.9 1894.6l-8.4-.6 5.3-2.5 8.4.5zM491.2 1892l-8.4-.5 5.3-2.4 8.4.5zM496.5 1889.6l-8.4-.5 5.4-2.4 8.4.4zM501.9 1887.1l-8.4-.4 5.3-2.7 8.4.4zM507.2 1884.4l-8.4-.4 5.3-3.1 8.4.4zM512.5 1881.3l-8.4-.4 5.4-3.4 8.3.4zM517.8 1877.9l-8.3-.4 5.3-3.6 8.4.4zM523.2 1874.3l-8.4-.4 5.3-3.8 8.4.5zM472.1 1896.7l-8.3-.7 5.3-2.7 8.4.7zM477.5 1894l-8.4-.7 5.3-2.4 8.4.6zM482.8 1891.5l-8.4-.6 5.3-2.3 8.4.5zM488.1 1889.1l-8.4-.5 5.4-2.4 8.4.5zM493.5 1886.7l-8.4-.5 5.3-2.6 8.4.4zM498.8 1884l-8.4-.4 5.3-3 8.4.3zM504.1 1880.9l-8.4-.3 5.4-3.5 8.4.4zM509.5 1877.5l-8.4-.4 5.3-3.6 8.4.4zM514.8 1873.9l-8.4-.4 5.3-3.9 8.4.5zM520.1 1870.1l-8.4-.5 5.3-3.9 8.4.6zM495.7 1880.6l-8.4-.5 5.4-3.4 8.4.4zM501.1 1877.1l-8.4-.4 5.3-3.7 8.4.5zM506.4 1873.5l-8.4-.5 5.3-3.9 8.4.5zM511.7 1869.6l-8.4-.5 5.4-4 8.3.6zM517 1865.7l-8.3-.6 5.3-4 8.4.7zM492.7 1876.7l-8.4-.6 5.3-3.7 8.4.6zM498 1873l-8.4-.6 5.3-3.9 8.4.6zM503.3 1869.1l-8.4-.6 5.4-4 8.4.6zM508.7 1865.1l-8.4-.6 5.3-4.1 8.4.7zM489.6 1872.4l-8.4-.7 5.3-3.9 8.4.7zM494.9 1868.5l-8.4-.7 5.4-4.1 8.4.8zM500.3 1864.5l-8.4-.8 5.3-4 8.4.7zM505.6 1860.4l-8.4-.7 5.3-4 8.4.8zM486.5 1867.8l-8.3-.8 5.3-4 8.4.7zM491.9 1863.7l-8.4-.7 5.3-4.1 8.4.8zM497.2 1859.7l-8.4-.8 5.3-3.9 8.4.7zM478.2 1867l-8.4-.8 5.3-4 8.4.8zM483.5 1863l-8.4-.8 5.3-4 8.4.7zM488.8 1858.9l-8.4-.7 5.3-4 8.4.8zM475.1 1862.2l-8.4-.8 5.3-4 8.4.8zM480.4 1858.2l-8.4-.8 5.4-3.9 8.3.7zM485.7 1854.2l-8.3-.7 5.3-3.7 8.4.7zM466.7 1861.4l-8.4-.7 5.3-4 8.4.7zM472 1857.4l-8.4-.7 5.4-3.9 8.4.7zM477.4 1853.5l-8.4-.7 5.3-3.7 8.4.7zM463.6 1856.7l-8.4-.7 5.4-3.9 8.4.7zM469 1852.8l-8.4-.7 5.3-3.6 8.4.6zM455.2 1856l-8.3-.8 5.3-3.8 8.4.7zM460.6 1852.1l-8.4-.7 5.3-3.6 8.4.7zM465.9 1848.5l-8.4-.7 5.3-3.4 8.4.7zM446.9 1855.2l-8.4-.8 5.3-3.8 8.4.8zM452.2 1851.4l-8.4-.8 5.3-3.6 8.4.8zM457.5 1847.8l-8.4-.8 5.3-3.4 8.4.8zM443.8 1850.6l-8.4-.9 5.3-3.6 8.4.9zM449.1 1847l-8.4-.9 5.4-3.3 8.3.8zM435.4 1849.7l-8.4-1 5.3-3.6 8.4 1zM440.7 1846.1l-8.4-1 5.4-3.3 8.4 1zM427 1848.7l-8.4-1.1 5.3-3.6 8.4 1.1zM432.3 1845.1l-8.4-1.1 5.4-3.3 8.4 1.1zM418.6 1847.6l-8.4-1.1 5.4-3.6 8.3 1.1zM423.9 1844l-8.3-1.1 5.3-3.3 8.4 1.1zM410.2 1846.5l-8.4-1.2 5.4-3.5 8.4 1.1zM415.6 1842.9l-8.4-1.1 5.3-3.4 8.4 1.2zM401.8 1845.3l-8.4-1.1 5.4-3.6 8.4 1.2zM407.2 1841.8l-8.4-1.2 5.3-3.3 8.4 1.1z"/><path fill="#ffb92a" stroke="#8c6517" d="M662.2 1969.5l-8.4-.8 5.3-6.4 8.4.8zM653.8 1968.7l-8.4-.7 5.4-6.3 8.3.6zM645.4 1968l-8.4-.6 5.4-6.2 8.4.5zM637 1967.4l-8.4-.5 5.4-6.2 8.4.5zM628.6 1966.9l-8.3-.6 5.3-6.2 8.4.6zM575.2 1954.8l-8.4-.8 5.4-6 8.4.8zM566.8 1954l-8.4-.7 5.4-5.9 8.4.6zM558.4 1953.3l-8.3-.8 5.3-5.8 8.4.7zM550.1 1952.5l-8.4-.8 5.3-5.8 8.4.8zM541.7 1951.7l-8.4-1 5.3-5.6 8.4.8zM533.3 1950.7l-8.4-1.1 5.3-5.4 8.4.9zM524.9 1949.6l-8.4-1 5.3-5.4 8.4 1zM516.5 1948.6l-8.4-1 5.3-5.3 8.4.9zM508.1 1947.6l-8.4-.8 5.3-5.3 8.4.8zM496.6 1940.7l-8.3-.7 5.3-5.6 8.4.7zM488.3 1940l-8.4-.6 5.3-5.6 8.4.6zM479.9 1939.4l-8.4-.5 5.3-5.7 8.4.6zM471.5 1938.9l-8.4-.5 5.3-5.6 8.4.4zM463.1 1938.4l-8.4-.3 5.3-5.7 8.4.4zM451.6 1932.1l-8.4-.2 5.4-5.9 8.4.3zM443.2 1931.9l-8.4-.2 5.4-6 8.4.3zM434.8 1931.7l-8.3-.3 5.3-6 8.4.3zM426.5 1931.4l-8.4-.3 5.3-6.2 8.4.5zM406.6 1923.7l-8.4-.8 5.3-6.2 8.4.8zM398.2 1922.9l-8.4-.9 5.4-6.1 8.3.8zM389.8 1922l-8.4-.9 5.4-6 8.4.8zM381.4 1921.1l-8.4-.9 5.4-5.9 8.4.8zM373 1920.2l-8.3-.9 5.3-5.8 8.4.8zM364.7 1919.3l-8.4-.8 5.3-5.8 8.4.8zM356.3 1918.5l-8.4-.9 5.3-5.6 8.4.7zM347.9 1917.6l-8.4-.8 5.3-5.6 8.4.8zM336.4 1910.4l-8.4-.7 5.4-5.3 8.3.7zM328 1909.7l-8.4-.9 5.4-5.2 8.4.8zM319.6 1908.8l-8.4-.9 5.4-5.2 8.4.9zM311.2 1907.9l-8.3-.9 5.3-5.2 8.4.9z"/><path fill="#ffbd28" stroke="#8c6716" d="M642.4 1961.2l-8.4-.5 5.3-6 8.4.5zM634 1960.7l-8.4-.6 5.3-6 8.4.6zM625.6 1960.1l-8.4-.6 5.3-6 8.4.6zM617.2 1959.5l-8.4-.8 5.3-6 8.4.8zM608.8 1958.7l-8.4-1 5.3-6 8.4 1zM600.4 1957.7l-8.4-1 5.3-6.1 8.4 1.1zM592 1956.7l-8.4-1 5.4-6 8.3.9zM583.6 1955.7l-8.4-.9 5.4-6 8.4.9zM563.8 1947.4l-8.4-.7 5.3-6.1 8.4.7zM555.4 1946.7l-8.4-.8 5.3-6 8.4.7zM547 1945.9l-8.4-.8 5.3-5.9 8.4.7zM538.6 1945.1l-8.4-.9 5.3-5.9 8.4.9zM530.2 1944.2l-8.4-1 5.4-5.7 8.3.8zM521.8 1943.2l-8.4-.9 5.4-5.6 8.4.8zM513.4 1942.3l-8.4-.8 5.4-5.6 8.4.8zM505 1941.5l-8.4-.8 5.4-5.6 8.4.8zM493.6 1934.4l-8.4-.6 5.3-5.6 8.4.6zM485.2 1933.8l-8.4-.6 5.3-5.6 8.4.6zM476.8 1933.2l-8.4-.4 5.3-5.7 8.4.5zM468.4 1932.8l-8.4-.4 5.3-5.7 8.4.4zM460 1932.4l-8.4-.3 5.4-5.8 8.3.4zM448.6 1926l-8.4-.3 5.3-6 8.4.4zM440.2 1925.7l-8.4-.3 5.3-6.1 8.4.4zM431.8 1925.4l-8.4-.5 5.3-6.1 8.4.5zM423.4 1924.9l-8.4-.5 5.3-6.2 8.4.6zM415 1924.4l-8.4-.7 5.3-6.2 8.4.7zM395.2 1915.9l-8.4-.8 5.3-5.8 8.4.8zM386.8 1915.1l-8.4-.8 5.3-5.7 8.4.7zM378.4 1914.3l-8.4-.8 5.3-5.6 8.4.7zM370 1913.5l-8.4-.8 5.3-5.5 8.4.7zM361.6 1912.7l-8.4-.7 5.3-5.5 8.4.7zM353.2 1912l-8.4-.8 5.3-5.4 8.4.7zM344.8 1911.2l-8.4-.8 5.3-5.3 8.4.7zM341.7 1905.1l-8.3-.7 5.3-5 8.4.7zM333.4 1904.4l-8.4-.8 5.3-4.9 8.4.7zM325 1903.6l-8.4-.9 5.3-4.8 8.4.8zM316.6 1902.7l-8.4-.9 5.3-4.9 8.4 1z"/><path fill="#ffc323" stroke="#8c6b13" d="M667.5 1963.1l-8.4-.8 5.4-6 8.4.7zM659.1 1962.3l-8.3-.6 5.3-6 8.4.6zM650.8 1961.7l-8.4-.5 5.3-6 8.4.5zM639.3 1954.7l-8.4-.6 5.3-5.8 8.4.6zM630.9 1954.1l-8.4-.6 5.3-5.9 8.4.7zM622.5 1953.5l-8.4-.8 5.4-5.9 8.3.8zM614.1 1952.7l-8.4-1 5.4-6 8.4 1.1zM605.7 1951.7l-8.4-1.1 5.4-5.9 8.4 1zM597.3 1950.6l-8.3-.9 5.3-6.1 8.4 1.1zM589 1949.7l-8.4-.9 5.3-6.1 8.4.9zM580.6 1948.8l-8.4-.8 5.3-6 8.4.7zM572.2 1948l-8.4-.6 5.3-6.1 8.4.7zM552.3 1939.9l-8.4-.7 5.4-6.1 8.4.7zM543.9 1939.2l-8.4-.9 5.4-6 8.4.8zM535.5 1938.3l-8.3-.8 5.3-5.9 8.4.7zM527.2 1937.5l-8.4-.8 5.3-5.9 8.4.8zM518.8 1936.7l-8.4-.8 5.3-5.8 8.4.7zM510.4 1935.9l-8.4-.8 5.3-5.7 8.4.7zM502 1935.1l-8.4-.7 5.3-5.6 8.4.6zM490.5 1928.2l-8.4-.6 5.4-5.5 8.4.5zM482.1 1927.6l-8.4-.5 5.4-5.6 8.4.6zM473.7 1927.1l-8.4-.4 5.4-5.7 8.4.5zM465.3 1926.7l-8.3-.4 5.3-5.7 8.4.4zM457 1926.3l-8.4-.3 5.3-5.9 8.4.5zM445.5 1919.7l-8.4-.4 5.3-5.9 8.4.6zM437.1 1919.3l-8.4-.5 5.4-6 8.3.6zM428.7 1918.8l-8.4-.6 5.4-6 8.4.6zM420.3 1918.2l-8.4-.7 5.4-6 8.4.7zM411.9 1917.5l-8.4-.8 5.4-5.9 8.4.7zM403.5 1916.7l-8.3-.8 5.3-5.8 8.4.7zM392.1 1909.3l-8.4-.7 5.3-5.3 8.4.7zM383.7 1908.6l-8.4-.7 5.3-5.2 8.4.6zM375.3 1907.9l-8.4-.7 5.3-5.1 8.4.6zM366.9 1907.2l-8.4-.7 5.4-5.1 8.3.7zM358.5 1906.5l-8.4-.7 5.4-5 8.4.6zM350.1 1905.8l-8.4-.7 5.4-5 8.4.7zM347.1 1900.1l-8.4-.7 5.3-4.4 8.4.6zM338.7 1899.4l-8.4-.7 5.3-4.5 8.4.8zM330.3 1898.7l-8.4-.8 5.3-4.5 8.4.8zM321.9 1897.9l-8.4-1 5.3-4.4 8.4.9z"/><path fill="#ffc91d" stroke="#8c6e0f" d="M672.9 1957l-8.4-.7 5.3-5.7 8.4.8zM664.5 1956.3l-8.4-.6 5.3-5.7 8.4.6zM656.1 1955.7l-8.4-.5 5.3-5.7 8.4.5zM647.7 1955.2l-8.4-.5 5.3-5.8 8.4.6zM636.2 1948.3l-8.4-.7 5.4-5.6 8.4.8zM627.8 1947.6l-8.3-.8 5.3-5.8 8.4 1zM619.5 1946.8l-8.4-1.1 5.3-5.8 8.4 1.1zM611.1 1945.7l-8.4-1 5.3-5.9 8.4 1.1zM602.7 1944.7l-8.4-1.1 5.3-5.9 8.4 1.1zM594.3 1943.6l-8.4-.9 5.3-6 8.4 1zM585.9 1942.7l-8.4-.7 5.3-6.1 8.4.8zM577.5 1942l-8.4-.7 5.3-6.1 8.4.7zM569.1 1941.3l-8.4-.7 5.3-6.1 8.4.7zM560.7 1940.6l-8.4-.7 5.4-6.1 8.3.7zM540.9 1932.3l-8.4-.7 5.3-5.9 8.4.6zM532.5 1931.6l-8.4-.8 5.3-5.8 8.4.7zM524.1 1930.8l-8.4-.7 5.3-5.7 8.4.6zM515.7 1930.1l-8.4-.7 5.3-5.6 8.4.6zM507.3 1929.4l-8.4-.6 5.3-5.6 8.4.6zM498.9 1928.8l-8.4-.6 5.4-5.6 8.3.6zM495.9 1922.6l-8.4-.5 5.3-5.3 8.4.5zM487.5 1922.1l-8.4-.6 5.3-5.3 8.4.6zM479.1 1921.5l-8.4-.5 5.3-5.4 8.4.6zM470.7 1921l-8.4-.4 5.3-5.6 8.4.6zM462.3 1920.6l-8.4-.5 5.3-5.6 8.4.5zM453.9 1920.1l-8.4-.4 5.3-5.7 8.4.5zM450.8 1914l-8.4-.6 5.4-5.4 8.4.6zM442.4 1913.4l-8.3-.6 5.3-5.5 8.4.7zM434.1 1912.8l-8.4-.6 5.3-5.5 8.4.6zM425.7 1912.2l-8.4-.7 5.3-5.5 8.4.7zM417.3 1911.5l-8.4-.7 5.3-5.5 8.4.7zM408.9 1910.8l-8.4-.7 5.3-5.4 8.4.6zM400.5 1910.1l-8.4-.8 5.3-5.3 8.4.7zM397.4 1904l-8.4-.7 5.4-4.6 8.4.6zM389 1903.3l-8.4-.6 5.4-4.6 8.4.6zM380.6 1902.7l-8.4-.6 5.4-4.6 8.4.6zM372.2 1902.1l-8.3-.7 5.3-4.5 8.4.6zM363.9 1901.4l-8.4-.6 5.3-4.5 8.4.6zM369.2 1896.9l-8.4-.6 5.3-3.9 8.4.6zM355.5 1900.8l-8.4-.7 5.3-4.5 8.4.7zM360.8 1896.3l-8.4-.7 5.3-3.8 8.4.6zM366.1 1892.4l-8.4-.6 5.4-3.3 8.4.6zM352.4 1895.6l-8.4-.6 5.3-3.9 8.4.7zM357.7 1891.8l-8.4-.7 5.4-3.3 8.4.7zM344 1895l-8.4-.8 5.3-3.8 8.4.7zM349.3 1891.1l-8.4-.7 5.4-3.4 8.4.8zM354.7 1887.8l-8.4-.8 5.3-3.1 8.4.9zM360 1884.8l-8.4-.9 5.3-2.8 8.4.9zM335.6 1894.2l-8.4-.8 5.4-3.9 8.3.9zM340.9 1890.4l-8.3-.9 5.3-3.4 8.4.9zM346.3 1887l-8.4-.9 5.3-3.1 8.4.9zM351.6 1883.9l-8.4-.9 5.3-2.8 8.4.9zM356.9 1881.1l-8.4-.9 5.4-2.8 8.4 1zM327.2 1893.4l-8.4-.9 5.4-3.9 8.4.9zM332.6 1889.5l-8.4-.9 5.3-3.4 8.4.9zM337.9 1886.1l-8.4-.9 5.3-3.1 8.4.9zM343.2 1883l-8.4-.9 5.4-2.9 8.3 1zM348.5 1880.2l-8.3-1 5.3-2.9 8.4 1.1z"/><path fill="#ffd019" stroke="#8c720d" d="M678.2 1951.4l-8.4-.8 5.3-5.3 8.4.9zM669.8 1950.6l-8.4-.6 5.3-5.4 8.4.7zM661.4 1950l-8.4-.5 5.3-5.5 8.4.6zM653 1949.5l-8.4-.6 5.4-5.5 8.3.6zM644.6 1948.9l-8.4-.6 5.4-5.5 8.4.6zM633.2 1942l-8.4-1 5.3-5.5 8.4 1zM624.8 1941l-8.4-1.1 5.3-5.6 8.4 1.2zM616.4 1939.9l-8.4-1.1 5.3-5.7 8.4 1.2zM608 1938.8l-8.4-1.1 5.3-5.8 8.4 1.2zM599.6 1937.7l-8.4-1 5.3-5.8 8.4 1zM591.2 1936.7l-8.4-.8 5.4-6 8.3 1zM582.8 1935.9l-8.4-.7 5.4-6.1 8.4.8zM574.4 1935.2l-8.4-.7 5.4-6.1 8.4.7zM566 1934.5l-8.3-.7 5.3-6.1 8.4.7zM557.7 1933.8l-8.4-.7 5.3-6.1 8.4.7zM549.3 1933.1l-8.4-.8 5.3-6 8.4.7zM537.8 1925.7l-8.4-.7 5.3-5.6 8.4.5zM529.4 1925l-8.4-.6 5.4-5.6 8.3.6zM521 1924.4l-8.4-.6 5.4-5.5 8.4.5zM512.6 1923.8l-8.4-.6 5.4-5.4 8.4.5zM504.2 1923.2l-8.3-.6 5.3-5.3 8.4.5zM492.8 1916.8l-8.4-.6 5.3-5 8.4.6zM484.4 1916.2l-8.4-.6 5.3-5 8.4.6zM476 1915.6l-8.4-.6 5.3-5.1 8.4.7zM467.6 1915l-8.4-.5 5.4-5.2 8.3.6zM459.2 1914.5l-8.4-.5 5.4-5.4 8.4.7zM456.2 1908.6l-8.4-.6 5.3-4.8 8.4.7zM447.8 1908l-8.4-.7 5.3-4.8 8.4.7zM439.4 1907.3l-8.4-.6 5.3-4.9 8.4.7zM431 1906.7l-8.4-.7 5.3-4.8 8.4.6zM422.6 1906l-8.4-.7 5.3-4.7 8.4.6zM414.2 1905.3l-8.4-.6 5.3-4.8 8.4.7zM419.5 1900.6l-8.4-.7 5.4-3.9 8.4.6zM405.8 1904.7l-8.4-.7 5.4-4.7 8.3.6zM411.1 1899.9l-8.3-.6 5.3-3.9 8.4.6zM402.8 1899.3l-8.4-.6 5.3-3.9 8.4.6zM408.1 1895.4l-8.4-.6 5.3-3.2 8.4.6zM413.4 1892.2l-8.4-.6 5.3-2.7 8.4.6zM418.7 1889.5l-8.4-.6 5.4-2.5 8.4.7zM424.1 1887.1l-8.4-.7 5.3-2.3 8.4.7zM429.4 1884.8l-8.4-.7 5.3-2.4 8.4.7zM434.7 1882.4l-8.4-.7 5.4-2.8 8.4.8zM394.4 1898.7l-8.4-.6 5.3-3.9 8.4.6zM399.7 1894.8l-8.4-.6 5.3-3.2 8.4.6zM405 1891.6l-8.4-.6 5.4-2.8 8.3.7zM410.3 1888.9l-8.3-.7 5.3-2.4 8.4.6zM415.7 1886.4l-8.4-.6 5.3-2.4 8.4.7zM421 1884.1l-8.4-.7 5.3-2.5 8.4.8zM426.3 1881.7l-8.4-.8 5.4-2.8 8.4.8zM431.7 1878.9l-8.4-.8 5.3-3.1 8.4.8zM386 1898.1l-8.4-.6 5.3-3.9 8.4.6zM391.3 1894.2l-8.4-.6 5.3-3.2 8.4.6zM396.6 1891l-8.4-.6 5.4-2.8 8.4.6zM402 1888.2l-8.4-.6 5.3-2.5 8.4.7zM407.3 1885.8l-8.4-.7 5.3-2.5 8.4.8zM412.6 1883.4l-8.4-.8 5.4-2.5 8.3.8zM417.9 1880.9l-8.3-.8 5.3-2.8 8.4.8zM423.3 1878.1l-8.4-.8 5.3-3.1 8.4.8zM428.6 1875l-8.4-.8 5.3-3.5 8.4.8zM377.6 1897.5l-8.4-.6 5.3-3.9 8.4.6zM382.9 1893.6l-8.4-.6 5.3-3.2 8.4.6zM388.2 1890.4l-8.4-.6 5.4-2.9 8.4.7zM393.6 1887.6l-8.4-.7 5.3-2.5 8.4.7zM398.9 1885.1l-8.4-.7 5.3-2.5 8.4.7zM404.2 1882.6l-8.4-.7 5.4-2.6 8.4.8zM409.6 1880.1l-8.4-.8 5.3-2.9 8.4.9zM414.9 1877.3l-8.4-.9 5.3-3.1 8.4.9zM420.2 1874.2l-8.4-.9 5.3-3.5 8.4.9zM374.5 1893l-8.4-.6 5.4-3.3 8.3.7zM379.8 1889.8l-8.3-.7 5.3-2.8 8.4.6zM385.2 1886.9l-8.4-.6 5.3-2.7 8.4.8zM390.5 1884.4l-8.4-.8 5.3-2.6 8.4.9zM395.8 1881.9l-8.4-.9 5.4-2.6 8.4.9zM401.2 1879.3l-8.4-.9 5.3-2.9 8.4.9zM406.5 1876.4l-8.4-.9 5.3-3.2 8.4 1zM411.8 1873.3l-8.4-1 5.4-3.5 8.3 1zM417.1 1869.8l-8.3-1 5.3-3.7 8.4 1zM371.5 1889.1l-8.4-.6 5.3-3 8.4.8zM376.8 1886.3l-8.4-.8 5.3-2.7 8.4.8zM382.1 1883.6l-8.4-.8 5.3-2.6 8.4.8zM387.4 1881l-8.4-.8 5.4-2.7 8.4.9zM392.8 1878.4l-8.4-.9 5.3-2.9 8.4.9zM398.1 1875.5l-8.4-.9 5.3-3.3 8.4 1zM403.4 1872.3l-8.4-1 5.4-3.5 8.4 1zM408.8 1868.8l-8.4-1 5.3-3.7 8.4 1zM363.1 1888.5l-8.4-.7 5.3-3 8.4.7zM368.4 1885.5l-8.4-.7 5.3-2.8 8.4.8zM373.7 1882.8l-8.4-.8 5.4-2.7 8.3.9zM379 1880.2l-8.3-.9 5.3-2.8 8.4 1zM384.4 1877.5l-8.4-1 5.3-2.9 8.4 1zM389.7 1874.6l-8.4-1 5.3-3.3 8.4 1zM395 1871.3l-8.4-1 5.4-3.6 8.4 1.1zM400.4 1867.8l-8.4-1.1 5.3-3.7 8.4 1.1zM405.7 1864.1l-8.4-1.1 5.3-3.9 8.4 1.1zM365.3 1882l-8.4-.9 5.4-2.7 8.4.9zM370.7 1879.3l-8.4-.9 5.3-2.9 8.4 1zM376 1876.5l-8.4-1 5.3-3 8.4 1.1zM381.3 1873.6l-8.4-1.1 5.4-3.3 8.3 1.1zM386.6 1870.3l-8.3-1.1 5.3-3.6 8.4 1.1zM392 1866.7l-8.4-1.1 5.3-3.7 8.4 1.1zM397.3 1863l-8.4-1.1 5.3-3.9 8.4 1.1zM362.3 1878.4l-8.4-1 5.3-2.9 8.4 1zM367.6 1875.5l-8.4-1 5.3-3.1 8.4 1.1zM372.9 1872.5l-8.4-1.1 5.4-3.3 8.4 1.1zM378.3 1869.2l-8.4-1.1 5.3-3.6 8.4 1.1zM383.6 1865.6l-8.4-1.1 5.3-3.8 8.4 1.2zM388.9 1861.9l-8.4-1.2 5.3-3.9 8.4 1.2zM353.9 1877.4l-8.4-1.1 5.3-2.9 8.4 1.1zM359.2 1874.5l-8.4-1.1 5.3-3.1 8.4 1.1zM364.5 1871.4l-8.4-1.1 5.4-3.4 8.4 1.2zM369.9 1868.1l-8.4-1.2 5.3-3.6 8.4 1.2zM375.2 1864.5l-8.4-1.2 5.3-3.8 8.4 1.2zM380.5 1860.7l-8.4-1.2 5.4-3.8 8.3 1.1z"/><path fill="#ffd715" stroke="#8c760b" d="M683.5 1946.2l-8.4-.9 5.4-5 8.4 1zM675.1 1945.3l-8.4-.7 5.4-5 8.4.7zM666.7 1944.6l-8.4-.6 5.4-5.2 8.4.8zM658.3 1944l-8.3-.6 5.3-5.3 8.4.7zM650 1943.4l-8.4-.6 5.3-5.4 8.4.7zM641.6 1942.8l-8.4-.8 5.3-5.5 8.4.9zM613.3 1933.1l-8.4-1.2 5.4-5.5 8.4 1.2zM604.9 1931.9l-8.4-1 5.4-5.6 8.4 1.1zM596.5 1930.9l-8.3-1 5.3-5.6 8.4 1zM588.2 1929.9l-8.4-.8 5.3-5.7 8.4.9zM579.8 1929.1l-8.4-.7 5.3-5.8 8.4.8zM571.4 1928.4l-8.4-.7 5.3-5.9 8.4.8zM563 1927.7l-8.4-.7 5.3-5.9 8.4.7zM554.6 1927l-8.4-.7 5.3-5.8 8.4.6zM546.2 1926.3l-8.4-.6 5.3-5.8 8.4.6zM534.7 1919.4l-8.3-.6 5.3-5.2 8.4.5zM526.4 1918.8l-8.4-.5 5.3-5.1 8.4.4zM518 1918.3l-8.4-.5 5.3-5 8.4.4zM509.6 1917.8l-8.4-.5 5.3-5 8.4.5zM501.2 1917.3l-8.4-.5 5.3-5 8.4.5zM506.5 1912.3l-8.4-.5 5.3-4.5 8.4.5zM498.1 1911.8l-8.4-.6 5.4-4.5 8.3.6zM489.7 1911.2l-8.4-.6 5.4-4.5 8.4.6zM481.3 1910.6l-8.4-.7 5.4-4.5 8.4.7zM472.9 1909.9l-8.3-.6 5.3-4.6 8.4.7zM478.3 1905.4l-8.4-.7 5.3-4 8.4.8zM464.6 1909.3l-8.4-.7 5.3-4.7 8.4.8zM469.9 1904.7l-8.4-.8 5.3-3.9 8.4.7zM461.5 1903.9l-8.4-.7 5.3-3.9 8.4.7zM466.8 1900l-8.4-.7 5.4-3.3 8.3.7zM453.1 1903.2l-8.4-.7 5.3-3.9 8.4.7zM458.4 1899.3l-8.4-.7 5.4-3.3 8.4.7zM463.8 1896l-8.4-.7 5.3-2.6 8.4.6zM469.1 1893.3l-8.4-.6 5.3-2.4 8.4.6zM474.4 1890.9l-8.4-.6 5.4-2.2 8.3.5zM479.7 1888.6l-8.3-.5 5.3-2.3 8.4.4zM485.1 1886.2l-8.4-.4 5.3-2.6 8.4.4zM490.4 1883.6l-8.4-.4 5.3-3.1 8.4.5zM444.7 1902.5l-8.4-.7 5.3-3.9 8.4.7zM450 1898.6l-8.4-.7 5.4-3.2 8.4.6zM455.4 1895.3l-8.4-.6 5.3-2.7 8.4.7zM460.7 1892.7l-8.4-.7 5.3-2.3 8.4.6zM466 1890.3l-8.4-.6 5.4-2.2 8.4.6zM471.4 1888.1l-8.4-.6 5.3-2.3 8.4.6zM476.7 1885.8l-8.4-.6 5.3-2.6 8.4.6zM482 1883.2l-8.4-.6 5.3-3 8.4.5zM487.3 1880.1l-8.4-.5 5.4-3.5 8.4.6zM436.3 1901.8l-8.4-.6 5.4-4 8.3.7zM441.6 1897.9l-8.3-.7 5.3-3.2 8.4.7zM447 1894.7l-8.4-.7 5.3-2.6 8.4.6zM452.3 1892l-8.4-.6 5.3-2.3 8.4.6zM457.6 1889.7l-8.4-.6 5.4-2.2 8.4.6zM463 1887.5l-8.4-.6 5.3-2.3 8.4.6zM468.3 1885.2l-8.4-.6 5.3-2.6 8.4.6zM473.6 1882.6l-8.4-.6 5.4-3.1 8.3.7zM478.9 1879.6l-8.3-.7 5.3-3.4 8.4.6zM484.3 1876.1l-8.4-.6 5.3-3.8 8.4.7zM427.9 1901.2l-8.4-.6 5.4-4 8.4.6zM433.3 1897.2l-8.4-.6 5.3-3.2 8.4.6zM438.6 1894l-8.4-.6 5.3-2.6 8.4.6zM443.9 1891.4l-8.4-.6 5.3-2.4 8.4.7zM449.2 1889.1l-8.4-.7 5.4-2.2 8.4.7zM454.6 1886.9l-8.4-.7 5.3-2.3 8.4.7zM459.9 1884.6l-8.4-.7 5.3-2.7 8.4.8zM465.2 1882l-8.4-.8 5.4-3 8.4.7zM470.6 1878.9l-8.4-.7 5.3-3.5 8.4.8zM475.9 1875.5l-8.4-.8 5.3-3.7 8.4.7zM481.2 1871.7l-8.4-.7 5.4-4 8.3.8zM424.9 1896.6l-8.4-.6 5.3-3.2 8.4.6zM430.2 1893.4l-8.4-.6 5.3-2.7 8.4.7zM435.5 1890.8l-8.4-.7 5.4-2.3 8.3.6zM440.8 1888.4l-8.3-.6 5.3-2.3 8.4.7zM446.2 1886.2l-8.4-.7 5.3-2.3 8.4.7zM451.5 1883.9l-8.4-.7 5.3-2.7 8.4.7zM456.8 1881.2l-8.4-.7 5.4-3.1 8.4.8zM462.2 1878.2l-8.4-.8 5.3-3.5 8.4.8zM467.5 1874.7l-8.4-.8 5.3-3.7 8.4.8zM472.8 1871l-8.4-.8 5.4-4 8.4.8zM416.5 1896l-8.4-.6 5.3-3.2 8.4.6zM421.8 1892.8l-8.4-.6 5.3-2.7 8.4.6zM427.1 1890.1l-8.4-.6 5.4-2.4 8.4.7zM432.5 1887.8l-8.4-.7 5.3-2.3 8.4.7zM437.8 1885.5l-8.4-.7 5.3-2.4 8.4.8zM443.1 1883.2l-8.4-.8 5.4-2.7 8.3.8zM448.4 1880.5l-8.3-.8 5.3-3.1 8.4.8zM453.8 1877.4l-8.4-.8 5.3-3.5 8.4.8zM459.1 1873.9l-8.4-.8 5.3-3.7 8.4.8zM464.4 1870.2l-8.4-.8 5.4-3.9 8.4.7zM469.8 1866.2l-8.4-.7 5.3-4.1 8.4.8zM440.1 1879.7l-8.4-.8 5.3-3.1 8.4.8zM445.4 1876.6l-8.4-.8 5.3-3.5 8.4.8zM450.7 1873.1l-8.4-.8 5.3-3.7 8.4.8zM456 1869.4l-8.4-.8 5.4-3.9 8.4.8zM461.4 1865.5l-8.4-.8 5.3-4 8.4.7zM437 1875.8l-8.4-.8 5.3-3.5 8.4.8zM442.3 1872.3l-8.4-.8 5.4-3.7 8.3.8zM447.6 1868.6l-8.3-.8 5.3-3.9 8.4.8zM453 1864.7l-8.4-.8 5.3-3.9 8.4.7zM458.3 1860.7l-8.4-.7 5.3-4 8.4.7zM433.9 1871.5l-8.4-.8 5.4-3.7 8.4.8zM439.3 1867.8l-8.4-.8 5.3-3.9 8.4.8zM444.6 1863.9l-8.4-.8 5.3-3.9 8.4.8zM449.9 1860l-8.4-.8 5.4-4 8.3.8zM425.5 1870.7l-8.4-.9 5.4-3.7 8.4.9zM430.9 1867l-8.4-.9 5.3-3.9 8.4.9zM436.2 1863.1l-8.4-.9 5.3-3.9 8.4.9zM441.5 1859.2l-8.4-.9 5.4-3.9 8.4.8zM422.5 1866.1l-8.4-1 5.3-3.8 8.4.9zM427.8 1862.2l-8.4-.9 5.3-3.9 8.4.9zM433.1 1858.3l-8.4-.9 5.4-3.9 8.4.9zM438.5 1854.4l-8.4-.9 5.3-3.8 8.4.9zM414.1 1865.1l-8.4-1 5.3-3.9 8.4 1.1zM419.4 1861.3l-8.4-1.1 5.3-3.9 8.4 1.1zM424.7 1857.4l-8.4-1.1 5.4-3.8 8.4 1zM430.1 1853.5l-8.4-1 5.3-3.8 8.4 1zM411 1860.2l-8.4-1.1 5.4-3.9 8.3 1.1zM416.3 1856.3l-8.3-1.1 5.3-3.8 8.4 1.1zM421.7 1852.5l-8.4-1.1 5.3-3.8 8.4 1.1zM402.6 1859.1l-8.4-1.1 5.4-3.9 8.4 1.1zM408 1855.2l-8.4-1.1 5.3-3.9 8.4 1.2zM413.3 1851.4l-8.4-1.2 5.3-3.7 8.4 1.1zM394.2 1858l-8.4-1.2 5.4-3.9 8.4 1.2zM399.6 1854.1l-8.4-1.2 5.3-3.8 8.4 1.1zM404.9 1850.2l-8.4-1.1 5.3-3.8 8.4 1.2zM385.8 1856.8l-8.3-1.1 5.3-3.9 8.4 1.1zM391.2 1852.9l-8.4-1.1 5.3-3.9 8.4 1.2zM396.5 1849.1l-8.4-1.2 5.3-3.7 8.4 1.1z"/></g><path d="M156 2057.1h0M191.1 2065.9h0M226.3 2076.6h0M261.4 2084.7h0M296.6 2097.1h0M331.7 2110.6h0M366.9 2124.9h0M402 2140.4h0M437.2 2151.1h0M472.4 2166.6h0M507.5 2178.8h0M192.1 2028.8h0M227.2 2034.5h0M262.4 2042.9h0M297.5 2050.4h0M332.7 2058.7h0M367.8 2068.1h0M403 2081.5h0M438.1 2090.6h0M473.3 2098.7h0M508.5 2109.8h0M543.6 2123.9h0M228.2 1993.4h0M263.3 1998.7h0M298.5 2004h0M333.6 2010.2h0M368.8 2012.8h0M403.9 2018.8h0M439.1 2026.5h0M474.2 2033.7h0M509.4 2040h0M544.6 2046h0M579.7 2051.9h0M264.3 1960.2h0M299.4 1963.7h0M334.6 1968h0M369.7 1969.7h0M404.9 1975.4h0M440 1978.4h0M475.2 1977.2h0M510.3 1986h0M545.5 1994.2h0M580.7 1999.6h0M615.8 2004h0M300.4 1929h0M335.5 1932.6h0M370.7 1937.2h0M405.8 1941.1h0M441 1941.4h0M476.1 1942.7h0M511.3 1945.8h0M546.4 1950.5h0M581.6 1952.8h0M616.8 1958h0M651.9 1958.8h0M336.5 1894.4h0M371.6 1896.5h0M406.8 1899.1h0M441.9 1901.7h0M477.1 1904.8h0M512.2 1907.7h0M547.4 1908.7h0M582.5 1910.8h0M617.7 1915.2h0M652.9 1920.9h0M688 1925h0M372.6 1873.2h0M407.7 1877.1h0M442.9 1880.4h0M478 1883.6h0M513.2 1884.9h0M548.3 1886.7h0M583.5 1888.7h0M618.6 1891.1h0M653.8 1893.9h0M689 1895h0M724.1 1901h0M408.7 1848h0M443.8 1852.4h0M479 1855h0M514.1 1858.4h0M549.3 1861h0M584.4 1865.4h0M619.6 1869.1h0M654.7 1873.7h0M689.9 1877.1h0M725.1 1881.5h0M760.2 1885.9h0" stroke="#000" stroke-width="4.8" stroke-linecap="round"/><path d="M127 2134.8L513 2195.3L790.1 2110.3" stroke="#262626" stroke-width="1.1" fill="none"/><path d="M144.1 2137.5L135.9 2140M231.9 2151.2L223.8 2153.7M319.8 2165L311.7 2167.5M407.7 2178.8L399.6 2181.3M495.6 2192.6L487.5 2195.1M524.9 2191.6L533.3 2193M597.1 2169.5L605.5 2170.8M669.3 2147.4L677.7 2148.7M741.5 2125.2L749.9 2126.5M127 2098.3L118.6 2097M127 2034.7L118.6 2033.4M127 1971.1L118.6 1969.8M127 1907.5L118.6 1906.2" stroke="#262626" stroke-width="1.1" fill="none"/><g font-size="20"><text x="123.1" y="2165.6" text-anchor="end">0.2</text><text x="210.9" y="2179.3" text-anchor="end">0.15</text><text x="298.8" y="2193.1" text-anchor="end">0.1</text><text x="386.7" y="2206.9" text-anchor="end">0.05</text><text x="474.6" y="2220.7" text-anchor="end">0</text><text x="539.4" y="2219.2">12</text><text x="611.6" y="2197.1">10</text><text x="683.8" y="2175">8</text><text x="756" y="2152.8">6</text><text x="107.5" y="2105.4" text-anchor="end">0.4</text><text x="107.5" y="2041.8" text-anchor="end">0.6</text><text x="107.5" y="1978.2" text-anchor="end">0.8</text><text x="107.5" y="1914.6" text-anchor="end">1</text></g><g font-size="22"><text transform="translate(68.6 2018.5) rotate(-90)" text-anchor="middle">Reliability</text><text transform="translate(265 2236) rotate(8.91)" text-anchor="middle">Coefficient of vehicle parameters</text><text transform="translate(680 2217) rotate(-17.05)" text-anchor="middle">Foundation settling /(mm)</text></g><g font-family="Liberation Serif, serif" font-size="38" fill="#000" transform="translate(0 2344)"><text x="359.1">(</text><text x="371.4" textLength="20.5" lengthAdjust="spacingAndGlyphs" font-weight="bold">e</text><text x="390.8" textLength="12.3" lengthAdjust="spacingAndGlyphs">)</text><text x="413" textLength="57.3" lengthAdjust="spacingAndGlyphs">450</text><text x="479.4" textLength="89.5" lengthAdjust="spacingAndGlyphs">km/h</text></g></g>
</svg></body></html>
